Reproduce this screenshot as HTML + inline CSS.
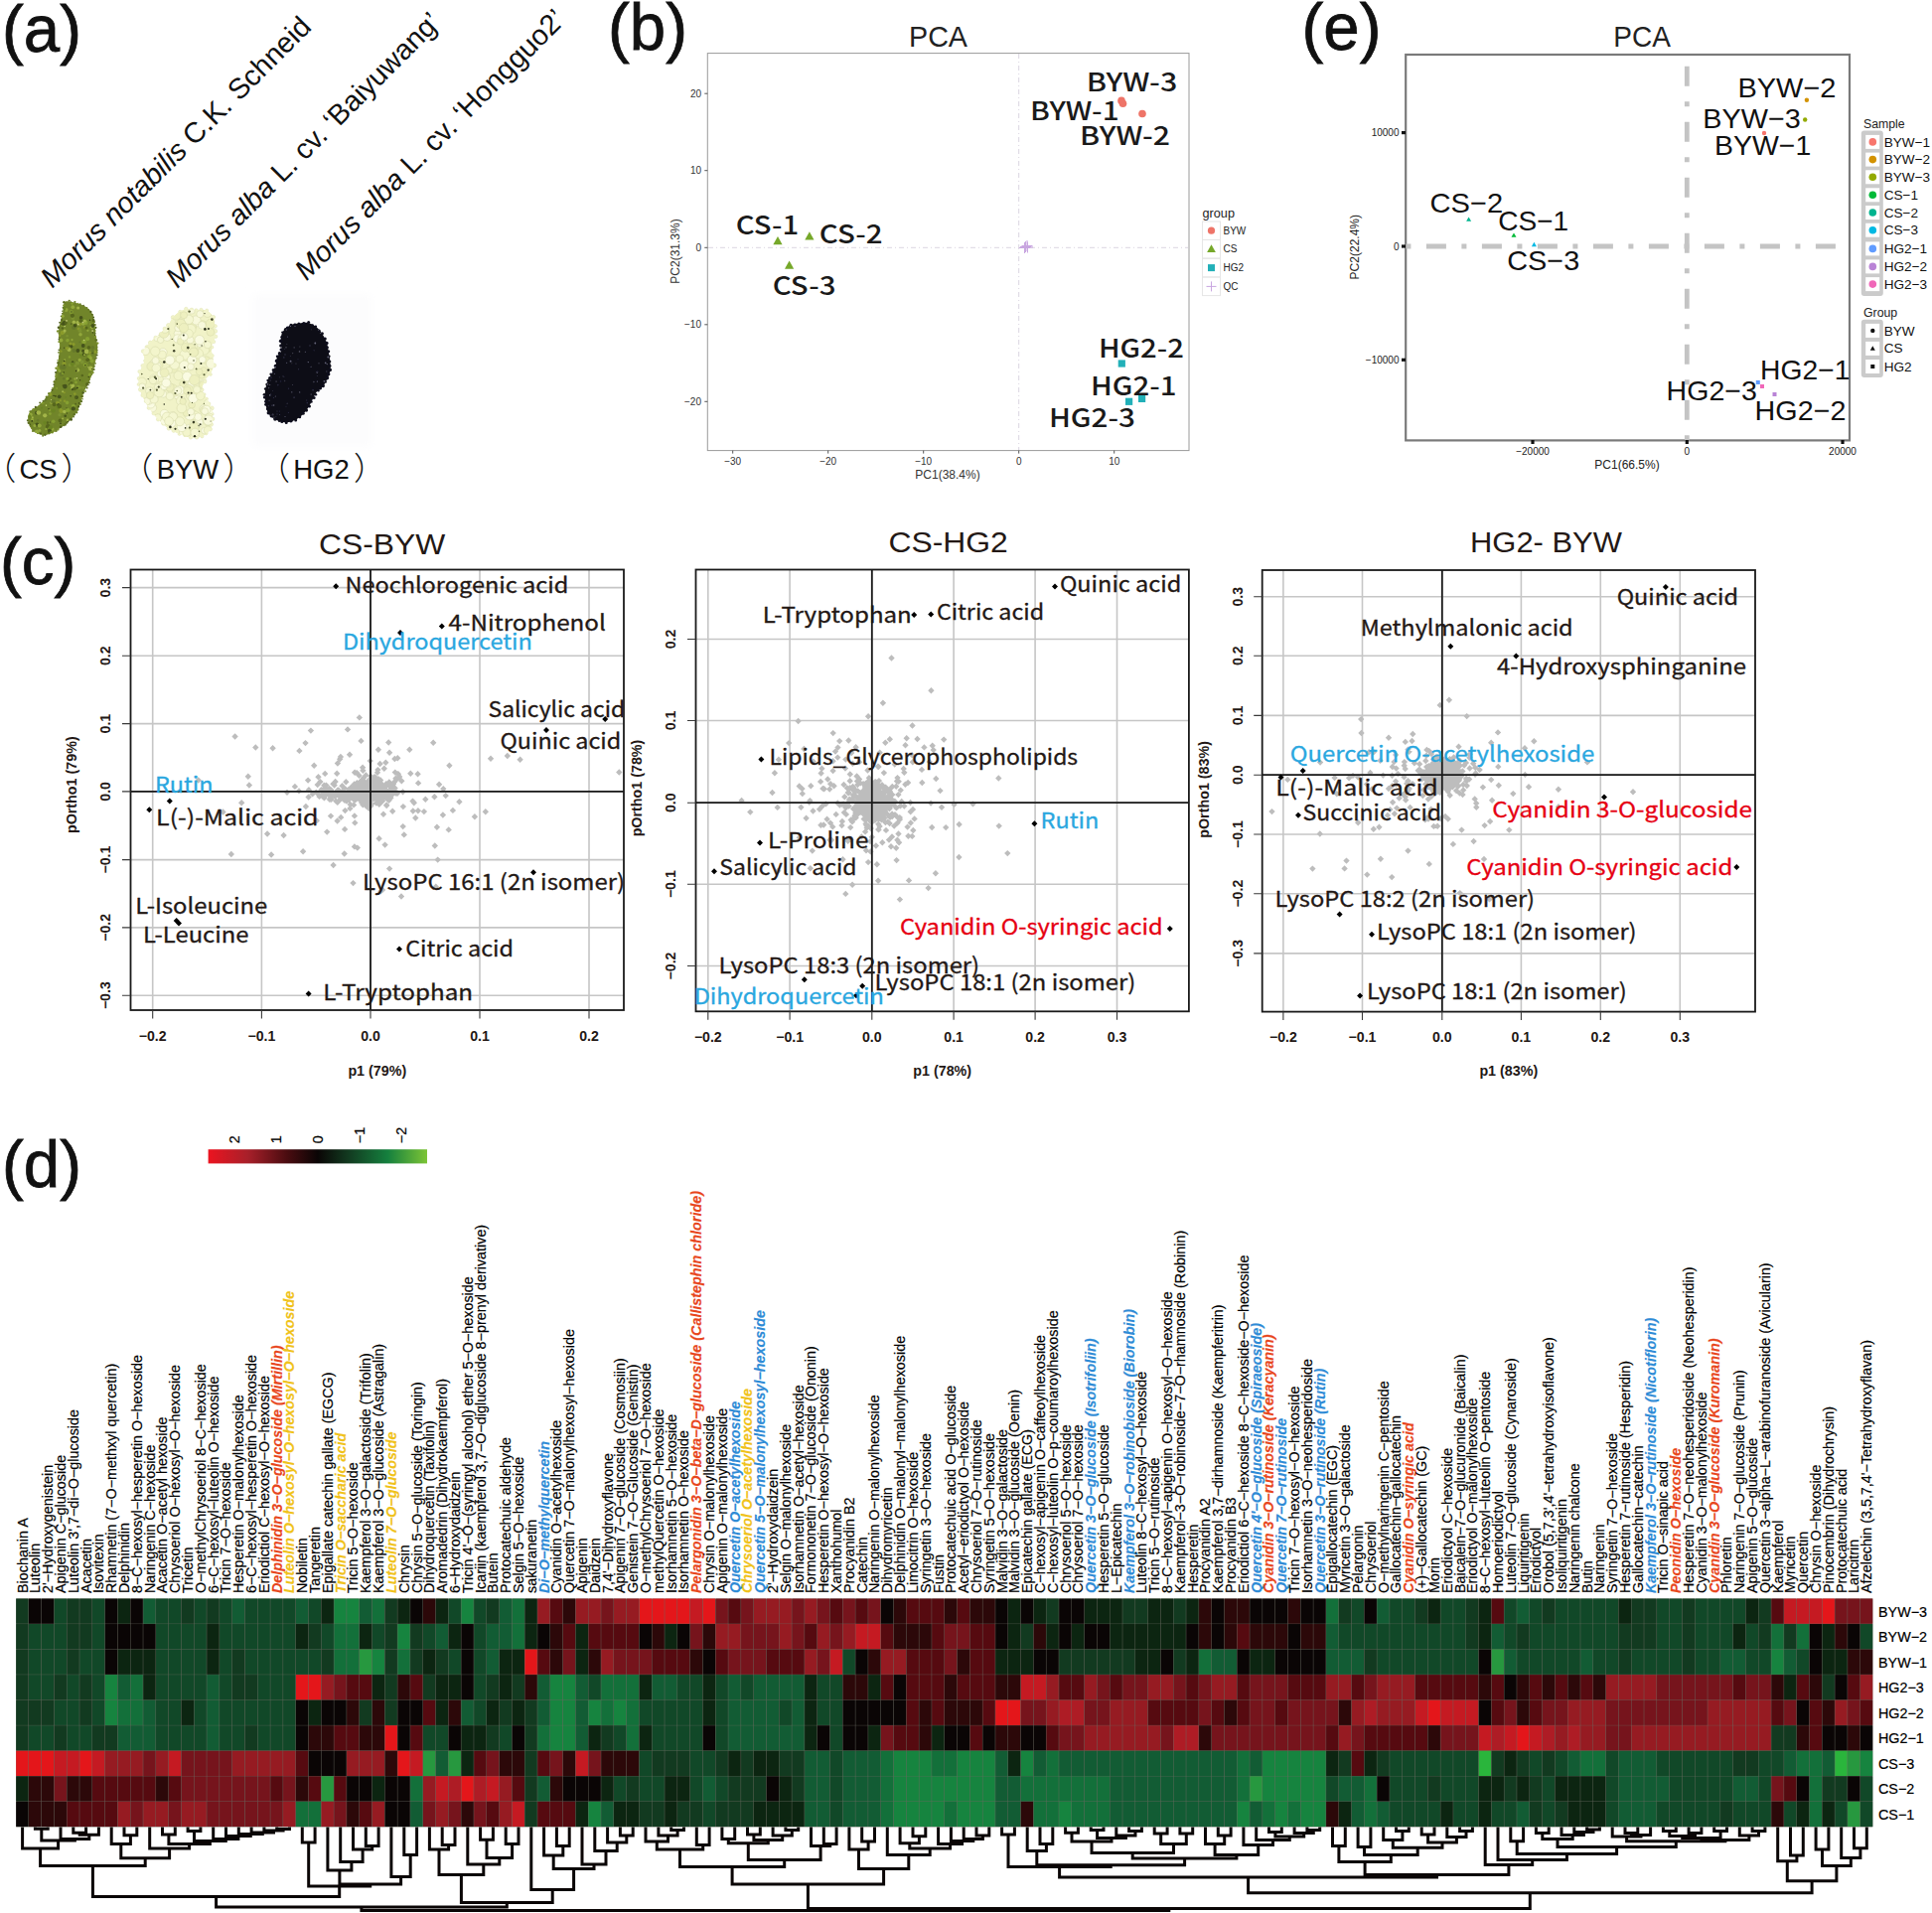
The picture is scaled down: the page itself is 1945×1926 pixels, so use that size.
<!DOCTYPE html><html><head><meta charset="utf-8"><title>Figure</title><style>html,body{margin:0;padding:0;background:#fff}svg{display:block}</style></head><body><svg width="1945" height="1926" viewBox="0 0 1945 1926"><rect width="1945" height="1926" fill="#fff"/><text transform="translate(2,52) scale(1.09,1.12)" font-family="'Liberation Sans', sans-serif" font-size="60" fill="#111" stroke="#111" stroke-width="0.7">(a)</text>
<text transform="translate(612,49.5) scale(1.09,1.12)" font-family="'Liberation Sans', sans-serif" font-size="60" fill="#111" stroke="#111" stroke-width="0.7">(b)</text>
<text transform="translate(1310.5,49.5) scale(1.09,1.12)" font-family="'Liberation Sans', sans-serif" font-size="60" fill="#111" stroke="#111" stroke-width="0.7">(e)</text>
<text transform="translate(0,588) scale(1.09,1.12)" font-family="'Liberation Sans', sans-serif" font-size="60" fill="#111" stroke="#111" stroke-width="0.7">(c)</text>
<text transform="translate(2,1195) scale(1.09,1.12)" font-family="'Liberation Sans', sans-serif" font-size="60" fill="#111" stroke="#111" stroke-width="0.7">(d)</text>
<text transform="translate(52.5,291) rotate(-45)" font-family="'Liberation Sans', sans-serif" font-size="28.9" fill="#111"><tspan font-style="italic">Morus notabilis</tspan><tspan font-style="normal"> C.K. Schneid</tspan></text>
<text transform="translate(178.5,291) rotate(-45)" font-family="'Liberation Sans', sans-serif" font-size="28.7" fill="#111"><tspan font-style="italic">Morus alba</tspan><tspan font-style="normal"> L. cv. ‘Baiyuwang’</tspan></text>
<text transform="translate(308.5,283.5) rotate(-45)" font-family="'Liberation Sans', sans-serif" font-size="28.8" fill="#111"><tspan font-style="italic">Morus alba</tspan><tspan font-style="normal"> L. cv. ‘Hongguo2’</tspan></text>
<defs><clipPath id="cpcs"><path d="M64.7,304.8C65.6,303.2 66.9,303.3 69.2,303.4C71.5,303.5 75.3,304.4 78.3,305.4C81.4,306.4 85.0,307.6 87.4,309.4C89.9,311.2 91.8,313.2 93.1,316.2C94.5,319.2 94.9,323.8 95.4,327.6C96.0,331.4 96.1,335.4 96.6,339.0C97.0,342.6 98.3,345.6 98.3,349.2C98.3,352.8 97.2,356.8 96.6,360.6C95.9,364.4 95.4,368.0 94.3,372.0C93.1,376.0 91.4,380.5 89.7,384.5C88.0,388.5 85.6,392.1 84.0,395.9C82.5,399.7 82.3,403.3 80.6,407.3C78.9,411.3 76.6,416.2 73.8,419.8C70.9,423.4 67.1,426.3 63.5,429.0C59.9,431.6 55.6,434.3 52.1,435.8C48.7,437.3 46.3,438.4 43.0,438.1C39.8,437.7 35.2,436.0 32.8,433.5C30.3,431.0 28.6,426.5 28.2,423.3C27.8,420.0 28.8,416.6 30.5,414.1C32.2,411.7 35.6,410.9 38.5,408.5C41.3,406.0 44.9,402.8 47.6,399.3C50.2,395.9 52.9,392.1 54.4,387.9C55.9,383.8 55.9,378.8 56.7,374.3C57.5,369.7 58.4,365.2 59.0,360.6C59.5,356.1 60.1,351.5 60.1,346.9C60.1,342.4 58.8,337.5 59.0,333.3C59.2,329.1 60.5,325.3 61.3,321.9C62.0,318.5 63.0,315.6 63.5,312.8C64.1,309.9 63.7,306.4 64.7,304.8Z"/></clipPath><clipPath id="cpby"><path d="M187.7,311.6C190.5,311.4 194.5,312.0 197.9,312.2C201.3,312.4 205.3,311.5 208.2,312.8C211.0,314.0 213.7,317.0 215.0,319.6C216.3,322.3 215.9,325.5 216.2,328.7C216.4,332.0 217.3,335.6 216.7,339.0C216.2,342.4 213.2,346.0 212.7,349.2C212.3,352.5 213.5,355.3 213.9,358.3C214.3,361.4 215.4,364.4 215.0,367.4C214.6,370.5 213.1,373.9 211.6,376.6C210.1,379.2 207.2,380.7 205.9,383.4C204.6,386.1 203.2,389.5 203.6,392.5C204.0,395.5 206.7,398.6 208.2,401.6C209.7,404.7 211.8,407.3 212.7,410.7C213.7,414.1 214.1,418.5 213.9,422.1C213.7,425.7 213.3,429.5 211.6,432.4C209.9,435.2 206.8,437.9 203.6,439.2C200.4,440.5 196.0,440.7 192.2,440.3C188.4,440.0 184.6,438.4 180.8,436.9C177.0,435.4 173.1,433.7 169.5,431.2C165.8,428.8 162.4,425.5 159.2,422.1C156.0,418.7 152.7,414.7 150.1,410.7C147.4,406.7 145.0,402.2 143.3,398.2C141.5,394.2 140.2,390.8 139.8,386.8C139.5,382.8 140.0,378.3 141.0,374.3C141.9,370.3 145.0,366.3 145.5,362.9C146.1,359.5 143.4,356.8 144.4,353.8C145.3,350.7 148.4,347.7 151.2,344.7C154.1,341.6 158.4,338.4 161.5,335.6C164.5,332.7 167.4,330.2 169.5,327.6C171.5,324.9 172.1,321.9 174.0,319.6C175.9,317.3 178.6,315.2 180.8,313.9C183.1,312.6 184.8,311.9 187.7,311.6Z"/></clipPath><clipPath id="cphg"><path d="M292.4,327.3C295.3,325.9 298.4,325.9 301.3,325.6C304.3,325.2 307.4,324.5 310.2,325.1C313.0,325.7 315.9,327.3 318.2,329.1C320.6,331.0 322.7,333.6 324.4,336.2C326.2,338.9 327.9,342.1 328.9,345.1C329.9,348.1 330.1,350.9 330.7,354.0C331.3,357.1 332.1,360.7 332.4,363.8C332.7,366.9 332.9,369.9 332.4,372.7C332.0,375.5 331.0,378.0 329.8,380.7C328.6,383.3 327.0,386.6 325.3,388.7C323.7,390.7 321.6,391.2 320.0,393.1C318.4,395.0 317.0,397.6 315.6,400.2C314.1,402.9 312.7,406.4 311.1,409.1C309.5,411.8 308.0,414.0 305.8,416.2C303.6,418.4 300.7,421.0 297.8,422.4C294.8,423.9 291.4,425.1 288.0,425.1C284.6,425.1 280.3,423.9 277.3,422.4C274.4,421.0 271.9,418.7 270.2,416.2C268.6,413.7 268.1,410.6 267.6,407.3C267.0,404.1 266.5,400.1 266.7,396.7C266.8,393.3 267.4,390.1 268.4,386.9C269.5,383.6 271.4,380.2 272.9,377.1C274.4,374.0 276.3,371.2 277.3,368.2C278.4,365.3 278.1,362.0 279.1,359.3C280.1,356.7 283.0,354.9 283.6,352.2C284.1,349.6 282.5,346.3 282.7,343.3C282.8,340.4 282.8,337.1 284.4,334.4C286.1,331.8 289.6,328.8 292.4,327.3Z"/></clipPath><filter id="blur1"><feGaussianBlur stdDeviation="0.7"/></filter><filter id="blur3"><feGaussianBlur stdDeviation="5"/></filter></defs>
<rect x="254" y="296" width="120" height="154" fill="#fcfcfd" filter="url(#blur3)"/>
<g filter="url(#blur1)"><path d="M64.7,304.8C65.6,303.2 66.9,303.3 69.2,303.4C71.5,303.5 75.3,304.4 78.3,305.4C81.4,306.4 85.0,307.6 87.4,309.4C89.9,311.2 91.8,313.2 93.1,316.2C94.5,319.2 94.9,323.8 95.4,327.6C96.0,331.4 96.1,335.4 96.6,339.0C97.0,342.6 98.3,345.6 98.3,349.2C98.3,352.8 97.2,356.8 96.6,360.6C95.9,364.4 95.4,368.0 94.3,372.0C93.1,376.0 91.4,380.5 89.7,384.5C88.0,388.5 85.6,392.1 84.0,395.9C82.5,399.7 82.3,403.3 80.6,407.3C78.9,411.3 76.6,416.2 73.8,419.8C70.9,423.4 67.1,426.3 63.5,429.0C59.9,431.6 55.6,434.3 52.1,435.8C48.7,437.3 46.3,438.4 43.0,438.1C39.8,437.7 35.2,436.0 32.8,433.5C30.3,431.0 28.6,426.5 28.2,423.3C27.8,420.0 28.8,416.6 30.5,414.1C32.2,411.7 35.6,410.9 38.5,408.5C41.3,406.0 44.9,402.8 47.6,399.3C50.2,395.9 52.9,392.1 54.4,387.9C55.9,383.8 55.9,378.8 56.7,374.3C57.5,369.7 58.4,365.2 59.0,360.6C59.5,356.1 60.1,351.5 60.1,346.9C60.1,342.4 58.8,337.5 59.0,333.3C59.2,329.1 60.5,325.3 61.3,321.9C62.0,318.5 63.0,315.6 63.5,312.8C64.1,309.9 63.7,306.4 64.7,304.8Z" fill="#71852a"/>
<circle cx="64.4" cy="304.2" r="1.2" fill="#5d6e22"/>
<circle cx="69.7" cy="302.8" r="1.1" fill="#6b7e28"/>
<circle cx="71.5" cy="304.0" r="0.7" fill="#5d6e22"/>
<circle cx="75.4" cy="304.0" r="1.1" fill="#6b7e28"/>
<circle cx="78.5" cy="305.5" r="0.7" fill="#7d9030"/>
<circle cx="80.7" cy="306.3" r="1.1" fill="#6b7e28"/>
<circle cx="84.1" cy="307.5" r="0.8" fill="#4e5c1e"/>
<circle cx="87.5" cy="309.7" r="0.8" fill="#6b7e28"/>
<circle cx="89.1" cy="311.7" r="0.7" fill="#5d6e22"/>
<circle cx="91.4" cy="313.9" r="1.1" fill="#4e5c1e"/>
<circle cx="93.1" cy="316.9" r="1.0" fill="#6b7e28"/>
<circle cx="94.2" cy="319.4" r="0.9" fill="#4e5c1e"/>
<circle cx="94.3" cy="322.5" r="1.2" fill="#4e5c1e"/>
<circle cx="95.0" cy="324.1" r="1.1" fill="#6b7e28"/>
<circle cx="95.8" cy="327.0" r="1.0" fill="#5d6e22"/>
<circle cx="96.4" cy="329.8" r="1.1" fill="#4e5c1e"/>
<circle cx="95.7" cy="333.0" r="1.0" fill="#7d9030"/>
<circle cx="95.6" cy="335.5" r="0.9" fill="#5d6e22"/>
<circle cx="95.9" cy="339.3" r="1.2" fill="#7d9030"/>
<circle cx="96.8" cy="342.2" r="1.2" fill="#5d6e22"/>
<circle cx="98.4" cy="345.6" r="1.1" fill="#7d9030"/>
<circle cx="97.6" cy="349.7" r="0.8" fill="#6b7e28"/>
<circle cx="97.7" cy="352.7" r="1.0" fill="#6b7e28"/>
<circle cx="97.3" cy="355.0" r="1.3" fill="#7d9030"/>
<circle cx="97.6" cy="357.4" r="1.0" fill="#4e5c1e"/>
<circle cx="96.9" cy="360.4" r="0.9" fill="#5d6e22"/>
<circle cx="95.5" cy="363.0" r="0.9" fill="#7d9030"/>
<circle cx="96.0" cy="365.8" r="0.9" fill="#6b7e28"/>
<circle cx="94.7" cy="368.9" r="1.1" fill="#6b7e28"/>
<circle cx="94.6" cy="372.0" r="1.1" fill="#5d6e22"/>
<circle cx="93.3" cy="375.1" r="1.4" fill="#7d9030"/>
<circle cx="92.3" cy="376.8" r="1.0" fill="#7d9030"/>
<circle cx="90.8" cy="378.8" r="0.8" fill="#6b7e28"/>
<circle cx="90.0" cy="382.2" r="0.8" fill="#6b7e28"/>
<circle cx="89.8" cy="385.3" r="1.1" fill="#5d6e22"/>
<circle cx="88.9" cy="387.6" r="0.8" fill="#4e5c1e"/>
<circle cx="87.6" cy="390.4" r="1.0" fill="#5d6e22"/>
<circle cx="86.0" cy="393.9" r="1.0" fill="#7d9030"/>
<circle cx="83.7" cy="395.4" r="1.2" fill="#4e5c1e"/>
<circle cx="83.1" cy="399.1" r="1.1" fill="#6b7e28"/>
<circle cx="83.0" cy="401.7" r="0.8" fill="#5d6e22"/>
<circle cx="81.9" cy="404.1" r="1.2" fill="#5d6e22"/>
<circle cx="80.9" cy="406.9" r="1.0" fill="#6b7e28"/>
<circle cx="79.0" cy="409.4" r="1.1" fill="#4e5c1e"/>
<circle cx="78.1" cy="412.5" r="1.3" fill="#6b7e28"/>
<circle cx="77.0" cy="415.3" r="1.2" fill="#6b7e28"/>
<circle cx="74.7" cy="417.3" r="1.2" fill="#5d6e22"/>
<circle cx="74.2" cy="419.8" r="0.8" fill="#4e5c1e"/>
<circle cx="71.6" cy="422.4" r="1.4" fill="#4e5c1e"/>
<circle cx="69.0" cy="422.8" r="1.0" fill="#4e5c1e"/>
<circle cx="67.2" cy="425.5" r="1.3" fill="#5d6e22"/>
<circle cx="65.5" cy="427.4" r="1.3" fill="#5d6e22"/>
<circle cx="64.1" cy="428.3" r="1.0" fill="#6b7e28"/>
<circle cx="61.2" cy="429.8" r="1.3" fill="#4e5c1e"/>
<circle cx="58.3" cy="432.4" r="1.2" fill="#7d9030"/>
<circle cx="56.5" cy="433.8" r="1.2" fill="#6b7e28"/>
<circle cx="55.2" cy="433.7" r="1.1" fill="#7d9030"/>
<circle cx="52.6" cy="435.2" r="1.3" fill="#7d9030"/>
<circle cx="49.4" cy="436.3" r="1.1" fill="#6b7e28"/>
<circle cx="45.3" cy="437.8" r="1.2" fill="#5d6e22"/>
<circle cx="43.1" cy="438.8" r="1.0" fill="#6b7e28"/>
<circle cx="41.0" cy="436.5" r="0.9" fill="#4e5c1e"/>
<circle cx="37.9" cy="436.2" r="0.9" fill="#7d9030"/>
<circle cx="35.9" cy="433.9" r="1.2" fill="#7d9030"/>
<circle cx="33.0" cy="434.0" r="1.1" fill="#6b7e28"/>
<circle cx="31.7" cy="431.0" r="0.7" fill="#7d9030"/>
<circle cx="30.9" cy="428.6" r="1.2" fill="#6b7e28"/>
<circle cx="28.8" cy="425.8" r="1.2" fill="#5d6e22"/>
<circle cx="27.9" cy="423.3" r="1.1" fill="#5d6e22"/>
<circle cx="29.6" cy="419.5" r="0.8" fill="#5d6e22"/>
<circle cx="30.2" cy="417.2" r="1.1" fill="#5d6e22"/>
<circle cx="30.4" cy="414.3" r="1.1" fill="#6b7e28"/>
<circle cx="33.5" cy="412.2" r="1.1" fill="#7d9030"/>
<circle cx="35.8" cy="409.9" r="1.1" fill="#4e5c1e"/>
<circle cx="39.2" cy="409.1" r="0.8" fill="#7d9030"/>
<circle cx="40.2" cy="405.6" r="1.0" fill="#5d6e22"/>
<circle cx="43.3" cy="403.8" r="0.8" fill="#4e5c1e"/>
<circle cx="45.8" cy="402.3" r="0.8" fill="#4e5c1e"/>
<circle cx="47.0" cy="400.0" r="1.4" fill="#6b7e28"/>
<circle cx="49.3" cy="396.4" r="1.3" fill="#6b7e28"/>
<circle cx="51.1" cy="395.3" r="0.8" fill="#7d9030"/>
<circle cx="52.5" cy="392.4" r="1.0" fill="#4e5c1e"/>
<circle cx="52.8" cy="390.6" r="0.7" fill="#7d9030"/>
<circle cx="54.3" cy="387.2" r="0.9" fill="#4e5c1e"/>
<circle cx="54.9" cy="384.5" r="1.4" fill="#6b7e28"/>
<circle cx="56.1" cy="381.9" r="0.9" fill="#5d6e22"/>
<circle cx="56.4" cy="379.2" r="1.2" fill="#7d9030"/>
<circle cx="56.8" cy="377.3" r="1.4" fill="#7d9030"/>
<circle cx="56.1" cy="375.0" r="1.1" fill="#4e5c1e"/>
<circle cx="56.5" cy="370.8" r="1.2" fill="#7d9030"/>
<circle cx="58.2" cy="368.4" r="0.7" fill="#5d6e22"/>
<circle cx="58.5" cy="365.4" r="1.3" fill="#5d6e22"/>
<circle cx="58.1" cy="362.7" r="0.7" fill="#7d9030"/>
<circle cx="59.7" cy="360.2" r="0.8" fill="#6b7e28"/>
<circle cx="59.9" cy="358.6" r="0.9" fill="#6b7e28"/>
<circle cx="59.0" cy="354.8" r="0.9" fill="#6b7e28"/>
<circle cx="59.3" cy="352.4" r="0.8" fill="#4e5c1e"/>
<circle cx="60.4" cy="350.5" r="0.7" fill="#5d6e22"/>
<circle cx="60.5" cy="347.0" r="0.8" fill="#7d9030"/>
<circle cx="59.5" cy="344.1" r="1.2" fill="#7d9030"/>
<circle cx="59.9" cy="341.6" r="1.3" fill="#4e5c1e"/>
<circle cx="59.7" cy="339.5" r="0.9" fill="#6b7e28"/>
<circle cx="59.1" cy="335.8" r="0.7" fill="#6b7e28"/>
<circle cx="58.2" cy="333.5" r="1.3" fill="#7d9030"/>
<circle cx="59.0" cy="329.8" r="1.3" fill="#4e5c1e"/>
<circle cx="60.3" cy="327.9" r="0.7" fill="#6b7e28"/>
<circle cx="60.1" cy="324.7" r="0.9" fill="#4e5c1e"/>
<circle cx="62.0" cy="322.0" r="0.9" fill="#4e5c1e"/>
<circle cx="61.6" cy="318.3" r="0.9" fill="#5d6e22"/>
<circle cx="62.7" cy="315.8" r="0.8" fill="#5d6e22"/>
<circle cx="62.9" cy="313.3" r="0.8" fill="#5d6e22"/>
<circle cx="63.7" cy="309.8" r="1.1" fill="#5d6e22"/>
<circle cx="64.4" cy="307.5" r="1.2" fill="#7d9030"/>
<g clip-path="url(#cpcs)">
<circle cx="81.8" cy="400.5" r="1.1" fill="#8a9a2c"/>
<circle cx="78.9" cy="390.0" r="2.1" fill="#86a030"/>
<circle cx="78.3" cy="372.5" r="1.9" fill="#a3b548"/>
<circle cx="85.1" cy="322.2" r="2.0" fill="#6a8424"/>
<circle cx="68.0" cy="412.9" r="2.1" fill="#86a030"/>
<circle cx="69.1" cy="423.6" r="1.0" fill="#56661e"/>
<circle cx="95.4" cy="354.1" r="1.7" fill="#8a9a2c"/>
<circle cx="72.2" cy="387.7" r="1.6" fill="#56661e"/>
<circle cx="80.6" cy="371.2" r="1.0" fill="#6a8424"/>
<circle cx="65.1" cy="403.8" r="1.3" fill="#8a9a2c"/>
<circle cx="79.3" cy="331.1" r="1.6" fill="#8a9a2c"/>
<circle cx="76.1" cy="406.7" r="1.0" fill="#56661e"/>
<circle cx="80.3" cy="344.4" r="0.9" fill="#66792a"/>
<circle cx="75.3" cy="396.6" r="1.3" fill="#8a9a2c"/>
<circle cx="64.4" cy="366.0" r="2.0" fill="#8a9a2c"/>
<circle cx="61.4" cy="342.4" r="2.0" fill="#92a83a"/>
<circle cx="94.5" cy="331.8" r="1.1" fill="#92a83a"/>
<circle cx="37.5" cy="413.9" r="1.3" fill="#6a8424"/>
<circle cx="63.1" cy="421.4" r="0.9" fill="#a3b548"/>
<circle cx="50.4" cy="416.6" r="1.4" fill="#86a030"/>
<circle cx="94.1" cy="329.8" r="2.2" fill="#86a030"/>
<circle cx="69.5" cy="352.0" r="2.0" fill="#a3b548"/>
<circle cx="88.1" cy="341.2" r="2.1" fill="#86a030"/>
<circle cx="48.2" cy="429.4" r="2.3" fill="#56661e"/>
<circle cx="81.6" cy="357.3" r="1.7" fill="#6a8424"/>
<circle cx="78.6" cy="310.1" r="1.5" fill="#a3b548"/>
<circle cx="80.9" cy="390.2" r="1.6" fill="#7c9230"/>
<circle cx="92.1" cy="377.5" r="1.6" fill="#66792a"/>
<circle cx="91.7" cy="370.4" r="1.5" fill="#56661e"/>
<circle cx="51.5" cy="405.7" r="1.1" fill="#a3b548"/>
<circle cx="68.1" cy="422.9" r="1.4" fill="#a3b548"/>
<circle cx="80.5" cy="331.7" r="1.4" fill="#7c9230"/>
<circle cx="63.5" cy="388.2" r="1.0" fill="#56661e"/>
<circle cx="91.0" cy="355.2" r="1.5" fill="#8a9a2c"/>
<circle cx="50.1" cy="413.1" r="1.1" fill="#86a030"/>
<circle cx="58.0" cy="406.3" r="2.3" fill="#8a9a2c"/>
<circle cx="65.2" cy="366.5" r="1.2" fill="#8a9a2c"/>
<circle cx="64.8" cy="395.3" r="1.0" fill="#8a9a2c"/>
<circle cx="65.2" cy="362.3" r="1.0" fill="#92a83a"/>
<circle cx="49.3" cy="430.5" r="1.4" fill="#56661e"/>
<circle cx="61.5" cy="335.0" r="0.9" fill="#56661e"/>
<circle cx="57.1" cy="390.9" r="0.9" fill="#86a030"/>
<circle cx="63.1" cy="394.2" r="1.0" fill="#a3b548"/>
<circle cx="77.0" cy="400.1" r="1.9" fill="#44521a"/>
<circle cx="42.1" cy="410.7" r="1.0" fill="#6a8424"/>
<circle cx="62.9" cy="330.4" r="1.2" fill="#56661e"/>
<circle cx="43.7" cy="405.8" r="1.1" fill="#7c9230"/>
<circle cx="71.9" cy="385.6" r="1.6" fill="#56661e"/>
<circle cx="70.0" cy="359.4" r="1.2" fill="#86a030"/>
<circle cx="59.7" cy="399.3" r="1.9" fill="#44521a"/>
<circle cx="52.8" cy="432.1" r="1.7" fill="#92a83a"/>
<circle cx="81.4" cy="354.6" r="2.1" fill="#7c9230"/>
<circle cx="61.4" cy="353.6" r="1.2" fill="#8a9a2c"/>
<circle cx="53.7" cy="424.2" r="1.8" fill="#86a030"/>
<circle cx="60.7" cy="411.6" r="1.3" fill="#86a030"/>
<circle cx="58.3" cy="369.9" r="1.2" fill="#8a9a2c"/>
<circle cx="70.8" cy="347.6" r="1.5" fill="#44521a"/>
<circle cx="83.1" cy="383.6" r="1.2" fill="#6a8424"/>
<circle cx="81.0" cy="336.7" r="1.8" fill="#92a83a"/>
<circle cx="62.0" cy="376.8" r="2.3" fill="#66792a"/>
<circle cx="77.9" cy="363.6" r="1.1" fill="#56661e"/>
<circle cx="60.5" cy="423.4" r="1.9" fill="#56661e"/>
<circle cx="36.7" cy="416.6" r="1.3" fill="#7c9230"/>
<circle cx="47.9" cy="425.6" r="1.4" fill="#56661e"/>
<circle cx="63.8" cy="334.6" r="1.8" fill="#92a83a"/>
<circle cx="61.5" cy="413.7" r="2.2" fill="#8a9a2c"/>
<circle cx="93.4" cy="353.6" r="1.5" fill="#66792a"/>
<circle cx="46.4" cy="408.1" r="1.0" fill="#86a030"/>
<circle cx="70.0" cy="386.9" r="1.0" fill="#56661e"/>
<circle cx="71.7" cy="313.9" r="2.0" fill="#86a030"/>
<circle cx="66.6" cy="312.0" r="2.0" fill="#92a83a"/>
<circle cx="74.7" cy="324.2" r="1.0" fill="#6a8424"/>
<circle cx="49.8" cy="431.8" r="1.9" fill="#7c9230"/>
<circle cx="90.1" cy="359.2" r="2.1" fill="#86a030"/>
<circle cx="91.4" cy="360.5" r="1.5" fill="#92a83a"/>
<circle cx="90.1" cy="365.5" r="1.1" fill="#66792a"/>
<circle cx="84.7" cy="356.8" r="1.9" fill="#44521a"/>
<circle cx="84.6" cy="344.0" r="2.3" fill="#86a030"/>
<circle cx="93.1" cy="355.7" r="1.8" fill="#66792a"/>
<circle cx="88.2" cy="387.0" r="2.1" fill="#56661e"/>
<circle cx="67.6" cy="405.4" r="1.8" fill="#86a030"/>
<circle cx="60.1" cy="417.7" r="1.8" fill="#7c9230"/>
<circle cx="63.5" cy="327.5" r="1.8" fill="#86a030"/>
<circle cx="62.5" cy="335.1" r="2.1" fill="#8a9a2c"/>
<circle cx="85.0" cy="357.3" r="1.1" fill="#92a83a"/>
<circle cx="59.2" cy="372.1" r="1.0" fill="#86a030"/>
<circle cx="37.3" cy="427.6" r="2.0" fill="#44521a"/>
<circle cx="64.1" cy="310.7" r="2.2" fill="#6a8424"/>
<circle cx="73.9" cy="409.0" r="2.1" fill="#86a030"/>
<circle cx="85.3" cy="329.5" r="1.3" fill="#8a9a2c"/>
<circle cx="76.3" cy="400.5" r="1.0" fill="#56661e"/>
<circle cx="52.8" cy="405.2" r="1.4" fill="#66792a"/>
<circle cx="60.2" cy="337.7" r="1.2" fill="#8a9a2c"/>
<circle cx="90.9" cy="326.2" r="1.1" fill="#7c9230"/>
<circle cx="65.4" cy="389.1" r="2.3" fill="#44521a"/>
<circle cx="60.0" cy="373.6" r="1.3" fill="#92a83a"/>
<circle cx="65.7" cy="418.8" r="1.3" fill="#44521a"/>
<circle cx="53.5" cy="406.4" r="1.2" fill="#8a9a2c"/>
<circle cx="49.9" cy="433.5" r="1.9" fill="#44521a"/>
<circle cx="80.6" cy="333.3" r="1.8" fill="#7c9230"/>
<circle cx="58.5" cy="372.5" r="1.1" fill="#86a030"/>
<circle cx="69.1" cy="382.7" r="1.4" fill="#56661e"/>
<circle cx="86.3" cy="324.8" r="2.2" fill="#86a030"/>
<circle cx="67.6" cy="350.6" r="1.7" fill="#8a9a2c"/>
<circle cx="64.5" cy="369.8" r="2.2" fill="#66792a"/>
<circle cx="94.1" cy="322.6" r="1.6" fill="#56661e"/>
<circle cx="73.2" cy="390.6" r="2.0" fill="#a3b548"/>
<circle cx="60.8" cy="403.3" r="1.1" fill="#8a9a2c"/>
<circle cx="73.3" cy="320.0" r="1.9" fill="#7c9230"/>
<circle cx="58.8" cy="409.6" r="2.3" fill="#6a8424"/>
<circle cx="48.9" cy="428.4" r="1.0" fill="#56661e"/>
<circle cx="63.8" cy="326.3" r="2.1" fill="#56661e"/>
<circle cx="92.3" cy="329.3" r="1.4" fill="#a3b548"/>
<circle cx="45.0" cy="425.6" r="1.6" fill="#6a8424"/>
<circle cx="88.3" cy="362.3" r="1.7" fill="#56661e"/>
<circle cx="71.8" cy="313.9" r="1.1" fill="#66792a"/>
<circle cx="93.3" cy="349.9" r="1.9" fill="#66792a"/>
<circle cx="73.3" cy="309.2" r="1.9" fill="#92a83a"/>
<circle cx="53.7" cy="413.5" r="2.1" fill="#6a8424"/>
<circle cx="32.8" cy="420.3" r="1.0" fill="#a3b548"/>
<circle cx="30.6" cy="417.6" r="2.1" fill="#92a83a"/>
<circle cx="72.5" cy="342.1" r="1.1" fill="#92a83a"/>
<circle cx="83.7" cy="390.4" r="1.3" fill="#7c9230"/>
<circle cx="78.4" cy="353.0" r="2.0" fill="#44521a"/>
<circle cx="70.4" cy="367.5" r="1.8" fill="#7c9230"/>
<circle cx="58.8" cy="407.5" r="1.6" fill="#44521a"/>
<circle cx="68.5" cy="342.1" r="0.9" fill="#a3b548"/>
<circle cx="42.4" cy="406.0" r="0.9" fill="#86a030"/>
<circle cx="62.6" cy="369.6" r="2.3" fill="#66792a"/>
<circle cx="64.3" cy="381.3" r="1.3" fill="#66792a"/>
<circle cx="63.1" cy="318.2" r="1.6" fill="#92a83a"/>
<circle cx="34.9" cy="428.4" r="1.5" fill="#92a83a"/>
<circle cx="73.5" cy="353.5" r="1.3" fill="#7c9230"/>
<circle cx="91.3" cy="370.9" r="2.3" fill="#a3b548"/>
<circle cx="76.5" cy="384.9" r="1.4" fill="#86a030"/>
<circle cx="80.2" cy="326.3" r="1.9" fill="#8a9a2c"/>
<circle cx="77.0" cy="371.8" r="1.3" fill="#7c9230"/>
<circle cx="64.8" cy="325.1" r="2.2" fill="#44521a"/>
<circle cx="46.3" cy="432.0" r="1.1" fill="#92a83a"/>
<circle cx="74.3" cy="329.7" r="2.3" fill="#66792a"/>
<circle cx="72.9" cy="317.8" r="2.1" fill="#56661e"/>
<circle cx="88.1" cy="362.2" r="1.6" fill="#56661e"/>
<circle cx="72.5" cy="365.8" r="1.3" fill="#66792a"/>
<circle cx="45.2" cy="418.3" r="2.1" fill="#a3b548"/>
<circle cx="75.0" cy="391.3" r="1.9" fill="#56661e"/>
<circle cx="73.2" cy="364.5" r="1.3" fill="#44521a"/>
<circle cx="78.1" cy="324.5" r="1.6" fill="#a3b548"/>
<circle cx="29.6" cy="419.0" r="1.8" fill="#6a8424"/>
<circle cx="93.4" cy="328.1" r="2.0" fill="#44521a"/>
<circle cx="66.3" cy="325.1" r="1.6" fill="#56661e"/>
<circle cx="66.1" cy="400.0" r="0.9" fill="#6a8424"/>
<circle cx="83.7" cy="353.2" r="1.5" fill="#44521a"/>
<circle cx="94.6" cy="331.7" r="1.4" fill="#66792a"/>
<circle cx="81.6" cy="319.9" r="1.8" fill="#44521a"/>
<circle cx="75.5" cy="381.5" r="1.2" fill="#92a83a"/>
<circle cx="65.1" cy="332.9" r="1.5" fill="#a3b548"/>
<circle cx="39.7" cy="428.6" r="2.0" fill="#92a83a"/>
<circle cx="72.7" cy="366.6" r="1.9" fill="#6a8424"/>
<circle cx="85.3" cy="323.1" r="1.6" fill="#a3b548"/>
<circle cx="37.0" cy="415.7" r="2.0" fill="#44521a"/>
<circle cx="75.8" cy="368.3" r="1.4" fill="#7c9230"/>
<circle cx="74.1" cy="346.6" r="1.5" fill="#8a9a2c"/>
<circle cx="72.9" cy="392.2" r="1.1" fill="#44521a"/>
<circle cx="51.0" cy="430.3" r="2.1" fill="#6a8424"/>
<circle cx="72.6" cy="305.5" r="1.2" fill="#86a030"/>
<circle cx="70.8" cy="381.3" r="1.2" fill="#56661e"/>
<circle cx="59.9" cy="409.1" r="2.2" fill="#56661e"/>
<circle cx="83.7" cy="326.0" r="1.8" fill="#92a83a"/>
<circle cx="87.0" cy="330.0" r="1.6" fill="#56661e"/>
<circle cx="80.2" cy="362.5" r="1.7" fill="#92a83a"/>
<circle cx="63.1" cy="376.1" r="1.1" fill="#86a030"/>
<circle cx="50.7" cy="397.1" r="1.8" fill="#8a9a2c"/>
<circle cx="87.1" cy="353.9" r="2.3" fill="#a3b548"/>
<circle cx="75.6" cy="327.7" r="1.8" fill="#44521a"/>
<circle cx="51.4" cy="435.6" r="1.6" fill="#6a8424"/>
<circle cx="81.3" cy="322.9" r="1.9" fill="#56661e"/>
<circle cx="72.0" cy="349.0" r="1.4" fill="#44521a"/>
<circle cx="82.8" cy="378.0" r="1.3" fill="#56661e"/>
<circle cx="89.4" cy="349.9" r="1.8" fill="#56661e"/>
<circle cx="83.7" cy="348.0" r="1.9" fill="#44521a"/>
<circle cx="37.2" cy="434.4" r="2.0" fill="#92a83a"/>
<circle cx="90.3" cy="376.9" r="1.5" fill="#86a030"/>
<circle cx="85.8" cy="367.4" r="2.0" fill="#86a030"/>
<circle cx="71.4" cy="387.8" r="1.2" fill="#92a83a"/>
<circle cx="74.9" cy="365.1" r="1.0" fill="#66792a"/>
<circle cx="74.2" cy="353.1" r="2.0" fill="#66792a"/>
<circle cx="67.6" cy="338.2" r="1.2" fill="#7c9230"/>
<circle cx="67.9" cy="381.3" r="1.6" fill="#86a030"/>
<circle cx="64.8" cy="414.5" r="1.7" fill="#a3b548"/>
<circle cx="92.6" cy="363.5" r="1.9" fill="#86a030"/>
<circle cx="74.4" cy="324.3" r="1.7" fill="#a3b548"/>
<circle cx="88.4" cy="332.8" r="1.1" fill="#92a83a"/>
<circle cx="45.2" cy="402.2" r="2.2" fill="#66792a"/>
<circle cx="53.9" cy="404.0" r="1.9" fill="#66792a"/>
<circle cx="77.9" cy="365.4" r="2.2" fill="#7c9230"/>
<circle cx="32.5" cy="422.4" r="1.4" fill="#92a83a"/>
<circle cx="70.9" cy="346.0" r="1.6" fill="#8a9a2c"/>
<circle cx="39.9" cy="433.5" r="1.4" fill="#92a83a"/>
<circle cx="73.4" cy="388.2" r="1.6" fill="#a3b548"/>
<circle cx="82.7" cy="364.4" r="2.0" fill="#7c9230"/>
<circle cx="67.9" cy="342.8" r="1.8" fill="#86a030"/>
<circle cx="73.8" cy="411.4" r="2.1" fill="#44521a"/>
<circle cx="38.8" cy="415.5" r="2.3" fill="#a3b548"/>
<circle cx="54.6" cy="407.3" r="2.0" fill="#56661e"/>
<circle cx="69.3" cy="413.3" r="1.3" fill="#86a030"/>
<circle cx="38.1" cy="423.3" r="1.3" fill="#66792a"/>
<circle cx="67.0" cy="410.8" r="0.6" fill="#3a4416"/>
<circle cx="93.5" cy="334.9" r="0.7" fill="#3a4416"/>
<circle cx="55.9" cy="398.8" r="0.9" fill="#3a4416"/>
<circle cx="64.8" cy="367.6" r="0.7" fill="#2e3612"/>
<circle cx="84.7" cy="342.5" r="0.7" fill="#c8d080"/>
<circle cx="83.4" cy="324.5" r="0.7" fill="#c8d080"/>
<circle cx="89.2" cy="379.6" r="0.7" fill="#2e3612"/>
<circle cx="46.5" cy="408.3" r="0.7" fill="#c8d080"/>
<circle cx="95.7" cy="337.6" r="0.5" fill="#2e3612"/>
<circle cx="54.1" cy="398.4" r="0.7" fill="#2e3612"/>
<circle cx="92.7" cy="371.6" r="0.6" fill="#2e3612"/>
<circle cx="78.7" cy="326.6" r="0.9" fill="#c8d080"/>
<circle cx="30.2" cy="427.2" r="0.6" fill="#3a4416"/>
<circle cx="77.9" cy="390.5" r="0.9" fill="#2e3612"/>
<circle cx="80.6" cy="382.8" r="0.7" fill="#3a4416"/>
<circle cx="61.9" cy="326.1" r="0.6" fill="#2e3612"/>
<circle cx="61.0" cy="426.3" r="0.8" fill="#2e3612"/>
<circle cx="93.2" cy="333.1" r="0.9" fill="#c8d080"/>
<circle cx="90.5" cy="322.3" r="0.7" fill="#2e3612"/>
<circle cx="93.1" cy="355.3" r="0.5" fill="#2e3612"/>
<circle cx="85.9" cy="367.7" r="0.8" fill="#2e3612"/>
<circle cx="51.5" cy="402.5" r="0.6" fill="#c8d080"/>
<circle cx="67.0" cy="322.9" r="0.8" fill="#c8d080"/>
<circle cx="49.0" cy="411.7" r="0.6" fill="#2e3612"/>
<circle cx="50.5" cy="425.0" r="0.5" fill="#3a4416"/>
<circle cx="32.2" cy="423.9" r="0.8" fill="#2e3612"/>
<circle cx="67.4" cy="415.9" r="0.5" fill="#2e3612"/>
<circle cx="96.2" cy="361.6" r="0.6" fill="#2e3612"/>
<circle cx="93.0" cy="316.6" r="0.6" fill="#2e3612"/>
<circle cx="48.8" cy="435.2" r="0.5" fill="#3a4416"/>
<circle cx="65.1" cy="328.5" r="0.7" fill="#c8d080"/>
<circle cx="82.2" cy="399.2" r="0.6" fill="#2e3612"/>
<circle cx="79.4" cy="405.9" r="0.6" fill="#2e3612"/>
<circle cx="71.1" cy="398.7" r="0.8" fill="#3a4416"/>
<circle cx="76.7" cy="373.4" r="0.8" fill="#2e3612"/>
<circle cx="64.5" cy="350.2" r="0.6" fill="#3a4416"/>
<circle cx="88.8" cy="369.8" r="0.5" fill="#c8d080"/>
<circle cx="77.4" cy="380.8" r="0.8" fill="#c8d080"/>
<circle cx="64.6" cy="363.5" r="0.7" fill="#2e3612"/>
<circle cx="68.6" cy="424.3" r="0.6" fill="#2e3612"/>
<circle cx="64.2" cy="374.9" r="0.7" fill="#2e3612"/>
<circle cx="71.6" cy="326.0" r="0.6" fill="#3a4416"/>
</g></g>
<g filter="url(#blur1)"><path d="M187.7,311.6C190.5,311.4 194.5,312.0 197.9,312.2C201.3,312.4 205.3,311.5 208.2,312.8C211.0,314.0 213.7,317.0 215.0,319.6C216.3,322.3 215.9,325.5 216.2,328.7C216.4,332.0 217.3,335.6 216.7,339.0C216.2,342.4 213.2,346.0 212.7,349.2C212.3,352.5 213.5,355.3 213.9,358.3C214.3,361.4 215.4,364.4 215.0,367.4C214.6,370.5 213.1,373.9 211.6,376.6C210.1,379.2 207.2,380.7 205.9,383.4C204.6,386.1 203.2,389.5 203.6,392.5C204.0,395.5 206.7,398.6 208.2,401.6C209.7,404.7 211.8,407.3 212.7,410.7C213.7,414.1 214.1,418.5 213.9,422.1C213.7,425.7 213.3,429.5 211.6,432.4C209.9,435.2 206.8,437.9 203.6,439.2C200.4,440.5 196.0,440.7 192.2,440.3C188.4,440.0 184.6,438.4 180.8,436.9C177.0,435.4 173.1,433.7 169.5,431.2C165.8,428.8 162.4,425.5 159.2,422.1C156.0,418.7 152.7,414.7 150.1,410.7C147.4,406.7 145.0,402.2 143.3,398.2C141.5,394.2 140.2,390.8 139.8,386.8C139.5,382.8 140.0,378.3 141.0,374.3C141.9,370.3 145.0,366.3 145.5,362.9C146.1,359.5 143.4,356.8 144.4,353.8C145.3,350.7 148.4,347.7 151.2,344.7C154.1,341.6 158.4,338.4 161.5,335.6C164.5,332.7 167.4,330.2 169.5,327.6C171.5,324.9 172.1,321.9 174.0,319.6C175.9,317.3 178.6,315.2 180.8,313.9C183.1,312.6 184.8,311.9 187.7,311.6Z" fill="#f1f3c8"/>
<circle cx="187.3" cy="311.1" r="1.8" fill="#f3f5cc" stroke="#dfe2b4" stroke-width="0.5"/>
<circle cx="192.9" cy="312.0" r="1.9" fill="#f3f5cc" stroke="#dfe2b4" stroke-width="0.5"/>
<circle cx="197.5" cy="312.7" r="1.9" fill="#f3f5cc" stroke="#dfe2b4" stroke-width="0.5"/>
<circle cx="202.5" cy="312.0" r="1.7" fill="#f3f5cc" stroke="#dfe2b4" stroke-width="0.5"/>
<circle cx="208.2" cy="312.5" r="1.5" fill="#f3f5cc" stroke="#dfe2b4" stroke-width="0.5"/>
<circle cx="214.9" cy="319.2" r="1.8" fill="#f3f5cc" stroke="#dfe2b4" stroke-width="0.5"/>
<circle cx="216.6" cy="328.3" r="1.8" fill="#f3f5cc" stroke="#dfe2b4" stroke-width="0.5"/>
<circle cx="216.7" cy="333.4" r="2.0" fill="#f3f5cc" stroke="#dfe2b4" stroke-width="0.5"/>
<circle cx="217.2" cy="338.8" r="1.7" fill="#f3f5cc" stroke="#dfe2b4" stroke-width="0.5"/>
<circle cx="215.1" cy="344.1" r="1.7" fill="#f3f5cc" stroke="#dfe2b4" stroke-width="0.5"/>
<circle cx="213.3" cy="349.6" r="1.6" fill="#f3f5cc" stroke="#dfe2b4" stroke-width="0.5"/>
<circle cx="213.6" cy="358.1" r="1.7" fill="#f3f5cc" stroke="#dfe2b4" stroke-width="0.5"/>
<circle cx="215.6" cy="367.8" r="2.0" fill="#f3f5cc" stroke="#dfe2b4" stroke-width="0.5"/>
<circle cx="212.0" cy="377.0" r="1.4" fill="#f3f5cc" stroke="#dfe2b4" stroke-width="0.5"/>
<circle cx="205.9" cy="383.9" r="2.1" fill="#f3f5cc" stroke="#dfe2b4" stroke-width="0.5"/>
<circle cx="203.3" cy="392.4" r="1.8" fill="#f3f5cc" stroke="#dfe2b4" stroke-width="0.5"/>
<circle cx="205.7" cy="397.1" r="1.4" fill="#f3f5cc" stroke="#dfe2b4" stroke-width="0.5"/>
<circle cx="208.1" cy="401.6" r="1.4" fill="#f3f5cc" stroke="#dfe2b4" stroke-width="0.5"/>
<circle cx="210.0" cy="406.7" r="1.9" fill="#f3f5cc" stroke="#dfe2b4" stroke-width="0.5"/>
<circle cx="213.3" cy="410.9" r="2.0" fill="#f3f5cc" stroke="#dfe2b4" stroke-width="0.5"/>
<circle cx="213.8" cy="416.9" r="1.4" fill="#f3f5cc" stroke="#dfe2b4" stroke-width="0.5"/>
<circle cx="214.0" cy="421.8" r="1.9" fill="#f3f5cc" stroke="#dfe2b4" stroke-width="0.5"/>
<circle cx="212.5" cy="427.3" r="2.0" fill="#f3f5cc" stroke="#dfe2b4" stroke-width="0.5"/>
<circle cx="211.7" cy="432.1" r="1.8" fill="#f3f5cc" stroke="#dfe2b4" stroke-width="0.5"/>
<circle cx="207.5" cy="436.3" r="1.6" fill="#f3f5cc" stroke="#dfe2b4" stroke-width="0.5"/>
<circle cx="203.4" cy="439.4" r="1.5" fill="#f3f5cc" stroke="#dfe2b4" stroke-width="0.5"/>
<circle cx="198.0" cy="440.3" r="1.8" fill="#f3f5cc" stroke="#dfe2b4" stroke-width="0.5"/>
<circle cx="192.0" cy="440.3" r="1.8" fill="#f3f5cc" stroke="#dfe2b4" stroke-width="0.5"/>
<circle cx="186.1" cy="438.2" r="1.5" fill="#f3f5cc" stroke="#dfe2b4" stroke-width="0.5"/>
<circle cx="180.6" cy="436.8" r="1.6" fill="#f3f5cc" stroke="#dfe2b4" stroke-width="0.5"/>
<circle cx="174.8" cy="433.6" r="1.8" fill="#f3f5cc" stroke="#dfe2b4" stroke-width="0.5"/>
<circle cx="169.9" cy="431.4" r="1.8" fill="#f3f5cc" stroke="#dfe2b4" stroke-width="0.5"/>
<circle cx="164.5" cy="426.3" r="1.9" fill="#f3f5cc" stroke="#dfe2b4" stroke-width="0.5"/>
<circle cx="159.2" cy="422.2" r="1.8" fill="#f3f5cc" stroke="#dfe2b4" stroke-width="0.5"/>
<circle cx="154.6" cy="416.2" r="1.6" fill="#f3f5cc" stroke="#dfe2b4" stroke-width="0.5"/>
<circle cx="149.8" cy="410.7" r="1.7" fill="#f3f5cc" stroke="#dfe2b4" stroke-width="0.5"/>
<circle cx="146.8" cy="403.9" r="1.6" fill="#f3f5cc" stroke="#dfe2b4" stroke-width="0.5"/>
<circle cx="143.7" cy="397.9" r="1.8" fill="#f3f5cc" stroke="#dfe2b4" stroke-width="0.5"/>
<circle cx="141.5" cy="392.2" r="2.1" fill="#f3f5cc" stroke="#dfe2b4" stroke-width="0.5"/>
<circle cx="139.6" cy="387.1" r="1.5" fill="#f3f5cc" stroke="#dfe2b4" stroke-width="0.5"/>
<circle cx="139.9" cy="381.0" r="1.7" fill="#f3f5cc" stroke="#dfe2b4" stroke-width="0.5"/>
<circle cx="140.5" cy="374.1" r="1.7" fill="#f3f5cc" stroke="#dfe2b4" stroke-width="0.5"/>
<circle cx="143.5" cy="368.1" r="1.6" fill="#f3f5cc" stroke="#dfe2b4" stroke-width="0.5"/>
<circle cx="146.1" cy="363.2" r="1.5" fill="#f3f5cc" stroke="#dfe2b4" stroke-width="0.5"/>
<circle cx="144.2" cy="353.6" r="1.9" fill="#f3f5cc" stroke="#dfe2b4" stroke-width="0.5"/>
<circle cx="148.0" cy="349.6" r="2.0" fill="#f3f5cc" stroke="#dfe2b4" stroke-width="0.5"/>
<circle cx="151.3" cy="345.0" r="1.9" fill="#f3f5cc" stroke="#dfe2b4" stroke-width="0.5"/>
<circle cx="156.7" cy="340.1" r="1.9" fill="#f3f5cc" stroke="#dfe2b4" stroke-width="0.5"/>
<circle cx="161.7" cy="336.1" r="1.5" fill="#f3f5cc" stroke="#dfe2b4" stroke-width="0.5"/>
<circle cx="165.9" cy="331.0" r="1.9" fill="#f3f5cc" stroke="#dfe2b4" stroke-width="0.5"/>
<circle cx="169.6" cy="327.6" r="2.1" fill="#f3f5cc" stroke="#dfe2b4" stroke-width="0.5"/>
<circle cx="174.1" cy="319.5" r="1.9" fill="#f3f5cc" stroke="#dfe2b4" stroke-width="0.5"/>
<circle cx="181.3" cy="314.0" r="1.7" fill="#f3f5cc" stroke="#dfe2b4" stroke-width="0.5"/>
<path d="M187.7,311.6C190.5,311.4 194.5,312.0 197.9,312.2C201.3,312.4 205.3,311.5 208.2,312.8C211.0,314.0 213.7,317.0 215.0,319.6C216.3,322.3 215.9,325.5 216.2,328.7C216.4,332.0 217.3,335.6 216.7,339.0C216.2,342.4 213.2,346.0 212.7,349.2C212.3,352.5 213.5,355.3 213.9,358.3C214.3,361.4 215.4,364.4 215.0,367.4C214.6,370.5 213.1,373.9 211.6,376.6C210.1,379.2 207.2,380.7 205.9,383.4C204.6,386.1 203.2,389.5 203.6,392.5C204.0,395.5 206.7,398.6 208.2,401.6C209.7,404.7 211.8,407.3 212.7,410.7C213.7,414.1 214.1,418.5 213.9,422.1C213.7,425.7 213.3,429.5 211.6,432.4C209.9,435.2 206.8,437.9 203.6,439.2C200.4,440.5 196.0,440.7 192.2,440.3C188.4,440.0 184.6,438.4 180.8,436.9C177.0,435.4 173.1,433.7 169.5,431.2C165.8,428.8 162.4,425.5 159.2,422.1C156.0,418.7 152.7,414.7 150.1,410.7C147.4,406.7 145.0,402.2 143.3,398.2C141.5,394.2 140.2,390.8 139.8,386.8C139.5,382.8 140.0,378.3 141.0,374.3C141.9,370.3 145.0,366.3 145.5,362.9C146.1,359.5 143.4,356.8 144.4,353.8C145.3,350.7 148.4,347.7 151.2,344.7C154.1,341.6 158.4,338.4 161.5,335.6C164.5,332.7 167.4,330.2 169.5,327.6C171.5,324.9 172.1,321.9 174.0,319.6C175.9,317.3 178.6,315.2 180.8,313.9C183.1,312.6 184.8,311.9 187.7,311.6Z" fill="#f1f3c8"/>
<g clip-path="url(#cpby)">
<circle cx="174.6" cy="370.6" r="4.6" fill="#eef0c0" stroke="#dadeae" stroke-width="0.6"/>
<circle cx="167.0" cy="379.4" r="4.4" fill="#eef0c0" stroke="#dadeae" stroke-width="0.6"/>
<circle cx="162.9" cy="380.7" r="4.8" fill="#f3f5cc" stroke="#dadeae" stroke-width="0.6"/>
<circle cx="184.1" cy="386.5" r="3.4" fill="#eef0c0" stroke="#dadeae" stroke-width="0.6"/>
<circle cx="164.7" cy="420.2" r="4.9" fill="#eef0c0" stroke="#dadeae" stroke-width="0.6"/>
<circle cx="155.5" cy="366.5" r="5.0" fill="#f5f7d2" stroke="#dadeae" stroke-width="0.6"/>
<circle cx="208.7" cy="350.2" r="4.3" fill="#eef0c0" stroke="#dadeae" stroke-width="0.6"/>
<circle cx="179.6" cy="378.2" r="4.6" fill="#f3f5cc" stroke="#dadeae" stroke-width="0.6"/>
<circle cx="191.8" cy="370.0" r="3.2" fill="#f5f7d2" stroke="#dadeae" stroke-width="0.6"/>
<circle cx="180.2" cy="324.4" r="3.9" fill="#f3f5cc" stroke="#dadeae" stroke-width="0.6"/>
<circle cx="189.7" cy="431.1" r="3.5" fill="#fafbe2" stroke="#dadeae" stroke-width="0.6"/>
<circle cx="173.7" cy="392.0" r="5.2" fill="#eef0c0" stroke="#dadeae" stroke-width="0.6"/>
<circle cx="193.0" cy="407.7" r="3.4" fill="#eef0c0" stroke="#dadeae" stroke-width="0.6"/>
<circle cx="203.3" cy="377.6" r="3.4" fill="#eef0c0" stroke="#dadeae" stroke-width="0.6"/>
<circle cx="192.9" cy="417.2" r="5.2" fill="#f3f5cc" stroke="#dadeae" stroke-width="0.6"/>
<circle cx="188.4" cy="379.1" r="4.8" fill="#fafbe2" stroke="#dadeae" stroke-width="0.6"/>
<circle cx="178.7" cy="335.8" r="3.6" fill="#f8f9dc" stroke="#dadeae" stroke-width="0.6"/>
<circle cx="186.2" cy="357.1" r="5.2" fill="#f5f7d2" stroke="#dadeae" stroke-width="0.6"/>
<circle cx="193.0" cy="313.0" r="3.2" fill="#f8f9dc" stroke="#dadeae" stroke-width="0.6"/>
<circle cx="204.6" cy="387.1" r="4.5" fill="#fafbe2" stroke="#dadeae" stroke-width="0.6"/>
<circle cx="153.3" cy="410.6" r="4.3" fill="#f8f9dc" stroke="#dadeae" stroke-width="0.6"/>
<circle cx="179.4" cy="330.1" r="3.6" fill="#f8f9dc" stroke="#dadeae" stroke-width="0.6"/>
<circle cx="198.2" cy="325.4" r="3.4" fill="#fafbe2" stroke="#dadeae" stroke-width="0.6"/>
<circle cx="175.8" cy="367.1" r="4.8" fill="#f5f7d2" stroke="#dadeae" stroke-width="0.6"/>
<circle cx="192.5" cy="386.1" r="3.5" fill="#fafbe2" stroke="#dadeae" stroke-width="0.6"/>
<circle cx="167.0" cy="333.4" r="3.7" fill="#f5f7d2" stroke="#dadeae" stroke-width="0.6"/>
<circle cx="205.9" cy="433.6" r="3.3" fill="#fafbe2" stroke="#dadeae" stroke-width="0.6"/>
<circle cx="174.4" cy="361.3" r="3.3" fill="#f3f5cc" stroke="#dadeae" stroke-width="0.6"/>
<circle cx="184.6" cy="435.1" r="4.1" fill="#f8f9dc" stroke="#dadeae" stroke-width="0.6"/>
<circle cx="158.2" cy="340.3" r="3.5" fill="#f8f9dc" stroke="#dadeae" stroke-width="0.6"/>
<circle cx="205.6" cy="352.2" r="5.0" fill="#f3f5cc" stroke="#dadeae" stroke-width="0.6"/>
<circle cx="163.2" cy="389.2" r="5.1" fill="#f3f5cc" stroke="#dadeae" stroke-width="0.6"/>
<circle cx="191.9" cy="398.5" r="4.4" fill="#f3f5cc" stroke="#dadeae" stroke-width="0.6"/>
<circle cx="163.6" cy="424.3" r="4.2" fill="#fafbe2" stroke="#dadeae" stroke-width="0.6"/>
<circle cx="207.7" cy="362.6" r="3.9" fill="#eef0c0" stroke="#dadeae" stroke-width="0.6"/>
<circle cx="180.9" cy="361.3" r="4.0" fill="#f5f7d2" stroke="#dadeae" stroke-width="0.6"/>
<circle cx="213.7" cy="366.0" r="5.0" fill="#f8f9dc" stroke="#dadeae" stroke-width="0.6"/>
<circle cx="161.6" cy="342.2" r="3.3" fill="#f5f7d2" stroke="#dadeae" stroke-width="0.6"/>
<circle cx="166.1" cy="331.7" r="4.6" fill="#f5f7d2" stroke="#dadeae" stroke-width="0.6"/>
<circle cx="154.9" cy="381.8" r="4.8" fill="#f8f9dc" stroke="#dadeae" stroke-width="0.6"/>
<circle cx="173.9" cy="419.3" r="4.8" fill="#fafbe2" stroke="#dadeae" stroke-width="0.6"/>
<circle cx="168.1" cy="339.5" r="4.0" fill="#f8f9dc" stroke="#dadeae" stroke-width="0.6"/>
<circle cx="178.7" cy="340.9" r="4.1" fill="#fafbe2" stroke="#dadeae" stroke-width="0.6"/>
<circle cx="185.7" cy="368.3" r="5.2" fill="#f8f9dc" stroke="#dadeae" stroke-width="0.6"/>
<circle cx="158.8" cy="389.9" r="3.6" fill="#f5f7d2" stroke="#dadeae" stroke-width="0.6"/>
<circle cx="192.0" cy="323.4" r="4.9" fill="#f3f5cc" stroke="#dadeae" stroke-width="0.6"/>
<circle cx="194.5" cy="401.0" r="4.8" fill="#fafbe2" stroke="#dadeae" stroke-width="0.6"/>
<circle cx="164.5" cy="396.9" r="3.4" fill="#f8f9dc" stroke="#dadeae" stroke-width="0.6"/>
<circle cx="210.1" cy="415.3" r="4.7" fill="#fafbe2" stroke="#dadeae" stroke-width="0.6"/>
<circle cx="194.9" cy="348.0" r="4.0" fill="#f3f5cc" stroke="#dadeae" stroke-width="0.6"/>
<circle cx="199.4" cy="425.3" r="4.9" fill="#fafbe2" stroke="#dadeae" stroke-width="0.6"/>
<circle cx="211.9" cy="334.3" r="3.9" fill="#eef0c0" stroke="#dadeae" stroke-width="0.6"/>
<circle cx="208.8" cy="314.9" r="4.6" fill="#f3f5cc" stroke="#dadeae" stroke-width="0.6"/>
<circle cx="158.9" cy="420.6" r="3.9" fill="#f5f7d2" stroke="#dadeae" stroke-width="0.6"/>
<circle cx="210.0" cy="406.1" r="4.6" fill="#f5f7d2" stroke="#dadeae" stroke-width="0.6"/>
<circle cx="171.0" cy="390.0" r="4.1" fill="#eef0c0" stroke="#dadeae" stroke-width="0.6"/>
<circle cx="151.8" cy="406.7" r="4.3" fill="#fafbe2" stroke="#dadeae" stroke-width="0.6"/>
<circle cx="183.2" cy="340.9" r="4.2" fill="#f8f9dc" stroke="#dadeae" stroke-width="0.6"/>
<circle cx="159.4" cy="367.6" r="4.6" fill="#eef0c0" stroke="#dadeae" stroke-width="0.6"/>
<circle cx="211.8" cy="326.0" r="4.7" fill="#eef0c0" stroke="#dadeae" stroke-width="0.6"/>
<circle cx="209.1" cy="424.3" r="4.4" fill="#f5f7d2" stroke="#dadeae" stroke-width="0.6"/>
<circle cx="199.6" cy="356.1" r="5.0" fill="#f3f5cc" stroke="#dadeae" stroke-width="0.6"/>
<circle cx="193.2" cy="362.3" r="4.7" fill="#fafbe2" stroke="#dadeae" stroke-width="0.6"/>
<circle cx="212.6" cy="366.2" r="5.1" fill="#f8f9dc" stroke="#dadeae" stroke-width="0.6"/>
<circle cx="196.6" cy="418.5" r="4.5" fill="#f3f5cc" stroke="#dadeae" stroke-width="0.6"/>
<circle cx="178.9" cy="398.7" r="3.6" fill="#f8f9dc" stroke="#dadeae" stroke-width="0.6"/>
<circle cx="204.9" cy="411.8" r="4.2" fill="#fafbe2" stroke="#dadeae" stroke-width="0.6"/>
<circle cx="201.8" cy="345.3" r="4.3" fill="#fafbe2" stroke="#dadeae" stroke-width="0.6"/>
<circle cx="181.7" cy="343.8" r="3.3" fill="#eef0c0" stroke="#dadeae" stroke-width="0.6"/>
<circle cx="188.8" cy="329.3" r="4.6" fill="#f3f5cc" stroke="#dadeae" stroke-width="0.6"/>
<circle cx="191.4" cy="342.3" r="3.7" fill="#f8f9dc" stroke="#dadeae" stroke-width="0.6"/>
<circle cx="193.0" cy="328.8" r="4.5" fill="#eef0c0" stroke="#dadeae" stroke-width="0.6"/>
<circle cx="150.1" cy="402.7" r="4.4" fill="#fafbe2" stroke="#dadeae" stroke-width="0.6"/>
<circle cx="165.5" cy="416.6" r="4.3" fill="#fafbe2" stroke="#dadeae" stroke-width="0.6"/>
<circle cx="191.9" cy="331.6" r="5.2" fill="#f3f5cc" stroke="#dadeae" stroke-width="0.6"/>
<circle cx="203.7" cy="326.4" r="3.8" fill="#eef0c0" stroke="#dadeae" stroke-width="0.6"/>
<circle cx="177.3" cy="317.2" r="5.0" fill="#eef0c0" stroke="#dadeae" stroke-width="0.6"/>
<circle cx="155.0" cy="401.9" r="4.1" fill="#f5f7d2" stroke="#dadeae" stroke-width="0.6"/>
<circle cx="152.2" cy="368.9" r="4.3" fill="#eef0c0" stroke="#dadeae" stroke-width="0.6"/>
<circle cx="197.5" cy="322.4" r="4.6" fill="#f8f9dc" stroke="#dadeae" stroke-width="0.6"/>
<circle cx="160.2" cy="394.7" r="5.1" fill="#f3f5cc" stroke="#dadeae" stroke-width="0.6"/>
<circle cx="154.4" cy="381.5" r="3.2" fill="#f5f7d2" stroke="#dadeae" stroke-width="0.6"/>
<circle cx="189.4" cy="392.4" r="5.1" fill="#eef0c0" stroke="#dadeae" stroke-width="0.6"/>
<circle cx="190.0" cy="321.7" r="4.7" fill="#f5f7d2" stroke="#dadeae" stroke-width="0.6"/>
<circle cx="199.4" cy="419.7" r="3.8" fill="#fafbe2" stroke="#dadeae" stroke-width="0.6"/>
<circle cx="147.7" cy="404.2" r="3.8" fill="#f8f9dc" stroke="#dadeae" stroke-width="0.6"/>
<circle cx="165.0" cy="335.4" r="4.9" fill="#eef0c0" stroke="#dadeae" stroke-width="0.6"/>
<circle cx="210.5" cy="419.5" r="3.7" fill="#f5f7d2" stroke="#dadeae" stroke-width="0.6"/>
<circle cx="143.0" cy="384.6" r="4.5" fill="#f3f5cc" stroke="#dadeae" stroke-width="0.6"/>
<circle cx="209.4" cy="433.3" r="4.2" fill="#f3f5cc" stroke="#dadeae" stroke-width="0.6"/>
<circle cx="196.0" cy="439.8" r="4.4" fill="#f5f7d2" stroke="#dadeae" stroke-width="0.6"/>
<circle cx="150.5" cy="393.6" r="4.0" fill="#f5f7d2" stroke="#dadeae" stroke-width="0.6"/>
<circle cx="205.2" cy="373.3" r="3.6" fill="#eef0c0" stroke="#dadeae" stroke-width="0.6"/>
<circle cx="205.6" cy="412.9" r="4.1" fill="#eef0c0" stroke="#dadeae" stroke-width="0.6"/>
<circle cx="194.5" cy="426.3" r="3.3" fill="#f5f7d2" stroke="#dadeae" stroke-width="0.6"/>
<circle cx="191.1" cy="418.0" r="5.0" fill="#fafbe2" stroke="#dadeae" stroke-width="0.6"/>
<circle cx="201.7" cy="398.5" r="4.3" fill="#f3f5cc" stroke="#dadeae" stroke-width="0.6"/>
<circle cx="146.4" cy="353.3" r="4.1" fill="#f8f9dc" stroke="#dadeae" stroke-width="0.6"/>
<circle cx="209.7" cy="423.0" r="5.1" fill="#f8f9dc" stroke="#dadeae" stroke-width="0.6"/>
<circle cx="187.5" cy="416.0" r="3.3" fill="#eef0c0" stroke="#dadeae" stroke-width="0.6"/>
<circle cx="186.7" cy="349.9" r="4.3" fill="#eef0c0" stroke="#dadeae" stroke-width="0.6"/>
<circle cx="176.8" cy="395.0" r="3.8" fill="#eef0c0" stroke="#dadeae" stroke-width="0.6"/>
<circle cx="180.6" cy="393.2" r="4.9" fill="#fafbe2" stroke="#dadeae" stroke-width="0.6"/>
<circle cx="192.0" cy="369.2" r="3.4" fill="#f8f9dc" stroke="#dadeae" stroke-width="0.6"/>
<circle cx="168.4" cy="386.4" r="4.0" fill="#f8f9dc" stroke="#dadeae" stroke-width="0.6"/>
<circle cx="158.3" cy="368.4" r="3.7" fill="#fafbe2" stroke="#dadeae" stroke-width="0.6"/>
<circle cx="182.0" cy="326.1" r="4.9" fill="#eef0c0" stroke="#dadeae" stroke-width="0.6"/>
<circle cx="189.8" cy="335.8" r="4.5" fill="#f3f5cc" stroke="#dadeae" stroke-width="0.6"/>
<circle cx="157.3" cy="370.6" r="4.3" fill="#f5f7d2" stroke="#dadeae" stroke-width="0.6"/>
<circle cx="196.4" cy="428.7" r="4.3" fill="#f3f5cc" stroke="#dadeae" stroke-width="0.6"/>
<circle cx="192.1" cy="414.6" r="3.5" fill="#f8f9dc" stroke="#dadeae" stroke-width="0.6"/>
<circle cx="182.2" cy="403.6" r="4.7" fill="#f5f7d2" stroke="#dadeae" stroke-width="0.6"/>
<circle cx="188.0" cy="435.2" r="4.2" fill="#f3f5cc" stroke="#dadeae" stroke-width="0.6"/>
<circle cx="203.7" cy="362.1" r="3.5" fill="#fafbe2" stroke="#dadeae" stroke-width="0.6"/>
<circle cx="183.1" cy="411.4" r="3.5" fill="#f8f9dc" stroke="#dadeae" stroke-width="0.6"/>
<circle cx="185.5" cy="339.1" r="3.8" fill="#fafbe2" stroke="#dadeae" stroke-width="0.6"/>
<circle cx="172.6" cy="426.0" r="4.4" fill="#fafbe2" stroke="#dadeae" stroke-width="0.6"/>
<circle cx="183.1" cy="429.7" r="4.9" fill="#fafbe2" stroke="#dadeae" stroke-width="0.6"/>
<circle cx="168.1" cy="419.9" r="4.8" fill="#f5f7d2" stroke="#dadeae" stroke-width="0.6"/>
<circle cx="203.3" cy="327.4" r="3.9" fill="#f8f9dc" stroke="#dadeae" stroke-width="0.6"/>
<circle cx="143.2" cy="389.3" r="3.4" fill="#f8f9dc" stroke="#dadeae" stroke-width="0.6"/>
<circle cx="165.0" cy="389.3" r="3.3" fill="#fafbe2" stroke="#dadeae" stroke-width="0.6"/>
<circle cx="174.2" cy="419.5" r="4.4" fill="#f5f7d2" stroke="#dadeae" stroke-width="0.6"/>
<circle cx="200.7" cy="374.5" r="3.3" fill="#eef0c0" stroke="#dadeae" stroke-width="0.6"/>
<circle cx="154.1" cy="383.0" r="3.8" fill="#f3f5cc" stroke="#dadeae" stroke-width="0.6"/>
<circle cx="204.1" cy="387.4" r="3.7" fill="#eef0c0" stroke="#dadeae" stroke-width="0.6"/>
<circle cx="166.2" cy="331.1" r="4.2" fill="#f5f7d2" stroke="#dadeae" stroke-width="0.6"/>
<circle cx="201.4" cy="316.2" r="3.6" fill="#f8f9dc" stroke="#dadeae" stroke-width="0.6"/>
<circle cx="170.0" cy="372.9" r="3.5" fill="#f3f5cc" stroke="#dadeae" stroke-width="0.6"/>
<circle cx="170.1" cy="424.0" r="4.4" fill="#f5f7d2" stroke="#dadeae" stroke-width="0.6"/>
<circle cx="167.6" cy="379.6" r="3.8" fill="#fafbe2" stroke="#dadeae" stroke-width="0.6"/>
<circle cx="185.1" cy="317.3" r="3.5" fill="#eef0c0" stroke="#dadeae" stroke-width="0.6"/>
<circle cx="195.8" cy="354.3" r="4.1" fill="#eef0c0" stroke="#dadeae" stroke-width="0.6"/>
<circle cx="164.0" cy="354.8" r="4.2" fill="#fafbe2" stroke="#dadeae" stroke-width="0.6"/>
<circle cx="151.1" cy="398.0" r="3.7" fill="#eef0c0" stroke="#dadeae" stroke-width="0.6"/>
<circle cx="167.3" cy="385.5" r="4.4" fill="#fafbe2" stroke="#dadeae" stroke-width="0.6"/>
<circle cx="182.9" cy="410.9" r="4.9" fill="#f3f5cc" stroke="#dadeae" stroke-width="0.6"/>
<circle cx="188.5" cy="393.3" r="3.9" fill="#eef0c0" stroke="#dadeae" stroke-width="0.6"/>
<circle cx="200.8" cy="342.3" r="4.8" fill="#fafbe2" stroke="#dadeae" stroke-width="0.6"/>
<circle cx="192.2" cy="350.8" r="4.7" fill="#eef0c0" stroke="#dadeae" stroke-width="0.6"/>
<circle cx="179.0" cy="393.4" r="3.9" fill="#f8f9dc" stroke="#dadeae" stroke-width="0.6"/>
<circle cx="194.9" cy="354.7" r="4.6" fill="#eef0c0" stroke="#dadeae" stroke-width="0.6"/>
<circle cx="207.8" cy="412.4" r="4.2" fill="#fafbe2" stroke="#dadeae" stroke-width="0.6"/>
<circle cx="171.0" cy="362.6" r="4.7" fill="#fafbe2" stroke="#dadeae" stroke-width="0.6"/>
<circle cx="185.0" cy="330.1" r="4.6" fill="#eef0c0" stroke="#dadeae" stroke-width="0.6"/>
<circle cx="195.7" cy="382.6" r="5.1" fill="#eef0c0" stroke="#dadeae" stroke-width="0.6"/>
<circle cx="163.2" cy="357.1" r="4.1" fill="#f3f5cc" stroke="#dadeae" stroke-width="0.6"/>
<circle cx="195.3" cy="430.3" r="4.9" fill="#eef0c0" stroke="#dadeae" stroke-width="0.6"/>
<circle cx="209.0" cy="347.1" r="3.7" fill="#f5f7d2" stroke="#dadeae" stroke-width="0.6"/>
<circle cx="198.2" cy="392.3" r="3.7" fill="#f5f7d2" stroke="#dadeae" stroke-width="0.6"/>
<circle cx="156.6" cy="363.1" r="3.6" fill="#f8f9dc" stroke="#dadeae" stroke-width="0.6"/>
<circle cx="161.6" cy="376.2" r="3.4" fill="#fafbe2" stroke="#dadeae" stroke-width="0.6"/>
<circle cx="196.3" cy="435.6" r="4.4" fill="#f5f7d2" stroke="#dadeae" stroke-width="0.6"/>
<circle cx="184.1" cy="404.2" r="3.2" fill="#eef0c0" stroke="#dadeae" stroke-width="0.6"/>
<circle cx="181.1" cy="424.3" r="4.5" fill="#f5f7d2" stroke="#dadeae" stroke-width="0.6"/>
<circle cx="156.2" cy="353.7" r="4.7" fill="#f3f5cc" stroke="#dadeae" stroke-width="0.6"/>
<circle cx="171.0" cy="399.0" r="3.9" fill="#f5f7d2" stroke="#dadeae" stroke-width="0.6"/>
<circle cx="206.2" cy="414.1" r="3.4" fill="#f8f9dc" stroke="#dadeae" stroke-width="0.6"/>
<circle cx="165.6" cy="375.3" r="4.4" fill="#eef0c0" stroke="#dadeae" stroke-width="0.6"/>
<circle cx="212.1" cy="424.0" r="0.6" fill="#5a6038"/>
<circle cx="144.1" cy="390.7" r="1.1" fill="#5a6038"/>
<circle cx="156.0" cy="379.8" r="1.2" fill="#5a6038"/>
<circle cx="202.4" cy="366.1" r="1.0" fill="#2a2e1c"/>
<circle cx="206.4" cy="331.4" r="1.3" fill="#2a2e1c"/>
<circle cx="165.3" cy="407.0" r="0.8" fill="#2a2e1c"/>
<circle cx="189.6" cy="395.5" r="1.0" fill="#2a2e1c"/>
<circle cx="174.7" cy="347.5" r="1.0" fill="#5a6038"/>
<circle cx="176.4" cy="396.0" r="1.1" fill="#5a6038"/>
<circle cx="151.4" cy="392.6" r="0.9" fill="#3c4028"/>
<circle cx="149.2" cy="381.6" r="0.7" fill="#3c4028"/>
<circle cx="159.8" cy="389.6" r="1.1" fill="#3c4028"/>
<circle cx="206.8" cy="421.8" r="1.1" fill="#2a2e1c"/>
<circle cx="178.2" cy="393.5" r="0.8" fill="#5a6038"/>
<circle cx="175.2" cy="353.3" r="1.2" fill="#3c4028"/>
<circle cx="190.6" cy="313.6" r="1.2" fill="#5a6038"/>
<circle cx="191.7" cy="356.8" r="0.8" fill="#5a6038"/>
<circle cx="171.4" cy="429.9" r="1.3" fill="#2a2e1c"/>
<circle cx="206.0" cy="315.6" r="0.6" fill="#2a2e1c"/>
<circle cx="173.2" cy="341.4" r="0.7" fill="#5a6038"/>
<circle cx="189.3" cy="350.1" r="1.3" fill="#3c4028"/>
<circle cx="176.5" cy="431.8" r="1.1" fill="#3c4028"/>
<circle cx="203.1" cy="348.0" r="0.8" fill="#5a6038"/>
<circle cx="206.9" cy="343.8" r="0.8" fill="#2a2e1c"/>
<circle cx="185.8" cy="369.9" r="1.0" fill="#3c4028"/>
<circle cx="205.3" cy="406.3" r="0.6" fill="#5a6038"/>
<circle cx="209.9" cy="331.0" r="1.1" fill="#3c4028"/>
<circle cx="197.6" cy="371.4" r="0.9" fill="#5a6038"/>
<circle cx="194.9" cy="425.1" r="1.3" fill="#3c4028"/>
<circle cx="184.8" cy="337.6" r="1.0" fill="#3c4028"/>
<circle cx="142.8" cy="376.6" r="0.8" fill="#5a6038"/>
<circle cx="193.5" cy="405.4" r="0.6" fill="#5a6038"/>
<circle cx="157.1" cy="381.2" r="1.0" fill="#2a2e1c"/>
<circle cx="178.3" cy="326.1" r="0.8" fill="#5a6038"/>
<circle cx="213.4" cy="321.6" r="1.3" fill="#3c4028"/>
<circle cx="196.1" cy="346.8" r="0.7" fill="#5a6038"/>
<circle cx="200.5" cy="434.2" r="0.8" fill="#5a6038"/>
<circle cx="192.7" cy="395.7" r="1.0" fill="#2a2e1c"/>
<circle cx="165.3" cy="364.5" r="1.3" fill="#2a2e1c"/>
<circle cx="195.0" cy="363.0" r="0.8" fill="#5a6038"/>
<circle cx="169.3" cy="331.1" r="1.1" fill="#5a6038"/>
<circle cx="201.6" cy="427.2" r="1.0" fill="#3c4028"/>
<circle cx="186.6" cy="430.9" r="0.8" fill="#2a2e1c"/>
<circle cx="196.0" cy="439.2" r="1.2" fill="#2a2e1c"/>
<circle cx="200.1" cy="428.6" r="0.6" fill="#2a2e1c"/>
<circle cx="182.8" cy="399.8" r="0.9" fill="#2a2e1c"/>
<circle cx="205.5" cy="377.3" r="1.0" fill="#5a6038"/>
<circle cx="157.9" cy="392.7" r="1.1" fill="#5a6038"/>
<circle cx="190.6" cy="418.0" r="0.7" fill="#2a2e1c"/>
<circle cx="190.9" cy="430.6" r="1.1" fill="#5a6038"/>
<circle cx="209.7" cy="372.6" r="1.1" fill="#2a2e1c"/>
<circle cx="185.2" cy="385.1" r="1.3" fill="#3c4028"/>
</g></g>
<g filter="url(#blur1)"><path d="M292.4,327.3C295.3,325.9 298.4,325.9 301.3,325.6C304.3,325.2 307.4,324.5 310.2,325.1C313.0,325.7 315.9,327.3 318.2,329.1C320.6,331.0 322.7,333.6 324.4,336.2C326.2,338.9 327.9,342.1 328.9,345.1C329.9,348.1 330.1,350.9 330.7,354.0C331.3,357.1 332.1,360.7 332.4,363.8C332.7,366.9 332.9,369.9 332.4,372.7C332.0,375.5 331.0,378.0 329.8,380.7C328.6,383.3 327.0,386.6 325.3,388.7C323.7,390.7 321.6,391.2 320.0,393.1C318.4,395.0 317.0,397.6 315.6,400.2C314.1,402.9 312.7,406.4 311.1,409.1C309.5,411.8 308.0,414.0 305.8,416.2C303.6,418.4 300.7,421.0 297.8,422.4C294.8,423.9 291.4,425.1 288.0,425.1C284.6,425.1 280.3,423.9 277.3,422.4C274.4,421.0 271.9,418.7 270.2,416.2C268.6,413.7 268.1,410.6 267.6,407.3C267.0,404.1 266.5,400.1 266.7,396.7C266.8,393.3 267.4,390.1 268.4,386.9C269.5,383.6 271.4,380.2 272.9,377.1C274.4,374.0 276.3,371.2 277.3,368.2C278.4,365.3 278.1,362.0 279.1,359.3C280.1,356.7 283.0,354.9 283.6,352.2C284.1,349.6 282.5,346.3 282.7,343.3C282.8,340.4 282.8,337.1 284.4,334.4C286.1,331.8 289.6,328.8 292.4,327.3Z" fill="#0e0e19"/>
<circle cx="293.0" cy="327.4" r="1.6" fill="#0f0f1b"/>
<circle cx="296.9" cy="326.8" r="1.4" fill="#0f0f1b"/>
<circle cx="300.9" cy="325.9" r="1.5" fill="#0f0f1b"/>
<circle cx="305.9" cy="325.7" r="1.8" fill="#0f0f1b"/>
<circle cx="310.7" cy="324.6" r="1.5" fill="#0f0f1b"/>
<circle cx="314.6" cy="327.5" r="1.3" fill="#0f0f1b"/>
<circle cx="317.8" cy="328.8" r="1.3" fill="#0f0f1b"/>
<circle cx="321.2" cy="333.0" r="1.6" fill="#0f0f1b"/>
<circle cx="324.4" cy="335.7" r="1.5" fill="#0f0f1b"/>
<circle cx="327.3" cy="340.9" r="1.5" fill="#0f0f1b"/>
<circle cx="328.9" cy="345.5" r="1.7" fill="#0f0f1b"/>
<circle cx="329.4" cy="349.8" r="1.5" fill="#0f0f1b"/>
<circle cx="330.7" cy="353.7" r="1.5" fill="#0f0f1b"/>
<circle cx="331.4" cy="358.7" r="1.2" fill="#0f0f1b"/>
<circle cx="332.1" cy="363.9" r="1.2" fill="#0f0f1b"/>
<circle cx="332.1" cy="368.5" r="1.4" fill="#0f0f1b"/>
<circle cx="332.2" cy="372.4" r="1.8" fill="#0f0f1b"/>
<circle cx="330.6" cy="376.8" r="1.8" fill="#0f0f1b"/>
<circle cx="329.4" cy="380.6" r="1.8" fill="#0f0f1b"/>
<circle cx="327.7" cy="384.5" r="1.2" fill="#0f0f1b"/>
<circle cx="325.3" cy="388.5" r="1.7" fill="#0f0f1b"/>
<circle cx="322.4" cy="390.8" r="1.7" fill="#0f0f1b"/>
<circle cx="320.4" cy="392.9" r="1.5" fill="#0f0f1b"/>
<circle cx="317.9" cy="397.2" r="1.3" fill="#0f0f1b"/>
<circle cx="316.1" cy="400.5" r="1.5" fill="#0f0f1b"/>
<circle cx="313.5" cy="404.5" r="1.2" fill="#0f0f1b"/>
<circle cx="311.4" cy="409.0" r="1.6" fill="#0f0f1b"/>
<circle cx="308.4" cy="413.1" r="1.7" fill="#0f0f1b"/>
<circle cx="305.2" cy="416.3" r="1.5" fill="#0f0f1b"/>
<circle cx="301.7" cy="419.7" r="1.5" fill="#0f0f1b"/>
<circle cx="297.7" cy="422.9" r="1.5" fill="#0f0f1b"/>
<circle cx="292.9" cy="423.8" r="1.8" fill="#0f0f1b"/>
<circle cx="288.2" cy="425.4" r="1.5" fill="#0f0f1b"/>
<circle cx="283.9" cy="424.4" r="1.6" fill="#0f0f1b"/>
<circle cx="281.2" cy="423.7" r="1.3" fill="#0f0f1b"/>
<circle cx="277.0" cy="421.9" r="1.8" fill="#0f0f1b"/>
<circle cx="273.3" cy="418.8" r="1.7" fill="#0f0f1b"/>
<circle cx="270.3" cy="415.7" r="1.7" fill="#0f0f1b"/>
<circle cx="269.1" cy="411.8" r="1.2" fill="#0f0f1b"/>
<circle cx="267.8" cy="407.2" r="1.6" fill="#0f0f1b"/>
<circle cx="267.9" cy="404.2" r="1.8" fill="#0f0f1b"/>
<circle cx="266.5" cy="400.0" r="1.6" fill="#0f0f1b"/>
<circle cx="266.1" cy="397.3" r="1.4" fill="#0f0f1b"/>
<circle cx="267.3" cy="391.6" r="1.4" fill="#0f0f1b"/>
<circle cx="268.9" cy="387.0" r="1.6" fill="#0f0f1b"/>
<circle cx="269.8" cy="383.1" r="1.4" fill="#0f0f1b"/>
<circle cx="271.8" cy="380.7" r="1.8" fill="#0f0f1b"/>
<circle cx="272.6" cy="376.8" r="1.2" fill="#0f0f1b"/>
<circle cx="275.2" cy="372.5" r="1.5" fill="#0f0f1b"/>
<circle cx="277.3" cy="368.3" r="1.5" fill="#0f0f1b"/>
<circle cx="278.6" cy="363.4" r="1.8" fill="#0f0f1b"/>
<circle cx="279.2" cy="358.8" r="1.4" fill="#0f0f1b"/>
<circle cx="281.4" cy="355.7" r="1.6" fill="#0f0f1b"/>
<circle cx="283.3" cy="352.0" r="1.8" fill="#0f0f1b"/>
<circle cx="282.9" cy="348.0" r="1.8" fill="#0f0f1b"/>
<circle cx="282.8" cy="343.3" r="1.9" fill="#0f0f1b"/>
<circle cx="283.5" cy="339.3" r="1.2" fill="#0f0f1b"/>
<circle cx="284.4" cy="334.6" r="1.2" fill="#0f0f1b"/>
<circle cx="287.5" cy="331.6" r="1.6" fill="#0f0f1b"/>
<circle cx="289.4" cy="330.2" r="1.6" fill="#0f0f1b"/>
<g clip-path="url(#cphg)">
<circle cx="319.3" cy="374.9" r="0.8" fill="#66667a"/>
<circle cx="319.4" cy="378.6" r="0.5" fill="#33333f"/>
<circle cx="300.6" cy="371.7" r="0.5" fill="#4a4a58"/>
<circle cx="329.2" cy="366.6" r="0.7" fill="#66667a"/>
<circle cx="313.1" cy="369.4" r="0.6" fill="#4a4a58"/>
<circle cx="277.2" cy="369.7" r="0.8" fill="#66667a"/>
<circle cx="313.2" cy="397.0" r="0.6" fill="#66667a"/>
<circle cx="288.0" cy="409.2" r="0.5" fill="#33333f"/>
<circle cx="292.4" cy="328.4" r="0.6" fill="#66667a"/>
<circle cx="281.4" cy="379.7" r="0.5" fill="#2a2a3c"/>
<circle cx="288.6" cy="365.2" r="0.5" fill="#66667a"/>
<circle cx="274.7" cy="417.4" r="0.9" fill="#4a4a58"/>
<circle cx="285.8" cy="359.9" r="0.8" fill="#2a2a3c"/>
<circle cx="286.6" cy="383.5" r="0.8" fill="#33333f"/>
<circle cx="281.6" cy="417.6" r="0.5" fill="#4a4a58"/>
<circle cx="330.3" cy="359.5" r="0.9" fill="#66667a"/>
<circle cx="296.2" cy="349.9" r="0.8" fill="#33333f"/>
<circle cx="273.9" cy="408.3" r="0.8" fill="#2a2a3c"/>
<circle cx="273.0" cy="380.3" r="0.8" fill="#2a2a3c"/>
<circle cx="297.0" cy="328.5" r="0.7" fill="#4a4a58"/>
<circle cx="293.8" cy="394.8" r="0.6" fill="#66667a"/>
<circle cx="271.7" cy="397.9" r="0.8" fill="#66667a"/>
<circle cx="277.8" cy="419.3" r="0.6" fill="#2a2a3c"/>
<circle cx="286.6" cy="351.2" r="0.5" fill="#33333f"/>
<circle cx="274.4" cy="374.7" r="0.7" fill="#4a4a58"/>
<circle cx="288.0" cy="349.7" r="0.7" fill="#4a4a58"/>
<circle cx="300.0" cy="361.8" r="0.5" fill="#2a2a3c"/>
<circle cx="301.8" cy="349.1" r="0.5" fill="#4a4a58"/>
<circle cx="328.7" cy="374.0" r="0.8" fill="#33333f"/>
<circle cx="312.0" cy="348.0" r="0.8" fill="#33333f"/>
<circle cx="294.6" cy="387.5" r="0.5" fill="#4a4a58"/>
<circle cx="272.2" cy="383.0" r="0.6" fill="#4a4a58"/>
<circle cx="320.7" cy="332.4" r="0.6" fill="#4a4a58"/>
<circle cx="269.4" cy="386.9" r="0.8" fill="#66667a"/>
<circle cx="289.2" cy="406.2" r="0.7" fill="#33333f"/>
<circle cx="293.8" cy="365.8" r="0.5" fill="#33333f"/>
<circle cx="276.4" cy="376.3" r="0.5" fill="#66667a"/>
<circle cx="317.3" cy="345.5" r="0.9" fill="#66667a"/>
<circle cx="313.3" cy="331.8" r="0.5" fill="#2a2a3c"/>
<circle cx="288.4" cy="332.0" r="0.7" fill="#4a4a58"/>
<circle cx="279.8" cy="387.6" r="0.8" fill="#2a2a3c"/>
<circle cx="272.7" cy="396.9" r="0.6" fill="#33333f"/>
<circle cx="319.5" cy="374.4" r="0.8" fill="#2a2a3c"/>
<circle cx="275.5" cy="408.0" r="0.9" fill="#4a4a58"/>
<circle cx="319.4" cy="384.1" r="0.6" fill="#66667a"/>
<circle cx="315.9" cy="384.5" r="0.7" fill="#4a4a58"/>
<circle cx="271.1" cy="403.4" r="0.8" fill="#33333f"/>
<circle cx="282.5" cy="383.9" r="0.7" fill="#2a2a3c"/>
<circle cx="310.3" cy="364.6" r="0.7" fill="#66667a"/>
<circle cx="321.0" cy="365.7" r="0.5" fill="#66667a"/>
<circle cx="294.7" cy="355.6" r="0.6" fill="#4a4a58"/>
<circle cx="297.9" cy="366.2" r="0.6" fill="#33333f"/>
<circle cx="288.7" cy="346.5" r="0.6" fill="#2a2a3c"/>
<circle cx="307.4" cy="354.3" r="0.5" fill="#66667a"/>
<circle cx="279.0" cy="414.1" r="0.6" fill="#33333f"/>
<circle cx="274.6" cy="393.4" r="0.5" fill="#33333f"/>
<circle cx="292.3" cy="358.4" r="0.5" fill="#33333f"/>
<circle cx="281.4" cy="414.1" r="0.7" fill="#2a2a3c"/>
<circle cx="287.0" cy="357.0" r="0.8" fill="#33333f"/>
<circle cx="322.8" cy="335.5" r="0.6" fill="#66667a"/>
<circle cx="315.1" cy="392.7" r="0.9" fill="#2a2a3c"/>
<circle cx="275.5" cy="400.4" r="0.6" fill="#2a2a3c"/>
<circle cx="271.7" cy="387.5" r="0.6" fill="#66667a"/>
<circle cx="290.5" cy="391.2" r="0.7" fill="#2a2a3c"/>
<circle cx="270.6" cy="390.6" r="0.7" fill="#4a4a58"/>
<circle cx="270.4" cy="408.6" r="0.8" fill="#2a2a3c"/>
<circle cx="296.1" cy="400.2" r="0.9" fill="#2a2a3c"/>
<circle cx="275.7" cy="420.4" r="0.9" fill="#33333f"/>
<circle cx="279.0" cy="416.9" r="0.7" fill="#2a2a3c"/>
<circle cx="278.1" cy="384.1" r="0.9" fill="#33333f"/>
<circle cx="285.8" cy="379.5" r="0.6" fill="#2a2a3c"/>
<circle cx="309.3" cy="405.6" r="0.8" fill="#2a2a3c"/>
<circle cx="290.4" cy="415.4" r="0.6" fill="#2a2a3c"/>
<circle cx="289.5" cy="339.1" r="0.7" fill="#4a4a58"/>
<circle cx="277.3" cy="398.9" r="0.5" fill="#66667a"/>
<circle cx="326.4" cy="383.8" r="0.9" fill="#66667a"/>
<circle cx="287.0" cy="419.5" r="0.5" fill="#66667a"/>
<circle cx="327.7" cy="365.4" r="0.8" fill="#66667a"/>
<circle cx="292.6" cy="363.7" r="0.9" fill="#66667a"/>
<circle cx="274.1" cy="417.7" r="0.7" fill="#2a2a3c"/>
<circle cx="308.6" cy="403.0" r="0.6" fill="#33333f"/>
<circle cx="285.0" cy="378.7" r="0.7" fill="#2a2a3c"/>
<circle cx="316.2" cy="352.7" r="0.6" fill="#2a2a3c"/>
<circle cx="301.5" cy="353.9" r="0.7" fill="#66667a"/>
<circle cx="301.7" cy="394.9" r="0.6" fill="#66667a"/>
</g></g>
<text font-family="'Noto Sans CJK SC', 'Liberation Sans', sans-serif" font-size="32" fill="#111" font-weight="300" x="-15.7" y="482.5">（</text>
<text font-family="'Noto Sans CJK SC', 'Liberation Sans', sans-serif" font-size="32" fill="#111" font-weight="300" x="61.5" y="482.5">）</text>
<text font-family="'Liberation Sans', sans-serif" font-size="27.5" fill="#111" text-anchor="middle" x="38.5" y="481.8">CS</text>
<text font-family="'Noto Sans CJK SC', 'Liberation Sans', sans-serif" font-size="32" fill="#111" font-weight="300" x="122.3" y="482.5">（</text>
<text font-family="'Noto Sans CJK SC', 'Liberation Sans', sans-serif" font-size="32" fill="#111" font-weight="300" x="224.5" y="482.5">）</text>
<text font-family="'Liberation Sans', sans-serif" font-size="27.5" fill="#111" text-anchor="middle" x="189.0" y="481.8">BYW</text>
<text font-family="'Noto Sans CJK SC', 'Liberation Sans', sans-serif" font-size="32" fill="#111" font-weight="300" x="259.9" y="482.5">（</text>
<text font-family="'Noto Sans CJK SC', 'Liberation Sans', sans-serif" font-size="32" fill="#111" font-weight="300" x="355.9" y="482.5">）</text>
<text font-family="'Liberation Sans', sans-serif" font-size="27.5" fill="#111" text-anchor="middle" x="323.5" y="481.8">HG2</text>
<text font-family="'Liberation Sans', sans-serif" font-size="30" fill="#222" textLength="59.0" lengthAdjust="spacingAndGlyphs" x="915.0" y="47.0">PCA</text>
<rect x="712.3" y="53.6" width="484.7" height="400" fill="#fff" stroke="#9a9a9a" stroke-width="1"/>
<path d="M1025.7,54V453M713,249.3H1196" stroke="#dbd5e1" stroke-width="1" stroke-dasharray="5,3,1,3" fill="none"/>
<path d="M737.7,453.6v3" stroke="#555" stroke-width="1"/>
<text font-family="'Liberation Sans', sans-serif" font-size="10" fill="#333" text-anchor="middle" x="737.7" y="468.0">−30</text>
<path d="M833.7,453.6v3" stroke="#555" stroke-width="1"/>
<text font-family="'Liberation Sans', sans-serif" font-size="10" fill="#333" text-anchor="middle" x="833.7" y="468.0">−20</text>
<path d="M929.7,453.6v3" stroke="#555" stroke-width="1"/>
<text font-family="'Liberation Sans', sans-serif" font-size="10" fill="#333" text-anchor="middle" x="929.7" y="468.0">−10</text>
<path d="M1025.7,453.6v3" stroke="#555" stroke-width="1"/>
<text font-family="'Liberation Sans', sans-serif" font-size="10" fill="#333" text-anchor="middle" x="1025.7" y="468.0">0</text>
<path d="M1121.7,453.6v3" stroke="#555" stroke-width="1"/>
<text font-family="'Liberation Sans', sans-serif" font-size="10" fill="#333" text-anchor="middle" x="1121.7" y="468.0">10</text>
<path d="M712.3,94.2h-3" stroke="#555" stroke-width="1"/>
<text font-family="'Liberation Sans', sans-serif" font-size="10" fill="#333" text-anchor="end" x="706.0" y="97.7">20</text>
<path d="M712.3,171.7h-3" stroke="#555" stroke-width="1"/>
<text font-family="'Liberation Sans', sans-serif" font-size="10" fill="#333" text-anchor="end" x="706.0" y="175.2">10</text>
<path d="M712.3,249.3h-3" stroke="#555" stroke-width="1"/>
<text font-family="'Liberation Sans', sans-serif" font-size="10" fill="#333" text-anchor="end" x="706.0" y="252.8">0</text>
<path d="M712.3,326.8h-3" stroke="#555" stroke-width="1"/>
<text font-family="'Liberation Sans', sans-serif" font-size="10" fill="#333" text-anchor="end" x="706.0" y="330.3">−10</text>
<path d="M712.3,404.3h-3" stroke="#555" stroke-width="1"/>
<text font-family="'Liberation Sans', sans-serif" font-size="10" fill="#333" text-anchor="end" x="706.0" y="407.8">−20</text>
<text font-family="'Liberation Sans', sans-serif" font-size="12" fill="#333" text-anchor="middle" x="954.0" y="482.0">PC1(38.4%)</text>
<text font-family="'Liberation Sans', sans-serif" font-size="12" fill="#333" text-anchor="middle" transform="translate(684.0,253.0) rotate(-90)">PC2(31.3%)</text>
<circle cx="1129" cy="101.4" r="3.8" fill="#ee7468"/>
<circle cx="1130.5" cy="104.3" r="3.8" fill="#ee7468"/>
<circle cx="1150" cy="114.5" r="3.8" fill="#ee7468"/>
<path d="M783,238.0L787.6,246.2H778.4Z" fill="#76a82a"/>
<path d="M814.9,233.2L819.5,241.4H810.3Z" fill="#76a82a"/>
<path d="M794.6,262.59999999999997L799.2,270.8H790.0Z" fill="#76a82a"/>
<rect x="1125.7" y="362.4" width="7.2" height="7.2" fill="#22b0b8"/>
<rect x="1133.0" y="400.7" width="7.2" height="7.2" fill="#22b0b8"/>
<rect x="1146.0" y="397.79999999999995" width="7.2" height="7.2" fill="#22b0b8"/>
<path d="M1027.0,248.5h11M1032.5,243.0v11" stroke="#c9a6e0" stroke-width="1" fill="none"/>
<path d="M1028.5,247.5h11M1034.0,242.0v11" stroke="#c9a6e0" stroke-width="1" fill="none"/>
<path d="M1026.0,249.5h11M1031.5,244.0v11" stroke="#c9a6e0" stroke-width="1" fill="none"/>
<path d="M1029.0,249.0h11M1034.5,243.5v11" stroke="#c9a6e0" stroke-width="1" fill="none"/>
<text font-family="'Noto Sans CJK SC', 'Liberation Sans', sans-serif" font-size="26" fill="#1a1a1a" font-weight="500" textLength="91.6" lengthAdjust="spacingAndGlyphs" x="1093.7" y="92.4">BYW-3</text>
<text font-family="'Noto Sans CJK SC', 'Liberation Sans', sans-serif" font-size="26" fill="#1a1a1a" font-weight="500" textLength="89.6" lengthAdjust="spacingAndGlyphs" x="1037.1" y="120.7">BYW-1</text>
<text font-family="'Noto Sans CJK SC', 'Liberation Sans', sans-serif" font-size="26" fill="#1a1a1a" font-weight="500" textLength="91.0" lengthAdjust="spacingAndGlyphs" x="1087.1" y="146.0">BYW-2</text>
<text font-family="'Noto Sans CJK SC', 'Liberation Sans', sans-serif" font-size="26" fill="#1a1a1a" font-weight="500" textLength="63.6" lengthAdjust="spacingAndGlyphs" x="740.7" y="236.2">CS-1</text>
<text font-family="'Noto Sans CJK SC', 'Liberation Sans', sans-serif" font-size="26" fill="#1a1a1a" font-weight="500" textLength="63.9" lengthAdjust="spacingAndGlyphs" x="824.7" y="245.3">CS-2</text>
<text font-family="'Noto Sans CJK SC', 'Liberation Sans', sans-serif" font-size="26" fill="#1a1a1a" font-weight="500" textLength="63.8" lengthAdjust="spacingAndGlyphs" x="777.7" y="297.0">CS-3</text>
<text font-family="'Noto Sans CJK SC', 'Liberation Sans', sans-serif" font-size="26" fill="#1a1a1a" font-weight="500" textLength="86.0" lengthAdjust="spacingAndGlyphs" x="1105.9" y="359.8">HG2-2</text>
<text font-family="'Noto Sans CJK SC', 'Liberation Sans', sans-serif" font-size="26" fill="#1a1a1a" font-weight="500" textLength="86.6" lengthAdjust="spacingAndGlyphs" x="1098.0" y="397.8">HG2-1</text>
<text font-family="'Noto Sans CJK SC', 'Liberation Sans', sans-serif" font-size="26" fill="#1a1a1a" font-weight="500" textLength="87.1" lengthAdjust="spacingAndGlyphs" x="1055.9" y="430.4">HG2-3</text>
<text font-family="'Liberation Sans', sans-serif" font-size="12.7" fill="#222" x="1210.5" y="218.5">group</text>
<rect x="1210.5" y="223.0" width="18" height="18.4" fill="#fff" stroke="#e6e6e6" stroke-width="1"/>
<text font-family="'Liberation Sans', sans-serif" font-size="10" fill="#222" x="1231.5" y="235.7">BYW</text>
<rect x="1210.5" y="241.5" width="18" height="18.4" fill="#fff" stroke="#e6e6e6" stroke-width="1"/>
<text font-family="'Liberation Sans', sans-serif" font-size="10" fill="#222" x="1231.5" y="254.2">CS</text>
<rect x="1210.5" y="260.4" width="18" height="18.4" fill="#fff" stroke="#e6e6e6" stroke-width="1"/>
<text font-family="'Liberation Sans', sans-serif" font-size="10" fill="#222" x="1231.5" y="273.1">HG2</text>
<rect x="1210.5" y="279.2" width="18" height="18.4" fill="#fff" stroke="#e6e6e6" stroke-width="1"/>
<text font-family="'Liberation Sans', sans-serif" font-size="10" fill="#222" x="1231.5" y="291.9">QC</text>
<circle cx="1219.5" cy="232.2" r="3.6" fill="#ee7468"/>
<path d="M1219.5,246.3L1223.9,254.1H1215.1Z" fill="#76a82a"/>
<rect x="1216" y="266.1" width="7" height="7" fill="#22b0b8"/>
<path d="M1214.5,288.4h10M1219.5,283.4v10" stroke="#c9a6e0" stroke-width="1"/>
<text font-family="'Liberation Sans', sans-serif" font-size="30" fill="#222" textLength="57.6" lengthAdjust="spacingAndGlyphs" x="1624.3" y="46.7">PCA</text>
<rect x="1415.2" y="55" width="446.8" height="388.4" fill="#fff" stroke="#7a7a7a" stroke-width="2.2"/>
<path d="M1698.3,66.8V443.4" stroke="#c4c4c4" stroke-width="4.8" stroke-dasharray="20,15.5,5,15.5" fill="none"/>
<path d="M1415.4,248H1848.4" stroke="#c4c4c4" stroke-width="4.8" stroke-dasharray="5,15.5,20,15.5" fill="none"/>
<path d="M1543,443v4" stroke="#111" stroke-width="3.2"/>
<text font-family="'Liberation Sans', sans-serif" font-size="10" fill="#222" text-anchor="middle" x="1543.0" y="458.0">−20000</text>
<path d="M1698.3,443v4" stroke="#111" stroke-width="3.2"/>
<text font-family="'Liberation Sans', sans-serif" font-size="10" fill="#222" text-anchor="middle" x="1698.3" y="458.0">0</text>
<path d="M1855,443v4" stroke="#111" stroke-width="3.2"/>
<text font-family="'Liberation Sans', sans-serif" font-size="10" fill="#222" text-anchor="middle" x="1855.0" y="458.0">20000</text>
<path d="M1415,133.6h-4" stroke="#111" stroke-width="3.2"/>
<text font-family="'Liberation Sans', sans-serif" font-size="10" fill="#222" text-anchor="end" x="1408.5" y="137.2">10000</text>
<path d="M1415,248h-4" stroke="#111" stroke-width="3.2"/>
<text font-family="'Liberation Sans', sans-serif" font-size="10" fill="#222" text-anchor="end" x="1408.5" y="251.6">0</text>
<path d="M1415,362.3h-4" stroke="#111" stroke-width="3.2"/>
<text font-family="'Liberation Sans', sans-serif" font-size="10" fill="#222" text-anchor="end" x="1408.5" y="365.9">−10000</text>
<text font-family="'Liberation Sans', sans-serif" font-size="12" fill="#222" text-anchor="middle" x="1638.0" y="471.5">PC1(66.5%)</text>
<text font-family="'Liberation Sans', sans-serif" font-size="12" fill="#222" text-anchor="middle" transform="translate(1368.0,248.7) rotate(-90)">PC2(22.4%)</text>
<circle cx="1776" cy="134" r="2.2" fill="#f8766d"/>
<circle cx="1818.9" cy="100.8" r="2.2" fill="#d39200"/>
<circle cx="1817.2" cy="120.5" r="2.2" fill="#93aa00"/>
<path d="M1524,234.4L1526.5,238.8H1521.5Z" fill="#00ba38"/>
<path d="M1478.6,218.4L1481.1,222.8H1476.1Z" fill="#00b48f"/>
<path d="M1544.4,243.8L1546.9,248.2H1541.9Z" fill="#00b9e3"/>
<rect x="1767.8" y="383" width="4" height="4" fill="#619cff"/>
<rect x="1784.5" y="395" width="4" height="4" fill="#b983d6"/>
<rect x="1772" y="387" width="4" height="4" fill="#f067b8"/>
<text font-family="'Liberation Sans', sans-serif" font-size="28.5" fill="#111" textLength="99.1" lengthAdjust="spacingAndGlyphs" x="1749.4" y="97.5">BYW−2</text>
<text font-family="'Liberation Sans', sans-serif" font-size="28.5" fill="#111" textLength="98.6" lengthAdjust="spacingAndGlyphs" x="1714.3" y="128.5">BYW−3</text>
<text font-family="'Liberation Sans', sans-serif" font-size="28.5" fill="#111" textLength="97.3" lengthAdjust="spacingAndGlyphs" x="1726.0" y="156.3">BYW−1</text>
<text font-family="'Liberation Sans', sans-serif" font-size="28.5" fill="#111" textLength="73.6" lengthAdjust="spacingAndGlyphs" x="1439.5" y="213.7">CS−2</text>
<text font-family="'Liberation Sans', sans-serif" font-size="28.5" fill="#111" textLength="70.9" lengthAdjust="spacingAndGlyphs" x="1508.3" y="232.0">CS−1</text>
<text font-family="'Liberation Sans', sans-serif" font-size="28.5" fill="#111" textLength="72.9" lengthAdjust="spacingAndGlyphs" x="1517.3" y="272.0">CS−3</text>
<text font-family="'Liberation Sans', sans-serif" font-size="28.5" fill="#111" textLength="90.3" lengthAdjust="spacingAndGlyphs" x="1772.1" y="382.3">HG2−1</text>
<text font-family="'Liberation Sans', sans-serif" font-size="28.5" fill="#111" textLength="91.3" lengthAdjust="spacingAndGlyphs" x="1677.6" y="403.3">HG2−3</text>
<text font-family="'Liberation Sans', sans-serif" font-size="28.5" fill="#111" textLength="91.8" lengthAdjust="spacingAndGlyphs" x="1766.6" y="423.4">HG2−2</text>
<text font-family="'Liberation Sans', sans-serif" font-size="12.3" fill="#222" x="1876.0" y="129.2">Sample</text>
<rect x="1873.8" y="131.6" width="22" height="166.4" rx="3" fill="#cbcbcb"/>
<rect x="1878.2" y="135.9" width="14" height="14" fill="#fff"/>
<rect x="1878.2" y="153.6" width="14" height="14" fill="#fff"/>
<rect x="1878.2" y="171.3" width="14" height="14" fill="#fff"/>
<rect x="1878.2" y="189.3" width="14" height="14" fill="#fff"/>
<rect x="1878.2" y="207.0" width="14" height="14" fill="#fff"/>
<rect x="1878.2" y="224.7" width="14" height="14" fill="#fff"/>
<rect x="1878.2" y="243.4" width="14" height="14" fill="#fff"/>
<rect x="1878.2" y="261.4" width="14" height="14" fill="#fff"/>
<rect x="1878.2" y="279.1" width="14" height="14" fill="#fff"/>
<circle cx="1885.3" cy="142.9" r="3.8" fill="#f8766d"/>
<text font-family="'Liberation Sans', sans-serif" font-size="13.6" fill="#111" x="1896.7" y="147.6">BYW−1</text>
<circle cx="1885.3" cy="160.6" r="3.8" fill="#d39200"/>
<text font-family="'Liberation Sans', sans-serif" font-size="13.6" fill="#111" x="1896.7" y="165.3">BYW−2</text>
<circle cx="1885.3" cy="178.3" r="3.8" fill="#93aa00"/>
<text font-family="'Liberation Sans', sans-serif" font-size="13.6" fill="#111" x="1896.7" y="183.0">BYW−3</text>
<circle cx="1885.3" cy="196.3" r="3.8" fill="#00ba38"/>
<text font-family="'Liberation Sans', sans-serif" font-size="13.6" fill="#111" x="1896.7" y="201.0">CS−1</text>
<circle cx="1885.3" cy="214" r="3.8" fill="#00b48f"/>
<text font-family="'Liberation Sans', sans-serif" font-size="13.6" fill="#111" x="1896.7" y="218.7">CS−2</text>
<circle cx="1885.3" cy="231.7" r="3.8" fill="#00b9e3"/>
<text font-family="'Liberation Sans', sans-serif" font-size="13.6" fill="#111" x="1896.7" y="236.4">CS−3</text>
<circle cx="1885.3" cy="250.4" r="3.8" fill="#619cff"/>
<text font-family="'Liberation Sans', sans-serif" font-size="13.6" fill="#111" x="1896.7" y="255.1">HG2−1</text>
<circle cx="1885.3" cy="268.4" r="3.8" fill="#b983d6"/>
<text font-family="'Liberation Sans', sans-serif" font-size="13.6" fill="#111" x="1896.7" y="273.1">HG2−2</text>
<circle cx="1885.3" cy="286.1" r="3.8" fill="#f067b8"/>
<text font-family="'Liberation Sans', sans-serif" font-size="13.6" fill="#111" x="1896.7" y="290.8">HG2−3</text>
<text font-family="'Liberation Sans', sans-serif" font-size="12.3" fill="#222" x="1876.0" y="318.9">Group</text>
<rect x="1873.8" y="321.8" width="22" height="58.2" rx="3" fill="#cbcbcb"/>
<rect x="1878.2" y="325.9" width="14" height="14" fill="#fff"/>
<rect x="1878.2" y="343.9" width="14" height="14" fill="#fff"/>
<rect x="1878.2" y="362.0" width="14" height="14" fill="#fff"/>
<circle cx="1885.3" cy="332.9" r="2.2" fill="#111"/>
<text font-family="'Liberation Sans', sans-serif" font-size="13.6" fill="#111" x="1896.7" y="337.7">BYW</text>
<path d="M1885.3,348.29999999999995L1887.8,352.7H1882.8Z" fill="#111"/>
<text font-family="'Liberation Sans', sans-serif" font-size="13.6" fill="#111" x="1896.7" y="355.4">CS</text>
<rect x="1883.3" y="367" width="4" height="4" fill="#111"/>
<text font-family="'Liberation Sans', sans-serif" font-size="13.6" fill="#111" x="1896.7" y="373.8">HG2</text>
<text font-family="'Liberation Sans', sans-serif" font-size="30" fill="#231815" textLength="127.2" lengthAdjust="spacingAndGlyphs" x="321.0" y="558.0">CS-BYW</text>
<rect x="131.5" y="573.5" width="496.5" height="443.5" fill="#fff"/>
<path d="M153.7,573.5V1017M263.4,573.5V1017M373,573.5V1017M483,573.5V1017M593,573.5V1017M131.5,591.6H628M131.5,660.2H628M131.5,728.6H628M131.5,796.9H628M131.5,865.6H628M131.5,933.9H628M131.5,1002.2H628" stroke="#c6c6c6" stroke-width="1.6" fill="none"/>
<path d="M357.7,794.8l3.2,-3.2l3.2,3.2l-3.2,3.2zM379.6,799.7l3.2,-3.2l3.2,3.2l-3.2,3.2zM356.7,797.3l3.2,-3.2l3.2,3.2l-3.2,3.2zM374.5,790.9l3.2,-3.2l3.2,3.2l-3.2,3.2zM357.8,804.0l3.2,-3.2l3.2,3.2l-3.2,3.2zM376.8,794.3l3.2,-3.2l3.2,3.2l-3.2,3.2zM385.0,791.5l3.2,-3.2l3.2,3.2l-3.2,3.2zM368.8,798.4l3.2,-3.2l3.2,3.2l-3.2,3.2zM395.2,798.5l3.2,-3.2l3.2,3.2l-3.2,3.2zM362.0,803.1l3.2,-3.2l3.2,3.2l-3.2,3.2zM370.7,796.1l3.2,-3.2l3.2,3.2l-3.2,3.2zM366.4,797.2l3.2,-3.2l3.2,3.2l-3.2,3.2zM372.5,793.1l3.2,-3.2l3.2,3.2l-3.2,3.2zM380.6,795.8l3.2,-3.2l3.2,3.2l-3.2,3.2zM352.1,793.1l3.2,-3.2l3.2,3.2l-3.2,3.2zM355.8,797.8l3.2,-3.2l3.2,3.2l-3.2,3.2zM355.2,796.9l3.2,-3.2l3.2,3.2l-3.2,3.2zM362.1,795.7l3.2,-3.2l3.2,3.2l-3.2,3.2zM402.4,797.2l3.2,-3.2l3.2,3.2l-3.2,3.2zM378.1,804.1l3.2,-3.2l3.2,3.2l-3.2,3.2zM367.0,793.3l3.2,-3.2l3.2,3.2l-3.2,3.2zM368.9,794.9l3.2,-3.2l3.2,3.2l-3.2,3.2zM370.8,802.4l3.2,-3.2l3.2,3.2l-3.2,3.2zM375.4,801.3l3.2,-3.2l3.2,3.2l-3.2,3.2zM388.3,799.7l3.2,-3.2l3.2,3.2l-3.2,3.2zM376.6,796.9l3.2,-3.2l3.2,3.2l-3.2,3.2zM379.2,800.2l3.2,-3.2l3.2,3.2l-3.2,3.2zM379.7,797.6l3.2,-3.2l3.2,3.2l-3.2,3.2zM382.3,793.5l3.2,-3.2l3.2,3.2l-3.2,3.2zM371.2,801.2l3.2,-3.2l3.2,3.2l-3.2,3.2zM377.4,794.3l3.2,-3.2l3.2,3.2l-3.2,3.2zM386.0,799.0l3.2,-3.2l3.2,3.2l-3.2,3.2zM375.3,794.1l3.2,-3.2l3.2,3.2l-3.2,3.2zM372.6,795.8l3.2,-3.2l3.2,3.2l-3.2,3.2zM371.6,800.2l3.2,-3.2l3.2,3.2l-3.2,3.2zM359.8,799.1l3.2,-3.2l3.2,3.2l-3.2,3.2zM375.6,788.6l3.2,-3.2l3.2,3.2l-3.2,3.2zM379.5,791.1l3.2,-3.2l3.2,3.2l-3.2,3.2zM377.5,793.1l3.2,-3.2l3.2,3.2l-3.2,3.2zM371.6,792.7l3.2,-3.2l3.2,3.2l-3.2,3.2zM387.3,798.7l3.2,-3.2l3.2,3.2l-3.2,3.2zM362.9,786.2l3.2,-3.2l3.2,3.2l-3.2,3.2zM372.2,791.6l3.2,-3.2l3.2,3.2l-3.2,3.2zM378.4,803.1l3.2,-3.2l3.2,3.2l-3.2,3.2zM393.9,787.2l3.2,-3.2l3.2,3.2l-3.2,3.2zM371.5,792.8l3.2,-3.2l3.2,3.2l-3.2,3.2zM371.1,801.7l3.2,-3.2l3.2,3.2l-3.2,3.2zM368.7,794.9l3.2,-3.2l3.2,3.2l-3.2,3.2zM380.8,793.0l3.2,-3.2l3.2,3.2l-3.2,3.2zM370.4,789.5l3.2,-3.2l3.2,3.2l-3.2,3.2zM362.3,792.6l3.2,-3.2l3.2,3.2l-3.2,3.2zM380.8,798.5l3.2,-3.2l3.2,3.2l-3.2,3.2zM352.1,801.9l3.2,-3.2l3.2,3.2l-3.2,3.2zM372.1,794.0l3.2,-3.2l3.2,3.2l-3.2,3.2zM385.1,802.4l3.2,-3.2l3.2,3.2l-3.2,3.2zM369.8,793.3l3.2,-3.2l3.2,3.2l-3.2,3.2zM368.2,809.9l3.2,-3.2l3.2,3.2l-3.2,3.2zM377.8,784.2l3.2,-3.2l3.2,3.2l-3.2,3.2zM379.7,801.9l3.2,-3.2l3.2,3.2l-3.2,3.2zM365.7,795.7l3.2,-3.2l3.2,3.2l-3.2,3.2zM394.4,793.5l3.2,-3.2l3.2,3.2l-3.2,3.2zM370.9,788.4l3.2,-3.2l3.2,3.2l-3.2,3.2zM369.0,786.7l3.2,-3.2l3.2,3.2l-3.2,3.2zM363.0,799.5l3.2,-3.2l3.2,3.2l-3.2,3.2zM376.9,789.1l3.2,-3.2l3.2,3.2l-3.2,3.2zM376.3,795.2l3.2,-3.2l3.2,3.2l-3.2,3.2zM351.8,800.8l3.2,-3.2l3.2,3.2l-3.2,3.2zM363.8,799.8l3.2,-3.2l3.2,3.2l-3.2,3.2zM375.6,798.7l3.2,-3.2l3.2,3.2l-3.2,3.2zM377.6,796.4l3.2,-3.2l3.2,3.2l-3.2,3.2zM366.5,796.3l3.2,-3.2l3.2,3.2l-3.2,3.2zM374.0,792.2l3.2,-3.2l3.2,3.2l-3.2,3.2zM365.1,798.2l3.2,-3.2l3.2,3.2l-3.2,3.2zM356.3,788.1l3.2,-3.2l3.2,3.2l-3.2,3.2zM384.1,797.9l3.2,-3.2l3.2,3.2l-3.2,3.2zM365.1,803.7l3.2,-3.2l3.2,3.2l-3.2,3.2zM371.5,795.8l3.2,-3.2l3.2,3.2l-3.2,3.2zM391.4,795.6l3.2,-3.2l3.2,3.2l-3.2,3.2zM362.1,810.3l3.2,-3.2l3.2,3.2l-3.2,3.2zM383.7,795.9l3.2,-3.2l3.2,3.2l-3.2,3.2zM353.9,795.9l3.2,-3.2l3.2,3.2l-3.2,3.2zM353.9,777.8l3.2,-3.2l3.2,3.2l-3.2,3.2zM380.9,793.8l3.2,-3.2l3.2,3.2l-3.2,3.2zM368.1,808.6l3.2,-3.2l3.2,3.2l-3.2,3.2zM368.6,805.4l3.2,-3.2l3.2,3.2l-3.2,3.2zM375.7,808.6l3.2,-3.2l3.2,3.2l-3.2,3.2zM360.8,790.2l3.2,-3.2l3.2,3.2l-3.2,3.2zM386.0,803.4l3.2,-3.2l3.2,3.2l-3.2,3.2zM354.6,792.1l3.2,-3.2l3.2,3.2l-3.2,3.2zM378.2,802.3l3.2,-3.2l3.2,3.2l-3.2,3.2zM362.9,800.7l3.2,-3.2l3.2,3.2l-3.2,3.2zM358.0,800.6l3.2,-3.2l3.2,3.2l-3.2,3.2zM382.2,793.1l3.2,-3.2l3.2,3.2l-3.2,3.2zM390.1,797.4l3.2,-3.2l3.2,3.2l-3.2,3.2zM368.5,802.3l3.2,-3.2l3.2,3.2l-3.2,3.2zM368.6,804.1l3.2,-3.2l3.2,3.2l-3.2,3.2zM352.2,793.1l3.2,-3.2l3.2,3.2l-3.2,3.2zM384.0,792.3l3.2,-3.2l3.2,3.2l-3.2,3.2zM383.0,795.5l3.2,-3.2l3.2,3.2l-3.2,3.2zM362.7,796.4l3.2,-3.2l3.2,3.2l-3.2,3.2zM366.1,803.0l3.2,-3.2l3.2,3.2l-3.2,3.2zM353.1,805.0l3.2,-3.2l3.2,3.2l-3.2,3.2zM369.7,796.1l3.2,-3.2l3.2,3.2l-3.2,3.2zM365.1,789.1l3.2,-3.2l3.2,3.2l-3.2,3.2zM371.6,793.7l3.2,-3.2l3.2,3.2l-3.2,3.2zM381.8,801.4l3.2,-3.2l3.2,3.2l-3.2,3.2zM350.3,792.8l3.2,-3.2l3.2,3.2l-3.2,3.2zM363.0,789.7l3.2,-3.2l3.2,3.2l-3.2,3.2zM373.1,791.4l3.2,-3.2l3.2,3.2l-3.2,3.2zM377.3,808.3l3.2,-3.2l3.2,3.2l-3.2,3.2zM376.9,800.6l3.2,-3.2l3.2,3.2l-3.2,3.2zM362.3,799.3l3.2,-3.2l3.2,3.2l-3.2,3.2zM377.4,792.1l3.2,-3.2l3.2,3.2l-3.2,3.2zM379.8,806.0l3.2,-3.2l3.2,3.2l-3.2,3.2zM364.0,809.9l3.2,-3.2l3.2,3.2l-3.2,3.2zM368.8,793.6l3.2,-3.2l3.2,3.2l-3.2,3.2zM362.2,795.6l3.2,-3.2l3.2,3.2l-3.2,3.2zM372.1,791.4l3.2,-3.2l3.2,3.2l-3.2,3.2zM361.7,801.4l3.2,-3.2l3.2,3.2l-3.2,3.2zM362.3,787.3l3.2,-3.2l3.2,3.2l-3.2,3.2zM380.6,797.6l3.2,-3.2l3.2,3.2l-3.2,3.2zM372.0,796.3l3.2,-3.2l3.2,3.2l-3.2,3.2zM371.8,798.0l3.2,-3.2l3.2,3.2l-3.2,3.2zM366.5,803.8l3.2,-3.2l3.2,3.2l-3.2,3.2zM363.5,787.9l3.2,-3.2l3.2,3.2l-3.2,3.2zM375.1,796.5l3.2,-3.2l3.2,3.2l-3.2,3.2zM367.7,796.6l3.2,-3.2l3.2,3.2l-3.2,3.2zM373.3,800.4l3.2,-3.2l3.2,3.2l-3.2,3.2zM371.7,795.6l3.2,-3.2l3.2,3.2l-3.2,3.2zM362.4,801.2l3.2,-3.2l3.2,3.2l-3.2,3.2zM359.9,802.7l3.2,-3.2l3.2,3.2l-3.2,3.2zM378.6,809.8l3.2,-3.2l3.2,3.2l-3.2,3.2zM367.2,800.2l3.2,-3.2l3.2,3.2l-3.2,3.2zM363.7,796.4l3.2,-3.2l3.2,3.2l-3.2,3.2zM380.9,796.5l3.2,-3.2l3.2,3.2l-3.2,3.2zM368.4,800.3l3.2,-3.2l3.2,3.2l-3.2,3.2zM368.5,791.9l3.2,-3.2l3.2,3.2l-3.2,3.2zM365.9,803.2l3.2,-3.2l3.2,3.2l-3.2,3.2zM357.3,803.0l3.2,-3.2l3.2,3.2l-3.2,3.2zM356.1,790.9l3.2,-3.2l3.2,3.2l-3.2,3.2zM373.3,798.2l3.2,-3.2l3.2,3.2l-3.2,3.2zM384.2,800.5l3.2,-3.2l3.2,3.2l-3.2,3.2zM377.2,792.5l3.2,-3.2l3.2,3.2l-3.2,3.2zM354.5,805.4l3.2,-3.2l3.2,3.2l-3.2,3.2zM360.6,791.9l3.2,-3.2l3.2,3.2l-3.2,3.2zM382.6,803.6l3.2,-3.2l3.2,3.2l-3.2,3.2zM380.2,799.0l3.2,-3.2l3.2,3.2l-3.2,3.2zM365.9,799.9l3.2,-3.2l3.2,3.2l-3.2,3.2zM366.6,806.9l3.2,-3.2l3.2,3.2l-3.2,3.2zM359.9,803.7l3.2,-3.2l3.2,3.2l-3.2,3.2zM374.6,785.5l3.2,-3.2l3.2,3.2l-3.2,3.2zM396.8,798.7l3.2,-3.2l3.2,3.2l-3.2,3.2zM352.8,799.1l3.2,-3.2l3.2,3.2l-3.2,3.2zM360.5,786.0l3.2,-3.2l3.2,3.2l-3.2,3.2zM375.4,800.9l3.2,-3.2l3.2,3.2l-3.2,3.2zM379.0,794.0l3.2,-3.2l3.2,3.2l-3.2,3.2zM353.7,799.8l3.2,-3.2l3.2,3.2l-3.2,3.2zM367.4,796.8l3.2,-3.2l3.2,3.2l-3.2,3.2zM371.1,798.8l3.2,-3.2l3.2,3.2l-3.2,3.2zM371.7,800.1l3.2,-3.2l3.2,3.2l-3.2,3.2zM360.9,788.6l3.2,-3.2l3.2,3.2l-3.2,3.2zM373.4,794.5l3.2,-3.2l3.2,3.2l-3.2,3.2zM354.0,797.8l3.2,-3.2l3.2,3.2l-3.2,3.2zM377.9,804.0l3.2,-3.2l3.2,3.2l-3.2,3.2zM380.7,799.0l3.2,-3.2l3.2,3.2l-3.2,3.2zM373.8,797.6l3.2,-3.2l3.2,3.2l-3.2,3.2zM372.0,790.3l3.2,-3.2l3.2,3.2l-3.2,3.2zM365.8,788.3l3.2,-3.2l3.2,3.2l-3.2,3.2zM362.1,802.0l3.2,-3.2l3.2,3.2l-3.2,3.2zM376.8,802.7l3.2,-3.2l3.2,3.2l-3.2,3.2zM366.1,791.9l3.2,-3.2l3.2,3.2l-3.2,3.2zM381.8,806.6l3.2,-3.2l3.2,3.2l-3.2,3.2zM374.8,786.6l3.2,-3.2l3.2,3.2l-3.2,3.2zM381.6,798.2l3.2,-3.2l3.2,3.2l-3.2,3.2zM363.9,798.5l3.2,-3.2l3.2,3.2l-3.2,3.2zM358.4,798.3l3.2,-3.2l3.2,3.2l-3.2,3.2zM367.9,797.7l3.2,-3.2l3.2,3.2l-3.2,3.2zM381.5,798.2l3.2,-3.2l3.2,3.2l-3.2,3.2zM355.4,791.1l3.2,-3.2l3.2,3.2l-3.2,3.2zM359.2,799.3l3.2,-3.2l3.2,3.2l-3.2,3.2zM368.5,798.8l3.2,-3.2l3.2,3.2l-3.2,3.2zM359.9,798.3l3.2,-3.2l3.2,3.2l-3.2,3.2zM391.4,800.2l3.2,-3.2l3.2,3.2l-3.2,3.2zM368.5,790.7l3.2,-3.2l3.2,3.2l-3.2,3.2zM377.2,792.7l3.2,-3.2l3.2,3.2l-3.2,3.2zM378.3,807.7l3.2,-3.2l3.2,3.2l-3.2,3.2zM361.3,796.2l3.2,-3.2l3.2,3.2l-3.2,3.2zM374.7,789.8l3.2,-3.2l3.2,3.2l-3.2,3.2zM374.4,798.2l3.2,-3.2l3.2,3.2l-3.2,3.2zM370.2,798.1l3.2,-3.2l3.2,3.2l-3.2,3.2zM372.2,793.2l3.2,-3.2l3.2,3.2l-3.2,3.2zM366.4,801.4l3.2,-3.2l3.2,3.2l-3.2,3.2zM361.4,790.9l3.2,-3.2l3.2,3.2l-3.2,3.2zM382.5,791.5l3.2,-3.2l3.2,3.2l-3.2,3.2zM378.3,792.3l3.2,-3.2l3.2,3.2l-3.2,3.2zM369.8,793.3l3.2,-3.2l3.2,3.2l-3.2,3.2zM359.4,798.0l3.2,-3.2l3.2,3.2l-3.2,3.2zM362.5,792.9l3.2,-3.2l3.2,3.2l-3.2,3.2zM364.1,797.5l3.2,-3.2l3.2,3.2l-3.2,3.2zM373.8,789.5l3.2,-3.2l3.2,3.2l-3.2,3.2zM362.0,802.0l3.2,-3.2l3.2,3.2l-3.2,3.2zM377.9,803.0l3.2,-3.2l3.2,3.2l-3.2,3.2zM374.3,800.0l3.2,-3.2l3.2,3.2l-3.2,3.2zM368.8,806.9l3.2,-3.2l3.2,3.2l-3.2,3.2zM376.9,799.6l3.2,-3.2l3.2,3.2l-3.2,3.2zM360.9,785.5l3.2,-3.2l3.2,3.2l-3.2,3.2zM376.8,777.7l3.2,-3.2l3.2,3.2l-3.2,3.2zM373.8,798.8l3.2,-3.2l3.2,3.2l-3.2,3.2zM370.9,788.1l3.2,-3.2l3.2,3.2l-3.2,3.2zM369.5,794.4l3.2,-3.2l3.2,3.2l-3.2,3.2zM374.9,801.9l3.2,-3.2l3.2,3.2l-3.2,3.2zM371.1,799.7l3.2,-3.2l3.2,3.2l-3.2,3.2zM357.5,792.1l3.2,-3.2l3.2,3.2l-3.2,3.2zM376.4,796.5l3.2,-3.2l3.2,3.2l-3.2,3.2zM360.8,807.9l3.2,-3.2l3.2,3.2l-3.2,3.2zM374.6,797.4l3.2,-3.2l3.2,3.2l-3.2,3.2zM353.2,797.2l3.2,-3.2l3.2,3.2l-3.2,3.2zM354.8,797.0l3.2,-3.2l3.2,3.2l-3.2,3.2zM371.2,795.0l3.2,-3.2l3.2,3.2l-3.2,3.2zM371.9,796.0l3.2,-3.2l3.2,3.2l-3.2,3.2zM358.5,799.0l3.2,-3.2l3.2,3.2l-3.2,3.2zM364.7,798.2l3.2,-3.2l3.2,3.2l-3.2,3.2zM372.5,793.5l3.2,-3.2l3.2,3.2l-3.2,3.2zM386.0,811.0l3.2,-3.2l3.2,3.2l-3.2,3.2zM373.8,798.0l3.2,-3.2l3.2,3.2l-3.2,3.2zM392.3,791.8l3.2,-3.2l3.2,3.2l-3.2,3.2zM353.5,794.7l3.2,-3.2l3.2,3.2l-3.2,3.2zM364.7,791.5l3.2,-3.2l3.2,3.2l-3.2,3.2zM359.4,797.5l3.2,-3.2l3.2,3.2l-3.2,3.2zM368.5,797.4l3.2,-3.2l3.2,3.2l-3.2,3.2zM364.0,807.0l3.2,-3.2l3.2,3.2l-3.2,3.2zM374.4,791.4l3.2,-3.2l3.2,3.2l-3.2,3.2zM369.1,802.5l3.2,-3.2l3.2,3.2l-3.2,3.2zM371.8,793.8l3.2,-3.2l3.2,3.2l-3.2,3.2zM368.1,797.0l3.2,-3.2l3.2,3.2l-3.2,3.2zM383.7,803.0l3.2,-3.2l3.2,3.2l-3.2,3.2zM364.3,807.3l3.2,-3.2l3.2,3.2l-3.2,3.2zM362.9,800.9l3.2,-3.2l3.2,3.2l-3.2,3.2zM360.3,800.7l3.2,-3.2l3.2,3.2l-3.2,3.2zM387.6,798.0l3.2,-3.2l3.2,3.2l-3.2,3.2zM368.7,784.9l3.2,-3.2l3.2,3.2l-3.2,3.2zM369.2,806.4l3.2,-3.2l3.2,3.2l-3.2,3.2zM373.8,802.0l3.2,-3.2l3.2,3.2l-3.2,3.2zM386.0,803.7l3.2,-3.2l3.2,3.2l-3.2,3.2zM364.1,805.7l3.2,-3.2l3.2,3.2l-3.2,3.2zM370.8,802.5l3.2,-3.2l3.2,3.2l-3.2,3.2zM369.2,799.0l3.2,-3.2l3.2,3.2l-3.2,3.2zM363.7,791.7l3.2,-3.2l3.2,3.2l-3.2,3.2zM379.0,796.6l3.2,-3.2l3.2,3.2l-3.2,3.2zM360.9,802.8l3.2,-3.2l3.2,3.2l-3.2,3.2zM372.5,783.8l3.2,-3.2l3.2,3.2l-3.2,3.2zM365.3,801.2l3.2,-3.2l3.2,3.2l-3.2,3.2zM362.9,802.9l3.2,-3.2l3.2,3.2l-3.2,3.2zM360.2,798.0l3.2,-3.2l3.2,3.2l-3.2,3.2zM384.0,796.9l3.2,-3.2l3.2,3.2l-3.2,3.2zM364.8,805.7l3.2,-3.2l3.2,3.2l-3.2,3.2zM371.9,797.0l3.2,-3.2l3.2,3.2l-3.2,3.2zM357.7,802.8l3.2,-3.2l3.2,3.2l-3.2,3.2zM369.4,791.4l3.2,-3.2l3.2,3.2l-3.2,3.2zM376.0,795.8l3.2,-3.2l3.2,3.2l-3.2,3.2zM366.6,795.1l3.2,-3.2l3.2,3.2l-3.2,3.2zM369.7,785.0l3.2,-3.2l3.2,3.2l-3.2,3.2zM358.6,798.9l3.2,-3.2l3.2,3.2l-3.2,3.2zM382.3,798.4l3.2,-3.2l3.2,3.2l-3.2,3.2zM383.9,797.1l3.2,-3.2l3.2,3.2l-3.2,3.2zM371.2,798.9l3.2,-3.2l3.2,3.2l-3.2,3.2zM356.2,802.2l3.2,-3.2l3.2,3.2l-3.2,3.2zM391.7,793.4l3.2,-3.2l3.2,3.2l-3.2,3.2zM375.8,791.7l3.2,-3.2l3.2,3.2l-3.2,3.2zM375.4,791.3l3.2,-3.2l3.2,3.2l-3.2,3.2zM367.2,798.1l3.2,-3.2l3.2,3.2l-3.2,3.2zM379.5,798.8l3.2,-3.2l3.2,3.2l-3.2,3.2zM356.6,798.1l3.2,-3.2l3.2,3.2l-3.2,3.2zM364.4,793.5l3.2,-3.2l3.2,3.2l-3.2,3.2zM362.7,802.7l3.2,-3.2l3.2,3.2l-3.2,3.2zM366.5,788.4l3.2,-3.2l3.2,3.2l-3.2,3.2zM369.3,796.0l3.2,-3.2l3.2,3.2l-3.2,3.2zM369.9,795.3l3.2,-3.2l3.2,3.2l-3.2,3.2zM379.0,789.3l3.2,-3.2l3.2,3.2l-3.2,3.2zM353.5,789.4l3.2,-3.2l3.2,3.2l-3.2,3.2zM369.8,798.7l3.2,-3.2l3.2,3.2l-3.2,3.2zM393.5,797.8l3.2,-3.2l3.2,3.2l-3.2,3.2zM389.0,791.6l3.2,-3.2l3.2,3.2l-3.2,3.2zM359.6,794.2l3.2,-3.2l3.2,3.2l-3.2,3.2zM377.1,797.6l3.2,-3.2l3.2,3.2l-3.2,3.2zM346.8,798.8l3.2,-3.2l3.2,3.2l-3.2,3.2zM367.9,803.0l3.2,-3.2l3.2,3.2l-3.2,3.2zM387.8,798.2l3.2,-3.2l3.2,3.2l-3.2,3.2zM365.9,798.5l3.2,-3.2l3.2,3.2l-3.2,3.2zM362.1,801.1l3.2,-3.2l3.2,3.2l-3.2,3.2zM370.7,795.2l3.2,-3.2l3.2,3.2l-3.2,3.2zM364.8,797.4l3.2,-3.2l3.2,3.2l-3.2,3.2zM356.1,794.0l3.2,-3.2l3.2,3.2l-3.2,3.2zM362.4,795.7l3.2,-3.2l3.2,3.2l-3.2,3.2zM360.8,799.7l3.2,-3.2l3.2,3.2l-3.2,3.2zM371.9,803.5l3.2,-3.2l3.2,3.2l-3.2,3.2zM394.2,797.1l3.2,-3.2l3.2,3.2l-3.2,3.2zM369.1,800.9l3.2,-3.2l3.2,3.2l-3.2,3.2zM385.6,789.3l3.2,-3.2l3.2,3.2l-3.2,3.2zM372.8,804.4l3.2,-3.2l3.2,3.2l-3.2,3.2zM364.8,793.5l3.2,-3.2l3.2,3.2l-3.2,3.2zM364.7,803.4l3.2,-3.2l3.2,3.2l-3.2,3.2zM358.1,801.1l3.2,-3.2l3.2,3.2l-3.2,3.2zM369.9,800.5l3.2,-3.2l3.2,3.2l-3.2,3.2zM370.0,781.6l3.2,-3.2l3.2,3.2l-3.2,3.2zM387.3,802.6l3.2,-3.2l3.2,3.2l-3.2,3.2zM373.2,796.4l3.2,-3.2l3.2,3.2l-3.2,3.2zM368.4,791.2l3.2,-3.2l3.2,3.2l-3.2,3.2zM366.5,798.7l3.2,-3.2l3.2,3.2l-3.2,3.2zM366.1,797.4l3.2,-3.2l3.2,3.2l-3.2,3.2zM382.5,792.7l3.2,-3.2l3.2,3.2l-3.2,3.2zM356.5,799.3l3.2,-3.2l3.2,3.2l-3.2,3.2zM361.9,792.4l3.2,-3.2l3.2,3.2l-3.2,3.2zM372.0,792.0l3.2,-3.2l3.2,3.2l-3.2,3.2zM369.2,807.3l3.2,-3.2l3.2,3.2l-3.2,3.2zM374.3,795.7l3.2,-3.2l3.2,3.2l-3.2,3.2zM374.8,804.0l3.2,-3.2l3.2,3.2l-3.2,3.2zM370.6,800.7l3.2,-3.2l3.2,3.2l-3.2,3.2zM363.0,795.0l3.2,-3.2l3.2,3.2l-3.2,3.2zM373.3,801.8l3.2,-3.2l3.2,3.2l-3.2,3.2zM352.9,810.4l3.2,-3.2l3.2,3.2l-3.2,3.2zM364.1,790.8l3.2,-3.2l3.2,3.2l-3.2,3.2zM369.3,809.2l3.2,-3.2l3.2,3.2l-3.2,3.2zM361.3,794.6l3.2,-3.2l3.2,3.2l-3.2,3.2zM386.3,790.5l3.2,-3.2l3.2,3.2l-3.2,3.2zM373.4,795.8l3.2,-3.2l3.2,3.2l-3.2,3.2zM359.3,799.4l3.2,-3.2l3.2,3.2l-3.2,3.2zM366.5,801.1l3.2,-3.2l3.2,3.2l-3.2,3.2zM370.4,799.1l3.2,-3.2l3.2,3.2l-3.2,3.2zM373.1,789.0l3.2,-3.2l3.2,3.2l-3.2,3.2zM377.1,794.6l3.2,-3.2l3.2,3.2l-3.2,3.2zM367.4,805.2l3.2,-3.2l3.2,3.2l-3.2,3.2zM368.7,793.9l3.2,-3.2l3.2,3.2l-3.2,3.2zM359.8,790.0l3.2,-3.2l3.2,3.2l-3.2,3.2zM366.5,794.9l3.2,-3.2l3.2,3.2l-3.2,3.2zM366.6,803.8l3.2,-3.2l3.2,3.2l-3.2,3.2zM390.2,803.3l3.2,-3.2l3.2,3.2l-3.2,3.2zM378.9,799.9l3.2,-3.2l3.2,3.2l-3.2,3.2zM372.6,801.3l3.2,-3.2l3.2,3.2l-3.2,3.2zM365.7,791.9l3.2,-3.2l3.2,3.2l-3.2,3.2zM389.0,801.5l3.2,-3.2l3.2,3.2l-3.2,3.2zM369.9,791.7l3.2,-3.2l3.2,3.2l-3.2,3.2zM363.6,793.0l3.2,-3.2l3.2,3.2l-3.2,3.2zM362.0,793.6l3.2,-3.2l3.2,3.2l-3.2,3.2zM374.1,790.3l3.2,-3.2l3.2,3.2l-3.2,3.2zM373.4,803.4l3.2,-3.2l3.2,3.2l-3.2,3.2zM376.4,802.9l3.2,-3.2l3.2,3.2l-3.2,3.2zM377.2,788.6l3.2,-3.2l3.2,3.2l-3.2,3.2zM375.7,799.9l3.2,-3.2l3.2,3.2l-3.2,3.2zM381.6,796.0l3.2,-3.2l3.2,3.2l-3.2,3.2zM357.5,798.8l3.2,-3.2l3.2,3.2l-3.2,3.2zM383.8,798.6l3.2,-3.2l3.2,3.2l-3.2,3.2zM371.0,798.8l3.2,-3.2l3.2,3.2l-3.2,3.2zM353.1,799.7l3.2,-3.2l3.2,3.2l-3.2,3.2zM373.3,795.8l3.2,-3.2l3.2,3.2l-3.2,3.2zM368.1,808.6l3.2,-3.2l3.2,3.2l-3.2,3.2zM381.9,793.0l3.2,-3.2l3.2,3.2l-3.2,3.2zM379.9,789.8l3.2,-3.2l3.2,3.2l-3.2,3.2zM365.4,800.2l3.2,-3.2l3.2,3.2l-3.2,3.2zM372.9,787.7l3.2,-3.2l3.2,3.2l-3.2,3.2zM353.1,798.2l3.2,-3.2l3.2,3.2l-3.2,3.2zM362.7,793.8l3.2,-3.2l3.2,3.2l-3.2,3.2zM384.3,798.5l3.2,-3.2l3.2,3.2l-3.2,3.2zM357.5,796.6l3.2,-3.2l3.2,3.2l-3.2,3.2zM367.0,805.3l3.2,-3.2l3.2,3.2l-3.2,3.2zM378.5,799.8l3.2,-3.2l3.2,3.2l-3.2,3.2zM376.6,804.1l3.2,-3.2l3.2,3.2l-3.2,3.2zM380.6,804.8l3.2,-3.2l3.2,3.2l-3.2,3.2zM380.2,806.8l3.2,-3.2l3.2,3.2l-3.2,3.2zM383.4,799.0l3.2,-3.2l3.2,3.2l-3.2,3.2zM354.4,798.2l3.2,-3.2l3.2,3.2l-3.2,3.2zM373.1,802.3l3.2,-3.2l3.2,3.2l-3.2,3.2zM364.9,795.4l3.2,-3.2l3.2,3.2l-3.2,3.2zM368.1,813.7l3.2,-3.2l3.2,3.2l-3.2,3.2zM365.6,794.6l3.2,-3.2l3.2,3.2l-3.2,3.2zM372.7,791.4l3.2,-3.2l3.2,3.2l-3.2,3.2zM363.0,782.9l3.2,-3.2l3.2,3.2l-3.2,3.2zM377.7,795.2l3.2,-3.2l3.2,3.2l-3.2,3.2zM380.5,791.7l3.2,-3.2l3.2,3.2l-3.2,3.2zM370.8,800.3l3.2,-3.2l3.2,3.2l-3.2,3.2zM379.9,794.6l3.2,-3.2l3.2,3.2l-3.2,3.2zM351.1,802.9l3.2,-3.2l3.2,3.2l-3.2,3.2zM374.4,796.3l3.2,-3.2l3.2,3.2l-3.2,3.2zM372.6,793.4l3.2,-3.2l3.2,3.2l-3.2,3.2zM371.2,788.2l3.2,-3.2l3.2,3.2l-3.2,3.2zM364.0,799.1l3.2,-3.2l3.2,3.2l-3.2,3.2zM373.0,792.8l3.2,-3.2l3.2,3.2l-3.2,3.2zM377.6,788.8l3.2,-3.2l3.2,3.2l-3.2,3.2zM365.1,790.5l3.2,-3.2l3.2,3.2l-3.2,3.2zM374.4,802.6l3.2,-3.2l3.2,3.2l-3.2,3.2zM368.4,785.5l3.2,-3.2l3.2,3.2l-3.2,3.2zM377.6,799.5l3.2,-3.2l3.2,3.2l-3.2,3.2zM346.1,800.9l3.2,-3.2l3.2,3.2l-3.2,3.2zM362.9,796.5l3.2,-3.2l3.2,3.2l-3.2,3.2zM392.6,792.8l3.2,-3.2l3.2,3.2l-3.2,3.2zM372.9,802.0l3.2,-3.2l3.2,3.2l-3.2,3.2zM358.1,798.0l3.2,-3.2l3.2,3.2l-3.2,3.2zM365.2,780.4l3.2,-3.2l3.2,3.2l-3.2,3.2zM365.8,800.3l3.2,-3.2l3.2,3.2l-3.2,3.2zM381.0,796.5l3.2,-3.2l3.2,3.2l-3.2,3.2zM357.6,789.8l3.2,-3.2l3.2,3.2l-3.2,3.2zM366.7,804.2l3.2,-3.2l3.2,3.2l-3.2,3.2zM373.0,794.2l3.2,-3.2l3.2,3.2l-3.2,3.2zM366.5,793.1l3.2,-3.2l3.2,3.2l-3.2,3.2zM377.9,801.7l3.2,-3.2l3.2,3.2l-3.2,3.2zM349.5,810.0l3.2,-3.2l3.2,3.2l-3.2,3.2zM368.5,790.2l3.2,-3.2l3.2,3.2l-3.2,3.2zM379.7,789.3l3.2,-3.2l3.2,3.2l-3.2,3.2zM388.1,796.8l3.2,-3.2l3.2,3.2l-3.2,3.2zM380.2,805.3l3.2,-3.2l3.2,3.2l-3.2,3.2zM376.6,794.8l3.2,-3.2l3.2,3.2l-3.2,3.2zM368.9,799.3l3.2,-3.2l3.2,3.2l-3.2,3.2zM358.8,796.1l3.2,-3.2l3.2,3.2l-3.2,3.2zM382.4,798.9l3.2,-3.2l3.2,3.2l-3.2,3.2zM375.1,800.5l3.2,-3.2l3.2,3.2l-3.2,3.2zM372.3,802.4l3.2,-3.2l3.2,3.2l-3.2,3.2zM373.5,798.1l3.2,-3.2l3.2,3.2l-3.2,3.2zM372.9,800.2l3.2,-3.2l3.2,3.2l-3.2,3.2zM358.2,798.7l3.2,-3.2l3.2,3.2l-3.2,3.2zM380.0,788.3l3.2,-3.2l3.2,3.2l-3.2,3.2zM336.6,795.7l3.2,-3.2l3.2,3.2l-3.2,3.2zM355.7,797.3l3.2,-3.2l3.2,3.2l-3.2,3.2zM315.1,797.6l3.2,-3.2l3.2,3.2l-3.2,3.2zM325.3,794.1l3.2,-3.2l3.2,3.2l-3.2,3.2zM356.2,796.4l3.2,-3.2l3.2,3.2l-3.2,3.2zM297.8,796.4l3.2,-3.2l3.2,3.2l-3.2,3.2zM354.6,804.2l3.2,-3.2l3.2,3.2l-3.2,3.2zM359.4,798.6l3.2,-3.2l3.2,3.2l-3.2,3.2zM339.1,801.9l3.2,-3.2l3.2,3.2l-3.2,3.2zM324.4,800.7l3.2,-3.2l3.2,3.2l-3.2,3.2zM396.6,798.1l3.2,-3.2l3.2,3.2l-3.2,3.2zM346.0,801.6l3.2,-3.2l3.2,3.2l-3.2,3.2zM331.5,801.2l3.2,-3.2l3.2,3.2l-3.2,3.2zM326.8,795.4l3.2,-3.2l3.2,3.2l-3.2,3.2zM337.6,795.4l3.2,-3.2l3.2,3.2l-3.2,3.2zM322.0,795.1l3.2,-3.2l3.2,3.2l-3.2,3.2zM341.9,796.2l3.2,-3.2l3.2,3.2l-3.2,3.2zM340.5,802.6l3.2,-3.2l3.2,3.2l-3.2,3.2zM363.6,800.7l3.2,-3.2l3.2,3.2l-3.2,3.2zM339.8,802.6l3.2,-3.2l3.2,3.2l-3.2,3.2zM345.9,800.6l3.2,-3.2l3.2,3.2l-3.2,3.2zM347.3,797.5l3.2,-3.2l3.2,3.2l-3.2,3.2zM330.2,804.7l3.2,-3.2l3.2,3.2l-3.2,3.2zM349.9,795.2l3.2,-3.2l3.2,3.2l-3.2,3.2zM354.6,803.7l3.2,-3.2l3.2,3.2l-3.2,3.2zM353.0,797.4l3.2,-3.2l3.2,3.2l-3.2,3.2zM347.3,797.2l3.2,-3.2l3.2,3.2l-3.2,3.2zM336.7,798.1l3.2,-3.2l3.2,3.2l-3.2,3.2zM358.6,801.0l3.2,-3.2l3.2,3.2l-3.2,3.2zM317.0,799.4l3.2,-3.2l3.2,3.2l-3.2,3.2zM345.8,806.5l3.2,-3.2l3.2,3.2l-3.2,3.2zM330.5,796.5l3.2,-3.2l3.2,3.2l-3.2,3.2zM339.7,798.6l3.2,-3.2l3.2,3.2l-3.2,3.2zM320.2,795.2l3.2,-3.2l3.2,3.2l-3.2,3.2zM373.2,799.8l3.2,-3.2l3.2,3.2l-3.2,3.2zM329.5,803.7l3.2,-3.2l3.2,3.2l-3.2,3.2zM358.0,798.5l3.2,-3.2l3.2,3.2l-3.2,3.2zM328.4,794.0l3.2,-3.2l3.2,3.2l-3.2,3.2zM355.8,796.5l3.2,-3.2l3.2,3.2l-3.2,3.2zM311.4,799.4l3.2,-3.2l3.2,3.2l-3.2,3.2zM353.3,804.0l3.2,-3.2l3.2,3.2l-3.2,3.2zM358.7,793.1l3.2,-3.2l3.2,3.2l-3.2,3.2zM360.5,801.9l3.2,-3.2l3.2,3.2l-3.2,3.2zM329.9,795.1l3.2,-3.2l3.2,3.2l-3.2,3.2zM359.8,793.9l3.2,-3.2l3.2,3.2l-3.2,3.2zM363.4,799.4l3.2,-3.2l3.2,3.2l-3.2,3.2zM335.1,806.6l3.2,-3.2l3.2,3.2l-3.2,3.2zM356.1,789.6l3.2,-3.2l3.2,3.2l-3.2,3.2zM334.2,800.9l3.2,-3.2l3.2,3.2l-3.2,3.2zM353.7,797.4l3.2,-3.2l3.2,3.2l-3.2,3.2zM318.3,801.9l3.2,-3.2l3.2,3.2l-3.2,3.2zM323.1,790.7l3.2,-3.2l3.2,3.2l-3.2,3.2zM329.7,795.4l3.2,-3.2l3.2,3.2l-3.2,3.2zM376.0,791.2l3.2,-3.2l3.2,3.2l-3.2,3.2zM367.4,792.3l3.2,-3.2l3.2,3.2l-3.2,3.2zM320.6,800.4l3.2,-3.2l3.2,3.2l-3.2,3.2zM329.6,800.1l3.2,-3.2l3.2,3.2l-3.2,3.2zM388.4,805.8l3.2,-3.2l3.2,3.2l-3.2,3.2zM352.2,804.0l3.2,-3.2l3.2,3.2l-3.2,3.2zM365.9,793.6l3.2,-3.2l3.2,3.2l-3.2,3.2zM333.4,790.5l3.2,-3.2l3.2,3.2l-3.2,3.2zM343.7,793.6l3.2,-3.2l3.2,3.2l-3.2,3.2zM347.8,801.3l3.2,-3.2l3.2,3.2l-3.2,3.2zM335.7,799.4l3.2,-3.2l3.2,3.2l-3.2,3.2zM353.2,798.4l3.2,-3.2l3.2,3.2l-3.2,3.2zM383.8,799.7l3.2,-3.2l3.2,3.2l-3.2,3.2zM334.1,801.9l3.2,-3.2l3.2,3.2l-3.2,3.2zM328.7,804.9l3.2,-3.2l3.2,3.2l-3.2,3.2zM325.0,795.2l3.2,-3.2l3.2,3.2l-3.2,3.2zM343.4,799.7l3.2,-3.2l3.2,3.2l-3.2,3.2zM348.5,794.6l3.2,-3.2l3.2,3.2l-3.2,3.2zM353.2,795.8l3.2,-3.2l3.2,3.2l-3.2,3.2zM332.5,800.0l3.2,-3.2l3.2,3.2l-3.2,3.2zM328.7,799.4l3.2,-3.2l3.2,3.2l-3.2,3.2zM328.0,800.5l3.2,-3.2l3.2,3.2l-3.2,3.2zM339.3,799.8l3.2,-3.2l3.2,3.2l-3.2,3.2zM337.7,801.0l3.2,-3.2l3.2,3.2l-3.2,3.2zM365.4,800.4l3.2,-3.2l3.2,3.2l-3.2,3.2zM324.6,798.2l3.2,-3.2l3.2,3.2l-3.2,3.2zM323.2,803.4l3.2,-3.2l3.2,3.2l-3.2,3.2zM343.8,805.8l3.2,-3.2l3.2,3.2l-3.2,3.2zM285.8,797.8l3.2,-3.2l3.2,3.2l-3.2,3.2zM360.5,805.8l3.2,-3.2l3.2,3.2l-3.2,3.2zM326.6,796.6l3.2,-3.2l3.2,3.2l-3.2,3.2zM307.4,802.5l3.2,-3.2l3.2,3.2l-3.2,3.2zM321.2,799.8l3.2,-3.2l3.2,3.2l-3.2,3.2zM307.7,795.3l3.2,-3.2l3.2,3.2l-3.2,3.2zM339.8,797.7l3.2,-3.2l3.2,3.2l-3.2,3.2zM336.6,807.7l3.2,-3.2l3.2,3.2l-3.2,3.2zM339.7,804.5l3.2,-3.2l3.2,3.2l-3.2,3.2zM370.1,811.5l3.2,-3.2l3.2,3.2l-3.2,3.2zM359.4,800.5l3.2,-3.2l3.2,3.2l-3.2,3.2zM395.2,783.8l3.2,-3.2l3.2,3.2l-3.2,3.2zM336.7,797.2l3.2,-3.2l3.2,3.2l-3.2,3.2zM417.9,788.4l3.2,-3.2l3.2,3.2l-3.2,3.2zM345.8,799.0l3.2,-3.2l3.2,3.2l-3.2,3.2zM358.3,780.8l3.2,-3.2l3.2,3.2l-3.2,3.2zM370.9,790.5l3.2,-3.2l3.2,3.2l-3.2,3.2zM442.7,820.5l3.2,-3.2l3.2,3.2l-3.2,3.2zM336.4,826.5l3.2,-3.2l3.2,3.2l-3.2,3.2zM317.3,782.2l3.2,-3.2l3.2,3.2l-3.2,3.2zM379.4,769.0l3.2,-3.2l3.2,3.2l-3.2,3.2zM304.7,812.0l3.2,-3.2l3.2,3.2l-3.2,3.2zM417.4,779.3l3.2,-3.2l3.2,3.2l-3.2,3.2zM399.0,782.0l3.2,-3.2l3.2,3.2l-3.2,3.2zM370.9,797.1l3.2,-3.2l3.2,3.2l-3.2,3.2zM370.9,782.5l3.2,-3.2l3.2,3.2l-3.2,3.2zM364.4,791.4l3.2,-3.2l3.2,3.2l-3.2,3.2zM417.7,816.2l3.2,-3.2l3.2,3.2l-3.2,3.2zM345.1,787.2l3.2,-3.2l3.2,3.2l-3.2,3.2zM361.1,799.6l3.2,-3.2l3.2,3.2l-3.2,3.2zM438.9,789.8l3.2,-3.2l3.2,3.2l-3.2,3.2zM356.0,778.1l3.2,-3.2l3.2,3.2l-3.2,3.2zM452.7,815.9l3.2,-3.2l3.2,3.2l-3.2,3.2zM347.7,794.9l3.2,-3.2l3.2,3.2l-3.2,3.2zM348.8,759.8l3.2,-3.2l3.2,3.2l-3.2,3.2zM387.1,803.7l3.2,-3.2l3.2,3.2l-3.2,3.2zM386.0,810.5l3.2,-3.2l3.2,3.2l-3.2,3.2zM349.9,795.1l3.2,-3.2l3.2,3.2l-3.2,3.2zM448.5,835.4l3.2,-3.2l3.2,3.2l-3.2,3.2zM383.6,773.8l3.2,-3.2l3.2,3.2l-3.2,3.2zM394.2,764.0l3.2,-3.2l3.2,3.2l-3.2,3.2zM384.6,794.4l3.2,-3.2l3.2,3.2l-3.2,3.2zM365.5,811.6l3.2,-3.2l3.2,3.2l-3.2,3.2zM423.7,817.1l3.2,-3.2l3.2,3.2l-3.2,3.2zM365.7,805.9l3.2,-3.2l3.2,3.2l-3.2,3.2zM343.9,834.9l3.2,-3.2l3.2,3.2l-3.2,3.2zM357.2,794.6l3.2,-3.2l3.2,3.2l-3.2,3.2zM374.5,782.5l3.2,-3.2l3.2,3.2l-3.2,3.2zM364.5,807.9l3.2,-3.2l3.2,3.2l-3.2,3.2zM379.9,785.5l3.2,-3.2l3.2,3.2l-3.2,3.2zM340.0,822.9l3.2,-3.2l3.2,3.2l-3.2,3.2zM336.0,778.8l3.2,-3.2l3.2,3.2l-3.2,3.2zM402.7,812.1l3.2,-3.2l3.2,3.2l-3.2,3.2zM373.5,782.5l3.2,-3.2l3.2,3.2l-3.2,3.2zM413.6,808.2l3.2,-3.2l3.2,3.2l-3.2,3.2zM361.9,772.8l3.2,-3.2l3.2,3.2l-3.2,3.2zM449.2,770.7l3.2,-3.2l3.2,3.2l-3.2,3.2zM332.2,789.2l3.2,-3.2l3.2,3.2l-3.2,3.2zM360.0,797.9l3.2,-3.2l3.2,3.2l-3.2,3.2zM348.0,805.1l3.2,-3.2l3.2,3.2l-3.2,3.2zM369.5,766.1l3.2,-3.2l3.2,3.2l-3.2,3.2zM392.8,789.6l3.2,-3.2l3.2,3.2l-3.2,3.2zM370.7,809.7l3.2,-3.2l3.2,3.2l-3.2,3.2zM362.2,775.7l3.2,-3.2l3.2,3.2l-3.2,3.2zM397.1,763.3l3.2,-3.2l3.2,3.2l-3.2,3.2zM378.4,797.2l3.2,-3.2l3.2,3.2l-3.2,3.2zM316.5,790.1l3.2,-3.2l3.2,3.2l-3.2,3.2zM313.0,770.8l3.2,-3.2l3.2,3.2l-3.2,3.2zM349.0,796.9l3.2,-3.2l3.2,3.2l-3.2,3.2zM265.9,839.5l3.2,-3.2l3.2,3.2l-3.2,3.2zM298.2,755.9l3.2,-3.2l3.2,3.2l-3.2,3.2zM388.9,874.6l3.2,-3.2l3.2,3.2l-3.2,3.2zM221.3,817.5l3.2,-3.2l3.2,3.2l-3.2,3.2zM332.4,871.0l3.2,-3.2l3.2,3.2l-3.2,3.2zM415.1,823.5l3.2,-3.2l3.2,3.2l-3.2,3.2zM378.4,844.3l3.2,-3.2l3.2,3.2l-3.2,3.2zM326.0,837.6l3.2,-3.2l3.2,3.2l-3.2,3.2zM246.6,781.7l3.2,-3.2l3.2,3.2l-3.2,3.2zM400.8,902.5l3.2,-3.2l3.2,3.2l-3.2,3.2zM377.7,754.8l3.2,-3.2l3.2,3.2l-3.2,3.2zM388.0,747.5l3.2,-3.2l3.2,3.2l-3.2,3.2zM349.2,813.9l3.2,-3.2l3.2,3.2l-3.2,3.2zM269.9,860.5l3.2,-3.2l3.2,3.2l-3.2,3.2zM229.6,860.0l3.2,-3.2l3.2,3.2l-3.2,3.2zM388.6,787.4l3.2,-3.2l3.2,3.2l-3.2,3.2zM459.2,807.3l3.2,-3.2l3.2,3.2l-3.2,3.2zM293.7,791.9l3.2,-3.2l3.2,3.2l-3.2,3.2zM358.6,722.4l3.2,-3.2l3.2,3.2l-3.2,3.2zM520.4,764.7l3.2,-3.2l3.2,3.2l-3.2,3.2zM282.4,841.0l3.2,-3.2l3.2,3.2l-3.2,3.2zM384.4,850.6l3.2,-3.2l3.2,3.2l-3.2,3.2zM410.1,778.8l3.2,-3.2l3.2,3.2l-3.2,3.2zM434.2,802.3l3.2,-3.2l3.2,3.2l-3.2,3.2zM301.9,857.2l3.2,-3.2l3.2,3.2l-3.2,3.2zM360.3,745.9l3.2,-3.2l3.2,3.2l-3.2,3.2zM490.8,763.8l3.2,-3.2l3.2,3.2l-3.2,3.2zM397.7,779.3l3.2,-3.2l3.2,3.2l-3.2,3.2zM433.0,747.7l3.2,-3.2l3.2,3.2l-3.2,3.2zM435.6,892.8l3.2,-3.2l3.2,3.2l-3.2,3.2zM443.1,794.2l3.2,-3.2l3.2,3.2l-3.2,3.2zM334.4,787.0l3.2,-3.2l3.2,3.2l-3.2,3.2zM392.0,816.8l3.2,-3.2l3.2,3.2l-3.2,3.2zM240.0,808.3l3.2,-3.2l3.2,3.2l-3.2,3.2zM412.6,816.5l3.2,-3.2l3.2,3.2l-3.2,3.2zM247.7,790.5l3.2,-3.2l3.2,3.2l-3.2,3.2zM425.1,804.7l3.2,-3.2l3.2,3.2l-3.2,3.2zM402.5,832.1l3.2,-3.2l3.2,3.2l-3.2,3.2zM319.2,787.1l3.2,-3.2l3.2,3.2l-3.2,3.2zM342.5,804.6l3.2,-3.2l3.2,3.2l-3.2,3.2zM620.1,777.5l3.2,-3.2l3.2,3.2l-3.2,3.2zM380.2,897.3l3.2,-3.2l3.2,3.2l-3.2,3.2zM377.2,775.1l3.2,-3.2l3.2,3.2l-3.2,3.2zM315.6,826.2l3.2,-3.2l3.2,3.2l-3.2,3.2zM196.5,785.5l3.2,-3.2l3.2,3.2l-3.2,3.2zM324.0,778.9l3.2,-3.2l3.2,3.2l-3.2,3.2zM474.7,822.3l3.2,-3.2l3.2,3.2l-3.2,3.2zM445.5,801.1l3.2,-3.2l3.2,3.2l-3.2,3.2zM354.1,828.4l3.2,-3.2l3.2,3.2l-3.2,3.2zM304.3,748.1l3.2,-3.2l3.2,3.2l-3.2,3.2zM437.5,865.6l3.2,-3.2l3.2,3.2l-3.2,3.2zM434.6,851.5l3.2,-3.2l3.2,3.2l-3.2,3.2zM254.1,752.5l3.2,-3.2l3.2,3.2l-3.2,3.2zM271.4,753.2l3.2,-3.2l3.2,3.2l-3.2,3.2zM385.1,767.7l3.2,-3.2l3.2,3.2l-3.2,3.2zM409.1,754.7l3.2,-3.2l3.2,3.2l-3.2,3.2zM396.5,784.3l3.2,-3.2l3.2,3.2l-3.2,3.2zM388.9,757.8l3.2,-3.2l3.2,3.2l-3.2,3.2zM339.7,761.9l3.2,-3.2l3.2,3.2l-3.2,3.2zM485.6,817.3l3.2,-3.2l3.2,3.2l-3.2,3.2zM403.6,840.4l3.2,-3.2l3.2,3.2l-3.2,3.2zM347.6,800.6l3.2,-3.2l3.2,3.2l-3.2,3.2zM343.5,859.5l3.2,-3.2l3.2,3.2l-3.2,3.2zM367.5,804.2l3.2,-3.2l3.2,3.2l-3.2,3.2zM394.6,777.6l3.2,-3.2l3.2,3.2l-3.2,3.2zM233.4,741.5l3.2,-3.2l3.2,3.2l-3.2,3.2zM356.6,853.6l3.2,-3.2l3.2,3.2l-3.2,3.2zM341.3,791.3l3.2,-3.2l3.2,3.2l-3.2,3.2zM436.7,832.8l3.2,-3.2l3.2,3.2l-3.2,3.2zM381.9,895.9l3.2,-3.2l3.2,3.2l-3.2,3.2zM382.8,819.8l3.2,-3.2l3.2,3.2l-3.2,3.2zM336.7,768.5l3.2,-3.2l3.2,3.2l-3.2,3.2zM507.6,761.0l3.2,-3.2l3.2,3.2l-3.2,3.2zM309.7,735.6l3.2,-3.2l3.2,3.2l-3.2,3.2zM344.2,816.1l3.2,-3.2l3.2,3.2l-3.2,3.2zM325.2,790.6l3.2,-3.2l3.2,3.2l-3.2,3.2zM412.3,806.6l3.2,-3.2l3.2,3.2l-3.2,3.2zM353.7,821.4l3.2,-3.2l3.2,3.2l-3.2,3.2zM339.0,764.2l3.2,-3.2l3.2,3.2l-3.2,3.2zM329.8,821.6l3.2,-3.2l3.2,3.2l-3.2,3.2zM353.7,852.4l3.2,-3.2l3.2,3.2l-3.2,3.2zM352.3,889.1l3.2,-3.2l3.2,3.2l-3.2,3.2zM401.1,786.3l3.2,-3.2l3.2,3.2l-3.2,3.2zM346.8,734.4l3.2,-3.2l3.2,3.2l-3.2,3.2zM306.9,785.6l3.2,-3.2l3.2,3.2l-3.2,3.2z" fill="#bdbdbd"/>
<path d="M373,573.5V1017M131.5,796.9H628" stroke="#1a1a1a" stroke-width="1.8" fill="none"/>
<rect x="131.5" y="573.5" width="496.5" height="443.5" fill="none" stroke="#1a1a1a" stroke-width="1.8"/>
<text font-family="'Liberation Sans', sans-serif" font-size="14.1" fill="#231815" text-anchor="middle" font-weight="bold" x="153.7" y="1047.8">−0.2</text>
<text font-family="'Liberation Sans', sans-serif" font-size="14.1" fill="#231815" text-anchor="middle" font-weight="bold" x="263.4" y="1047.8">−0.1</text>
<text font-family="'Liberation Sans', sans-serif" font-size="14.1" fill="#231815" text-anchor="middle" font-weight="bold" x="373.0" y="1047.8">0.0</text>
<text font-family="'Liberation Sans', sans-serif" font-size="14.1" fill="#231815" text-anchor="middle" font-weight="bold" x="483.0" y="1047.8">0.1</text>
<text font-family="'Liberation Sans', sans-serif" font-size="14.1" fill="#231815" text-anchor="middle" font-weight="bold" x="593.0" y="1047.8">0.2</text>
<text font-family="'Liberation Sans', sans-serif" font-size="14.1" fill="#231815" text-anchor="middle" font-weight="bold" transform="translate(111.2,591.6) rotate(-90)">0.3</text>
<text font-family="'Liberation Sans', sans-serif" font-size="14.1" fill="#231815" text-anchor="middle" font-weight="bold" transform="translate(111.2,660.2) rotate(-90)">0.2</text>
<text font-family="'Liberation Sans', sans-serif" font-size="14.1" fill="#231815" text-anchor="middle" font-weight="bold" transform="translate(111.2,728.6) rotate(-90)">0.1</text>
<text font-family="'Liberation Sans', sans-serif" font-size="14.1" fill="#231815" text-anchor="middle" font-weight="bold" transform="translate(111.2,796.9) rotate(-90)">0.0</text>
<text font-family="'Liberation Sans', sans-serif" font-size="14.1" fill="#231815" text-anchor="middle" font-weight="bold" transform="translate(111.2,865.6) rotate(-90)">−0.1</text>
<text font-family="'Liberation Sans', sans-serif" font-size="14.1" fill="#231815" text-anchor="middle" font-weight="bold" transform="translate(111.2,933.9) rotate(-90)">−0.2</text>
<text font-family="'Liberation Sans', sans-serif" font-size="14.1" fill="#231815" text-anchor="middle" font-weight="bold" transform="translate(111.2,1002.2) rotate(-90)">−0.3</text>
<path d="M153.7,1017v8.5M263.4,1017v8.5M373,1017v8.5M483,1017v8.5M593,1017v8.5M131.5,591.6h-8.5M131.5,660.2h-8.5M131.5,728.6h-8.5M131.5,796.9h-8.5M131.5,865.6h-8.5M131.5,933.9h-8.5M131.5,1002.2h-8.5" stroke="#3a3a3a" stroke-width="1.1" fill="none"/>
<text font-family="'Liberation Sans', sans-serif" font-size="14.3" fill="#231815" text-anchor="middle" font-weight="bold" x="379.8" y="1083.0">p1 (79%)</text>
<text font-family="'Liberation Sans', sans-serif" font-size="14.3" fill="#231815" text-anchor="middle" font-weight="bold" transform="translate(76.7,790.2) rotate(-90)">pOrtho1 (79%)</text>
<path d="M335.2,590.2l3,-3l3,3l-3,3zM441.8,630.5l3,-3l3,3l-3,3zM400.0,637.0l3,-3l3,3l-3,3zM606.2,724.0l3,-3l3,3l-3,3zM547.0,735.0l3,-3l3,3l-3,3zM167.8,806.5l3,-3l3,3l-3,3zM147.3,815.3l3,-3l3,3l-3,3zM534.0,878.2l3,-3l3,3l-3,3zM174.7,927.0l3,-3l3,3l-3,3zM177.0,929.4l3,-3l3,3l-3,3zM399.0,955.4l3,-3l3,3l-3,3zM307.6,1000.5l3,-3l3,3l-3,3z" fill="#000"/>
<text font-family="'Noto Sans CJK SC', 'Liberation Sans', sans-serif" font-size="22" fill="#231815" textLength="224.9" lengthAdjust="spacingAndGlyphs" x="347.4" y="596.7" stroke="#231815" stroke-width="0.3">Neochlorogenic acid</text>
<text font-family="'Noto Sans CJK SC', 'Liberation Sans', sans-serif" font-size="22" fill="#231815" textLength="158.3" lengthAdjust="spacingAndGlyphs" x="451.6" y="635.0" stroke="#231815" stroke-width="0.3">4-Nitrophenol</text>
<text font-family="'Noto Sans CJK SC', 'Liberation Sans', sans-serif" font-size="22" fill="#2aa7df" textLength="190.9" lengthAdjust="spacingAndGlyphs" x="344.9" y="653.7" stroke="#2aa7df" stroke-width="0.3">Dihydroquercetin</text>
<text font-family="'Noto Sans CJK SC', 'Liberation Sans', sans-serif" font-size="22" fill="#231815" textLength="137.5" lengthAdjust="spacingAndGlyphs" x="491.6" y="722.0" stroke="#231815" stroke-width="0.3">Salicylic acid</text>
<text font-family="'Noto Sans CJK SC', 'Liberation Sans', sans-serif" font-size="22" fill="#231815" textLength="121.8" lengthAdjust="spacingAndGlyphs" x="503.5" y="753.5" stroke="#231815" stroke-width="0.3">Quinic acid</text>
<text font-family="'Noto Sans CJK SC', 'Liberation Sans', sans-serif" font-size="22" fill="#2aa7df" textLength="58.7" lengthAdjust="spacingAndGlyphs" x="155.9" y="798.0" stroke="#2aa7df" stroke-width="0.3">Rutin</text>
<text font-family="'Noto Sans CJK SC', 'Liberation Sans', sans-serif" font-size="22" fill="#231815" textLength="163.4" lengthAdjust="spacingAndGlyphs" x="157.1" y="830.7" stroke="#231815" stroke-width="0.3">L(-)-Malic acid</text>
<text font-family="'Noto Sans CJK SC', 'Liberation Sans', sans-serif" font-size="22" fill="#231815" textLength="264.0" lengthAdjust="spacingAndGlyphs" x="365.1" y="895.6" stroke="#231815" stroke-width="0.3">LysoPC 16:1 (2n isomer)</text>
<text font-family="'Noto Sans CJK SC', 'Liberation Sans', sans-serif" font-size="22" fill="#231815" textLength="133.1" lengthAdjust="spacingAndGlyphs" x="136.2" y="919.5" stroke="#231815" stroke-width="0.3">L-Isoleucine</text>
<text font-family="'Noto Sans CJK SC', 'Liberation Sans', sans-serif" font-size="22" fill="#231815" textLength="106.4" lengthAdjust="spacingAndGlyphs" x="144.1" y="949.3" stroke="#231815" stroke-width="0.3">L-Leucine</text>
<text font-family="'Noto Sans CJK SC', 'Liberation Sans', sans-serif" font-size="22" fill="#231815" textLength="108.8" lengthAdjust="spacingAndGlyphs" x="408.2" y="963.0" stroke="#231815" stroke-width="0.3">Citric acid</text>
<text font-family="'Noto Sans CJK SC', 'Liberation Sans', sans-serif" font-size="22" fill="#231815" textLength="150.9" lengthAdjust="spacingAndGlyphs" x="325.2" y="1006.7" stroke="#231815" stroke-width="0.3">L-Tryptophan</text>
<text font-family="'Liberation Sans', sans-serif" font-size="30" fill="#231815" textLength="120.3" lengthAdjust="spacingAndGlyphs" x="894.5" y="556.4">CS-HG2</text>
<rect x="700.5" y="573.5" width="496.4" height="444.8" fill="#fff"/>
<path d="M712.8,573.5V1018.3M795.1,573.5V1018.3M877.8,573.5V1018.3M960.1,573.5V1018.3M1042.1,573.5V1018.3M1124.5,573.5V1018.3M700.5,643.5H1196.9M700.5,725.5H1196.9M700.5,808.2H1196.9M700.5,890.2H1196.9M700.5,972.5H1196.9" stroke="#c6c6c6" stroke-width="1.6" fill="none"/>
<path d="M861.5,806.1l3.2,-3.2l3.2,3.2l-3.2,3.2zM872.1,812.5l3.2,-3.2l3.2,3.2l-3.2,3.2zM883.4,807.6l3.2,-3.2l3.2,3.2l-3.2,3.2zM872.1,791.9l3.2,-3.2l3.2,3.2l-3.2,3.2zM870.1,819.6l3.2,-3.2l3.2,3.2l-3.2,3.2zM862.2,813.0l3.2,-3.2l3.2,3.2l-3.2,3.2zM880.6,800.5l3.2,-3.2l3.2,3.2l-3.2,3.2zM884.9,791.4l3.2,-3.2l3.2,3.2l-3.2,3.2zM890.2,802.2l3.2,-3.2l3.2,3.2l-3.2,3.2zM886.9,802.0l3.2,-3.2l3.2,3.2l-3.2,3.2zM869.8,800.3l3.2,-3.2l3.2,3.2l-3.2,3.2zM875.6,809.7l3.2,-3.2l3.2,3.2l-3.2,3.2zM893.3,800.7l3.2,-3.2l3.2,3.2l-3.2,3.2zM870.7,808.4l3.2,-3.2l3.2,3.2l-3.2,3.2zM896.5,810.0l3.2,-3.2l3.2,3.2l-3.2,3.2zM881.8,802.0l3.2,-3.2l3.2,3.2l-3.2,3.2zM879.8,802.3l3.2,-3.2l3.2,3.2l-3.2,3.2zM870.7,811.9l3.2,-3.2l3.2,3.2l-3.2,3.2zM873.6,811.0l3.2,-3.2l3.2,3.2l-3.2,3.2zM882.5,793.6l3.2,-3.2l3.2,3.2l-3.2,3.2zM866.9,802.7l3.2,-3.2l3.2,3.2l-3.2,3.2zM866.1,814.0l3.2,-3.2l3.2,3.2l-3.2,3.2zM872.9,806.7l3.2,-3.2l3.2,3.2l-3.2,3.2zM871.1,831.6l3.2,-3.2l3.2,3.2l-3.2,3.2zM887.8,810.2l3.2,-3.2l3.2,3.2l-3.2,3.2zM869.3,801.5l3.2,-3.2l3.2,3.2l-3.2,3.2zM869.6,820.8l3.2,-3.2l3.2,3.2l-3.2,3.2zM879.6,803.9l3.2,-3.2l3.2,3.2l-3.2,3.2zM867.5,800.0l3.2,-3.2l3.2,3.2l-3.2,3.2zM878.5,818.1l3.2,-3.2l3.2,3.2l-3.2,3.2zM891.2,805.2l3.2,-3.2l3.2,3.2l-3.2,3.2zM864.7,803.5l3.2,-3.2l3.2,3.2l-3.2,3.2zM876.3,798.8l3.2,-3.2l3.2,3.2l-3.2,3.2zM862.7,798.2l3.2,-3.2l3.2,3.2l-3.2,3.2zM883.7,801.3l3.2,-3.2l3.2,3.2l-3.2,3.2zM880.7,795.6l3.2,-3.2l3.2,3.2l-3.2,3.2zM881.7,806.5l3.2,-3.2l3.2,3.2l-3.2,3.2zM867.4,797.5l3.2,-3.2l3.2,3.2l-3.2,3.2zM884.1,805.0l3.2,-3.2l3.2,3.2l-3.2,3.2zM876.5,801.1l3.2,-3.2l3.2,3.2l-3.2,3.2zM852.0,804.8l3.2,-3.2l3.2,3.2l-3.2,3.2zM852.1,805.5l3.2,-3.2l3.2,3.2l-3.2,3.2zM884.8,790.3l3.2,-3.2l3.2,3.2l-3.2,3.2zM870.7,803.8l3.2,-3.2l3.2,3.2l-3.2,3.2zM874.4,828.1l3.2,-3.2l3.2,3.2l-3.2,3.2zM881.8,807.9l3.2,-3.2l3.2,3.2l-3.2,3.2zM875.7,816.4l3.2,-3.2l3.2,3.2l-3.2,3.2zM874.7,807.0l3.2,-3.2l3.2,3.2l-3.2,3.2zM886.8,805.1l3.2,-3.2l3.2,3.2l-3.2,3.2zM907.1,811.5l3.2,-3.2l3.2,3.2l-3.2,3.2zM872.6,808.2l3.2,-3.2l3.2,3.2l-3.2,3.2zM867.6,793.9l3.2,-3.2l3.2,3.2l-3.2,3.2zM881.0,819.4l3.2,-3.2l3.2,3.2l-3.2,3.2zM876.0,797.2l3.2,-3.2l3.2,3.2l-3.2,3.2zM862.0,806.4l3.2,-3.2l3.2,3.2l-3.2,3.2zM872.9,786.4l3.2,-3.2l3.2,3.2l-3.2,3.2zM878.8,811.5l3.2,-3.2l3.2,3.2l-3.2,3.2zM869.9,790.4l3.2,-3.2l3.2,3.2l-3.2,3.2zM870.8,786.8l3.2,-3.2l3.2,3.2l-3.2,3.2zM860.7,809.5l3.2,-3.2l3.2,3.2l-3.2,3.2zM872.8,814.2l3.2,-3.2l3.2,3.2l-3.2,3.2zM873.1,801.4l3.2,-3.2l3.2,3.2l-3.2,3.2zM868.9,820.9l3.2,-3.2l3.2,3.2l-3.2,3.2zM887.4,794.3l3.2,-3.2l3.2,3.2l-3.2,3.2zM868.7,805.0l3.2,-3.2l3.2,3.2l-3.2,3.2zM851.4,798.2l3.2,-3.2l3.2,3.2l-3.2,3.2zM862.8,812.9l3.2,-3.2l3.2,3.2l-3.2,3.2zM894.9,819.4l3.2,-3.2l3.2,3.2l-3.2,3.2zM875.2,817.6l3.2,-3.2l3.2,3.2l-3.2,3.2zM858.1,818.5l3.2,-3.2l3.2,3.2l-3.2,3.2zM877.5,819.8l3.2,-3.2l3.2,3.2l-3.2,3.2zM869.6,801.1l3.2,-3.2l3.2,3.2l-3.2,3.2zM873.6,819.8l3.2,-3.2l3.2,3.2l-3.2,3.2zM888.8,806.7l3.2,-3.2l3.2,3.2l-3.2,3.2zM887.9,817.4l3.2,-3.2l3.2,3.2l-3.2,3.2zM890.5,820.1l3.2,-3.2l3.2,3.2l-3.2,3.2zM859.0,811.7l3.2,-3.2l3.2,3.2l-3.2,3.2zM871.6,805.4l3.2,-3.2l3.2,3.2l-3.2,3.2zM869.9,802.0l3.2,-3.2l3.2,3.2l-3.2,3.2zM887.3,813.8l3.2,-3.2l3.2,3.2l-3.2,3.2zM862.4,811.5l3.2,-3.2l3.2,3.2l-3.2,3.2zM882.5,800.3l3.2,-3.2l3.2,3.2l-3.2,3.2zM871.8,816.8l3.2,-3.2l3.2,3.2l-3.2,3.2zM874.8,799.0l3.2,-3.2l3.2,3.2l-3.2,3.2zM868.5,795.9l3.2,-3.2l3.2,3.2l-3.2,3.2zM877.1,805.1l3.2,-3.2l3.2,3.2l-3.2,3.2zM869.3,795.3l3.2,-3.2l3.2,3.2l-3.2,3.2zM875.4,821.5l3.2,-3.2l3.2,3.2l-3.2,3.2zM882.5,811.6l3.2,-3.2l3.2,3.2l-3.2,3.2zM884.9,806.3l3.2,-3.2l3.2,3.2l-3.2,3.2zM869.3,806.2l3.2,-3.2l3.2,3.2l-3.2,3.2zM870.5,815.4l3.2,-3.2l3.2,3.2l-3.2,3.2zM875.2,800.2l3.2,-3.2l3.2,3.2l-3.2,3.2zM875.7,808.6l3.2,-3.2l3.2,3.2l-3.2,3.2zM869.9,802.6l3.2,-3.2l3.2,3.2l-3.2,3.2zM877.5,799.0l3.2,-3.2l3.2,3.2l-3.2,3.2zM878.4,788.3l3.2,-3.2l3.2,3.2l-3.2,3.2zM860.6,808.3l3.2,-3.2l3.2,3.2l-3.2,3.2zM879.9,799.6l3.2,-3.2l3.2,3.2l-3.2,3.2zM860.9,819.0l3.2,-3.2l3.2,3.2l-3.2,3.2zM874.6,798.2l3.2,-3.2l3.2,3.2l-3.2,3.2zM885.1,821.7l3.2,-3.2l3.2,3.2l-3.2,3.2zM876.2,797.1l3.2,-3.2l3.2,3.2l-3.2,3.2zM875.2,817.3l3.2,-3.2l3.2,3.2l-3.2,3.2zM868.4,820.0l3.2,-3.2l3.2,3.2l-3.2,3.2zM885.9,810.2l3.2,-3.2l3.2,3.2l-3.2,3.2zM871.1,815.8l3.2,-3.2l3.2,3.2l-3.2,3.2zM873.7,816.1l3.2,-3.2l3.2,3.2l-3.2,3.2zM866.0,808.2l3.2,-3.2l3.2,3.2l-3.2,3.2zM872.9,803.6l3.2,-3.2l3.2,3.2l-3.2,3.2zM876.3,797.0l3.2,-3.2l3.2,3.2l-3.2,3.2zM874.6,805.4l3.2,-3.2l3.2,3.2l-3.2,3.2zM877.1,815.2l3.2,-3.2l3.2,3.2l-3.2,3.2zM885.9,813.0l3.2,-3.2l3.2,3.2l-3.2,3.2zM860.5,796.4l3.2,-3.2l3.2,3.2l-3.2,3.2zM881.0,813.0l3.2,-3.2l3.2,3.2l-3.2,3.2zM883.7,799.0l3.2,-3.2l3.2,3.2l-3.2,3.2zM881.4,818.5l3.2,-3.2l3.2,3.2l-3.2,3.2zM876.6,817.3l3.2,-3.2l3.2,3.2l-3.2,3.2zM869.4,813.0l3.2,-3.2l3.2,3.2l-3.2,3.2zM867.2,803.3l3.2,-3.2l3.2,3.2l-3.2,3.2zM867.8,802.1l3.2,-3.2l3.2,3.2l-3.2,3.2zM876.5,813.4l3.2,-3.2l3.2,3.2l-3.2,3.2zM876.5,801.5l3.2,-3.2l3.2,3.2l-3.2,3.2zM885.4,810.2l3.2,-3.2l3.2,3.2l-3.2,3.2zM890.9,802.6l3.2,-3.2l3.2,3.2l-3.2,3.2zM886.4,820.2l3.2,-3.2l3.2,3.2l-3.2,3.2zM865.3,796.8l3.2,-3.2l3.2,3.2l-3.2,3.2zM872.9,803.6l3.2,-3.2l3.2,3.2l-3.2,3.2zM886.0,821.0l3.2,-3.2l3.2,3.2l-3.2,3.2zM879.1,790.1l3.2,-3.2l3.2,3.2l-3.2,3.2zM882.3,807.0l3.2,-3.2l3.2,3.2l-3.2,3.2zM880.1,807.7l3.2,-3.2l3.2,3.2l-3.2,3.2zM882.0,795.9l3.2,-3.2l3.2,3.2l-3.2,3.2zM872.9,802.6l3.2,-3.2l3.2,3.2l-3.2,3.2zM877.8,801.0l3.2,-3.2l3.2,3.2l-3.2,3.2zM882.6,817.6l3.2,-3.2l3.2,3.2l-3.2,3.2zM885.6,800.0l3.2,-3.2l3.2,3.2l-3.2,3.2zM865.0,810.4l3.2,-3.2l3.2,3.2l-3.2,3.2zM861.6,810.5l3.2,-3.2l3.2,3.2l-3.2,3.2zM878.0,818.4l3.2,-3.2l3.2,3.2l-3.2,3.2zM867.9,815.8l3.2,-3.2l3.2,3.2l-3.2,3.2zM868.6,814.9l3.2,-3.2l3.2,3.2l-3.2,3.2zM865.2,802.6l3.2,-3.2l3.2,3.2l-3.2,3.2zM873.0,815.3l3.2,-3.2l3.2,3.2l-3.2,3.2zM884.0,813.0l3.2,-3.2l3.2,3.2l-3.2,3.2zM883.1,819.1l3.2,-3.2l3.2,3.2l-3.2,3.2zM887.8,811.9l3.2,-3.2l3.2,3.2l-3.2,3.2zM866.3,804.1l3.2,-3.2l3.2,3.2l-3.2,3.2zM862.8,817.7l3.2,-3.2l3.2,3.2l-3.2,3.2zM877.1,812.2l3.2,-3.2l3.2,3.2l-3.2,3.2zM878.6,806.5l3.2,-3.2l3.2,3.2l-3.2,3.2zM877.3,806.6l3.2,-3.2l3.2,3.2l-3.2,3.2zM881.5,807.8l3.2,-3.2l3.2,3.2l-3.2,3.2zM885.0,799.2l3.2,-3.2l3.2,3.2l-3.2,3.2zM857.0,823.8l3.2,-3.2l3.2,3.2l-3.2,3.2zM889.2,811.9l3.2,-3.2l3.2,3.2l-3.2,3.2zM876.7,808.9l3.2,-3.2l3.2,3.2l-3.2,3.2zM877.5,787.7l3.2,-3.2l3.2,3.2l-3.2,3.2zM868.5,807.3l3.2,-3.2l3.2,3.2l-3.2,3.2zM875.0,817.7l3.2,-3.2l3.2,3.2l-3.2,3.2zM867.0,810.3l3.2,-3.2l3.2,3.2l-3.2,3.2zM874.8,804.3l3.2,-3.2l3.2,3.2l-3.2,3.2zM857.1,822.1l3.2,-3.2l3.2,3.2l-3.2,3.2zM890.0,809.5l3.2,-3.2l3.2,3.2l-3.2,3.2zM882.4,811.7l3.2,-3.2l3.2,3.2l-3.2,3.2zM868.5,788.6l3.2,-3.2l3.2,3.2l-3.2,3.2zM863.7,816.1l3.2,-3.2l3.2,3.2l-3.2,3.2zM881.1,807.7l3.2,-3.2l3.2,3.2l-3.2,3.2zM860.0,806.6l3.2,-3.2l3.2,3.2l-3.2,3.2zM881.6,821.7l3.2,-3.2l3.2,3.2l-3.2,3.2zM869.9,800.7l3.2,-3.2l3.2,3.2l-3.2,3.2zM892.4,829.0l3.2,-3.2l3.2,3.2l-3.2,3.2zM868.7,807.6l3.2,-3.2l3.2,3.2l-3.2,3.2zM866.6,816.1l3.2,-3.2l3.2,3.2l-3.2,3.2zM870.4,803.2l3.2,-3.2l3.2,3.2l-3.2,3.2zM865.2,800.0l3.2,-3.2l3.2,3.2l-3.2,3.2zM882.5,800.1l3.2,-3.2l3.2,3.2l-3.2,3.2zM888.9,812.6l3.2,-3.2l3.2,3.2l-3.2,3.2zM874.5,798.8l3.2,-3.2l3.2,3.2l-3.2,3.2zM886.4,799.3l3.2,-3.2l3.2,3.2l-3.2,3.2zM870.8,812.3l3.2,-3.2l3.2,3.2l-3.2,3.2zM863.0,811.8l3.2,-3.2l3.2,3.2l-3.2,3.2zM866.8,812.3l3.2,-3.2l3.2,3.2l-3.2,3.2zM871.5,800.3l3.2,-3.2l3.2,3.2l-3.2,3.2zM882.7,808.3l3.2,-3.2l3.2,3.2l-3.2,3.2zM864.5,808.4l3.2,-3.2l3.2,3.2l-3.2,3.2zM878.9,800.1l3.2,-3.2l3.2,3.2l-3.2,3.2zM876.8,800.5l3.2,-3.2l3.2,3.2l-3.2,3.2zM869.0,802.0l3.2,-3.2l3.2,3.2l-3.2,3.2zM881.6,811.1l3.2,-3.2l3.2,3.2l-3.2,3.2zM868.0,796.7l3.2,-3.2l3.2,3.2l-3.2,3.2zM865.9,801.6l3.2,-3.2l3.2,3.2l-3.2,3.2zM872.5,811.0l3.2,-3.2l3.2,3.2l-3.2,3.2zM872.6,811.9l3.2,-3.2l3.2,3.2l-3.2,3.2zM874.6,791.7l3.2,-3.2l3.2,3.2l-3.2,3.2zM888.1,809.1l3.2,-3.2l3.2,3.2l-3.2,3.2zM879.2,799.6l3.2,-3.2l3.2,3.2l-3.2,3.2zM871.1,791.2l3.2,-3.2l3.2,3.2l-3.2,3.2zM875.2,802.3l3.2,-3.2l3.2,3.2l-3.2,3.2zM866.3,818.0l3.2,-3.2l3.2,3.2l-3.2,3.2zM865.9,813.7l3.2,-3.2l3.2,3.2l-3.2,3.2zM884.3,810.7l3.2,-3.2l3.2,3.2l-3.2,3.2zM882.9,811.7l3.2,-3.2l3.2,3.2l-3.2,3.2zM866.3,806.4l3.2,-3.2l3.2,3.2l-3.2,3.2zM871.3,822.9l3.2,-3.2l3.2,3.2l-3.2,3.2zM875.4,797.2l3.2,-3.2l3.2,3.2l-3.2,3.2zM873.0,818.8l3.2,-3.2l3.2,3.2l-3.2,3.2zM868.0,818.9l3.2,-3.2l3.2,3.2l-3.2,3.2zM872.7,816.5l3.2,-3.2l3.2,3.2l-3.2,3.2zM873.9,806.3l3.2,-3.2l3.2,3.2l-3.2,3.2zM886.9,818.4l3.2,-3.2l3.2,3.2l-3.2,3.2zM856.3,793.2l3.2,-3.2l3.2,3.2l-3.2,3.2zM878.8,811.2l3.2,-3.2l3.2,3.2l-3.2,3.2zM879.5,816.3l3.2,-3.2l3.2,3.2l-3.2,3.2zM871.8,801.8l3.2,-3.2l3.2,3.2l-3.2,3.2zM872.1,806.7l3.2,-3.2l3.2,3.2l-3.2,3.2zM878.9,806.8l3.2,-3.2l3.2,3.2l-3.2,3.2zM872.7,803.2l3.2,-3.2l3.2,3.2l-3.2,3.2zM886.9,796.4l3.2,-3.2l3.2,3.2l-3.2,3.2zM867.0,801.0l3.2,-3.2l3.2,3.2l-3.2,3.2zM857.7,820.7l3.2,-3.2l3.2,3.2l-3.2,3.2zM878.6,803.0l3.2,-3.2l3.2,3.2l-3.2,3.2zM887.3,823.5l3.2,-3.2l3.2,3.2l-3.2,3.2zM884.7,812.8l3.2,-3.2l3.2,3.2l-3.2,3.2zM870.7,803.9l3.2,-3.2l3.2,3.2l-3.2,3.2zM887.7,816.4l3.2,-3.2l3.2,3.2l-3.2,3.2zM859.4,813.3l3.2,-3.2l3.2,3.2l-3.2,3.2zM873.8,797.0l3.2,-3.2l3.2,3.2l-3.2,3.2zM878.2,810.6l3.2,-3.2l3.2,3.2l-3.2,3.2zM870.3,812.1l3.2,-3.2l3.2,3.2l-3.2,3.2zM883.7,822.9l3.2,-3.2l3.2,3.2l-3.2,3.2zM868.6,815.8l3.2,-3.2l3.2,3.2l-3.2,3.2zM885.1,806.8l3.2,-3.2l3.2,3.2l-3.2,3.2zM868.8,801.1l3.2,-3.2l3.2,3.2l-3.2,3.2zM892.6,798.7l3.2,-3.2l3.2,3.2l-3.2,3.2zM863.1,809.8l3.2,-3.2l3.2,3.2l-3.2,3.2zM885.2,824.3l3.2,-3.2l3.2,3.2l-3.2,3.2zM863.8,811.7l3.2,-3.2l3.2,3.2l-3.2,3.2zM879.6,815.4l3.2,-3.2l3.2,3.2l-3.2,3.2zM876.2,809.4l3.2,-3.2l3.2,3.2l-3.2,3.2zM877.8,818.8l3.2,-3.2l3.2,3.2l-3.2,3.2zM854.8,827.4l3.2,-3.2l3.2,3.2l-3.2,3.2zM876.3,799.1l3.2,-3.2l3.2,3.2l-3.2,3.2zM879.2,822.5l3.2,-3.2l3.2,3.2l-3.2,3.2zM859.1,810.6l3.2,-3.2l3.2,3.2l-3.2,3.2zM866.5,824.6l3.2,-3.2l3.2,3.2l-3.2,3.2zM869.5,815.2l3.2,-3.2l3.2,3.2l-3.2,3.2zM873.7,804.6l3.2,-3.2l3.2,3.2l-3.2,3.2zM876.5,806.3l3.2,-3.2l3.2,3.2l-3.2,3.2zM879.5,809.0l3.2,-3.2l3.2,3.2l-3.2,3.2zM870.7,811.1l3.2,-3.2l3.2,3.2l-3.2,3.2zM885.5,810.6l3.2,-3.2l3.2,3.2l-3.2,3.2zM882.1,793.0l3.2,-3.2l3.2,3.2l-3.2,3.2zM890.6,827.4l3.2,-3.2l3.2,3.2l-3.2,3.2zM876.1,799.1l3.2,-3.2l3.2,3.2l-3.2,3.2zM870.7,814.4l3.2,-3.2l3.2,3.2l-3.2,3.2zM861.8,814.1l3.2,-3.2l3.2,3.2l-3.2,3.2zM874.8,825.1l3.2,-3.2l3.2,3.2l-3.2,3.2zM874.6,815.6l3.2,-3.2l3.2,3.2l-3.2,3.2zM874.9,817.8l3.2,-3.2l3.2,3.2l-3.2,3.2zM875.5,806.6l3.2,-3.2l3.2,3.2l-3.2,3.2zM868.5,814.1l3.2,-3.2l3.2,3.2l-3.2,3.2zM883.3,802.4l3.2,-3.2l3.2,3.2l-3.2,3.2zM867.7,804.1l3.2,-3.2l3.2,3.2l-3.2,3.2zM864.3,812.8l3.2,-3.2l3.2,3.2l-3.2,3.2zM848.3,813.2l3.2,-3.2l3.2,3.2l-3.2,3.2zM880.9,812.5l3.2,-3.2l3.2,3.2l-3.2,3.2zM880.1,813.9l3.2,-3.2l3.2,3.2l-3.2,3.2zM877.5,809.4l3.2,-3.2l3.2,3.2l-3.2,3.2zM865.9,789.1l3.2,-3.2l3.2,3.2l-3.2,3.2zM867.1,820.2l3.2,-3.2l3.2,3.2l-3.2,3.2zM875.9,803.8l3.2,-3.2l3.2,3.2l-3.2,3.2zM877.8,809.0l3.2,-3.2l3.2,3.2l-3.2,3.2zM878.9,799.6l3.2,-3.2l3.2,3.2l-3.2,3.2zM880.4,820.6l3.2,-3.2l3.2,3.2l-3.2,3.2zM890.3,808.4l3.2,-3.2l3.2,3.2l-3.2,3.2zM856.2,800.5l3.2,-3.2l3.2,3.2l-3.2,3.2zM873.4,805.5l3.2,-3.2l3.2,3.2l-3.2,3.2zM892.7,812.9l3.2,-3.2l3.2,3.2l-3.2,3.2zM869.1,816.9l3.2,-3.2l3.2,3.2l-3.2,3.2zM876.4,802.1l3.2,-3.2l3.2,3.2l-3.2,3.2zM878.3,806.5l3.2,-3.2l3.2,3.2l-3.2,3.2zM855.5,805.7l3.2,-3.2l3.2,3.2l-3.2,3.2zM884.5,812.7l3.2,-3.2l3.2,3.2l-3.2,3.2zM869.9,817.2l3.2,-3.2l3.2,3.2l-3.2,3.2zM876.9,822.2l3.2,-3.2l3.2,3.2l-3.2,3.2zM892.0,809.9l3.2,-3.2l3.2,3.2l-3.2,3.2zM869.3,819.1l3.2,-3.2l3.2,3.2l-3.2,3.2zM879.6,799.3l3.2,-3.2l3.2,3.2l-3.2,3.2zM869.6,806.5l3.2,-3.2l3.2,3.2l-3.2,3.2zM877.4,799.3l3.2,-3.2l3.2,3.2l-3.2,3.2zM880.3,796.9l3.2,-3.2l3.2,3.2l-3.2,3.2zM861.9,784.5l3.2,-3.2l3.2,3.2l-3.2,3.2zM870.2,818.2l3.2,-3.2l3.2,3.2l-3.2,3.2zM866.3,804.6l3.2,-3.2l3.2,3.2l-3.2,3.2zM881.7,786.1l3.2,-3.2l3.2,3.2l-3.2,3.2zM885.8,815.0l3.2,-3.2l3.2,3.2l-3.2,3.2zM871.6,812.3l3.2,-3.2l3.2,3.2l-3.2,3.2zM869.3,809.6l3.2,-3.2l3.2,3.2l-3.2,3.2zM869.2,797.5l3.2,-3.2l3.2,3.2l-3.2,3.2zM877.8,802.4l3.2,-3.2l3.2,3.2l-3.2,3.2zM873.3,818.5l3.2,-3.2l3.2,3.2l-3.2,3.2zM878.7,811.6l3.2,-3.2l3.2,3.2l-3.2,3.2zM892.8,796.9l3.2,-3.2l3.2,3.2l-3.2,3.2zM863.8,817.0l3.2,-3.2l3.2,3.2l-3.2,3.2zM869.8,810.0l3.2,-3.2l3.2,3.2l-3.2,3.2zM885.1,809.7l3.2,-3.2l3.2,3.2l-3.2,3.2zM878.9,810.9l3.2,-3.2l3.2,3.2l-3.2,3.2zM872.8,796.9l3.2,-3.2l3.2,3.2l-3.2,3.2zM874.9,790.3l3.2,-3.2l3.2,3.2l-3.2,3.2zM874.4,804.5l3.2,-3.2l3.2,3.2l-3.2,3.2zM878.4,802.0l3.2,-3.2l3.2,3.2l-3.2,3.2zM892.2,814.2l3.2,-3.2l3.2,3.2l-3.2,3.2zM870.0,816.6l3.2,-3.2l3.2,3.2l-3.2,3.2zM891.1,803.8l3.2,-3.2l3.2,3.2l-3.2,3.2zM878.9,803.9l3.2,-3.2l3.2,3.2l-3.2,3.2zM858.0,801.1l3.2,-3.2l3.2,3.2l-3.2,3.2zM875.9,805.2l3.2,-3.2l3.2,3.2l-3.2,3.2zM875.6,808.8l3.2,-3.2l3.2,3.2l-3.2,3.2zM874.1,813.2l3.2,-3.2l3.2,3.2l-3.2,3.2zM872.7,802.3l3.2,-3.2l3.2,3.2l-3.2,3.2zM855.7,800.6l3.2,-3.2l3.2,3.2l-3.2,3.2zM880.6,817.7l3.2,-3.2l3.2,3.2l-3.2,3.2zM879.4,805.3l3.2,-3.2l3.2,3.2l-3.2,3.2zM870.1,792.8l3.2,-3.2l3.2,3.2l-3.2,3.2zM876.4,809.2l3.2,-3.2l3.2,3.2l-3.2,3.2zM863.0,788.4l3.2,-3.2l3.2,3.2l-3.2,3.2zM876.8,805.2l3.2,-3.2l3.2,3.2l-3.2,3.2zM872.7,789.3l3.2,-3.2l3.2,3.2l-3.2,3.2zM873.4,793.8l3.2,-3.2l3.2,3.2l-3.2,3.2zM884.3,799.2l3.2,-3.2l3.2,3.2l-3.2,3.2zM880.5,797.6l3.2,-3.2l3.2,3.2l-3.2,3.2zM873.7,826.8l3.2,-3.2l3.2,3.2l-3.2,3.2zM850.5,798.0l3.2,-3.2l3.2,3.2l-3.2,3.2zM856.2,795.9l3.2,-3.2l3.2,3.2l-3.2,3.2zM902.7,825.1l3.2,-3.2l3.2,3.2l-3.2,3.2zM880.3,803.7l3.2,-3.2l3.2,3.2l-3.2,3.2zM868.3,826.0l3.2,-3.2l3.2,3.2l-3.2,3.2zM873.9,792.7l3.2,-3.2l3.2,3.2l-3.2,3.2zM873.8,808.1l3.2,-3.2l3.2,3.2l-3.2,3.2zM875.5,807.6l3.2,-3.2l3.2,3.2l-3.2,3.2zM877.4,787.4l3.2,-3.2l3.2,3.2l-3.2,3.2zM866.8,824.5l3.2,-3.2l3.2,3.2l-3.2,3.2zM882.4,812.7l3.2,-3.2l3.2,3.2l-3.2,3.2zM870.2,820.6l3.2,-3.2l3.2,3.2l-3.2,3.2zM873.2,811.9l3.2,-3.2l3.2,3.2l-3.2,3.2zM878.6,811.6l3.2,-3.2l3.2,3.2l-3.2,3.2zM861.6,803.6l3.2,-3.2l3.2,3.2l-3.2,3.2zM874.0,825.1l3.2,-3.2l3.2,3.2l-3.2,3.2zM871.7,801.2l3.2,-3.2l3.2,3.2l-3.2,3.2zM874.2,811.0l3.2,-3.2l3.2,3.2l-3.2,3.2zM880.1,813.8l3.2,-3.2l3.2,3.2l-3.2,3.2zM868.5,803.3l3.2,-3.2l3.2,3.2l-3.2,3.2zM873.3,813.6l3.2,-3.2l3.2,3.2l-3.2,3.2zM876.8,805.7l3.2,-3.2l3.2,3.2l-3.2,3.2zM883.2,798.9l3.2,-3.2l3.2,3.2l-3.2,3.2zM875.6,808.3l3.2,-3.2l3.2,3.2l-3.2,3.2zM866.3,806.2l3.2,-3.2l3.2,3.2l-3.2,3.2zM871.5,800.5l3.2,-3.2l3.2,3.2l-3.2,3.2zM882.0,802.2l3.2,-3.2l3.2,3.2l-3.2,3.2zM874.3,805.0l3.2,-3.2l3.2,3.2l-3.2,3.2zM888.4,792.6l3.2,-3.2l3.2,3.2l-3.2,3.2zM869.5,833.5l3.2,-3.2l3.2,3.2l-3.2,3.2zM880.4,821.8l3.2,-3.2l3.2,3.2l-3.2,3.2zM875.2,803.9l3.2,-3.2l3.2,3.2l-3.2,3.2zM888.3,809.6l3.2,-3.2l3.2,3.2l-3.2,3.2zM873.7,813.2l3.2,-3.2l3.2,3.2l-3.2,3.2zM877.5,819.0l3.2,-3.2l3.2,3.2l-3.2,3.2zM879.9,804.9l3.2,-3.2l3.2,3.2l-3.2,3.2zM887.0,810.8l3.2,-3.2l3.2,3.2l-3.2,3.2zM877.7,806.2l3.2,-3.2l3.2,3.2l-3.2,3.2zM874.6,816.6l3.2,-3.2l3.2,3.2l-3.2,3.2zM869.7,807.5l3.2,-3.2l3.2,3.2l-3.2,3.2zM879.2,798.7l3.2,-3.2l3.2,3.2l-3.2,3.2zM869.4,805.6l3.2,-3.2l3.2,3.2l-3.2,3.2zM880.3,800.2l3.2,-3.2l3.2,3.2l-3.2,3.2zM877.1,806.1l3.2,-3.2l3.2,3.2l-3.2,3.2zM871.7,807.7l3.2,-3.2l3.2,3.2l-3.2,3.2zM873.1,823.6l3.2,-3.2l3.2,3.2l-3.2,3.2zM868.4,829.6l3.2,-3.2l3.2,3.2l-3.2,3.2zM879.4,800.0l3.2,-3.2l3.2,3.2l-3.2,3.2zM871.6,806.4l3.2,-3.2l3.2,3.2l-3.2,3.2zM876.3,810.2l3.2,-3.2l3.2,3.2l-3.2,3.2zM888.1,809.6l3.2,-3.2l3.2,3.2l-3.2,3.2zM877.8,808.5l3.2,-3.2l3.2,3.2l-3.2,3.2zM892.9,822.7l3.2,-3.2l3.2,3.2l-3.2,3.2zM876.7,819.9l3.2,-3.2l3.2,3.2l-3.2,3.2zM868.4,816.5l3.2,-3.2l3.2,3.2l-3.2,3.2zM881.8,817.7l3.2,-3.2l3.2,3.2l-3.2,3.2zM865.8,810.9l3.2,-3.2l3.2,3.2l-3.2,3.2zM866.3,816.9l3.2,-3.2l3.2,3.2l-3.2,3.2zM889.1,813.9l3.2,-3.2l3.2,3.2l-3.2,3.2zM867.6,795.5l3.2,-3.2l3.2,3.2l-3.2,3.2zM875.7,797.9l3.2,-3.2l3.2,3.2l-3.2,3.2zM860.2,810.6l3.2,-3.2l3.2,3.2l-3.2,3.2zM879.2,806.0l3.2,-3.2l3.2,3.2l-3.2,3.2zM879.8,796.7l3.2,-3.2l3.2,3.2l-3.2,3.2zM880.2,798.0l3.2,-3.2l3.2,3.2l-3.2,3.2zM881.6,814.7l3.2,-3.2l3.2,3.2l-3.2,3.2zM876.6,796.2l3.2,-3.2l3.2,3.2l-3.2,3.2zM866.4,803.1l3.2,-3.2l3.2,3.2l-3.2,3.2zM880.6,795.9l3.2,-3.2l3.2,3.2l-3.2,3.2zM859.8,786.5l3.2,-3.2l3.2,3.2l-3.2,3.2zM860.9,807.9l3.2,-3.2l3.2,3.2l-3.2,3.2zM897.8,820.1l3.2,-3.2l3.2,3.2l-3.2,3.2zM895.2,805.4l3.2,-3.2l3.2,3.2l-3.2,3.2zM892.2,794.9l3.2,-3.2l3.2,3.2l-3.2,3.2zM876.3,815.0l3.2,-3.2l3.2,3.2l-3.2,3.2zM872.1,819.6l3.2,-3.2l3.2,3.2l-3.2,3.2zM862.4,804.4l3.2,-3.2l3.2,3.2l-3.2,3.2zM861.8,804.6l3.2,-3.2l3.2,3.2l-3.2,3.2zM874.3,809.1l3.2,-3.2l3.2,3.2l-3.2,3.2zM865.5,819.0l3.2,-3.2l3.2,3.2l-3.2,3.2zM882.1,816.5l3.2,-3.2l3.2,3.2l-3.2,3.2zM869.7,809.5l3.2,-3.2l3.2,3.2l-3.2,3.2zM881.0,790.1l3.2,-3.2l3.2,3.2l-3.2,3.2zM892.6,800.8l3.2,-3.2l3.2,3.2l-3.2,3.2zM881.0,802.0l3.2,-3.2l3.2,3.2l-3.2,3.2zM873.0,809.7l3.2,-3.2l3.2,3.2l-3.2,3.2zM859.3,802.9l3.2,-3.2l3.2,3.2l-3.2,3.2zM870.4,804.5l3.2,-3.2l3.2,3.2l-3.2,3.2zM895.1,800.1l3.2,-3.2l3.2,3.2l-3.2,3.2zM885.3,800.0l3.2,-3.2l3.2,3.2l-3.2,3.2zM869.8,813.8l3.2,-3.2l3.2,3.2l-3.2,3.2zM861.7,813.1l3.2,-3.2l3.2,3.2l-3.2,3.2zM876.4,801.7l3.2,-3.2l3.2,3.2l-3.2,3.2zM880.1,811.0l3.2,-3.2l3.2,3.2l-3.2,3.2zM864.6,807.5l3.2,-3.2l3.2,3.2l-3.2,3.2zM877.7,825.8l3.2,-3.2l3.2,3.2l-3.2,3.2zM875.7,820.8l3.2,-3.2l3.2,3.2l-3.2,3.2zM870.8,809.2l3.2,-3.2l3.2,3.2l-3.2,3.2zM866.0,812.5l3.2,-3.2l3.2,3.2l-3.2,3.2zM874.9,817.0l3.2,-3.2l3.2,3.2l-3.2,3.2zM881.0,802.0l3.2,-3.2l3.2,3.2l-3.2,3.2zM879.8,817.4l3.2,-3.2l3.2,3.2l-3.2,3.2zM873.1,810.9l3.2,-3.2l3.2,3.2l-3.2,3.2zM875.9,801.2l3.2,-3.2l3.2,3.2l-3.2,3.2zM870.1,807.8l3.2,-3.2l3.2,3.2l-3.2,3.2zM882.3,810.9l3.2,-3.2l3.2,3.2l-3.2,3.2zM881.3,808.2l3.2,-3.2l3.2,3.2l-3.2,3.2zM862.1,808.3l3.2,-3.2l3.2,3.2l-3.2,3.2zM876.1,811.7l3.2,-3.2l3.2,3.2l-3.2,3.2zM892.1,811.5l3.2,-3.2l3.2,3.2l-3.2,3.2zM861.6,809.4l3.2,-3.2l3.2,3.2l-3.2,3.2zM872.8,803.4l3.2,-3.2l3.2,3.2l-3.2,3.2zM897.6,806.7l3.2,-3.2l3.2,3.2l-3.2,3.2zM882.2,814.5l3.2,-3.2l3.2,3.2l-3.2,3.2zM866.3,814.3l3.2,-3.2l3.2,3.2l-3.2,3.2zM873.0,812.0l3.2,-3.2l3.2,3.2l-3.2,3.2zM874.7,813.8l3.2,-3.2l3.2,3.2l-3.2,3.2zM864.0,815.0l3.2,-3.2l3.2,3.2l-3.2,3.2zM881.8,818.4l3.2,-3.2l3.2,3.2l-3.2,3.2zM881.9,793.2l3.2,-3.2l3.2,3.2l-3.2,3.2zM866.4,799.9l3.2,-3.2l3.2,3.2l-3.2,3.2zM882.4,831.9l3.2,-3.2l3.2,3.2l-3.2,3.2zM882.5,802.1l3.2,-3.2l3.2,3.2l-3.2,3.2zM867.7,792.1l3.2,-3.2l3.2,3.2l-3.2,3.2zM858.7,796.3l3.2,-3.2l3.2,3.2l-3.2,3.2zM877.2,817.3l3.2,-3.2l3.2,3.2l-3.2,3.2zM878.7,851.5l3.2,-3.2l3.2,3.2l-3.2,3.2zM895.1,792.0l3.2,-3.2l3.2,3.2l-3.2,3.2zM915.6,767.2l3.2,-3.2l3.2,3.2l-3.2,3.2zM852.5,793.3l3.2,-3.2l3.2,3.2l-3.2,3.2zM854.9,890.8l3.2,-3.2l3.2,3.2l-3.2,3.2zM906.5,774.0l3.2,-3.2l3.2,3.2l-3.2,3.2zM882.5,757.7l3.2,-3.2l3.2,3.2l-3.2,3.2zM873.2,857.4l3.2,-3.2l3.2,3.2l-3.2,3.2zM860.0,815.5l3.2,-3.2l3.2,3.2l-3.2,3.2zM884.1,819.4l3.2,-3.2l3.2,3.2l-3.2,3.2zM801.6,843.3l3.2,-3.2l3.2,3.2l-3.2,3.2zM870.3,775.5l3.2,-3.2l3.2,3.2l-3.2,3.2zM853.3,845.3l3.2,-3.2l3.2,3.2l-3.2,3.2zM859.4,781.5l3.2,-3.2l3.2,3.2l-3.2,3.2zM916.1,836.0l3.2,-3.2l3.2,3.2l-3.2,3.2zM897.5,769.6l3.2,-3.2l3.2,3.2l-3.2,3.2zM901.3,839.5l3.2,-3.2l3.2,3.2l-3.2,3.2zM895.0,822.1l3.2,-3.2l3.2,3.2l-3.2,3.2zM858.4,752.3l3.2,-3.2l3.2,3.2l-3.2,3.2zM873.9,793.2l3.2,-3.2l3.2,3.2l-3.2,3.2zM915.2,760.4l3.2,-3.2l3.2,3.2l-3.2,3.2zM884.3,825.4l3.2,-3.2l3.2,3.2l-3.2,3.2zM873.5,827.3l3.2,-3.2l3.2,3.2l-3.2,3.2zM871.1,811.1l3.2,-3.2l3.2,3.2l-3.2,3.2zM826.0,830.5l3.2,-3.2l3.2,3.2l-3.2,3.2zM828.3,809.4l3.2,-3.2l3.2,3.2l-3.2,3.2zM901.5,786.7l3.2,-3.2l3.2,3.2l-3.2,3.2zM881.3,835.4l3.2,-3.2l3.2,3.2l-3.2,3.2zM872.9,847.1l3.2,-3.2l3.2,3.2l-3.2,3.2zM893.8,852.3l3.2,-3.2l3.2,3.2l-3.2,3.2zM854.0,758.1l3.2,-3.2l3.2,3.2l-3.2,3.2zM888.8,835.9l3.2,-3.2l3.2,3.2l-3.2,3.2zM867.9,837.4l3.2,-3.2l3.2,3.2l-3.2,3.2zM848.7,819.9l3.2,-3.2l3.2,3.2l-3.2,3.2zM847.1,802.3l3.2,-3.2l3.2,3.2l-3.2,3.2zM910.4,832.6l3.2,-3.2l3.2,3.2l-3.2,3.2zM844.3,831.1l3.2,-3.2l3.2,3.2l-3.2,3.2zM854.7,804.2l3.2,-3.2l3.2,3.2l-3.2,3.2zM853.0,833.1l3.2,-3.2l3.2,3.2l-3.2,3.2zM852.6,779.5l3.2,-3.2l3.2,3.2l-3.2,3.2zM907.1,777.8l3.2,-3.2l3.2,3.2l-3.2,3.2zM881.1,835.1l3.2,-3.2l3.2,3.2l-3.2,3.2zM920.3,744.0l3.2,-3.2l3.2,3.2l-3.2,3.2zM853.5,825.4l3.2,-3.2l3.2,3.2l-3.2,3.2zM910.9,788.0l3.2,-3.2l3.2,3.2l-3.2,3.2zM888.1,747.8l3.2,-3.2l3.2,3.2l-3.2,3.2zM869.1,830.9l3.2,-3.2l3.2,3.2l-3.2,3.2zM862.9,801.4l3.2,-3.2l3.2,3.2l-3.2,3.2zM881.3,771.9l3.2,-3.2l3.2,3.2l-3.2,3.2zM900.3,828.6l3.2,-3.2l3.2,3.2l-3.2,3.2zM899.2,813.4l3.2,-3.2l3.2,3.2l-3.2,3.2zM924.8,774.9l3.2,-3.2l3.2,3.2l-3.2,3.2zM855.4,792.0l3.2,-3.2l3.2,3.2l-3.2,3.2zM832.0,794.6l3.2,-3.2l3.2,3.2l-3.2,3.2zM877.5,794.8l3.2,-3.2l3.2,3.2l-3.2,3.2zM835.1,832.4l3.2,-3.2l3.2,3.2l-3.2,3.2zM856.5,814.5l3.2,-3.2l3.2,3.2l-3.2,3.2zM897.0,831.6l3.2,-3.2l3.2,3.2l-3.2,3.2zM808.4,823.8l3.2,-3.2l3.2,3.2l-3.2,3.2zM900.3,783.1l3.2,-3.2l3.2,3.2l-3.2,3.2zM832.9,789.3l3.2,-3.2l3.2,3.2l-3.2,3.2zM878.4,787.1l3.2,-3.2l3.2,3.2l-3.2,3.2zM880.7,771.8l3.2,-3.2l3.2,3.2l-3.2,3.2zM851.1,745.5l3.2,-3.2l3.2,3.2l-3.2,3.2zM911.2,841.8l3.2,-3.2l3.2,3.2l-3.2,3.2zM823.4,778.5l3.2,-3.2l3.2,3.2l-3.2,3.2zM823.2,830.8l3.2,-3.2l3.2,3.2l-3.2,3.2zM890.7,812.3l3.2,-3.2l3.2,3.2l-3.2,3.2zM879.7,870.3l3.2,-3.2l3.2,3.2l-3.2,3.2zM849.7,793.4l3.2,-3.2l3.2,3.2l-3.2,3.2zM943.3,796.1l3.2,-3.2l3.2,3.2l-3.2,3.2zM875.8,804.6l3.2,-3.2l3.2,3.2l-3.2,3.2zM908.2,789.8l3.2,-3.2l3.2,3.2l-3.2,3.2zM845.3,865.3l3.2,-3.2l3.2,3.2l-3.2,3.2zM866.8,819.6l3.2,-3.2l3.2,3.2l-3.2,3.2zM935.0,833.0l3.2,-3.2l3.2,3.2l-3.2,3.2zM899.4,866.1l3.2,-3.2l3.2,3.2l-3.2,3.2zM900.2,845.7l3.2,-3.2l3.2,3.2l-3.2,3.2zM875.4,814.3l3.2,-3.2l3.2,3.2l-3.2,3.2zM877.7,808.4l3.2,-3.2l3.2,3.2l-3.2,3.2zM836.4,791.3l3.2,-3.2l3.2,3.2l-3.2,3.2zM844.7,809.9l3.2,-3.2l3.2,3.2l-3.2,3.2zM845.9,809.5l3.2,-3.2l3.2,3.2l-3.2,3.2zM870.3,814.2l3.2,-3.2l3.2,3.2l-3.2,3.2zM847.8,773.6l3.2,-3.2l3.2,3.2l-3.2,3.2zM868.3,806.7l3.2,-3.2l3.2,3.2l-3.2,3.2zM801.5,791.5l3.2,-3.2l3.2,3.2l-3.2,3.2zM821.8,814.7l3.2,-3.2l3.2,3.2l-3.2,3.2zM806.2,754.0l3.2,-3.2l3.2,3.2l-3.2,3.2zM815.3,816.5l3.2,-3.2l3.2,3.2l-3.2,3.2zM832.2,845.7l3.2,-3.2l3.2,3.2l-3.2,3.2zM815.6,766.8l3.2,-3.2l3.2,3.2l-3.2,3.2zM944.8,812.8l3.2,-3.2l3.2,3.2l-3.2,3.2zM900.8,823.2l3.2,-3.2l3.2,3.2l-3.2,3.2zM837.8,756.6l3.2,-3.2l3.2,3.2l-3.2,3.2zM894.8,842.4l3.2,-3.2l3.2,3.2l-3.2,3.2zM869.9,809.8l3.2,-3.2l3.2,3.2l-3.2,3.2zM864.0,811.8l3.2,-3.2l3.2,3.2l-3.2,3.2zM851.5,811.6l3.2,-3.2l3.2,3.2l-3.2,3.2zM859.5,818.8l3.2,-3.2l3.2,3.2l-3.2,3.2zM848.2,764.6l3.2,-3.2l3.2,3.2l-3.2,3.2zM859.1,815.6l3.2,-3.2l3.2,3.2l-3.2,3.2zM881.5,808.8l3.2,-3.2l3.2,3.2l-3.2,3.2zM830.1,784.5l3.2,-3.2l3.2,3.2l-3.2,3.2zM832.8,828.6l3.2,-3.2l3.2,3.2l-3.2,3.2zM886.7,815.6l3.2,-3.2l3.2,3.2l-3.2,3.2zM849.6,809.3l3.2,-3.2l3.2,3.2l-3.2,3.2zM844.7,827.0l3.2,-3.2l3.2,3.2l-3.2,3.2zM833.9,845.7l3.2,-3.2l3.2,3.2l-3.2,3.2zM840.1,808.5l3.2,-3.2l3.2,3.2l-3.2,3.2zM855.9,814.3l3.2,-3.2l3.2,3.2l-3.2,3.2zM902.6,823.1l3.2,-3.2l3.2,3.2l-3.2,3.2zM811.5,807.8l3.2,-3.2l3.2,3.2l-3.2,3.2zM931.4,894.1l3.2,-3.2l3.2,3.2l-3.2,3.2zM864.1,842.4l3.2,-3.2l3.2,3.2l-3.2,3.2zM822.9,786.9l3.2,-3.2l3.2,3.2l-3.2,3.2zM871.1,811.1l3.2,-3.2l3.2,3.2l-3.2,3.2zM829.4,824.7l3.2,-3.2l3.2,3.2l-3.2,3.2zM835.4,766.2l3.2,-3.2l3.2,3.2l-3.2,3.2zM870.9,868.1l3.2,-3.2l3.2,3.2l-3.2,3.2zM861.9,767.3l3.2,-3.2l3.2,3.2l-3.2,3.2zM846.7,818.1l3.2,-3.2l3.2,3.2l-3.2,3.2zM870.4,796.4l3.2,-3.2l3.2,3.2l-3.2,3.2zM888.2,828.0l3.2,-3.2l3.2,3.2l-3.2,3.2zM860.2,790.1l3.2,-3.2l3.2,3.2l-3.2,3.2zM838.5,819.9l3.2,-3.2l3.2,3.2l-3.2,3.2zM883.6,816.9l3.2,-3.2l3.2,3.2l-3.2,3.2zM840.1,762.6l3.2,-3.2l3.2,3.2l-3.2,3.2zM877.9,818.3l3.2,-3.2l3.2,3.2l-3.2,3.2zM776.7,778.2l3.2,-3.2l3.2,3.2l-3.2,3.2zM903.2,811.4l3.2,-3.2l3.2,3.2l-3.2,3.2zM873.5,834.0l3.2,-3.2l3.2,3.2l-3.2,3.2zM939.1,784.0l3.2,-3.2l3.2,3.2l-3.2,3.2zM947.0,744.6l3.2,-3.2l3.2,3.2l-3.2,3.2zM813.1,791.3l3.2,-3.2l3.2,3.2l-3.2,3.2zM804.6,799.1l3.2,-3.2l3.2,3.2l-3.2,3.2zM874.1,825.9l3.2,-3.2l3.2,3.2l-3.2,3.2zM894.5,805.5l3.2,-3.2l3.2,3.2l-3.2,3.2zM862.1,816.8l3.2,-3.2l3.2,3.2l-3.2,3.2zM903.5,795.6l3.2,-3.2l3.2,3.2l-3.2,3.2zM901.2,800.1l3.2,-3.2l3.2,3.2l-3.2,3.2zM858.5,823.3l3.2,-3.2l3.2,3.2l-3.2,3.2zM881.1,829.8l3.2,-3.2l3.2,3.2l-3.2,3.2zM852.5,786.2l3.2,-3.2l3.2,3.2l-3.2,3.2zM880.6,815.5l3.2,-3.2l3.2,3.2l-3.2,3.2zM880.1,820.1l3.2,-3.2l3.2,3.2l-3.2,3.2zM915.8,814.9l3.2,-3.2l3.2,3.2l-3.2,3.2zM874.6,842.8l3.2,-3.2l3.2,3.2l-3.2,3.2zM850.5,846.7l3.2,-3.2l3.2,3.2l-3.2,3.2zM887.7,793.2l3.2,-3.2l3.2,3.2l-3.2,3.2zM913.6,828.5l3.2,-3.2l3.2,3.2l-3.2,3.2zM875.5,790.8l3.2,-3.2l3.2,3.2l-3.2,3.2zM848.1,899.9l3.2,-3.2l3.2,3.2l-3.2,3.2zM1002.1,783.5l3.2,-3.2l3.2,3.2l-3.2,3.2zM932.5,766.9l3.2,-3.2l3.2,3.2l-3.2,3.2zM824.5,811.8l3.2,-3.2l3.2,3.2l-3.2,3.2zM840.3,752.6l3.2,-3.2l3.2,3.2l-3.2,3.2zM885.1,848.3l3.2,-3.2l3.2,3.2l-3.2,3.2zM894.3,662.5l3.2,-3.2l3.2,3.2l-3.2,3.2zM871.7,783.3l3.2,-3.2l3.2,3.2l-3.2,3.2zM1011.1,859.1l3.2,-3.2l3.2,3.2l-3.2,3.2zM892.6,744.2l3.2,-3.2l3.2,3.2l-3.2,3.2zM915.1,841.9l3.2,-3.2l3.2,3.2l-3.2,3.2zM871.3,804.0l3.2,-3.2l3.2,3.2l-3.2,3.2zM936.5,755.1l3.2,-3.2l3.2,3.2l-3.2,3.2zM743.4,805.9l3.2,-3.2l3.2,3.2l-3.2,3.2zM825.2,793.9l3.2,-3.2l3.2,3.2l-3.2,3.2zM846.3,790.0l3.2,-3.2l3.2,3.2l-3.2,3.2zM774.3,798.0l3.2,-3.2l3.2,3.2l-3.2,3.2zM909.5,743.3l3.2,-3.2l3.2,3.2l-3.2,3.2zM976.3,809.4l3.2,-3.2l3.2,3.2l-3.2,3.2zM835.5,738.1l3.2,-3.2l3.2,3.2l-3.2,3.2zM899.0,791.8l3.2,-3.2l3.2,3.2l-3.2,3.2zM911.8,886.4l3.2,-3.2l3.2,3.2l-3.2,3.2zM814.6,856.6l3.2,-3.2l3.2,3.2l-3.2,3.2zM800.4,726.0l3.2,-3.2l3.2,3.2l-3.2,3.2zM752.1,817.6l3.2,-3.2l3.2,3.2l-3.2,3.2zM868.8,856.2l3.2,-3.2l3.2,3.2l-3.2,3.2zM899.0,853.7l3.2,-3.2l3.2,3.2l-3.2,3.2zM780.1,876.7l3.2,-3.2l3.2,3.2l-3.2,3.2zM962.4,830.0l3.2,-3.2l3.2,3.2l-3.2,3.2zM886.7,778.1l3.2,-3.2l3.2,3.2l-3.2,3.2zM901.9,848.3l3.2,-3.2l3.2,3.2l-3.2,3.2zM927.2,752.4l3.2,-3.2l3.2,3.2l-3.2,3.2zM780.7,764.8l3.2,-3.2l3.2,3.2l-3.2,3.2zM908.3,750.3l3.2,-3.2l3.2,3.2l-3.2,3.2zM913.5,817.2l3.2,-3.2l3.2,3.2l-3.2,3.2zM824.2,773.8l3.2,-3.2l3.2,3.2l-3.2,3.2zM899.8,786.5l3.2,-3.2l3.2,3.2l-3.2,3.2zM842.0,746.1l3.2,-3.2l3.2,3.2l-3.2,3.2zM935.5,750.7l3.2,-3.2l3.2,3.2l-3.2,3.2zM835.4,776.1l3.2,-3.2l3.2,3.2l-3.2,3.2zM938.7,879.2l3.2,-3.2l3.2,3.2l-3.2,3.2zM826.5,794.2l3.2,-3.2l3.2,3.2l-3.2,3.2zM779.5,812.9l3.2,-3.2l3.2,3.2l-3.2,3.2zM880.9,886.8l3.2,-3.2l3.2,3.2l-3.2,3.2zM913.3,808.0l3.2,-3.2l3.2,3.2l-3.2,3.2zM957.4,809.9l3.2,-3.2l3.2,3.2l-3.2,3.2zM842.2,810.5l3.2,-3.2l3.2,3.2l-3.2,3.2zM902.7,905.6l3.2,-3.2l3.2,3.2l-3.2,3.2zM855.2,768.7l3.2,-3.2l3.2,3.2l-3.2,3.2zM925.1,788.0l3.2,-3.2l3.2,3.2l-3.2,3.2zM803.2,812.8l3.2,-3.2l3.2,3.2l-3.2,3.2zM904.5,806.9l3.2,-3.2l3.2,3.2l-3.2,3.2zM885.7,707.8l3.2,-3.2l3.2,3.2l-3.2,3.2zM1002.5,831.6l3.2,-3.2l3.2,3.2l-3.2,3.2zM812.2,806.1l3.2,-3.2l3.2,3.2l-3.2,3.2zM962.2,863.0l3.2,-3.2l3.2,3.2l-3.2,3.2zM812.6,874.2l3.2,-3.2l3.2,3.2l-3.2,3.2zM949.0,833.1l3.2,-3.2l3.2,3.2l-3.2,3.2zM870.9,721.3l3.2,-3.2l3.2,3.2l-3.2,3.2zM917.4,824.4l3.2,-3.2l3.2,3.2l-3.2,3.2zM791.0,748.1l3.2,-3.2l3.2,3.2l-3.2,3.2zM881.3,824.8l3.2,-3.2l3.2,3.2l-3.2,3.2zM891.8,845.6l3.2,-3.2l3.2,3.2l-3.2,3.2zM889.1,796.1l3.2,-3.2l3.2,3.2l-3.2,3.2zM804.3,794.1l3.2,-3.2l3.2,3.2l-3.2,3.2zM915.3,730.5l3.2,-3.2l3.2,3.2l-3.2,3.2zM934.2,695.3l3.2,-3.2l3.2,3.2l-3.2,3.2zM933.9,808.6l3.2,-3.2l3.2,3.2l-3.2,3.2z" fill="#bdbdbd"/>
<path d="M877.8,573.5V1018.3M700.5,808.2H1196.9" stroke="#1a1a1a" stroke-width="1.8" fill="none"/>
<rect x="700.5" y="573.5" width="496.4" height="444.8" fill="none" stroke="#1a1a1a" stroke-width="1.8"/>
<text font-family="'Liberation Sans', sans-serif" font-size="14.1" fill="#231815" text-anchor="middle" font-weight="bold" x="712.8" y="1049.1">−0.2</text>
<text font-family="'Liberation Sans', sans-serif" font-size="14.1" fill="#231815" text-anchor="middle" font-weight="bold" x="795.1" y="1049.1">−0.1</text>
<text font-family="'Liberation Sans', sans-serif" font-size="14.1" fill="#231815" text-anchor="middle" font-weight="bold" x="877.8" y="1049.1">0.0</text>
<text font-family="'Liberation Sans', sans-serif" font-size="14.1" fill="#231815" text-anchor="middle" font-weight="bold" x="960.1" y="1049.1">0.1</text>
<text font-family="'Liberation Sans', sans-serif" font-size="14.1" fill="#231815" text-anchor="middle" font-weight="bold" x="1042.1" y="1049.1">0.2</text>
<text font-family="'Liberation Sans', sans-serif" font-size="14.1" fill="#231815" text-anchor="middle" font-weight="bold" x="1124.5" y="1049.1">0.3</text>
<text font-family="'Liberation Sans', sans-serif" font-size="14.1" fill="#231815" text-anchor="middle" font-weight="bold" transform="translate(680.3,643.5) rotate(-90)">0.2</text>
<text font-family="'Liberation Sans', sans-serif" font-size="14.1" fill="#231815" text-anchor="middle" font-weight="bold" transform="translate(680.3,725.5) rotate(-90)">0.1</text>
<text font-family="'Liberation Sans', sans-serif" font-size="14.1" fill="#231815" text-anchor="middle" font-weight="bold" transform="translate(680.3,808.2) rotate(-90)">0.0</text>
<text font-family="'Liberation Sans', sans-serif" font-size="14.1" fill="#231815" text-anchor="middle" font-weight="bold" transform="translate(680.3,890.2) rotate(-90)">−0.1</text>
<text font-family="'Liberation Sans', sans-serif" font-size="14.1" fill="#231815" text-anchor="middle" font-weight="bold" transform="translate(680.3,972.5) rotate(-90)">−0.2</text>
<path d="M712.8,1018.3v8.5M795.1,1018.3v8.5M877.8,1018.3v8.5M960.1,1018.3v8.5M1042.1,1018.3v8.5M1124.5,1018.3v8.5M700.5,643.5h-8.5M700.5,725.5h-8.5M700.5,808.2h-8.5M700.5,890.2h-8.5M700.5,972.5h-8.5" stroke="#3a3a3a" stroke-width="1.1" fill="none"/>
<text font-family="'Liberation Sans', sans-serif" font-size="14.3" fill="#231815" text-anchor="middle" font-weight="bold" x="948.7" y="1083.0">p1 (78%)</text>
<text font-family="'Liberation Sans', sans-serif" font-size="14.3" fill="#231815" text-anchor="middle" font-weight="bold" transform="translate(646.2,793.5) rotate(-90)">pOrtho1 (78%)</text>
<path d="M1059.0,590.5l3,-3l3,3l-3,3zM917.2,619.0l3,-3l3,3l-3,3zM934.2,618.6l3,-3l3,3l-3,3zM763.4,764.4l3,-3l3,3l-3,3zM1038.4,829.3l3,-3l3,3l-3,3zM762.0,848.5l3,-3l3,3l-3,3zM716.0,877.2l3,-3l3,3l-3,3zM1174.8,935.0l3,-3l3,3l-3,3zM806.8,986.2l3,-3l3,3l-3,3zM865.2,992.7l3,-3l3,3l-3,3zM859.0,1002.2l3,-3l3,3l-3,3z" fill="#000"/>
<text font-family="'Noto Sans CJK SC', 'Liberation Sans', sans-serif" font-size="22" fill="#231815" textLength="122.5" lengthAdjust="spacingAndGlyphs" x="1066.9" y="595.7" stroke="#231815" stroke-width="0.3">Quinic acid</text>
<text font-family="'Noto Sans CJK SC', 'Liberation Sans', sans-serif" font-size="22" fill="#231815" textLength="150.1" lengthAdjust="spacingAndGlyphs" x="767.7" y="627.0" stroke="#231815" stroke-width="0.3">L-Tryptophan</text>
<text font-family="'Noto Sans CJK SC', 'Liberation Sans', sans-serif" font-size="22" fill="#231815" textLength="108.2" lengthAdjust="spacingAndGlyphs" x="942.9" y="624.0" stroke="#231815" stroke-width="0.3">Citric acid</text>
<text font-family="'Noto Sans CJK SC', 'Liberation Sans', sans-serif" font-size="22" fill="#231815" textLength="310.6" lengthAdjust="spacingAndGlyphs" x="774.5" y="770.0" stroke="#231815" stroke-width="0.3">Lipids_Glycerophospholipids</text>
<text font-family="'Noto Sans CJK SC', 'Liberation Sans', sans-serif" font-size="22" fill="#2aa7df" textLength="58.9" lengthAdjust="spacingAndGlyphs" x="1047.5" y="833.8" stroke="#2aa7df" stroke-width="0.3">Rutin</text>
<text font-family="'Noto Sans CJK SC', 'Liberation Sans', sans-serif" font-size="22" fill="#231815" textLength="101.5" lengthAdjust="spacingAndGlyphs" x="772.9" y="853.6" stroke="#231815" stroke-width="0.3">L-Proline</text>
<text font-family="'Noto Sans CJK SC', 'Liberation Sans', sans-serif" font-size="22" fill="#231815" textLength="138.2" lengthAdjust="spacingAndGlyphs" x="724.3" y="881.0" stroke="#231815" stroke-width="0.3">Salicylic acid</text>
<text font-family="'Noto Sans CJK SC', 'Liberation Sans', sans-serif" font-size="22" fill="#e60012" textLength="264.6" lengthAdjust="spacingAndGlyphs" x="906.1" y="940.7" stroke="#e60012" stroke-width="0.3">Cyanidin O-syringic acid</text>
<text font-family="'Noto Sans CJK SC', 'Liberation Sans', sans-serif" font-size="22" fill="#231815" textLength="262.5" lengthAdjust="spacingAndGlyphs" x="723.6" y="980.0" stroke="#231815" stroke-width="0.3">LysoPC 18:3 (2n isomer)</text>
<text font-family="'Noto Sans CJK SC', 'Liberation Sans', sans-serif" font-size="22" fill="#231815" textLength="262.9" lengthAdjust="spacingAndGlyphs" x="880.4" y="997.0" stroke="#231815" stroke-width="0.3">LysoPC 18:1 (2n isomer)</text>
<text font-family="'Noto Sans CJK SC', 'Liberation Sans', sans-serif" font-size="22" fill="#2aa7df" textLength="191.1" lengthAdjust="spacingAndGlyphs" x="698.7" y="1011.4" stroke="#2aa7df" stroke-width="0.3">Dihydroquercetin</text>
<text font-family="'Liberation Sans', sans-serif" font-size="30" fill="#231815" textLength="152.9" lengthAdjust="spacingAndGlyphs" x="1480.0" y="556.4">HG2- BYW</text>
<rect x="1270.7" y="574" width="496.3" height="444.6" fill="#fff"/>
<path d="M1291.9,574V1018.6M1371.5,574V1018.6M1451.8,574V1018.6M1531.4,574V1018.6M1611.3,574V1018.6M1691.3,574V1018.6M1270.7,600.8H1767M1270.7,660.2H1767M1270.7,720.4H1767M1270.7,780.2H1767M1270.7,840H1767M1270.7,899.7H1767M1270.7,959.9H1767" stroke="#c6c6c6" stroke-width="1.6" fill="none"/>
<path d="M1450.2,769.3l3.2,-3.2l3.2,3.2l-3.2,3.2zM1444.1,793.0l3.2,-3.2l3.2,3.2l-3.2,3.2zM1453.5,775.4l3.2,-3.2l3.2,3.2l-3.2,3.2zM1454.8,776.1l3.2,-3.2l3.2,3.2l-3.2,3.2zM1450.5,784.0l3.2,-3.2l3.2,3.2l-3.2,3.2zM1445.0,781.2l3.2,-3.2l3.2,3.2l-3.2,3.2zM1448.4,772.9l3.2,-3.2l3.2,3.2l-3.2,3.2zM1457.3,788.6l3.2,-3.2l3.2,3.2l-3.2,3.2zM1458.0,779.7l3.2,-3.2l3.2,3.2l-3.2,3.2zM1461.7,768.6l3.2,-3.2l3.2,3.2l-3.2,3.2zM1456.8,792.3l3.2,-3.2l3.2,3.2l-3.2,3.2zM1457.7,790.7l3.2,-3.2l3.2,3.2l-3.2,3.2zM1465.8,784.2l3.2,-3.2l3.2,3.2l-3.2,3.2zM1450.3,766.2l3.2,-3.2l3.2,3.2l-3.2,3.2zM1436.3,779.2l3.2,-3.2l3.2,3.2l-3.2,3.2zM1442.4,783.2l3.2,-3.2l3.2,3.2l-3.2,3.2zM1444.9,774.5l3.2,-3.2l3.2,3.2l-3.2,3.2zM1449.3,776.9l3.2,-3.2l3.2,3.2l-3.2,3.2zM1457.7,791.8l3.2,-3.2l3.2,3.2l-3.2,3.2zM1464.4,781.2l3.2,-3.2l3.2,3.2l-3.2,3.2zM1437.2,784.2l3.2,-3.2l3.2,3.2l-3.2,3.2zM1459.7,772.1l3.2,-3.2l3.2,3.2l-3.2,3.2zM1445.9,778.6l3.2,-3.2l3.2,3.2l-3.2,3.2zM1454.1,771.8l3.2,-3.2l3.2,3.2l-3.2,3.2zM1450.8,772.2l3.2,-3.2l3.2,3.2l-3.2,3.2zM1444.0,784.6l3.2,-3.2l3.2,3.2l-3.2,3.2zM1457.9,774.1l3.2,-3.2l3.2,3.2l-3.2,3.2zM1451.6,775.0l3.2,-3.2l3.2,3.2l-3.2,3.2zM1453.9,773.8l3.2,-3.2l3.2,3.2l-3.2,3.2zM1462.4,775.6l3.2,-3.2l3.2,3.2l-3.2,3.2zM1459.4,782.2l3.2,-3.2l3.2,3.2l-3.2,3.2zM1447.0,796.6l3.2,-3.2l3.2,3.2l-3.2,3.2zM1455.7,779.1l3.2,-3.2l3.2,3.2l-3.2,3.2zM1456.8,793.1l3.2,-3.2l3.2,3.2l-3.2,3.2zM1447.7,783.4l3.2,-3.2l3.2,3.2l-3.2,3.2zM1435.9,772.7l3.2,-3.2l3.2,3.2l-3.2,3.2zM1463.0,788.7l3.2,-3.2l3.2,3.2l-3.2,3.2zM1456.0,766.7l3.2,-3.2l3.2,3.2l-3.2,3.2zM1441.1,772.1l3.2,-3.2l3.2,3.2l-3.2,3.2zM1466.3,765.7l3.2,-3.2l3.2,3.2l-3.2,3.2zM1439.8,787.2l3.2,-3.2l3.2,3.2l-3.2,3.2zM1453.9,770.5l3.2,-3.2l3.2,3.2l-3.2,3.2zM1440.7,784.9l3.2,-3.2l3.2,3.2l-3.2,3.2zM1442.0,771.2l3.2,-3.2l3.2,3.2l-3.2,3.2zM1447.0,775.2l3.2,-3.2l3.2,3.2l-3.2,3.2zM1457.8,770.8l3.2,-3.2l3.2,3.2l-3.2,3.2zM1455.8,776.9l3.2,-3.2l3.2,3.2l-3.2,3.2zM1462.4,775.9l3.2,-3.2l3.2,3.2l-3.2,3.2zM1440.7,783.3l3.2,-3.2l3.2,3.2l-3.2,3.2zM1460.2,778.3l3.2,-3.2l3.2,3.2l-3.2,3.2zM1448.9,777.6l3.2,-3.2l3.2,3.2l-3.2,3.2zM1481.9,779.7l3.2,-3.2l3.2,3.2l-3.2,3.2zM1456.4,776.0l3.2,-3.2l3.2,3.2l-3.2,3.2zM1449.6,770.6l3.2,-3.2l3.2,3.2l-3.2,3.2zM1459.7,776.4l3.2,-3.2l3.2,3.2l-3.2,3.2zM1439.8,770.1l3.2,-3.2l3.2,3.2l-3.2,3.2zM1458.9,780.0l3.2,-3.2l3.2,3.2l-3.2,3.2zM1427.8,779.8l3.2,-3.2l3.2,3.2l-3.2,3.2zM1441.1,781.1l3.2,-3.2l3.2,3.2l-3.2,3.2zM1447.4,785.5l3.2,-3.2l3.2,3.2l-3.2,3.2zM1461.2,778.5l3.2,-3.2l3.2,3.2l-3.2,3.2zM1463.2,786.5l3.2,-3.2l3.2,3.2l-3.2,3.2zM1450.3,769.3l3.2,-3.2l3.2,3.2l-3.2,3.2zM1455.0,784.7l3.2,-3.2l3.2,3.2l-3.2,3.2zM1444.0,783.7l3.2,-3.2l3.2,3.2l-3.2,3.2zM1451.3,774.3l3.2,-3.2l3.2,3.2l-3.2,3.2zM1453.3,773.8l3.2,-3.2l3.2,3.2l-3.2,3.2zM1459.6,778.5l3.2,-3.2l3.2,3.2l-3.2,3.2zM1463.7,773.9l3.2,-3.2l3.2,3.2l-3.2,3.2zM1450.4,780.6l3.2,-3.2l3.2,3.2l-3.2,3.2zM1451.8,784.8l3.2,-3.2l3.2,3.2l-3.2,3.2zM1439.9,779.1l3.2,-3.2l3.2,3.2l-3.2,3.2zM1447.4,775.0l3.2,-3.2l3.2,3.2l-3.2,3.2zM1446.6,778.7l3.2,-3.2l3.2,3.2l-3.2,3.2zM1453.8,782.8l3.2,-3.2l3.2,3.2l-3.2,3.2zM1453.7,784.7l3.2,-3.2l3.2,3.2l-3.2,3.2zM1448.1,773.5l3.2,-3.2l3.2,3.2l-3.2,3.2zM1455.5,779.4l3.2,-3.2l3.2,3.2l-3.2,3.2zM1444.9,774.3l3.2,-3.2l3.2,3.2l-3.2,3.2zM1470.0,795.4l3.2,-3.2l3.2,3.2l-3.2,3.2zM1461.5,777.8l3.2,-3.2l3.2,3.2l-3.2,3.2zM1461.9,770.8l3.2,-3.2l3.2,3.2l-3.2,3.2zM1442.8,766.6l3.2,-3.2l3.2,3.2l-3.2,3.2zM1446.6,781.2l3.2,-3.2l3.2,3.2l-3.2,3.2zM1457.6,780.0l3.2,-3.2l3.2,3.2l-3.2,3.2zM1454.4,783.2l3.2,-3.2l3.2,3.2l-3.2,3.2zM1442.6,779.3l3.2,-3.2l3.2,3.2l-3.2,3.2zM1442.1,769.5l3.2,-3.2l3.2,3.2l-3.2,3.2zM1454.2,769.1l3.2,-3.2l3.2,3.2l-3.2,3.2zM1440.7,794.8l3.2,-3.2l3.2,3.2l-3.2,3.2zM1431.4,782.2l3.2,-3.2l3.2,3.2l-3.2,3.2zM1440.3,776.8l3.2,-3.2l3.2,3.2l-3.2,3.2zM1438.8,789.6l3.2,-3.2l3.2,3.2l-3.2,3.2zM1454.5,782.3l3.2,-3.2l3.2,3.2l-3.2,3.2zM1458.1,773.5l3.2,-3.2l3.2,3.2l-3.2,3.2zM1455.1,788.4l3.2,-3.2l3.2,3.2l-3.2,3.2zM1444.1,762.7l3.2,-3.2l3.2,3.2l-3.2,3.2zM1449.9,777.3l3.2,-3.2l3.2,3.2l-3.2,3.2zM1453.1,779.6l3.2,-3.2l3.2,3.2l-3.2,3.2zM1450.4,783.6l3.2,-3.2l3.2,3.2l-3.2,3.2zM1447.3,794.3l3.2,-3.2l3.2,3.2l-3.2,3.2zM1467.0,780.2l3.2,-3.2l3.2,3.2l-3.2,3.2zM1440.1,775.6l3.2,-3.2l3.2,3.2l-3.2,3.2zM1458.0,790.1l3.2,-3.2l3.2,3.2l-3.2,3.2zM1447.3,768.4l3.2,-3.2l3.2,3.2l-3.2,3.2zM1456.8,776.3l3.2,-3.2l3.2,3.2l-3.2,3.2zM1460.9,780.4l3.2,-3.2l3.2,3.2l-3.2,3.2zM1449.3,767.7l3.2,-3.2l3.2,3.2l-3.2,3.2zM1450.3,780.0l3.2,-3.2l3.2,3.2l-3.2,3.2zM1457.7,779.2l3.2,-3.2l3.2,3.2l-3.2,3.2zM1440.8,765.5l3.2,-3.2l3.2,3.2l-3.2,3.2zM1451.3,766.2l3.2,-3.2l3.2,3.2l-3.2,3.2zM1456.5,786.1l3.2,-3.2l3.2,3.2l-3.2,3.2zM1465.9,780.7l3.2,-3.2l3.2,3.2l-3.2,3.2zM1444.2,779.6l3.2,-3.2l3.2,3.2l-3.2,3.2zM1432.6,776.5l3.2,-3.2l3.2,3.2l-3.2,3.2zM1445.4,781.3l3.2,-3.2l3.2,3.2l-3.2,3.2zM1443.9,774.4l3.2,-3.2l3.2,3.2l-3.2,3.2zM1455.2,771.5l3.2,-3.2l3.2,3.2l-3.2,3.2zM1466.9,777.4l3.2,-3.2l3.2,3.2l-3.2,3.2zM1452.8,777.2l3.2,-3.2l3.2,3.2l-3.2,3.2zM1444.6,783.5l3.2,-3.2l3.2,3.2l-3.2,3.2zM1458.7,785.8l3.2,-3.2l3.2,3.2l-3.2,3.2zM1434.5,782.0l3.2,-3.2l3.2,3.2l-3.2,3.2zM1454.2,768.6l3.2,-3.2l3.2,3.2l-3.2,3.2zM1445.5,786.3l3.2,-3.2l3.2,3.2l-3.2,3.2zM1452.8,780.6l3.2,-3.2l3.2,3.2l-3.2,3.2zM1454.2,783.2l3.2,-3.2l3.2,3.2l-3.2,3.2zM1453.7,783.7l3.2,-3.2l3.2,3.2l-3.2,3.2zM1460.8,777.4l3.2,-3.2l3.2,3.2l-3.2,3.2zM1457.1,782.7l3.2,-3.2l3.2,3.2l-3.2,3.2zM1439.0,779.4l3.2,-3.2l3.2,3.2l-3.2,3.2zM1451.4,771.4l3.2,-3.2l3.2,3.2l-3.2,3.2zM1460.6,779.7l3.2,-3.2l3.2,3.2l-3.2,3.2zM1451.5,786.7l3.2,-3.2l3.2,3.2l-3.2,3.2zM1451.5,777.9l3.2,-3.2l3.2,3.2l-3.2,3.2zM1448.2,787.4l3.2,-3.2l3.2,3.2l-3.2,3.2zM1463.4,786.3l3.2,-3.2l3.2,3.2l-3.2,3.2zM1466.7,770.8l3.2,-3.2l3.2,3.2l-3.2,3.2zM1465.7,785.7l3.2,-3.2l3.2,3.2l-3.2,3.2zM1457.5,789.7l3.2,-3.2l3.2,3.2l-3.2,3.2zM1448.6,790.7l3.2,-3.2l3.2,3.2l-3.2,3.2zM1445.3,783.2l3.2,-3.2l3.2,3.2l-3.2,3.2zM1460.4,771.6l3.2,-3.2l3.2,3.2l-3.2,3.2zM1448.5,781.6l3.2,-3.2l3.2,3.2l-3.2,3.2zM1443.4,787.9l3.2,-3.2l3.2,3.2l-3.2,3.2zM1435.9,781.1l3.2,-3.2l3.2,3.2l-3.2,3.2zM1457.1,785.1l3.2,-3.2l3.2,3.2l-3.2,3.2zM1455.1,788.0l3.2,-3.2l3.2,3.2l-3.2,3.2zM1442.8,783.4l3.2,-3.2l3.2,3.2l-3.2,3.2zM1459.7,783.4l3.2,-3.2l3.2,3.2l-3.2,3.2zM1458.6,782.1l3.2,-3.2l3.2,3.2l-3.2,3.2zM1441.9,794.2l3.2,-3.2l3.2,3.2l-3.2,3.2zM1447.5,786.6l3.2,-3.2l3.2,3.2l-3.2,3.2zM1459.8,776.4l3.2,-3.2l3.2,3.2l-3.2,3.2zM1437.2,773.4l3.2,-3.2l3.2,3.2l-3.2,3.2zM1456.5,800.7l3.2,-3.2l3.2,3.2l-3.2,3.2zM1442.4,777.8l3.2,-3.2l3.2,3.2l-3.2,3.2zM1437.5,784.9l3.2,-3.2l3.2,3.2l-3.2,3.2zM1456.4,777.8l3.2,-3.2l3.2,3.2l-3.2,3.2zM1455.7,775.2l3.2,-3.2l3.2,3.2l-3.2,3.2zM1443.9,762.3l3.2,-3.2l3.2,3.2l-3.2,3.2zM1456.4,764.1l3.2,-3.2l3.2,3.2l-3.2,3.2zM1449.4,775.5l3.2,-3.2l3.2,3.2l-3.2,3.2zM1454.7,780.7l3.2,-3.2l3.2,3.2l-3.2,3.2zM1454.5,777.7l3.2,-3.2l3.2,3.2l-3.2,3.2zM1458.9,777.3l3.2,-3.2l3.2,3.2l-3.2,3.2zM1452.2,776.1l3.2,-3.2l3.2,3.2l-3.2,3.2zM1464.5,779.1l3.2,-3.2l3.2,3.2l-3.2,3.2zM1457.1,778.6l3.2,-3.2l3.2,3.2l-3.2,3.2zM1434.3,786.2l3.2,-3.2l3.2,3.2l-3.2,3.2zM1443.6,789.7l3.2,-3.2l3.2,3.2l-3.2,3.2zM1446.2,792.4l3.2,-3.2l3.2,3.2l-3.2,3.2zM1454.1,783.5l3.2,-3.2l3.2,3.2l-3.2,3.2zM1462.5,776.9l3.2,-3.2l3.2,3.2l-3.2,3.2zM1440.4,781.2l3.2,-3.2l3.2,3.2l-3.2,3.2zM1452.1,784.6l3.2,-3.2l3.2,3.2l-3.2,3.2zM1448.5,787.5l3.2,-3.2l3.2,3.2l-3.2,3.2zM1445.2,777.7l3.2,-3.2l3.2,3.2l-3.2,3.2zM1448.7,770.9l3.2,-3.2l3.2,3.2l-3.2,3.2zM1432.9,785.4l3.2,-3.2l3.2,3.2l-3.2,3.2zM1448.4,769.0l3.2,-3.2l3.2,3.2l-3.2,3.2zM1461.5,774.2l3.2,-3.2l3.2,3.2l-3.2,3.2zM1460.2,768.2l3.2,-3.2l3.2,3.2l-3.2,3.2zM1457.6,781.4l3.2,-3.2l3.2,3.2l-3.2,3.2zM1453.2,784.9l3.2,-3.2l3.2,3.2l-3.2,3.2zM1449.6,777.0l3.2,-3.2l3.2,3.2l-3.2,3.2zM1447.1,779.0l3.2,-3.2l3.2,3.2l-3.2,3.2zM1447.7,789.2l3.2,-3.2l3.2,3.2l-3.2,3.2zM1438.9,774.8l3.2,-3.2l3.2,3.2l-3.2,3.2zM1451.8,773.8l3.2,-3.2l3.2,3.2l-3.2,3.2zM1450.6,779.9l3.2,-3.2l3.2,3.2l-3.2,3.2zM1453.9,782.2l3.2,-3.2l3.2,3.2l-3.2,3.2zM1463.6,772.6l3.2,-3.2l3.2,3.2l-3.2,3.2zM1455.0,787.3l3.2,-3.2l3.2,3.2l-3.2,3.2zM1446.8,778.3l3.2,-3.2l3.2,3.2l-3.2,3.2zM1461.6,780.1l3.2,-3.2l3.2,3.2l-3.2,3.2zM1451.2,776.1l3.2,-3.2l3.2,3.2l-3.2,3.2zM1452.4,781.0l3.2,-3.2l3.2,3.2l-3.2,3.2zM1441.5,771.1l3.2,-3.2l3.2,3.2l-3.2,3.2zM1450.9,783.6l3.2,-3.2l3.2,3.2l-3.2,3.2zM1450.4,789.4l3.2,-3.2l3.2,3.2l-3.2,3.2zM1436.6,792.7l3.2,-3.2l3.2,3.2l-3.2,3.2zM1454.6,789.5l3.2,-3.2l3.2,3.2l-3.2,3.2zM1452.3,788.5l3.2,-3.2l3.2,3.2l-3.2,3.2zM1435.6,784.4l3.2,-3.2l3.2,3.2l-3.2,3.2zM1444.8,785.0l3.2,-3.2l3.2,3.2l-3.2,3.2zM1466.4,778.6l3.2,-3.2l3.2,3.2l-3.2,3.2zM1446.0,773.8l3.2,-3.2l3.2,3.2l-3.2,3.2zM1448.4,771.3l3.2,-3.2l3.2,3.2l-3.2,3.2zM1437.5,772.3l3.2,-3.2l3.2,3.2l-3.2,3.2zM1441.7,785.3l3.2,-3.2l3.2,3.2l-3.2,3.2zM1452.9,787.8l3.2,-3.2l3.2,3.2l-3.2,3.2zM1436.7,782.9l3.2,-3.2l3.2,3.2l-3.2,3.2zM1448.5,791.9l3.2,-3.2l3.2,3.2l-3.2,3.2zM1459.7,786.0l3.2,-3.2l3.2,3.2l-3.2,3.2zM1445.7,781.8l3.2,-3.2l3.2,3.2l-3.2,3.2zM1451.5,772.5l3.2,-3.2l3.2,3.2l-3.2,3.2zM1432.2,780.1l3.2,-3.2l3.2,3.2l-3.2,3.2zM1458.9,778.4l3.2,-3.2l3.2,3.2l-3.2,3.2zM1450.4,788.1l3.2,-3.2l3.2,3.2l-3.2,3.2zM1454.0,783.7l3.2,-3.2l3.2,3.2l-3.2,3.2zM1452.2,787.8l3.2,-3.2l3.2,3.2l-3.2,3.2zM1448.3,781.2l3.2,-3.2l3.2,3.2l-3.2,3.2zM1438.0,772.8l3.2,-3.2l3.2,3.2l-3.2,3.2zM1449.9,789.4l3.2,-3.2l3.2,3.2l-3.2,3.2zM1448.8,779.3l3.2,-3.2l3.2,3.2l-3.2,3.2zM1448.0,787.6l3.2,-3.2l3.2,3.2l-3.2,3.2zM1449.0,790.0l3.2,-3.2l3.2,3.2l-3.2,3.2zM1436.4,771.8l3.2,-3.2l3.2,3.2l-3.2,3.2zM1466.0,766.8l3.2,-3.2l3.2,3.2l-3.2,3.2zM1470.9,770.5l3.2,-3.2l3.2,3.2l-3.2,3.2zM1442.8,784.3l3.2,-3.2l3.2,3.2l-3.2,3.2zM1460.7,783.6l3.2,-3.2l3.2,3.2l-3.2,3.2zM1447.9,780.3l3.2,-3.2l3.2,3.2l-3.2,3.2zM1454.7,790.0l3.2,-3.2l3.2,3.2l-3.2,3.2zM1451.3,776.7l3.2,-3.2l3.2,3.2l-3.2,3.2zM1433.0,772.1l3.2,-3.2l3.2,3.2l-3.2,3.2zM1457.8,786.0l3.2,-3.2l3.2,3.2l-3.2,3.2zM1467.1,777.2l3.2,-3.2l3.2,3.2l-3.2,3.2zM1455.2,769.1l3.2,-3.2l3.2,3.2l-3.2,3.2zM1428.4,780.1l3.2,-3.2l3.2,3.2l-3.2,3.2zM1460.4,770.0l3.2,-3.2l3.2,3.2l-3.2,3.2zM1450.7,781.5l3.2,-3.2l3.2,3.2l-3.2,3.2zM1444.3,782.6l3.2,-3.2l3.2,3.2l-3.2,3.2zM1443.4,797.4l3.2,-3.2l3.2,3.2l-3.2,3.2zM1445.8,787.4l3.2,-3.2l3.2,3.2l-3.2,3.2zM1445.7,783.5l3.2,-3.2l3.2,3.2l-3.2,3.2zM1446.7,779.5l3.2,-3.2l3.2,3.2l-3.2,3.2zM1450.4,782.8l3.2,-3.2l3.2,3.2l-3.2,3.2zM1445.5,781.0l3.2,-3.2l3.2,3.2l-3.2,3.2zM1448.2,781.1l3.2,-3.2l3.2,3.2l-3.2,3.2zM1463.1,778.5l3.2,-3.2l3.2,3.2l-3.2,3.2zM1447.5,795.0l3.2,-3.2l3.2,3.2l-3.2,3.2zM1438.2,801.5l3.2,-3.2l3.2,3.2l-3.2,3.2zM1458.7,772.3l3.2,-3.2l3.2,3.2l-3.2,3.2zM1447.4,783.6l3.2,-3.2l3.2,3.2l-3.2,3.2zM1455.2,776.1l3.2,-3.2l3.2,3.2l-3.2,3.2zM1435.7,782.0l3.2,-3.2l3.2,3.2l-3.2,3.2zM1448.2,789.3l3.2,-3.2l3.2,3.2l-3.2,3.2zM1463.4,774.8l3.2,-3.2l3.2,3.2l-3.2,3.2zM1445.7,780.5l3.2,-3.2l3.2,3.2l-3.2,3.2zM1446.1,783.8l3.2,-3.2l3.2,3.2l-3.2,3.2zM1447.5,772.9l3.2,-3.2l3.2,3.2l-3.2,3.2zM1451.0,783.6l3.2,-3.2l3.2,3.2l-3.2,3.2zM1445.0,778.3l3.2,-3.2l3.2,3.2l-3.2,3.2zM1443.3,791.8l3.2,-3.2l3.2,3.2l-3.2,3.2zM1449.8,768.8l3.2,-3.2l3.2,3.2l-3.2,3.2zM1445.0,779.1l3.2,-3.2l3.2,3.2l-3.2,3.2zM1449.2,771.4l3.2,-3.2l3.2,3.2l-3.2,3.2zM1455.2,789.3l3.2,-3.2l3.2,3.2l-3.2,3.2zM1466.3,780.2l3.2,-3.2l3.2,3.2l-3.2,3.2zM1442.9,783.8l3.2,-3.2l3.2,3.2l-3.2,3.2zM1451.5,772.5l3.2,-3.2l3.2,3.2l-3.2,3.2zM1448.5,785.5l3.2,-3.2l3.2,3.2l-3.2,3.2zM1462.6,768.9l3.2,-3.2l3.2,3.2l-3.2,3.2zM1447.9,779.2l3.2,-3.2l3.2,3.2l-3.2,3.2zM1454.3,782.4l3.2,-3.2l3.2,3.2l-3.2,3.2zM1442.9,772.7l3.2,-3.2l3.2,3.2l-3.2,3.2zM1441.3,793.4l3.2,-3.2l3.2,3.2l-3.2,3.2zM1456.1,771.9l3.2,-3.2l3.2,3.2l-3.2,3.2zM1458.2,785.7l3.2,-3.2l3.2,3.2l-3.2,3.2zM1448.8,788.1l3.2,-3.2l3.2,3.2l-3.2,3.2zM1446.4,797.9l3.2,-3.2l3.2,3.2l-3.2,3.2zM1443.3,770.3l3.2,-3.2l3.2,3.2l-3.2,3.2zM1440.7,767.8l3.2,-3.2l3.2,3.2l-3.2,3.2zM1452.5,794.3l3.2,-3.2l3.2,3.2l-3.2,3.2zM1459.3,787.1l3.2,-3.2l3.2,3.2l-3.2,3.2zM1455.9,781.5l3.2,-3.2l3.2,3.2l-3.2,3.2zM1447.9,781.5l3.2,-3.2l3.2,3.2l-3.2,3.2zM1439.4,785.7l3.2,-3.2l3.2,3.2l-3.2,3.2zM1447.5,767.4l3.2,-3.2l3.2,3.2l-3.2,3.2zM1445.9,777.8l3.2,-3.2l3.2,3.2l-3.2,3.2zM1455.0,771.4l3.2,-3.2l3.2,3.2l-3.2,3.2zM1449.0,778.7l3.2,-3.2l3.2,3.2l-3.2,3.2zM1442.8,761.9l3.2,-3.2l3.2,3.2l-3.2,3.2zM1437.9,778.3l3.2,-3.2l3.2,3.2l-3.2,3.2zM1448.0,779.0l3.2,-3.2l3.2,3.2l-3.2,3.2zM1446.4,783.4l3.2,-3.2l3.2,3.2l-3.2,3.2zM1459.8,773.3l3.2,-3.2l3.2,3.2l-3.2,3.2zM1450.4,781.1l3.2,-3.2l3.2,3.2l-3.2,3.2zM1452.7,780.7l3.2,-3.2l3.2,3.2l-3.2,3.2zM1454.9,774.7l3.2,-3.2l3.2,3.2l-3.2,3.2zM1455.2,791.5l3.2,-3.2l3.2,3.2l-3.2,3.2zM1450.6,787.8l3.2,-3.2l3.2,3.2l-3.2,3.2zM1455.0,782.2l3.2,-3.2l3.2,3.2l-3.2,3.2zM1453.7,780.8l3.2,-3.2l3.2,3.2l-3.2,3.2zM1459.3,770.4l3.2,-3.2l3.2,3.2l-3.2,3.2zM1452.6,790.9l3.2,-3.2l3.2,3.2l-3.2,3.2zM1451.2,765.8l3.2,-3.2l3.2,3.2l-3.2,3.2zM1445.1,780.7l3.2,-3.2l3.2,3.2l-3.2,3.2zM1472.7,767.9l3.2,-3.2l3.2,3.2l-3.2,3.2zM1456.8,778.5l3.2,-3.2l3.2,3.2l-3.2,3.2zM1439.5,768.3l3.2,-3.2l3.2,3.2l-3.2,3.2zM1459.2,792.3l3.2,-3.2l3.2,3.2l-3.2,3.2zM1450.1,781.0l3.2,-3.2l3.2,3.2l-3.2,3.2zM1450.6,784.9l3.2,-3.2l3.2,3.2l-3.2,3.2zM1473.0,786.4l3.2,-3.2l3.2,3.2l-3.2,3.2zM1464.0,775.5l3.2,-3.2l3.2,3.2l-3.2,3.2zM1451.2,776.8l3.2,-3.2l3.2,3.2l-3.2,3.2zM1457.7,785.7l3.2,-3.2l3.2,3.2l-3.2,3.2zM1447.9,771.4l3.2,-3.2l3.2,3.2l-3.2,3.2zM1459.5,777.2l3.2,-3.2l3.2,3.2l-3.2,3.2zM1440.6,791.8l3.2,-3.2l3.2,3.2l-3.2,3.2zM1464.4,769.6l3.2,-3.2l3.2,3.2l-3.2,3.2zM1455.7,777.2l3.2,-3.2l3.2,3.2l-3.2,3.2zM1448.3,776.4l3.2,-3.2l3.2,3.2l-3.2,3.2zM1461.8,774.5l3.2,-3.2l3.2,3.2l-3.2,3.2zM1446.4,777.4l3.2,-3.2l3.2,3.2l-3.2,3.2zM1446.5,780.5l3.2,-3.2l3.2,3.2l-3.2,3.2zM1441.5,797.0l3.2,-3.2l3.2,3.2l-3.2,3.2zM1442.0,778.7l3.2,-3.2l3.2,3.2l-3.2,3.2zM1444.2,776.1l3.2,-3.2l3.2,3.2l-3.2,3.2zM1446.3,777.9l3.2,-3.2l3.2,3.2l-3.2,3.2zM1447.1,769.7l3.2,-3.2l3.2,3.2l-3.2,3.2zM1447.7,779.9l3.2,-3.2l3.2,3.2l-3.2,3.2zM1461.3,769.3l3.2,-3.2l3.2,3.2l-3.2,3.2zM1441.0,769.4l3.2,-3.2l3.2,3.2l-3.2,3.2zM1441.9,787.0l3.2,-3.2l3.2,3.2l-3.2,3.2zM1443.9,772.8l3.2,-3.2l3.2,3.2l-3.2,3.2zM1441.9,775.8l3.2,-3.2l3.2,3.2l-3.2,3.2zM1454.9,781.4l3.2,-3.2l3.2,3.2l-3.2,3.2zM1455.3,765.1l3.2,-3.2l3.2,3.2l-3.2,3.2zM1465.4,786.0l3.2,-3.2l3.2,3.2l-3.2,3.2zM1453.6,782.8l3.2,-3.2l3.2,3.2l-3.2,3.2zM1450.1,783.8l3.2,-3.2l3.2,3.2l-3.2,3.2zM1456.1,786.1l3.2,-3.2l3.2,3.2l-3.2,3.2zM1440.4,779.6l3.2,-3.2l3.2,3.2l-3.2,3.2zM1454.1,771.3l3.2,-3.2l3.2,3.2l-3.2,3.2zM1457.2,786.2l3.2,-3.2l3.2,3.2l-3.2,3.2zM1443.2,777.6l3.2,-3.2l3.2,3.2l-3.2,3.2zM1453.6,774.7l3.2,-3.2l3.2,3.2l-3.2,3.2zM1462.9,796.0l3.2,-3.2l3.2,3.2l-3.2,3.2zM1445.9,776.0l3.2,-3.2l3.2,3.2l-3.2,3.2zM1441.9,768.0l3.2,-3.2l3.2,3.2l-3.2,3.2zM1450.6,775.7l3.2,-3.2l3.2,3.2l-3.2,3.2zM1449.5,777.4l3.2,-3.2l3.2,3.2l-3.2,3.2zM1454.8,776.0l3.2,-3.2l3.2,3.2l-3.2,3.2zM1439.3,793.6l3.2,-3.2l3.2,3.2l-3.2,3.2zM1450.6,774.2l3.2,-3.2l3.2,3.2l-3.2,3.2zM1449.2,781.1l3.2,-3.2l3.2,3.2l-3.2,3.2zM1460.7,775.2l3.2,-3.2l3.2,3.2l-3.2,3.2zM1443.0,778.7l3.2,-3.2l3.2,3.2l-3.2,3.2zM1449.5,779.5l3.2,-3.2l3.2,3.2l-3.2,3.2zM1450.7,775.7l3.2,-3.2l3.2,3.2l-3.2,3.2zM1451.2,777.5l3.2,-3.2l3.2,3.2l-3.2,3.2zM1451.6,781.4l3.2,-3.2l3.2,3.2l-3.2,3.2zM1446.4,777.9l3.2,-3.2l3.2,3.2l-3.2,3.2zM1455.3,768.6l3.2,-3.2l3.2,3.2l-3.2,3.2zM1473.1,784.7l3.2,-3.2l3.2,3.2l-3.2,3.2zM1445.6,772.4l3.2,-3.2l3.2,3.2l-3.2,3.2zM1447.7,779.0l3.2,-3.2l3.2,3.2l-3.2,3.2zM1440.3,775.6l3.2,-3.2l3.2,3.2l-3.2,3.2zM1438.6,772.7l3.2,-3.2l3.2,3.2l-3.2,3.2zM1444.1,778.2l3.2,-3.2l3.2,3.2l-3.2,3.2zM1460.0,785.9l3.2,-3.2l3.2,3.2l-3.2,3.2zM1450.4,764.6l3.2,-3.2l3.2,3.2l-3.2,3.2zM1439.1,779.0l3.2,-3.2l3.2,3.2l-3.2,3.2zM1434.0,777.4l3.2,-3.2l3.2,3.2l-3.2,3.2zM1449.9,787.9l3.2,-3.2l3.2,3.2l-3.2,3.2zM1441.0,770.9l3.2,-3.2l3.2,3.2l-3.2,3.2zM1457.2,788.5l3.2,-3.2l3.2,3.2l-3.2,3.2zM1458.5,786.5l3.2,-3.2l3.2,3.2l-3.2,3.2zM1444.4,777.0l3.2,-3.2l3.2,3.2l-3.2,3.2zM1450.4,776.1l3.2,-3.2l3.2,3.2l-3.2,3.2zM1460.9,784.4l3.2,-3.2l3.2,3.2l-3.2,3.2zM1456.2,777.7l3.2,-3.2l3.2,3.2l-3.2,3.2zM1436.9,774.2l3.2,-3.2l3.2,3.2l-3.2,3.2zM1460.2,789.7l3.2,-3.2l3.2,3.2l-3.2,3.2zM1448.5,772.9l3.2,-3.2l3.2,3.2l-3.2,3.2zM1459.2,782.5l3.2,-3.2l3.2,3.2l-3.2,3.2zM1449.3,782.1l3.2,-3.2l3.2,3.2l-3.2,3.2zM1440.6,779.1l3.2,-3.2l3.2,3.2l-3.2,3.2zM1469.8,790.0l3.2,-3.2l3.2,3.2l-3.2,3.2zM1451.1,786.7l3.2,-3.2l3.2,3.2l-3.2,3.2zM1464.6,791.7l3.2,-3.2l3.2,3.2l-3.2,3.2zM1459.2,776.7l3.2,-3.2l3.2,3.2l-3.2,3.2zM1443.9,782.1l3.2,-3.2l3.2,3.2l-3.2,3.2zM1451.9,767.6l3.2,-3.2l3.2,3.2l-3.2,3.2zM1453.8,771.4l3.2,-3.2l3.2,3.2l-3.2,3.2zM1460.7,779.2l3.2,-3.2l3.2,3.2l-3.2,3.2zM1451.7,780.3l3.2,-3.2l3.2,3.2l-3.2,3.2zM1465.7,770.5l3.2,-3.2l3.2,3.2l-3.2,3.2zM1460.0,784.6l3.2,-3.2l3.2,3.2l-3.2,3.2zM1448.9,774.4l3.2,-3.2l3.2,3.2l-3.2,3.2zM1449.8,789.6l3.2,-3.2l3.2,3.2l-3.2,3.2zM1438.3,776.6l3.2,-3.2l3.2,3.2l-3.2,3.2zM1458.1,776.0l3.2,-3.2l3.2,3.2l-3.2,3.2zM1465.0,791.2l3.2,-3.2l3.2,3.2l-3.2,3.2zM1435.7,779.1l3.2,-3.2l3.2,3.2l-3.2,3.2zM1459.0,786.0l3.2,-3.2l3.2,3.2l-3.2,3.2zM1453.6,777.6l3.2,-3.2l3.2,3.2l-3.2,3.2zM1447.2,786.0l3.2,-3.2l3.2,3.2l-3.2,3.2zM1448.5,780.5l3.2,-3.2l3.2,3.2l-3.2,3.2zM1457.7,782.1l3.2,-3.2l3.2,3.2l-3.2,3.2zM1442.8,787.7l3.2,-3.2l3.2,3.2l-3.2,3.2zM1447.3,776.3l3.2,-3.2l3.2,3.2l-3.2,3.2zM1443.8,782.6l3.2,-3.2l3.2,3.2l-3.2,3.2zM1455.8,778.1l3.2,-3.2l3.2,3.2l-3.2,3.2zM1469.2,776.5l3.2,-3.2l3.2,3.2l-3.2,3.2zM1456.8,764.8l3.2,-3.2l3.2,3.2l-3.2,3.2zM1434.8,792.4l3.2,-3.2l3.2,3.2l-3.2,3.2zM1444.4,779.2l3.2,-3.2l3.2,3.2l-3.2,3.2zM1461.6,775.1l3.2,-3.2l3.2,3.2l-3.2,3.2zM1446.5,790.4l3.2,-3.2l3.2,3.2l-3.2,3.2zM1454.4,782.0l3.2,-3.2l3.2,3.2l-3.2,3.2zM1442.6,789.1l3.2,-3.2l3.2,3.2l-3.2,3.2zM1457.2,782.2l3.2,-3.2l3.2,3.2l-3.2,3.2zM1452.8,780.9l3.2,-3.2l3.2,3.2l-3.2,3.2zM1444.4,783.6l3.2,-3.2l3.2,3.2l-3.2,3.2zM1445.6,780.7l3.2,-3.2l3.2,3.2l-3.2,3.2zM1444.9,775.8l3.2,-3.2l3.2,3.2l-3.2,3.2zM1442.3,778.5l3.2,-3.2l3.2,3.2l-3.2,3.2zM1452.1,775.9l3.2,-3.2l3.2,3.2l-3.2,3.2zM1424.5,775.7l3.2,-3.2l3.2,3.2l-3.2,3.2zM1453.9,783.5l3.2,-3.2l3.2,3.2l-3.2,3.2zM1447.7,783.2l3.2,-3.2l3.2,3.2l-3.2,3.2zM1437.8,759.1l3.2,-3.2l3.2,3.2l-3.2,3.2zM1448.8,777.4l3.2,-3.2l3.2,3.2l-3.2,3.2zM1440.2,783.8l3.2,-3.2l3.2,3.2l-3.2,3.2zM1429.7,781.4l3.2,-3.2l3.2,3.2l-3.2,3.2zM1442.7,780.7l3.2,-3.2l3.2,3.2l-3.2,3.2zM1454.0,771.0l3.2,-3.2l3.2,3.2l-3.2,3.2zM1450.6,788.7l3.2,-3.2l3.2,3.2l-3.2,3.2zM1445.8,776.7l3.2,-3.2l3.2,3.2l-3.2,3.2zM1466.3,798.6l3.2,-3.2l3.2,3.2l-3.2,3.2zM1439.1,786.0l3.2,-3.2l3.2,3.2l-3.2,3.2zM1448.7,776.4l3.2,-3.2l3.2,3.2l-3.2,3.2zM1462.4,776.7l3.2,-3.2l3.2,3.2l-3.2,3.2zM1462.7,785.7l3.2,-3.2l3.2,3.2l-3.2,3.2zM1442.9,792.8l3.2,-3.2l3.2,3.2l-3.2,3.2zM1443.1,776.2l3.2,-3.2l3.2,3.2l-3.2,3.2zM1449.9,766.7l3.2,-3.2l3.2,3.2l-3.2,3.2zM1447.1,788.3l3.2,-3.2l3.2,3.2l-3.2,3.2zM1454.5,795.8l3.2,-3.2l3.2,3.2l-3.2,3.2zM1456.9,778.8l3.2,-3.2l3.2,3.2l-3.2,3.2zM1437.4,777.9l3.2,-3.2l3.2,3.2l-3.2,3.2zM1451.5,772.4l3.2,-3.2l3.2,3.2l-3.2,3.2zM1447.2,785.3l3.2,-3.2l3.2,3.2l-3.2,3.2zM1449.5,782.4l3.2,-3.2l3.2,3.2l-3.2,3.2zM1398.6,772.0l3.2,-3.2l3.2,3.2l-3.2,3.2zM1454.5,796.7l3.2,-3.2l3.2,3.2l-3.2,3.2zM1411.6,802.2l3.2,-3.2l3.2,3.2l-3.2,3.2zM1414.3,796.3l3.2,-3.2l3.2,3.2l-3.2,3.2zM1426.7,776.1l3.2,-3.2l3.2,3.2l-3.2,3.2zM1469.3,800.0l3.2,-3.2l3.2,3.2l-3.2,3.2zM1405.4,803.6l3.2,-3.2l3.2,3.2l-3.2,3.2zM1425.8,774.6l3.2,-3.2l3.2,3.2l-3.2,3.2zM1401.9,786.6l3.2,-3.2l3.2,3.2l-3.2,3.2zM1398.9,807.7l3.2,-3.2l3.2,3.2l-3.2,3.2zM1411.5,774.1l3.2,-3.2l3.2,3.2l-3.2,3.2zM1416.4,812.9l3.2,-3.2l3.2,3.2l-3.2,3.2zM1398.3,791.3l3.2,-3.2l3.2,3.2l-3.2,3.2zM1481.5,804.4l3.2,-3.2l3.2,3.2l-3.2,3.2zM1505.1,771.9l3.2,-3.2l3.2,3.2l-3.2,3.2zM1461.9,772.5l3.2,-3.2l3.2,3.2l-3.2,3.2zM1354.9,783.2l3.2,-3.2l3.2,3.2l-3.2,3.2zM1433.5,778.7l3.2,-3.2l3.2,3.2l-3.2,3.2zM1462.5,787.4l3.2,-3.2l3.2,3.2l-3.2,3.2zM1404.1,779.1l3.2,-3.2l3.2,3.2l-3.2,3.2zM1431.5,779.6l3.2,-3.2l3.2,3.2l-3.2,3.2zM1414.3,786.8l3.2,-3.2l3.2,3.2l-3.2,3.2zM1340.4,783.0l3.2,-3.2l3.2,3.2l-3.2,3.2zM1456.5,784.5l3.2,-3.2l3.2,3.2l-3.2,3.2zM1425.4,776.6l3.2,-3.2l3.2,3.2l-3.2,3.2zM1418.9,789.1l3.2,-3.2l3.2,3.2l-3.2,3.2zM1476.2,759.5l3.2,-3.2l3.2,3.2l-3.2,3.2zM1377.9,794.5l3.2,-3.2l3.2,3.2l-3.2,3.2zM1436.5,774.1l3.2,-3.2l3.2,3.2l-3.2,3.2zM1394.8,794.0l3.2,-3.2l3.2,3.2l-3.2,3.2zM1447.0,767.3l3.2,-3.2l3.2,3.2l-3.2,3.2zM1402.2,789.9l3.2,-3.2l3.2,3.2l-3.2,3.2zM1420.7,768.2l3.2,-3.2l3.2,3.2l-3.2,3.2zM1442.4,778.8l3.2,-3.2l3.2,3.2l-3.2,3.2zM1482.0,772.9l3.2,-3.2l3.2,3.2l-3.2,3.2zM1432.8,760.8l3.2,-3.2l3.2,3.2l-3.2,3.2zM1476.2,762.7l3.2,-3.2l3.2,3.2l-3.2,3.2zM1482.4,778.4l3.2,-3.2l3.2,3.2l-3.2,3.2zM1372.8,789.6l3.2,-3.2l3.2,3.2l-3.2,3.2zM1436.0,784.7l3.2,-3.2l3.2,3.2l-3.2,3.2zM1452.7,779.6l3.2,-3.2l3.2,3.2l-3.2,3.2zM1486.4,775.0l3.2,-3.2l3.2,3.2l-3.2,3.2zM1458.5,765.5l3.2,-3.2l3.2,3.2l-3.2,3.2zM1473.6,791.0l3.2,-3.2l3.2,3.2l-3.2,3.2zM1473.0,783.8l3.2,-3.2l3.2,3.2l-3.2,3.2zM1375.0,757.2l3.2,-3.2l3.2,3.2l-3.2,3.2zM1440.0,764.6l3.2,-3.2l3.2,3.2l-3.2,3.2zM1402.4,773.6l3.2,-3.2l3.2,3.2l-3.2,3.2zM1411.6,746.9l3.2,-3.2l3.2,3.2l-3.2,3.2zM1475.9,784.5l3.2,-3.2l3.2,3.2l-3.2,3.2zM1364.0,782.5l3.2,-3.2l3.2,3.2l-3.2,3.2zM1441.0,784.7l3.2,-3.2l3.2,3.2l-3.2,3.2zM1442.7,787.9l3.2,-3.2l3.2,3.2l-3.2,3.2zM1450.4,776.9l3.2,-3.2l3.2,3.2l-3.2,3.2zM1410.5,770.7l3.2,-3.2l3.2,3.2l-3.2,3.2zM1447.9,785.6l3.2,-3.2l3.2,3.2l-3.2,3.2zM1412.6,797.3l3.2,-3.2l3.2,3.2l-3.2,3.2zM1498.0,747.7l3.2,-3.2l3.2,3.2l-3.2,3.2zM1454.8,790.2l3.2,-3.2l3.2,3.2l-3.2,3.2zM1453.6,795.1l3.2,-3.2l3.2,3.2l-3.2,3.2zM1403.0,813.6l3.2,-3.2l3.2,3.2l-3.2,3.2zM1415.6,794.1l3.2,-3.2l3.2,3.2l-3.2,3.2zM1462.3,777.8l3.2,-3.2l3.2,3.2l-3.2,3.2zM1413.0,788.9l3.2,-3.2l3.2,3.2l-3.2,3.2zM1428.2,784.4l3.2,-3.2l3.2,3.2l-3.2,3.2zM1432.1,766.0l3.2,-3.2l3.2,3.2l-3.2,3.2zM1389.2,780.6l3.2,-3.2l3.2,3.2l-3.2,3.2zM1435.2,771.1l3.2,-3.2l3.2,3.2l-3.2,3.2zM1430.1,795.3l3.2,-3.2l3.2,3.2l-3.2,3.2zM1455.5,766.3l3.2,-3.2l3.2,3.2l-3.2,3.2zM1410.7,767.1l3.2,-3.2l3.2,3.2l-3.2,3.2zM1505.6,790.8l3.2,-3.2l3.2,3.2l-3.2,3.2zM1451.8,822.0l3.2,-3.2l3.2,3.2l-3.2,3.2zM1439.7,796.8l3.2,-3.2l3.2,3.2l-3.2,3.2zM1445.9,786.4l3.2,-3.2l3.2,3.2l-3.2,3.2zM1441.1,766.0l3.2,-3.2l3.2,3.2l-3.2,3.2zM1459.8,769.0l3.2,-3.2l3.2,3.2l-3.2,3.2zM1414.3,786.1l3.2,-3.2l3.2,3.2l-3.2,3.2zM1432.1,789.4l3.2,-3.2l3.2,3.2l-3.2,3.2zM1410.3,782.3l3.2,-3.2l3.2,3.2l-3.2,3.2zM1447.1,786.4l3.2,-3.2l3.2,3.2l-3.2,3.2zM1400.3,767.1l3.2,-3.2l3.2,3.2l-3.2,3.2zM1415.4,756.7l3.2,-3.2l3.2,3.2l-3.2,3.2zM1441.0,779.3l3.2,-3.2l3.2,3.2l-3.2,3.2zM1468.1,781.6l3.2,-3.2l3.2,3.2l-3.2,3.2zM1398.3,780.8l3.2,-3.2l3.2,3.2l-3.2,3.2zM1376.2,777.9l3.2,-3.2l3.2,3.2l-3.2,3.2zM1435.9,775.0l3.2,-3.2l3.2,3.2l-3.2,3.2zM1433.2,754.9l3.2,-3.2l3.2,3.2l-3.2,3.2zM1437.8,790.0l3.2,-3.2l3.2,3.2l-3.2,3.2zM1640.8,797.3l3.2,-3.2l3.2,3.2l-3.2,3.2zM1498.9,805.7l3.2,-3.2l3.2,3.2l-3.2,3.2zM1429.2,801.1l3.2,-3.2l3.2,3.2l-3.2,3.2zM1409.4,799.9l3.2,-3.2l3.2,3.2l-3.2,3.2zM1433.3,823.5l3.2,-3.2l3.2,3.2l-3.2,3.2zM1396.2,815.1l3.2,-3.2l3.2,3.2l-3.2,3.2zM1293.1,784.9l3.2,-3.2l3.2,3.2l-3.2,3.2zM1277.3,817.1l3.2,-3.2l3.2,3.2l-3.2,3.2zM1440.2,831.9l3.2,-3.2l3.2,3.2l-3.2,3.2zM1446.5,709.9l3.2,-3.2l3.2,3.2l-3.2,3.2zM1454.6,824.5l3.2,-3.2l3.2,3.2l-3.2,3.2zM1468.3,835.6l3.2,-3.2l3.2,3.2l-3.2,3.2zM1325.6,839.5l3.2,-3.2l3.2,3.2l-3.2,3.2zM1483.1,812.7l3.2,-3.2l3.2,3.2l-3.2,3.2zM1480.0,768.7l3.2,-3.2l3.2,3.2l-3.2,3.2zM1318.2,874.6l3.2,-3.2l3.2,3.2l-3.2,3.2zM1386.7,864.8l3.2,-3.2l3.2,3.2l-3.2,3.2zM1480.4,847.0l3.2,-3.2l3.2,3.2l-3.2,3.2zM1367.3,738.0l3.2,-3.2l3.2,3.2l-3.2,3.2zM1352.3,866.6l3.2,-3.2l3.2,3.2l-3.2,3.2zM1520.1,799.1l3.2,-3.2l3.2,3.2l-3.2,3.2zM1429.8,777.3l3.2,-3.2l3.2,3.2l-3.2,3.2zM1400.7,819.3l3.2,-3.2l3.2,3.2l-3.2,3.2zM1418.3,746.0l3.2,-3.2l3.2,3.2l-3.2,3.2zM1435.6,869.9l3.2,-3.2l3.2,3.2l-3.2,3.2zM1358.8,780.9l3.2,-3.2l3.2,3.2l-3.2,3.2zM1350.4,874.4l3.2,-3.2l3.2,3.2l-3.2,3.2zM1398.0,883.1l3.2,-3.2l3.2,3.2l-3.2,3.2zM1455.7,704.8l3.2,-3.2l3.2,3.2l-3.2,3.2zM1565.7,794.8l3.2,-3.2l3.2,3.2l-3.2,3.2zM1535.8,792.2l3.2,-3.2l3.2,3.2l-3.2,3.2zM1442.8,770.0l3.2,-3.2l3.2,3.2l-3.2,3.2zM1447.0,824.1l3.2,-3.2l3.2,3.2l-3.2,3.2zM1437.4,816.1l3.2,-3.2l3.2,3.2l-3.2,3.2zM1465.3,751.7l3.2,-3.2l3.2,3.2l-3.2,3.2zM1364.0,828.3l3.2,-3.2l3.2,3.2l-3.2,3.2zM1367.0,724.1l3.2,-3.2l3.2,3.2l-3.2,3.2zM1489.7,792.6l3.2,-3.2l3.2,3.2l-3.2,3.2zM1379.7,757.2l3.2,-3.2l3.2,3.2l-3.2,3.2zM1373.1,880.6l3.2,-3.2l3.2,3.2l-3.2,3.2zM1394.8,742.7l3.2,-3.2l3.2,3.2l-3.2,3.2zM1434.8,824.5l3.2,-3.2l3.2,3.2l-3.2,3.2zM1402.0,759.9l3.2,-3.2l3.2,3.2l-3.2,3.2zM1385.2,832.7l3.2,-3.2l3.2,3.2l-3.2,3.2zM1476.4,773.5l3.2,-3.2l3.2,3.2l-3.2,3.2zM1435.7,780.1l3.2,-3.2l3.2,3.2l-3.2,3.2zM1466.6,899.1l3.2,-3.2l3.2,3.2l-3.2,3.2zM1444.0,831.7l3.2,-3.2l3.2,3.2l-3.2,3.2zM1434.7,804.6l3.2,-3.2l3.2,3.2l-3.2,3.2zM1460.4,762.5l3.2,-3.2l3.2,3.2l-3.2,3.2zM1379.6,834.7l3.2,-3.2l3.2,3.2l-3.2,3.2zM1412.0,805.5l3.2,-3.2l3.2,3.2l-3.2,3.2zM1342.6,799.3l3.2,-3.2l3.2,3.2l-3.2,3.2zM1491.4,831.1l3.2,-3.2l3.2,3.2l-3.2,3.2zM1325.9,767.6l3.2,-3.2l3.2,3.2l-3.2,3.2zM1532.1,779.9l3.2,-3.2l3.2,3.2l-3.2,3.2zM1541.1,746.3l3.2,-3.2l3.2,3.2l-3.2,3.2zM1437.5,814.6l3.2,-3.2l3.2,3.2l-3.2,3.2zM1594.8,767.4l3.2,-3.2l3.2,3.2l-3.2,3.2zM1419.1,739.0l3.2,-3.2l3.2,3.2l-3.2,3.2zM1393.7,820.9l3.2,-3.2l3.2,3.2l-3.2,3.2zM1531.8,753.2l3.2,-3.2l3.2,3.2l-3.2,3.2zM1414.3,754.6l3.2,-3.2l3.2,3.2l-3.2,3.2zM1496.3,905.4l3.2,-3.2l3.2,3.2l-3.2,3.2zM1435.6,756.1l3.2,-3.2l3.2,3.2l-3.2,3.2zM1459.7,849.9l3.2,-3.2l3.2,3.2l-3.2,3.2zM1496.9,827.0l3.2,-3.2l3.2,3.2l-3.2,3.2zM1498.0,785.1l3.2,-3.2l3.2,3.2l-3.2,3.2zM1516.1,835.6l3.2,-3.2l3.2,3.2l-3.2,3.2zM1565.8,812.3l3.2,-3.2l3.2,3.2l-3.2,3.2zM1431.6,825.4l3.2,-3.2l3.2,3.2l-3.2,3.2zM1437.4,793.2l3.2,-3.2l3.2,3.2l-3.2,3.2zM1425.9,769.2l3.2,-3.2l3.2,3.2l-3.2,3.2zM1483.0,808.8l3.2,-3.2l3.2,3.2l-3.2,3.2zM1440.8,789.6l3.2,-3.2l3.2,3.2l-3.2,3.2zM1504.8,737.4l3.2,-3.2l3.2,3.2l-3.2,3.2zM1386.3,765.8l3.2,-3.2l3.2,3.2l-3.2,3.2zM1490.8,864.9l3.2,-3.2l3.2,3.2l-3.2,3.2zM1473.5,721.1l3.2,-3.2l3.2,3.2l-3.2,3.2zM1414.3,856.6l3.2,-3.2l3.2,3.2l-3.2,3.2z" fill="#bdbdbd"/>
<path d="M1451.8,574V1018.6M1270.7,780.2H1767" stroke="#1a1a1a" stroke-width="1.8" fill="none"/>
<rect x="1270.7" y="574" width="496.3" height="444.6" fill="none" stroke="#1a1a1a" stroke-width="1.8"/>
<text font-family="'Liberation Sans', sans-serif" font-size="14.1" fill="#231815" text-anchor="middle" font-weight="bold" x="1291.9" y="1049.4">−0.2</text>
<text font-family="'Liberation Sans', sans-serif" font-size="14.1" fill="#231815" text-anchor="middle" font-weight="bold" x="1371.5" y="1049.4">−0.1</text>
<text font-family="'Liberation Sans', sans-serif" font-size="14.1" fill="#231815" text-anchor="middle" font-weight="bold" x="1451.8" y="1049.4">0.0</text>
<text font-family="'Liberation Sans', sans-serif" font-size="14.1" fill="#231815" text-anchor="middle" font-weight="bold" x="1531.4" y="1049.4">0.1</text>
<text font-family="'Liberation Sans', sans-serif" font-size="14.1" fill="#231815" text-anchor="middle" font-weight="bold" x="1611.3" y="1049.4">0.2</text>
<text font-family="'Liberation Sans', sans-serif" font-size="14.1" fill="#231815" text-anchor="middle" font-weight="bold" x="1691.3" y="1049.4">0.3</text>
<text font-family="'Liberation Sans', sans-serif" font-size="14.1" fill="#231815" text-anchor="middle" font-weight="bold" transform="translate(1250.5,600.8) rotate(-90)">0.3</text>
<text font-family="'Liberation Sans', sans-serif" font-size="14.1" fill="#231815" text-anchor="middle" font-weight="bold" transform="translate(1250.5,660.2) rotate(-90)">0.2</text>
<text font-family="'Liberation Sans', sans-serif" font-size="14.1" fill="#231815" text-anchor="middle" font-weight="bold" transform="translate(1250.5,720.4) rotate(-90)">0.1</text>
<text font-family="'Liberation Sans', sans-serif" font-size="14.1" fill="#231815" text-anchor="middle" font-weight="bold" transform="translate(1250.5,780.2) rotate(-90)">0.0</text>
<text font-family="'Liberation Sans', sans-serif" font-size="14.1" fill="#231815" text-anchor="middle" font-weight="bold" transform="translate(1250.5,840.0) rotate(-90)">−0.1</text>
<text font-family="'Liberation Sans', sans-serif" font-size="14.1" fill="#231815" text-anchor="middle" font-weight="bold" transform="translate(1250.5,899.7) rotate(-90)">−0.2</text>
<text font-family="'Liberation Sans', sans-serif" font-size="14.1" fill="#231815" text-anchor="middle" font-weight="bold" transform="translate(1250.5,959.9) rotate(-90)">−0.3</text>
<path d="M1291.9,1018.6v8.5M1371.5,1018.6v8.5M1451.8,1018.6v8.5M1531.4,1018.6v8.5M1611.3,1018.6v8.5M1691.3,1018.6v8.5M1270.7,600.8h-8.5M1270.7,660.2h-8.5M1270.7,720.4h-8.5M1270.7,780.2h-8.5M1270.7,840h-8.5M1270.7,899.7h-8.5M1270.7,959.9h-8.5" stroke="#3a3a3a" stroke-width="1.1" fill="none"/>
<text font-family="'Liberation Sans', sans-serif" font-size="14.3" fill="#231815" text-anchor="middle" font-weight="bold" x="1518.8" y="1083.0">p1 (83%)</text>
<text font-family="'Liberation Sans', sans-serif" font-size="14.3" fill="#231815" text-anchor="middle" font-weight="bold" transform="translate(1216.5,794.9) rotate(-90)">pOrtho1 (83%)</text>
<path d="M1673.9,591.1l3,-3l3,3l-3,3zM1457.3,650.7l3,-3l3,3l-3,3zM1523.3,660.6l3,-3l3,3l-3,3zM1308.7,776.0l3,-3l3,3l-3,3zM1286.5,782.5l3,-3l3,3l-3,3zM1304.0,820.8l3,-3l3,3l-3,3zM1612.0,802.4l3,-3l3,3l-3,3zM1745.3,873.0l3,-3l3,3l-3,3zM1345.6,920.6l3,-3l3,3l-3,3zM1378.0,940.7l3,-3l3,3l-3,3zM1366.1,1002.6l3,-3l3,3l-3,3z" fill="#000"/>
<text font-family="'Noto Sans CJK SC', 'Liberation Sans', sans-serif" font-size="22" fill="#231815" textLength="122.4" lengthAdjust="spacingAndGlyphs" x="1627.7" y="608.6" stroke="#231815" stroke-width="0.3">Quinic acid</text>
<text font-family="'Noto Sans CJK SC', 'Liberation Sans', sans-serif" font-size="22" fill="#231815" textLength="214.0" lengthAdjust="spacingAndGlyphs" x="1369.7" y="640.0" stroke="#231815" stroke-width="0.3">Methylmalonic acid</text>
<text font-family="'Noto Sans CJK SC', 'Liberation Sans', sans-serif" font-size="22" fill="#231815" textLength="250.9" lengthAdjust="spacingAndGlyphs" x="1507.1" y="679.4" stroke="#231815" stroke-width="0.3">4-Hydroxysphinganine</text>
<text font-family="'Noto Sans CJK SC', 'Liberation Sans', sans-serif" font-size="22" fill="#2aa7df" textLength="306.6" lengthAdjust="spacingAndGlyphs" x="1298.7" y="767.2" stroke="#2aa7df" stroke-width="0.3">Quercetin O-acetylhexoside</text>
<text font-family="'Noto Sans CJK SC', 'Liberation Sans', sans-serif" font-size="22" fill="#231815" textLength="163.5" lengthAdjust="spacingAndGlyphs" x="1284.3" y="800.6" stroke="#231815" stroke-width="0.3">L(-)-Malic acid</text>
<text font-family="'Noto Sans CJK SC', 'Liberation Sans', sans-serif" font-size="22" fill="#231815" textLength="139.5" lengthAdjust="spacingAndGlyphs" x="1311.6" y="826.3" stroke="#231815" stroke-width="0.3">Succinic acid</text>
<text font-family="'Noto Sans CJK SC', 'Liberation Sans', sans-serif" font-size="22" fill="#e60012" textLength="261.8" lengthAdjust="spacingAndGlyphs" x="1502.3" y="822.9" stroke="#e60012" stroke-width="0.3">Cyanidin 3-O-glucoside</text>
<text font-family="'Noto Sans CJK SC', 'Liberation Sans', sans-serif" font-size="22" fill="#e60012" textLength="268.0" lengthAdjust="spacingAndGlyphs" x="1476.3" y="881.0" stroke="#e60012" stroke-width="0.3">Cyanidin O-syringic acid</text>
<text font-family="'Noto Sans CJK SC', 'Liberation Sans', sans-serif" font-size="22" fill="#231815" textLength="261.5" lengthAdjust="spacingAndGlyphs" x="1283.6" y="913.4" stroke="#231815" stroke-width="0.3">LysoPC 18:2 (2n isomer)</text>
<text font-family="'Noto Sans CJK SC', 'Liberation Sans', sans-serif" font-size="22" fill="#231815" textLength="261.5" lengthAdjust="spacingAndGlyphs" x="1386.1" y="945.8" stroke="#231815" stroke-width="0.3">LysoPC 18:1 (2n isomer)</text>
<text font-family="'Noto Sans CJK SC', 'Liberation Sans', sans-serif" font-size="22" fill="#231815" textLength="261.8" lengthAdjust="spacingAndGlyphs" x="1375.9" y="1005.6" stroke="#231815" stroke-width="0.3">LysoPC 18:1 (2n isomer)</text>
<defs><linearGradient id="cb" x1="0" x2="1" y1="0" y2="0"><stop offset="0" stop-color="#ec1420"/><stop offset="0.18" stop-color="#a8202a"/><stop offset="0.36" stop-color="#4a0c10"/><stop offset="0.5" stop-color="#0a0505"/><stop offset="0.64" stop-color="#123a20"/><stop offset="0.82" stop-color="#15803e"/><stop offset="1" stop-color="#7cc436"/></linearGradient></defs>
<rect x="209.6" y="1157.2" width="220.4" height="14.2" fill="url(#cb)"/>
<text font-family="'Liberation Sans', sans-serif" font-size="14.35" fill="#000" transform="translate(240.8,1151.2) rotate(-90)" stroke="#000" stroke-width="0.2">2</text>
<text font-family="'Liberation Sans', sans-serif" font-size="14.35" fill="#000" transform="translate(282.8,1151.2) rotate(-90)" stroke="#000" stroke-width="0.2">1</text>
<text font-family="'Liberation Sans', sans-serif" font-size="14.35" fill="#000" transform="translate(324.8,1151.2) rotate(-90)" stroke="#000" stroke-width="0.2">0</text>
<text font-family="'Liberation Sans', sans-serif" font-size="14.35" fill="#000" transform="translate(366.6,1151.2) rotate(-90)" stroke="#000" stroke-width="0.2">−1</text>
<text font-family="'Liberation Sans', sans-serif" font-size="14.35" fill="#000" transform="translate(408.5,1151.2) rotate(-90)" stroke="#000" stroke-width="0.2">−2</text>
<rect x="16.2" y="1609.5" width="1869.1" height="229.9" fill="#6a6a60"/>
<rect x="16.20" y="1609.50" width="12.36" height="25.24" fill="#123a20"/><rect x="16.20" y="1635.04" width="12.36" height="25.24" fill="#123a20"/><rect x="16.20" y="1660.58" width="12.36" height="25.24" fill="#123a20"/><rect x="16.20" y="1686.12" width="12.36" height="25.24" fill="#123a20"/><rect x="16.20" y="1711.66" width="12.36" height="25.24" fill="#123a20"/><rect x="16.20" y="1737.20" width="12.36" height="25.24" fill="#123a20"/><rect x="16.20" y="1762.74" width="12.36" height="25.24" fill="#e4161a"/><rect x="16.20" y="1788.28" width="12.36" height="25.24" fill="#0c2511"/><rect x="16.20" y="1813.82" width="12.36" height="25.24" fill="#0a0505"/><rect x="29.00" y="1609.50" width="12.36" height="25.24" fill="#0a0505"/><rect x="29.00" y="1635.04" width="12.36" height="25.24" fill="#114828"/><rect x="29.00" y="1660.58" width="12.36" height="25.24" fill="#114828"/><rect x="29.00" y="1686.12" width="12.36" height="25.24" fill="#114828"/><rect x="29.00" y="1711.66" width="12.36" height="25.24" fill="#123a20"/><rect x="29.00" y="1737.20" width="12.36" height="25.24" fill="#114828"/><rect x="29.00" y="1762.74" width="12.36" height="25.24" fill="#e4161a"/><rect x="29.00" y="1788.28" width="12.36" height="25.24" fill="#2c0809"/><rect x="29.00" y="1813.82" width="12.36" height="25.24" fill="#2c0809"/><rect x="41.81" y="1609.50" width="12.36" height="25.24" fill="#0a0505"/><rect x="41.81" y="1635.04" width="12.36" height="25.24" fill="#114828"/><rect x="41.81" y="1660.58" width="12.36" height="25.24" fill="#114828"/><rect x="41.81" y="1686.12" width="12.36" height="25.24" fill="#114828"/><rect x="41.81" y="1711.66" width="12.36" height="25.24" fill="#123a20"/><rect x="41.81" y="1737.20" width="12.36" height="25.24" fill="#114828"/><rect x="41.81" y="1762.74" width="12.36" height="25.24" fill="#e4161a"/><rect x="41.81" y="1788.28" width="12.36" height="25.24" fill="#2c0809"/><rect x="41.81" y="1813.82" width="12.36" height="25.24" fill="#2c0809"/><rect x="54.61" y="1609.50" width="12.36" height="25.24" fill="#114828"/><rect x="54.61" y="1635.04" width="12.36" height="25.24" fill="#114828"/><rect x="54.61" y="1660.58" width="12.36" height="25.24" fill="#114828"/><rect x="54.61" y="1686.12" width="12.36" height="25.24" fill="#123a20"/><rect x="54.61" y="1711.66" width="12.36" height="25.24" fill="#114828"/><rect x="54.61" y="1737.20" width="12.36" height="25.24" fill="#123a20"/><rect x="54.61" y="1762.74" width="12.36" height="25.24" fill="#c51a22"/><rect x="54.61" y="1788.28" width="12.36" height="25.24" fill="#76141c"/><rect x="54.61" y="1813.82" width="12.36" height="25.24" fill="#2c0809"/><rect x="67.42" y="1609.50" width="12.36" height="25.24" fill="#123a20"/><rect x="67.42" y="1635.04" width="12.36" height="25.24" fill="#123a20"/><rect x="67.42" y="1660.58" width="12.36" height="25.24" fill="#123a20"/><rect x="67.42" y="1686.12" width="12.36" height="25.24" fill="#114828"/><rect x="67.42" y="1711.66" width="12.36" height="25.24" fill="#114828"/><rect x="67.42" y="1737.20" width="12.36" height="25.24" fill="#114828"/><rect x="67.42" y="1762.74" width="12.36" height="25.24" fill="#c51a22"/><rect x="67.42" y="1788.28" width="12.36" height="25.24" fill="#2c0809"/><rect x="67.42" y="1813.82" width="12.36" height="25.24" fill="#560a10"/><rect x="80.23" y="1609.50" width="12.36" height="25.24" fill="#123a20"/><rect x="80.23" y="1635.04" width="12.36" height="25.24" fill="#123a20"/><rect x="80.23" y="1660.58" width="12.36" height="25.24" fill="#114828"/><rect x="80.23" y="1686.12" width="12.36" height="25.24" fill="#123a20"/><rect x="80.23" y="1711.66" width="12.36" height="25.24" fill="#123a20"/><rect x="80.23" y="1737.20" width="12.36" height="25.24" fill="#114828"/><rect x="80.23" y="1762.74" width="12.36" height="25.24" fill="#e4161a"/><rect x="80.23" y="1788.28" width="12.36" height="25.24" fill="#2c0809"/><rect x="80.23" y="1813.82" width="12.36" height="25.24" fill="#560a10"/><rect x="93.03" y="1609.50" width="12.36" height="25.24" fill="#114828"/><rect x="93.03" y="1635.04" width="12.36" height="25.24" fill="#114828"/><rect x="93.03" y="1660.58" width="12.36" height="25.24" fill="#114828"/><rect x="93.03" y="1686.12" width="12.36" height="25.24" fill="#114828"/><rect x="93.03" y="1711.66" width="12.36" height="25.24" fill="#114828"/><rect x="93.03" y="1737.20" width="12.36" height="25.24" fill="#123a20"/><rect x="93.03" y="1762.74" width="12.36" height="25.24" fill="#c51a22"/><rect x="93.03" y="1788.28" width="12.36" height="25.24" fill="#560a10"/><rect x="93.03" y="1813.82" width="12.36" height="25.24" fill="#560a10"/><rect x="105.83" y="1609.50" width="12.36" height="25.24" fill="#0a0505"/><rect x="105.83" y="1635.04" width="12.36" height="25.24" fill="#0a0505"/><rect x="105.83" y="1660.58" width="12.36" height="25.24" fill="#0a0505"/><rect x="105.83" y="1686.12" width="12.36" height="25.24" fill="#16843f"/><rect x="105.83" y="1711.66" width="12.36" height="25.24" fill="#16843f"/><rect x="105.83" y="1737.20" width="12.36" height="25.24" fill="#123a20"/><rect x="105.83" y="1762.74" width="12.36" height="25.24" fill="#961b22"/><rect x="105.83" y="1788.28" width="12.36" height="25.24" fill="#560a10"/><rect x="105.83" y="1813.82" width="12.36" height="25.24" fill="#560a10"/><rect x="118.64" y="1609.50" width="12.36" height="25.24" fill="#0c2511"/><rect x="118.64" y="1635.04" width="12.36" height="25.24" fill="#0a0505"/><rect x="118.64" y="1660.58" width="12.36" height="25.24" fill="#0c2511"/><rect x="118.64" y="1686.12" width="12.36" height="25.24" fill="#125c34"/><rect x="118.64" y="1711.66" width="12.36" height="25.24" fill="#13703a"/><rect x="118.64" y="1737.20" width="12.36" height="25.24" fill="#125c34"/><rect x="118.64" y="1762.74" width="12.36" height="25.24" fill="#961b22"/><rect x="118.64" y="1788.28" width="12.36" height="25.24" fill="#560a10"/><rect x="118.64" y="1813.82" width="12.36" height="25.24" fill="#961b22"/><rect x="131.44" y="1609.50" width="12.36" height="25.24" fill="#0a0505"/><rect x="131.44" y="1635.04" width="12.36" height="25.24" fill="#0a0505"/><rect x="131.44" y="1660.58" width="12.36" height="25.24" fill="#0c2511"/><rect x="131.44" y="1686.12" width="12.36" height="25.24" fill="#13703a"/><rect x="131.44" y="1711.66" width="12.36" height="25.24" fill="#13703a"/><rect x="131.44" y="1737.20" width="12.36" height="25.24" fill="#125c34"/><rect x="131.44" y="1762.74" width="12.36" height="25.24" fill="#961b22"/><rect x="131.44" y="1788.28" width="12.36" height="25.24" fill="#560a10"/><rect x="131.44" y="1813.82" width="12.36" height="25.24" fill="#76141c"/><rect x="144.25" y="1609.50" width="12.36" height="25.24" fill="#125c34"/><rect x="144.25" y="1635.04" width="12.36" height="25.24" fill="#0a0505"/><rect x="144.25" y="1660.58" width="12.36" height="25.24" fill="#0c2511"/><rect x="144.25" y="1686.12" width="12.36" height="25.24" fill="#0c2511"/><rect x="144.25" y="1711.66" width="12.36" height="25.24" fill="#125c34"/><rect x="144.25" y="1737.20" width="12.36" height="25.24" fill="#125c34"/><rect x="144.25" y="1762.74" width="12.36" height="25.24" fill="#76141c"/><rect x="144.25" y="1788.28" width="12.36" height="25.24" fill="#560a10"/><rect x="144.25" y="1813.82" width="12.36" height="25.24" fill="#961b22"/><rect x="157.05" y="1609.50" width="12.36" height="25.24" fill="#114828"/><rect x="157.05" y="1635.04" width="12.36" height="25.24" fill="#114828"/><rect x="157.05" y="1660.58" width="12.36" height="25.24" fill="#114828"/><rect x="157.05" y="1686.12" width="12.36" height="25.24" fill="#114828"/><rect x="157.05" y="1711.66" width="12.36" height="25.24" fill="#114828"/><rect x="157.05" y="1737.20" width="12.36" height="25.24" fill="#114828"/><rect x="157.05" y="1762.74" width="12.36" height="25.24" fill="#961b22"/><rect x="157.05" y="1788.28" width="12.36" height="25.24" fill="#2c0809"/><rect x="157.05" y="1813.82" width="12.36" height="25.24" fill="#961b22"/><rect x="169.86" y="1609.50" width="12.36" height="25.24" fill="#114828"/><rect x="169.86" y="1635.04" width="12.36" height="25.24" fill="#114828"/><rect x="169.86" y="1660.58" width="12.36" height="25.24" fill="#114828"/><rect x="169.86" y="1686.12" width="12.36" height="25.24" fill="#114828"/><rect x="169.86" y="1711.66" width="12.36" height="25.24" fill="#114828"/><rect x="169.86" y="1737.20" width="12.36" height="25.24" fill="#114828"/><rect x="169.86" y="1762.74" width="12.36" height="25.24" fill="#c51a22"/><rect x="169.86" y="1788.28" width="12.36" height="25.24" fill="#560a10"/><rect x="169.86" y="1813.82" width="12.36" height="25.24" fill="#76141c"/><rect x="182.66" y="1609.50" width="12.36" height="25.24" fill="#123a20"/><rect x="182.66" y="1635.04" width="12.36" height="25.24" fill="#114828"/><rect x="182.66" y="1660.58" width="12.36" height="25.24" fill="#114828"/><rect x="182.66" y="1686.12" width="12.36" height="25.24" fill="#114828"/><rect x="182.66" y="1711.66" width="12.36" height="25.24" fill="#0c2511"/><rect x="182.66" y="1737.20" width="12.36" height="25.24" fill="#114828"/><rect x="182.66" y="1762.74" width="12.36" height="25.24" fill="#76141c"/><rect x="182.66" y="1788.28" width="12.36" height="25.24" fill="#76141c"/><rect x="182.66" y="1813.82" width="12.36" height="25.24" fill="#961b22"/><rect x="195.47" y="1609.50" width="12.36" height="25.24" fill="#114828"/><rect x="195.47" y="1635.04" width="12.36" height="25.24" fill="#114828"/><rect x="195.47" y="1660.58" width="12.36" height="25.24" fill="#114828"/><rect x="195.47" y="1686.12" width="12.36" height="25.24" fill="#114828"/><rect x="195.47" y="1711.66" width="12.36" height="25.24" fill="#114828"/><rect x="195.47" y="1737.20" width="12.36" height="25.24" fill="#114828"/><rect x="195.47" y="1762.74" width="12.36" height="25.24" fill="#76141c"/><rect x="195.47" y="1788.28" width="12.36" height="25.24" fill="#76141c"/><rect x="195.47" y="1813.82" width="12.36" height="25.24" fill="#961b22"/><rect x="208.27" y="1609.50" width="12.36" height="25.24" fill="#123a20"/><rect x="208.27" y="1635.04" width="12.36" height="25.24" fill="#0c2511"/><rect x="208.27" y="1660.58" width="12.36" height="25.24" fill="#0c2511"/><rect x="208.27" y="1686.12" width="12.36" height="25.24" fill="#125c34"/><rect x="208.27" y="1711.66" width="12.36" height="25.24" fill="#125c34"/><rect x="208.27" y="1737.20" width="12.36" height="25.24" fill="#125c34"/><rect x="208.27" y="1762.74" width="12.36" height="25.24" fill="#76141c"/><rect x="208.27" y="1788.28" width="12.36" height="25.24" fill="#76141c"/><rect x="208.27" y="1813.82" width="12.36" height="25.24" fill="#76141c"/><rect x="221.08" y="1609.50" width="12.36" height="25.24" fill="#114828"/><rect x="221.08" y="1635.04" width="12.36" height="25.24" fill="#114828"/><rect x="221.08" y="1660.58" width="12.36" height="25.24" fill="#114828"/><rect x="221.08" y="1686.12" width="12.36" height="25.24" fill="#114828"/><rect x="221.08" y="1711.66" width="12.36" height="25.24" fill="#114828"/><rect x="221.08" y="1737.20" width="12.36" height="25.24" fill="#114828"/><rect x="221.08" y="1762.74" width="12.36" height="25.24" fill="#76141c"/><rect x="221.08" y="1788.28" width="12.36" height="25.24" fill="#76141c"/><rect x="221.08" y="1813.82" width="12.36" height="25.24" fill="#76141c"/><rect x="233.88" y="1609.50" width="12.36" height="25.24" fill="#125c34"/><rect x="233.88" y="1635.04" width="12.36" height="25.24" fill="#114828"/><rect x="233.88" y="1660.58" width="12.36" height="25.24" fill="#123a20"/><rect x="233.88" y="1686.12" width="12.36" height="25.24" fill="#123a20"/><rect x="233.88" y="1711.66" width="12.36" height="25.24" fill="#114828"/><rect x="233.88" y="1737.20" width="12.36" height="25.24" fill="#114828"/><rect x="233.88" y="1762.74" width="12.36" height="25.24" fill="#961b22"/><rect x="233.88" y="1788.28" width="12.36" height="25.24" fill="#76141c"/><rect x="233.88" y="1813.82" width="12.36" height="25.24" fill="#76141c"/><rect x="246.69" y="1609.50" width="12.36" height="25.24" fill="#114828"/><rect x="246.69" y="1635.04" width="12.36" height="25.24" fill="#114828"/><rect x="246.69" y="1660.58" width="12.36" height="25.24" fill="#114828"/><rect x="246.69" y="1686.12" width="12.36" height="25.24" fill="#123a20"/><rect x="246.69" y="1711.66" width="12.36" height="25.24" fill="#114828"/><rect x="246.69" y="1737.20" width="12.36" height="25.24" fill="#123a20"/><rect x="246.69" y="1762.74" width="12.36" height="25.24" fill="#961b22"/><rect x="246.69" y="1788.28" width="12.36" height="25.24" fill="#76141c"/><rect x="246.69" y="1813.82" width="12.36" height="25.24" fill="#76141c"/><rect x="259.50" y="1609.50" width="12.36" height="25.24" fill="#114828"/><rect x="259.50" y="1635.04" width="12.36" height="25.24" fill="#114828"/><rect x="259.50" y="1660.58" width="12.36" height="25.24" fill="#114828"/><rect x="259.50" y="1686.12" width="12.36" height="25.24" fill="#114828"/><rect x="259.50" y="1711.66" width="12.36" height="25.24" fill="#114828"/><rect x="259.50" y="1737.20" width="12.36" height="25.24" fill="#114828"/><rect x="259.50" y="1762.74" width="12.36" height="25.24" fill="#961b22"/><rect x="259.50" y="1788.28" width="12.36" height="25.24" fill="#76141c"/><rect x="259.50" y="1813.82" width="12.36" height="25.24" fill="#76141c"/><rect x="272.30" y="1609.50" width="12.36" height="25.24" fill="#114828"/><rect x="272.30" y="1635.04" width="12.36" height="25.24" fill="#114828"/><rect x="272.30" y="1660.58" width="12.36" height="25.24" fill="#114828"/><rect x="272.30" y="1686.12" width="12.36" height="25.24" fill="#114828"/><rect x="272.30" y="1711.66" width="12.36" height="25.24" fill="#114828"/><rect x="272.30" y="1737.20" width="12.36" height="25.24" fill="#114828"/><rect x="272.30" y="1762.74" width="12.36" height="25.24" fill="#961b22"/><rect x="272.30" y="1788.28" width="12.36" height="25.24" fill="#560a10"/><rect x="272.30" y="1813.82" width="12.36" height="25.24" fill="#76141c"/><rect x="285.10" y="1609.50" width="12.36" height="25.24" fill="#114828"/><rect x="285.10" y="1635.04" width="12.36" height="25.24" fill="#114828"/><rect x="285.10" y="1660.58" width="12.36" height="25.24" fill="#114828"/><rect x="285.10" y="1686.12" width="12.36" height="25.24" fill="#114828"/><rect x="285.10" y="1711.66" width="12.36" height="25.24" fill="#114828"/><rect x="285.10" y="1737.20" width="12.36" height="25.24" fill="#114828"/><rect x="285.10" y="1762.74" width="12.36" height="25.24" fill="#961b22"/><rect x="285.10" y="1788.28" width="12.36" height="25.24" fill="#76141c"/><rect x="285.10" y="1813.82" width="12.36" height="25.24" fill="#961b22"/><rect x="297.91" y="1609.50" width="12.36" height="25.24" fill="#125c34"/><rect x="297.91" y="1635.04" width="12.36" height="25.24" fill="#0c2511"/><rect x="297.91" y="1660.58" width="12.36" height="25.24" fill="#114828"/><rect x="297.91" y="1686.12" width="12.36" height="25.24" fill="#e4161a"/><rect x="297.91" y="1711.66" width="12.36" height="25.24" fill="#0a0505"/><rect x="297.91" y="1737.20" width="12.36" height="25.24" fill="#0a0505"/><rect x="297.91" y="1762.74" width="12.36" height="25.24" fill="#560a10"/><rect x="297.91" y="1788.28" width="12.36" height="25.24" fill="#2c0809"/><rect x="297.91" y="1813.82" width="12.36" height="25.24" fill="#13703a"/><rect x="310.71" y="1609.50" width="12.36" height="25.24" fill="#114828"/><rect x="310.71" y="1635.04" width="12.36" height="25.24" fill="#123a20"/><rect x="310.71" y="1660.58" width="12.36" height="25.24" fill="#114828"/><rect x="310.71" y="1686.12" width="12.36" height="25.24" fill="#e4161a"/><rect x="310.71" y="1711.66" width="12.36" height="25.24" fill="#0c2511"/><rect x="310.71" y="1737.20" width="12.36" height="25.24" fill="#2c0809"/><rect x="310.71" y="1762.74" width="12.36" height="25.24" fill="#0a0505"/><rect x="310.71" y="1788.28" width="12.36" height="25.24" fill="#560a10"/><rect x="310.71" y="1813.82" width="12.36" height="25.24" fill="#13703a"/><rect x="323.52" y="1609.50" width="12.36" height="25.24" fill="#0c2511"/><rect x="323.52" y="1635.04" width="12.36" height="25.24" fill="#114828"/><rect x="323.52" y="1660.58" width="12.36" height="25.24" fill="#123a20"/><rect x="323.52" y="1686.12" width="12.36" height="25.24" fill="#961b22"/><rect x="323.52" y="1711.66" width="12.36" height="25.24" fill="#0a0505"/><rect x="323.52" y="1737.20" width="12.36" height="25.24" fill="#2c0809"/><rect x="323.52" y="1762.74" width="12.36" height="25.24" fill="#0a0505"/><rect x="323.52" y="1788.28" width="12.36" height="25.24" fill="#27983f"/><rect x="323.52" y="1813.82" width="12.36" height="25.24" fill="#961b22"/><rect x="336.32" y="1609.50" width="12.36" height="25.24" fill="#16843f"/><rect x="336.32" y="1635.04" width="12.36" height="25.24" fill="#13703a"/><rect x="336.32" y="1660.58" width="12.36" height="25.24" fill="#13703a"/><rect x="336.32" y="1686.12" width="12.36" height="25.24" fill="#76141c"/><rect x="336.32" y="1711.66" width="12.36" height="25.24" fill="#0a0505"/><rect x="336.32" y="1737.20" width="12.36" height="25.24" fill="#560a10"/><rect x="336.32" y="1762.74" width="12.36" height="25.24" fill="#0a0505"/><rect x="336.32" y="1788.28" width="12.36" height="25.24" fill="#560a10"/><rect x="336.32" y="1813.82" width="12.36" height="25.24" fill="#76141c"/><rect x="349.13" y="1609.50" width="12.36" height="25.24" fill="#16843f"/><rect x="349.13" y="1635.04" width="12.36" height="25.24" fill="#13703a"/><rect x="349.13" y="1660.58" width="12.36" height="25.24" fill="#13703a"/><rect x="349.13" y="1686.12" width="12.36" height="25.24" fill="#560a10"/><rect x="349.13" y="1711.66" width="12.36" height="25.24" fill="#2c0809"/><rect x="349.13" y="1737.20" width="12.36" height="25.24" fill="#560a10"/><rect x="349.13" y="1762.74" width="12.36" height="25.24" fill="#961b22"/><rect x="349.13" y="1788.28" width="12.36" height="25.24" fill="#0a0505"/><rect x="349.13" y="1813.82" width="12.36" height="25.24" fill="#2c0809"/><rect x="361.94" y="1609.50" width="12.36" height="25.24" fill="#125c34"/><rect x="361.94" y="1635.04" width="12.36" height="25.24" fill="#0c2511"/><rect x="361.94" y="1660.58" width="12.36" height="25.24" fill="#27983f"/><rect x="361.94" y="1686.12" width="12.36" height="25.24" fill="#560a10"/><rect x="361.94" y="1711.66" width="12.36" height="25.24" fill="#123a20"/><rect x="361.94" y="1737.20" width="12.36" height="25.24" fill="#2c0809"/><rect x="361.94" y="1762.74" width="12.36" height="25.24" fill="#961b22"/><rect x="361.94" y="1788.28" width="12.36" height="25.24" fill="#0a0505"/><rect x="361.94" y="1813.82" width="12.36" height="25.24" fill="#560a10"/><rect x="374.74" y="1609.50" width="12.36" height="25.24" fill="#13703a"/><rect x="374.74" y="1635.04" width="12.36" height="25.24" fill="#114828"/><rect x="374.74" y="1660.58" width="12.36" height="25.24" fill="#16843f"/><rect x="374.74" y="1686.12" width="12.36" height="25.24" fill="#0c2511"/><rect x="374.74" y="1711.66" width="12.36" height="25.24" fill="#2c0809"/><rect x="374.74" y="1737.20" width="12.36" height="25.24" fill="#2c0809"/><rect x="374.74" y="1762.74" width="12.36" height="25.24" fill="#961b22"/><rect x="374.74" y="1788.28" width="12.36" height="25.24" fill="#0c2511"/><rect x="374.74" y="1813.82" width="12.36" height="25.24" fill="#961b22"/><rect x="387.54" y="1609.50" width="12.36" height="25.24" fill="#123a20"/><rect x="387.54" y="1635.04" width="12.36" height="25.24" fill="#123a20"/><rect x="387.54" y="1660.58" width="12.36" height="25.24" fill="#123a20"/><rect x="387.54" y="1686.12" width="12.36" height="25.24" fill="#123a20"/><rect x="387.54" y="1711.66" width="12.36" height="25.24" fill="#123a20"/><rect x="387.54" y="1737.20" width="12.36" height="25.24" fill="#e4161a"/><rect x="387.54" y="1762.74" width="12.36" height="25.24" fill="#2c0809"/><rect x="387.54" y="1788.28" width="12.36" height="25.24" fill="#0a0505"/><rect x="387.54" y="1813.82" width="12.36" height="25.24" fill="#0a0505"/><rect x="400.35" y="1609.50" width="12.36" height="25.24" fill="#0c2511"/><rect x="400.35" y="1635.04" width="12.36" height="25.24" fill="#16843f"/><rect x="400.35" y="1660.58" width="12.36" height="25.24" fill="#13703a"/><rect x="400.35" y="1686.12" width="12.36" height="25.24" fill="#2c0809"/><rect x="400.35" y="1711.66" width="12.36" height="25.24" fill="#0a0505"/><rect x="400.35" y="1737.20" width="12.36" height="25.24" fill="#0a0505"/><rect x="400.35" y="1762.74" width="12.36" height="25.24" fill="#e4161a"/><rect x="400.35" y="1788.28" width="12.36" height="25.24" fill="#0a0505"/><rect x="400.35" y="1813.82" width="12.36" height="25.24" fill="#0a0505"/><rect x="413.15" y="1609.50" width="12.36" height="25.24" fill="#0a0505"/><rect x="413.15" y="1635.04" width="12.36" height="25.24" fill="#123a20"/><rect x="413.15" y="1660.58" width="12.36" height="25.24" fill="#123a20"/><rect x="413.15" y="1686.12" width="12.36" height="25.24" fill="#560a10"/><rect x="413.15" y="1711.66" width="12.36" height="25.24" fill="#0a0505"/><rect x="413.15" y="1737.20" width="12.36" height="25.24" fill="#560a10"/><rect x="413.15" y="1762.74" width="12.36" height="25.24" fill="#c51a22"/><rect x="413.15" y="1788.28" width="12.36" height="25.24" fill="#13703a"/><rect x="413.15" y="1813.82" width="12.36" height="25.24" fill="#125c34"/><rect x="425.96" y="1609.50" width="12.36" height="25.24" fill="#2c0809"/><rect x="425.96" y="1635.04" width="12.36" height="25.24" fill="#114828"/><rect x="425.96" y="1660.58" width="12.36" height="25.24" fill="#0c2511"/><rect x="425.96" y="1686.12" width="12.36" height="25.24" fill="#123a20"/><rect x="425.96" y="1711.66" width="12.36" height="25.24" fill="#560a10"/><rect x="425.96" y="1737.20" width="12.36" height="25.24" fill="#114828"/><rect x="425.96" y="1762.74" width="12.36" height="25.24" fill="#27983f"/><rect x="425.96" y="1788.28" width="12.36" height="25.24" fill="#961b22"/><rect x="425.96" y="1813.82" width="12.36" height="25.24" fill="#76141c"/><rect x="438.76" y="1609.50" width="12.36" height="25.24" fill="#0c2511"/><rect x="438.76" y="1635.04" width="12.36" height="25.24" fill="#125c34"/><rect x="438.76" y="1660.58" width="12.36" height="25.24" fill="#123a20"/><rect x="438.76" y="1686.12" width="12.36" height="25.24" fill="#0c2511"/><rect x="438.76" y="1711.66" width="12.36" height="25.24" fill="#0c2511"/><rect x="438.76" y="1737.20" width="12.36" height="25.24" fill="#114828"/><rect x="438.76" y="1762.74" width="12.36" height="25.24" fill="#125c34"/><rect x="438.76" y="1788.28" width="12.36" height="25.24" fill="#c51a22"/><rect x="438.76" y="1813.82" width="12.36" height="25.24" fill="#961b22"/><rect x="451.57" y="1609.50" width="12.36" height="25.24" fill="#114828"/><rect x="451.57" y="1635.04" width="12.36" height="25.24" fill="#0c2511"/><rect x="451.57" y="1660.58" width="12.36" height="25.24" fill="#114828"/><rect x="451.57" y="1686.12" width="12.36" height="25.24" fill="#0c2511"/><rect x="451.57" y="1711.66" width="12.36" height="25.24" fill="#2c0809"/><rect x="451.57" y="1737.20" width="12.36" height="25.24" fill="#0a0505"/><rect x="451.57" y="1762.74" width="12.36" height="25.24" fill="#27983f"/><rect x="451.57" y="1788.28" width="12.36" height="25.24" fill="#ae1c25"/><rect x="451.57" y="1813.82" width="12.36" height="25.24" fill="#76141c"/><rect x="464.38" y="1609.50" width="12.36" height="25.24" fill="#16843f"/><rect x="464.38" y="1635.04" width="12.36" height="25.24" fill="#0a0505"/><rect x="464.38" y="1660.58" width="12.36" height="25.24" fill="#0a0505"/><rect x="464.38" y="1686.12" width="12.36" height="25.24" fill="#0a0505"/><rect x="464.38" y="1711.66" width="12.36" height="25.24" fill="#125c34"/><rect x="464.38" y="1737.20" width="12.36" height="25.24" fill="#0c2511"/><rect x="464.38" y="1762.74" width="12.36" height="25.24" fill="#0c2511"/><rect x="464.38" y="1788.28" width="12.36" height="25.24" fill="#e4161a"/><rect x="464.38" y="1813.82" width="12.36" height="25.24" fill="#2c0809"/><rect x="477.18" y="1609.50" width="12.36" height="25.24" fill="#114828"/><rect x="477.18" y="1635.04" width="12.36" height="25.24" fill="#114828"/><rect x="477.18" y="1660.58" width="12.36" height="25.24" fill="#114828"/><rect x="477.18" y="1686.12" width="12.36" height="25.24" fill="#114828"/><rect x="477.18" y="1711.66" width="12.36" height="25.24" fill="#114828"/><rect x="477.18" y="1737.20" width="12.36" height="25.24" fill="#0c2511"/><rect x="477.18" y="1762.74" width="12.36" height="25.24" fill="#560a10"/><rect x="477.18" y="1788.28" width="12.36" height="25.24" fill="#ae1c25"/><rect x="477.18" y="1813.82" width="12.36" height="25.24" fill="#76141c"/><rect x="489.98" y="1609.50" width="12.36" height="25.24" fill="#123a20"/><rect x="489.98" y="1635.04" width="12.36" height="25.24" fill="#125c34"/><rect x="489.98" y="1660.58" width="12.36" height="25.24" fill="#125c34"/><rect x="489.98" y="1686.12" width="12.36" height="25.24" fill="#123a20"/><rect x="489.98" y="1711.66" width="12.36" height="25.24" fill="#0c2511"/><rect x="489.98" y="1737.20" width="12.36" height="25.24" fill="#123a20"/><rect x="489.98" y="1762.74" width="12.36" height="25.24" fill="#76141c"/><rect x="489.98" y="1788.28" width="12.36" height="25.24" fill="#c51a22"/><rect x="489.98" y="1813.82" width="12.36" height="25.24" fill="#560a10"/><rect x="502.79" y="1609.50" width="12.36" height="25.24" fill="#125c34"/><rect x="502.79" y="1635.04" width="12.36" height="25.24" fill="#125c34"/><rect x="502.79" y="1660.58" width="12.36" height="25.24" fill="#0c2511"/><rect x="502.79" y="1686.12" width="12.36" height="25.24" fill="#0c2511"/><rect x="502.79" y="1711.66" width="12.36" height="25.24" fill="#123a20"/><rect x="502.79" y="1737.20" width="12.36" height="25.24" fill="#114828"/><rect x="502.79" y="1762.74" width="12.36" height="25.24" fill="#2c0809"/><rect x="502.79" y="1788.28" width="12.36" height="25.24" fill="#961b22"/><rect x="502.79" y="1813.82" width="12.36" height="25.24" fill="#961b22"/><rect x="515.60" y="1609.50" width="12.36" height="25.24" fill="#13703a"/><rect x="515.60" y="1635.04" width="12.36" height="25.24" fill="#13703a"/><rect x="515.60" y="1660.58" width="12.36" height="25.24" fill="#0c2511"/><rect x="515.60" y="1686.12" width="12.36" height="25.24" fill="#123a20"/><rect x="515.60" y="1711.66" width="12.36" height="25.24" fill="#0c2511"/><rect x="515.60" y="1737.20" width="12.36" height="25.24" fill="#0a0505"/><rect x="515.60" y="1762.74" width="12.36" height="25.24" fill="#2c0809"/><rect x="515.60" y="1788.28" width="12.36" height="25.24" fill="#560a10"/><rect x="515.60" y="1813.82" width="12.36" height="25.24" fill="#c51a22"/><rect x="528.40" y="1609.50" width="12.36" height="25.24" fill="#0c2511"/><rect x="528.40" y="1635.04" width="12.36" height="25.24" fill="#0c2511"/><rect x="528.40" y="1660.58" width="12.36" height="25.24" fill="#e4161a"/><rect x="528.40" y="1686.12" width="12.36" height="25.24" fill="#2c0809"/><rect x="528.40" y="1711.66" width="12.36" height="25.24" fill="#123a20"/><rect x="528.40" y="1737.20" width="12.36" height="25.24" fill="#123a20"/><rect x="528.40" y="1762.74" width="12.36" height="25.24" fill="#123a20"/><rect x="528.40" y="1788.28" width="12.36" height="25.24" fill="#123a20"/><rect x="528.40" y="1813.82" width="12.36" height="25.24" fill="#123a20"/><rect x="541.21" y="1609.50" width="12.36" height="25.24" fill="#961b22"/><rect x="541.21" y="1635.04" width="12.36" height="25.24" fill="#0a0505"/><rect x="541.21" y="1660.58" width="12.36" height="25.24" fill="#560a10"/><rect x="541.21" y="1686.12" width="12.36" height="25.24" fill="#125c34"/><rect x="541.21" y="1711.66" width="12.36" height="25.24" fill="#125c34"/><rect x="541.21" y="1737.20" width="12.36" height="25.24" fill="#13703a"/><rect x="541.21" y="1762.74" width="12.36" height="25.24" fill="#560a10"/><rect x="541.21" y="1788.28" width="12.36" height="25.24" fill="#125c34"/><rect x="541.21" y="1813.82" width="12.36" height="25.24" fill="#560a10"/><rect x="554.01" y="1609.50" width="12.36" height="25.24" fill="#560a10"/><rect x="554.01" y="1635.04" width="12.36" height="25.24" fill="#2c0809"/><rect x="554.01" y="1660.58" width="12.36" height="25.24" fill="#2c0809"/><rect x="554.01" y="1686.12" width="12.36" height="25.24" fill="#16843f"/><rect x="554.01" y="1711.66" width="12.36" height="25.24" fill="#16843f"/><rect x="554.01" y="1737.20" width="12.36" height="25.24" fill="#16843f"/><rect x="554.01" y="1762.74" width="12.36" height="25.24" fill="#76141c"/><rect x="554.01" y="1788.28" width="12.36" height="25.24" fill="#2c0809"/><rect x="554.01" y="1813.82" width="12.36" height="25.24" fill="#560a10"/><rect x="566.82" y="1609.50" width="12.36" height="25.24" fill="#2c0809"/><rect x="566.82" y="1635.04" width="12.36" height="25.24" fill="#560a10"/><rect x="566.82" y="1660.58" width="12.36" height="25.24" fill="#76141c"/><rect x="566.82" y="1686.12" width="12.36" height="25.24" fill="#16843f"/><rect x="566.82" y="1711.66" width="12.36" height="25.24" fill="#16843f"/><rect x="566.82" y="1737.20" width="12.36" height="25.24" fill="#16843f"/><rect x="566.82" y="1762.74" width="12.36" height="25.24" fill="#2c0809"/><rect x="566.82" y="1788.28" width="12.36" height="25.24" fill="#0a0505"/><rect x="566.82" y="1813.82" width="12.36" height="25.24" fill="#560a10"/><rect x="579.62" y="1609.50" width="12.36" height="25.24" fill="#961b22"/><rect x="579.62" y="1635.04" width="12.36" height="25.24" fill="#0c2511"/><rect x="579.62" y="1660.58" width="12.36" height="25.24" fill="#0c2511"/><rect x="579.62" y="1686.12" width="12.36" height="25.24" fill="#125c34"/><rect x="579.62" y="1711.66" width="12.36" height="25.24" fill="#125c34"/><rect x="579.62" y="1737.20" width="12.36" height="25.24" fill="#125c34"/><rect x="579.62" y="1762.74" width="12.36" height="25.24" fill="#c51a22"/><rect x="579.62" y="1788.28" width="12.36" height="25.24" fill="#0a0505"/><rect x="579.62" y="1813.82" width="12.36" height="25.24" fill="#0c2511"/><rect x="592.43" y="1609.50" width="12.36" height="25.24" fill="#961b22"/><rect x="592.43" y="1635.04" width="12.36" height="25.24" fill="#560a10"/><rect x="592.43" y="1660.58" width="12.36" height="25.24" fill="#2c0809"/><rect x="592.43" y="1686.12" width="12.36" height="25.24" fill="#114828"/><rect x="592.43" y="1711.66" width="12.36" height="25.24" fill="#16843f"/><rect x="592.43" y="1737.20" width="12.36" height="25.24" fill="#0c2511"/><rect x="592.43" y="1762.74" width="12.36" height="25.24" fill="#76141c"/><rect x="592.43" y="1788.28" width="12.36" height="25.24" fill="#0a0505"/><rect x="592.43" y="1813.82" width="12.36" height="25.24" fill="#16843f"/><rect x="605.23" y="1609.50" width="12.36" height="25.24" fill="#76141c"/><rect x="605.23" y="1635.04" width="12.36" height="25.24" fill="#560a10"/><rect x="605.23" y="1660.58" width="12.36" height="25.24" fill="#961b22"/><rect x="605.23" y="1686.12" width="12.36" height="25.24" fill="#13703a"/><rect x="605.23" y="1711.66" width="12.36" height="25.24" fill="#13703a"/><rect x="605.23" y="1737.20" width="12.36" height="25.24" fill="#123a20"/><rect x="605.23" y="1762.74" width="12.36" height="25.24" fill="#2c0809"/><rect x="605.23" y="1788.28" width="12.36" height="25.24" fill="#0c2511"/><rect x="605.23" y="1813.82" width="12.36" height="25.24" fill="#125c34"/><rect x="618.04" y="1609.50" width="12.36" height="25.24" fill="#961b22"/><rect x="618.04" y="1635.04" width="12.36" height="25.24" fill="#560a10"/><rect x="618.04" y="1660.58" width="12.36" height="25.24" fill="#76141c"/><rect x="618.04" y="1686.12" width="12.36" height="25.24" fill="#13703a"/><rect x="618.04" y="1711.66" width="12.36" height="25.24" fill="#16843f"/><rect x="618.04" y="1737.20" width="12.36" height="25.24" fill="#114828"/><rect x="618.04" y="1762.74" width="12.36" height="25.24" fill="#2c0809"/><rect x="618.04" y="1788.28" width="12.36" height="25.24" fill="#114828"/><rect x="618.04" y="1813.82" width="12.36" height="25.24" fill="#0c2511"/><rect x="630.84" y="1609.50" width="12.36" height="25.24" fill="#961b22"/><rect x="630.84" y="1635.04" width="12.36" height="25.24" fill="#560a10"/><rect x="630.84" y="1660.58" width="12.36" height="25.24" fill="#76141c"/><rect x="630.84" y="1686.12" width="12.36" height="25.24" fill="#13703a"/><rect x="630.84" y="1711.66" width="12.36" height="25.24" fill="#13703a"/><rect x="630.84" y="1737.20" width="12.36" height="25.24" fill="#13703a"/><rect x="630.84" y="1762.74" width="12.36" height="25.24" fill="#2c0809"/><rect x="630.84" y="1788.28" width="12.36" height="25.24" fill="#123a20"/><rect x="630.84" y="1813.82" width="12.36" height="25.24" fill="#0c2511"/><rect x="643.64" y="1609.50" width="12.36" height="25.24" fill="#e4161a"/><rect x="643.64" y="1635.04" width="12.36" height="25.24" fill="#0a0505"/><rect x="643.64" y="1660.58" width="12.36" height="25.24" fill="#76141c"/><rect x="643.64" y="1686.12" width="12.36" height="25.24" fill="#0c2511"/><rect x="643.64" y="1711.66" width="12.36" height="25.24" fill="#114828"/><rect x="643.64" y="1737.20" width="12.36" height="25.24" fill="#0c2511"/><rect x="643.64" y="1762.74" width="12.36" height="25.24" fill="#114828"/><rect x="643.64" y="1788.28" width="12.36" height="25.24" fill="#114828"/><rect x="643.64" y="1813.82" width="12.36" height="25.24" fill="#123a20"/><rect x="656.45" y="1609.50" width="12.36" height="25.24" fill="#e4161a"/><rect x="656.45" y="1635.04" width="12.36" height="25.24" fill="#2c0809"/><rect x="656.45" y="1660.58" width="12.36" height="25.24" fill="#560a10"/><rect x="656.45" y="1686.12" width="12.36" height="25.24" fill="#125c34"/><rect x="656.45" y="1711.66" width="12.36" height="25.24" fill="#114828"/><rect x="656.45" y="1737.20" width="12.36" height="25.24" fill="#114828"/><rect x="656.45" y="1762.74" width="12.36" height="25.24" fill="#123a20"/><rect x="656.45" y="1788.28" width="12.36" height="25.24" fill="#114828"/><rect x="656.45" y="1813.82" width="12.36" height="25.24" fill="#123a20"/><rect x="669.25" y="1609.50" width="12.36" height="25.24" fill="#e4161a"/><rect x="669.25" y="1635.04" width="12.36" height="25.24" fill="#0c2511"/><rect x="669.25" y="1660.58" width="12.36" height="25.24" fill="#560a10"/><rect x="669.25" y="1686.12" width="12.36" height="25.24" fill="#125c34"/><rect x="669.25" y="1711.66" width="12.36" height="25.24" fill="#114828"/><rect x="669.25" y="1737.20" width="12.36" height="25.24" fill="#114828"/><rect x="669.25" y="1762.74" width="12.36" height="25.24" fill="#123a20"/><rect x="669.25" y="1788.28" width="12.36" height="25.24" fill="#0c2511"/><rect x="669.25" y="1813.82" width="12.36" height="25.24" fill="#0c2511"/><rect x="682.06" y="1609.50" width="12.36" height="25.24" fill="#e4161a"/><rect x="682.06" y="1635.04" width="12.36" height="25.24" fill="#0a0505"/><rect x="682.06" y="1660.58" width="12.36" height="25.24" fill="#560a10"/><rect x="682.06" y="1686.12" width="12.36" height="25.24" fill="#114828"/><rect x="682.06" y="1711.66" width="12.36" height="25.24" fill="#114828"/><rect x="682.06" y="1737.20" width="12.36" height="25.24" fill="#114828"/><rect x="682.06" y="1762.74" width="12.36" height="25.24" fill="#123a20"/><rect x="682.06" y="1788.28" width="12.36" height="25.24" fill="#0c2511"/><rect x="682.06" y="1813.82" width="12.36" height="25.24" fill="#123a20"/><rect x="694.87" y="1609.50" width="12.36" height="25.24" fill="#c51a22"/><rect x="694.87" y="1635.04" width="12.36" height="25.24" fill="#76141c"/><rect x="694.87" y="1660.58" width="12.36" height="25.24" fill="#2c0809"/><rect x="694.87" y="1686.12" width="12.36" height="25.24" fill="#114828"/><rect x="694.87" y="1711.66" width="12.36" height="25.24" fill="#114828"/><rect x="694.87" y="1737.20" width="12.36" height="25.24" fill="#114828"/><rect x="694.87" y="1762.74" width="12.36" height="25.24" fill="#114828"/><rect x="694.87" y="1788.28" width="12.36" height="25.24" fill="#114828"/><rect x="694.87" y="1813.82" width="12.36" height="25.24" fill="#123a20"/><rect x="707.67" y="1609.50" width="12.36" height="25.24" fill="#e4161a"/><rect x="707.67" y="1635.04" width="12.36" height="25.24" fill="#2c0809"/><rect x="707.67" y="1660.58" width="12.36" height="25.24" fill="#0a0505"/><rect x="707.67" y="1686.12" width="12.36" height="25.24" fill="#0c2511"/><rect x="707.67" y="1711.66" width="12.36" height="25.24" fill="#0c2511"/><rect x="707.67" y="1737.20" width="12.36" height="25.24" fill="#0a0505"/><rect x="707.67" y="1762.74" width="12.36" height="25.24" fill="#114828"/><rect x="707.67" y="1788.28" width="12.36" height="25.24" fill="#125c34"/><rect x="707.67" y="1813.82" width="12.36" height="25.24" fill="#114828"/><rect x="720.48" y="1609.50" width="12.36" height="25.24" fill="#76141c"/><rect x="720.48" y="1635.04" width="12.36" height="25.24" fill="#961b22"/><rect x="720.48" y="1660.58" width="12.36" height="25.24" fill="#560a10"/><rect x="720.48" y="1686.12" width="12.36" height="25.24" fill="#114828"/><rect x="720.48" y="1711.66" width="12.36" height="25.24" fill="#114828"/><rect x="720.48" y="1737.20" width="12.36" height="25.24" fill="#114828"/><rect x="720.48" y="1762.74" width="12.36" height="25.24" fill="#123a20"/><rect x="720.48" y="1788.28" width="12.36" height="25.24" fill="#114828"/><rect x="720.48" y="1813.82" width="12.36" height="25.24" fill="#123a20"/><rect x="733.28" y="1609.50" width="12.36" height="25.24" fill="#560a10"/><rect x="733.28" y="1635.04" width="12.36" height="25.24" fill="#961b22"/><rect x="733.28" y="1660.58" width="12.36" height="25.24" fill="#76141c"/><rect x="733.28" y="1686.12" width="12.36" height="25.24" fill="#125c34"/><rect x="733.28" y="1711.66" width="12.36" height="25.24" fill="#125c34"/><rect x="733.28" y="1737.20" width="12.36" height="25.24" fill="#125c34"/><rect x="733.28" y="1762.74" width="12.36" height="25.24" fill="#0c2511"/><rect x="733.28" y="1788.28" width="12.36" height="25.24" fill="#123a20"/><rect x="733.28" y="1813.82" width="12.36" height="25.24" fill="#123a20"/><rect x="746.09" y="1609.50" width="12.36" height="25.24" fill="#76141c"/><rect x="746.09" y="1635.04" width="12.36" height="25.24" fill="#76141c"/><rect x="746.09" y="1660.58" width="12.36" height="25.24" fill="#76141c"/><rect x="746.09" y="1686.12" width="12.36" height="25.24" fill="#114828"/><rect x="746.09" y="1711.66" width="12.36" height="25.24" fill="#125c34"/><rect x="746.09" y="1737.20" width="12.36" height="25.24" fill="#125c34"/><rect x="746.09" y="1762.74" width="12.36" height="25.24" fill="#123a20"/><rect x="746.09" y="1788.28" width="12.36" height="25.24" fill="#123a20"/><rect x="746.09" y="1813.82" width="12.36" height="25.24" fill="#123a20"/><rect x="758.89" y="1609.50" width="12.36" height="25.24" fill="#961b22"/><rect x="758.89" y="1635.04" width="12.36" height="25.24" fill="#76141c"/><rect x="758.89" y="1660.58" width="12.36" height="25.24" fill="#76141c"/><rect x="758.89" y="1686.12" width="12.36" height="25.24" fill="#125c34"/><rect x="758.89" y="1711.66" width="12.36" height="25.24" fill="#125c34"/><rect x="758.89" y="1737.20" width="12.36" height="25.24" fill="#125c34"/><rect x="758.89" y="1762.74" width="12.36" height="25.24" fill="#0c2511"/><rect x="758.89" y="1788.28" width="12.36" height="25.24" fill="#123a20"/><rect x="758.89" y="1813.82" width="12.36" height="25.24" fill="#0c2511"/><rect x="771.70" y="1609.50" width="12.36" height="25.24" fill="#961b22"/><rect x="771.70" y="1635.04" width="12.36" height="25.24" fill="#76141c"/><rect x="771.70" y="1660.58" width="12.36" height="25.24" fill="#560a10"/><rect x="771.70" y="1686.12" width="12.36" height="25.24" fill="#125c34"/><rect x="771.70" y="1711.66" width="12.36" height="25.24" fill="#125c34"/><rect x="771.70" y="1737.20" width="12.36" height="25.24" fill="#125c34"/><rect x="771.70" y="1762.74" width="12.36" height="25.24" fill="#0c2511"/><rect x="771.70" y="1788.28" width="12.36" height="25.24" fill="#0a0505"/><rect x="771.70" y="1813.82" width="12.36" height="25.24" fill="#0c2511"/><rect x="784.50" y="1609.50" width="12.36" height="25.24" fill="#961b22"/><rect x="784.50" y="1635.04" width="12.36" height="25.24" fill="#961b22"/><rect x="784.50" y="1660.58" width="12.36" height="25.24" fill="#560a10"/><rect x="784.50" y="1686.12" width="12.36" height="25.24" fill="#125c34"/><rect x="784.50" y="1711.66" width="12.36" height="25.24" fill="#114828"/><rect x="784.50" y="1737.20" width="12.36" height="25.24" fill="#125c34"/><rect x="784.50" y="1762.74" width="12.36" height="25.24" fill="#123a20"/><rect x="784.50" y="1788.28" width="12.36" height="25.24" fill="#0c2511"/><rect x="784.50" y="1813.82" width="12.36" height="25.24" fill="#0c2511"/><rect x="797.31" y="1609.50" width="12.36" height="25.24" fill="#76141c"/><rect x="797.31" y="1635.04" width="12.36" height="25.24" fill="#76141c"/><rect x="797.31" y="1660.58" width="12.36" height="25.24" fill="#560a10"/><rect x="797.31" y="1686.12" width="12.36" height="25.24" fill="#125c34"/><rect x="797.31" y="1711.66" width="12.36" height="25.24" fill="#125c34"/><rect x="797.31" y="1737.20" width="12.36" height="25.24" fill="#125c34"/><rect x="797.31" y="1762.74" width="12.36" height="25.24" fill="#123a20"/><rect x="797.31" y="1788.28" width="12.36" height="25.24" fill="#123a20"/><rect x="797.31" y="1813.82" width="12.36" height="25.24" fill="#0c2511"/><rect x="810.11" y="1609.50" width="12.36" height="25.24" fill="#961b22"/><rect x="810.11" y="1635.04" width="12.36" height="25.24" fill="#560a10"/><rect x="810.11" y="1660.58" width="12.36" height="25.24" fill="#961b22"/><rect x="810.11" y="1686.12" width="12.36" height="25.24" fill="#0c2511"/><rect x="810.11" y="1711.66" width="12.36" height="25.24" fill="#0c2511"/><rect x="810.11" y="1737.20" width="12.36" height="25.24" fill="#0c2511"/><rect x="810.11" y="1762.74" width="12.36" height="25.24" fill="#125c34"/><rect x="810.11" y="1788.28" width="12.36" height="25.24" fill="#125c34"/><rect x="810.11" y="1813.82" width="12.36" height="25.24" fill="#125c34"/><rect x="822.92" y="1609.50" width="12.36" height="25.24" fill="#76141c"/><rect x="822.92" y="1635.04" width="12.36" height="25.24" fill="#961b22"/><rect x="822.92" y="1660.58" width="12.36" height="25.24" fill="#76141c"/><rect x="822.92" y="1686.12" width="12.36" height="25.24" fill="#114828"/><rect x="822.92" y="1711.66" width="12.36" height="25.24" fill="#114828"/><rect x="822.92" y="1737.20" width="12.36" height="25.24" fill="#0a0505"/><rect x="822.92" y="1762.74" width="12.36" height="25.24" fill="#125c34"/><rect x="822.92" y="1788.28" width="12.36" height="25.24" fill="#125c34"/><rect x="822.92" y="1813.82" width="12.36" height="25.24" fill="#125c34"/><rect x="835.72" y="1609.50" width="12.36" height="25.24" fill="#560a10"/><rect x="835.72" y="1635.04" width="12.36" height="25.24" fill="#76141c"/><rect x="835.72" y="1660.58" width="12.36" height="25.24" fill="#c51a22"/><rect x="835.72" y="1686.12" width="12.36" height="25.24" fill="#114828"/><rect x="835.72" y="1711.66" width="12.36" height="25.24" fill="#114828"/><rect x="835.72" y="1737.20" width="12.36" height="25.24" fill="#114828"/><rect x="835.72" y="1762.74" width="12.36" height="25.24" fill="#114828"/><rect x="835.72" y="1788.28" width="12.36" height="25.24" fill="#114828"/><rect x="835.72" y="1813.82" width="12.36" height="25.24" fill="#114828"/><rect x="848.52" y="1609.50" width="12.36" height="25.24" fill="#76141c"/><rect x="848.52" y="1635.04" width="12.36" height="25.24" fill="#961b22"/><rect x="848.52" y="1660.58" width="12.36" height="25.24" fill="#114828"/><rect x="848.52" y="1686.12" width="12.36" height="25.24" fill="#2c0809"/><rect x="848.52" y="1711.66" width="12.36" height="25.24" fill="#0a0505"/><rect x="848.52" y="1737.20" width="12.36" height="25.24" fill="#0a0505"/><rect x="848.52" y="1762.74" width="12.36" height="25.24" fill="#125c34"/><rect x="848.52" y="1788.28" width="12.36" height="25.24" fill="#125c34"/><rect x="848.52" y="1813.82" width="12.36" height="25.24" fill="#125c34"/><rect x="861.33" y="1609.50" width="12.36" height="25.24" fill="#560a10"/><rect x="861.33" y="1635.04" width="12.36" height="25.24" fill="#c51a22"/><rect x="861.33" y="1660.58" width="12.36" height="25.24" fill="#0a0505"/><rect x="861.33" y="1686.12" width="12.36" height="25.24" fill="#2c0809"/><rect x="861.33" y="1711.66" width="12.36" height="25.24" fill="#0a0505"/><rect x="861.33" y="1737.20" width="12.36" height="25.24" fill="#0a0505"/><rect x="861.33" y="1762.74" width="12.36" height="25.24" fill="#125c34"/><rect x="861.33" y="1788.28" width="12.36" height="25.24" fill="#125c34"/><rect x="861.33" y="1813.82" width="12.36" height="25.24" fill="#125c34"/><rect x="874.13" y="1609.50" width="12.36" height="25.24" fill="#76141c"/><rect x="874.13" y="1635.04" width="12.36" height="25.24" fill="#c51a22"/><rect x="874.13" y="1660.58" width="12.36" height="25.24" fill="#2c0809"/><rect x="874.13" y="1686.12" width="12.36" height="25.24" fill="#0c2511"/><rect x="874.13" y="1711.66" width="12.36" height="25.24" fill="#0a0505"/><rect x="874.13" y="1737.20" width="12.36" height="25.24" fill="#0c2511"/><rect x="874.13" y="1762.74" width="12.36" height="25.24" fill="#125c34"/><rect x="874.13" y="1788.28" width="12.36" height="25.24" fill="#125c34"/><rect x="874.13" y="1813.82" width="12.36" height="25.24" fill="#125c34"/><rect x="886.94" y="1609.50" width="12.36" height="25.24" fill="#0a0505"/><rect x="886.94" y="1635.04" width="12.36" height="25.24" fill="#560a10"/><rect x="886.94" y="1660.58" width="12.36" height="25.24" fill="#961b22"/><rect x="886.94" y="1686.12" width="12.36" height="25.24" fill="#560a10"/><rect x="886.94" y="1711.66" width="12.36" height="25.24" fill="#0a0505"/><rect x="886.94" y="1737.20" width="12.36" height="25.24" fill="#76141c"/><rect x="886.94" y="1762.74" width="12.36" height="25.24" fill="#13703a"/><rect x="886.94" y="1788.28" width="12.36" height="25.24" fill="#13703a"/><rect x="886.94" y="1813.82" width="12.36" height="25.24" fill="#13703a"/><rect x="899.75" y="1609.50" width="12.36" height="25.24" fill="#2c0809"/><rect x="899.75" y="1635.04" width="12.36" height="25.24" fill="#2c0809"/><rect x="899.75" y="1660.58" width="12.36" height="25.24" fill="#961b22"/><rect x="899.75" y="1686.12" width="12.36" height="25.24" fill="#0a0505"/><rect x="899.75" y="1711.66" width="12.36" height="25.24" fill="#0a0505"/><rect x="899.75" y="1737.20" width="12.36" height="25.24" fill="#560a10"/><rect x="899.75" y="1762.74" width="12.36" height="25.24" fill="#16843f"/><rect x="899.75" y="1788.28" width="12.36" height="25.24" fill="#16843f"/><rect x="899.75" y="1813.82" width="12.36" height="25.24" fill="#16843f"/><rect x="912.55" y="1609.50" width="12.36" height="25.24" fill="#560a10"/><rect x="912.55" y="1635.04" width="12.36" height="25.24" fill="#2c0809"/><rect x="912.55" y="1660.58" width="12.36" height="25.24" fill="#560a10"/><rect x="912.55" y="1686.12" width="12.36" height="25.24" fill="#560a10"/><rect x="912.55" y="1711.66" width="12.36" height="25.24" fill="#560a10"/><rect x="912.55" y="1737.20" width="12.36" height="25.24" fill="#560a10"/><rect x="912.55" y="1762.74" width="12.36" height="25.24" fill="#16843f"/><rect x="912.55" y="1788.28" width="12.36" height="25.24" fill="#16843f"/><rect x="912.55" y="1813.82" width="12.36" height="25.24" fill="#16843f"/><rect x="925.36" y="1609.50" width="12.36" height="25.24" fill="#560a10"/><rect x="925.36" y="1635.04" width="12.36" height="25.24" fill="#2c0809"/><rect x="925.36" y="1660.58" width="12.36" height="25.24" fill="#560a10"/><rect x="925.36" y="1686.12" width="12.36" height="25.24" fill="#560a10"/><rect x="925.36" y="1711.66" width="12.36" height="25.24" fill="#2c0809"/><rect x="925.36" y="1737.20" width="12.36" height="25.24" fill="#2c0809"/><rect x="925.36" y="1762.74" width="12.36" height="25.24" fill="#16843f"/><rect x="925.36" y="1788.28" width="12.36" height="25.24" fill="#16843f"/><rect x="925.36" y="1813.82" width="12.36" height="25.24" fill="#16843f"/><rect x="938.16" y="1609.50" width="12.36" height="25.24" fill="#560a10"/><rect x="938.16" y="1635.04" width="12.36" height="25.24" fill="#560a10"/><rect x="938.16" y="1660.58" width="12.36" height="25.24" fill="#560a10"/><rect x="938.16" y="1686.12" width="12.36" height="25.24" fill="#560a10"/><rect x="938.16" y="1711.66" width="12.36" height="25.24" fill="#560a10"/><rect x="938.16" y="1737.20" width="12.36" height="25.24" fill="#0c2511"/><rect x="938.16" y="1762.74" width="12.36" height="25.24" fill="#13703a"/><rect x="938.16" y="1788.28" width="12.36" height="25.24" fill="#16843f"/><rect x="938.16" y="1813.82" width="12.36" height="25.24" fill="#16843f"/><rect x="950.97" y="1609.50" width="12.36" height="25.24" fill="#2c0809"/><rect x="950.97" y="1635.04" width="12.36" height="25.24" fill="#76141c"/><rect x="950.97" y="1660.58" width="12.36" height="25.24" fill="#76141c"/><rect x="950.97" y="1686.12" width="12.36" height="25.24" fill="#2c0809"/><rect x="950.97" y="1711.66" width="12.36" height="25.24" fill="#2c0809"/><rect x="950.97" y="1737.20" width="12.36" height="25.24" fill="#0a0505"/><rect x="950.97" y="1762.74" width="12.36" height="25.24" fill="#13703a"/><rect x="950.97" y="1788.28" width="12.36" height="25.24" fill="#16843f"/><rect x="950.97" y="1813.82" width="12.36" height="25.24" fill="#13703a"/><rect x="963.77" y="1609.50" width="12.36" height="25.24" fill="#560a10"/><rect x="963.77" y="1635.04" width="12.36" height="25.24" fill="#76141c"/><rect x="963.77" y="1660.58" width="12.36" height="25.24" fill="#2c0809"/><rect x="963.77" y="1686.12" width="12.36" height="25.24" fill="#560a10"/><rect x="963.77" y="1711.66" width="12.36" height="25.24" fill="#2c0809"/><rect x="963.77" y="1737.20" width="12.36" height="25.24" fill="#0a0505"/><rect x="963.77" y="1762.74" width="12.36" height="25.24" fill="#16843f"/><rect x="963.77" y="1788.28" width="12.36" height="25.24" fill="#16843f"/><rect x="963.77" y="1813.82" width="12.36" height="25.24" fill="#16843f"/><rect x="976.58" y="1609.50" width="12.36" height="25.24" fill="#2c0809"/><rect x="976.58" y="1635.04" width="12.36" height="25.24" fill="#560a10"/><rect x="976.58" y="1660.58" width="12.36" height="25.24" fill="#560a10"/><rect x="976.58" y="1686.12" width="12.36" height="25.24" fill="#560a10"/><rect x="976.58" y="1711.66" width="12.36" height="25.24" fill="#2c0809"/><rect x="976.58" y="1737.20" width="12.36" height="25.24" fill="#560a10"/><rect x="976.58" y="1762.74" width="12.36" height="25.24" fill="#16843f"/><rect x="976.58" y="1788.28" width="12.36" height="25.24" fill="#16843f"/><rect x="976.58" y="1813.82" width="12.36" height="25.24" fill="#16843f"/><rect x="989.38" y="1609.50" width="12.36" height="25.24" fill="#2c0809"/><rect x="989.38" y="1635.04" width="12.36" height="25.24" fill="#560a10"/><rect x="989.38" y="1660.58" width="12.36" height="25.24" fill="#560a10"/><rect x="989.38" y="1686.12" width="12.36" height="25.24" fill="#560a10"/><rect x="989.38" y="1711.66" width="12.36" height="25.24" fill="#560a10"/><rect x="989.38" y="1737.20" width="12.36" height="25.24" fill="#0a0505"/><rect x="989.38" y="1762.74" width="12.36" height="25.24" fill="#16843f"/><rect x="989.38" y="1788.28" width="12.36" height="25.24" fill="#16843f"/><rect x="989.38" y="1813.82" width="12.36" height="25.24" fill="#16843f"/><rect x="1002.19" y="1609.50" width="12.36" height="25.24" fill="#0a0505"/><rect x="1002.19" y="1635.04" width="12.36" height="25.24" fill="#0a0505"/><rect x="1002.19" y="1660.58" width="12.36" height="25.24" fill="#0c2511"/><rect x="1002.19" y="1686.12" width="12.36" height="25.24" fill="#2c0809"/><rect x="1002.19" y="1711.66" width="12.36" height="25.24" fill="#e4161a"/><rect x="1002.19" y="1737.20" width="12.36" height="25.24" fill="#2c0809"/><rect x="1002.19" y="1762.74" width="12.36" height="25.24" fill="#125c34"/><rect x="1002.19" y="1788.28" width="12.36" height="25.24" fill="#125c34"/><rect x="1002.19" y="1813.82" width="12.36" height="25.24" fill="#125c34"/><rect x="1014.99" y="1609.50" width="12.36" height="25.24" fill="#0c2511"/><rect x="1014.99" y="1635.04" width="12.36" height="25.24" fill="#0c2511"/><rect x="1014.99" y="1660.58" width="12.36" height="25.24" fill="#0c2511"/><rect x="1014.99" y="1686.12" width="12.36" height="25.24" fill="#2c0809"/><rect x="1014.99" y="1711.66" width="12.36" height="25.24" fill="#e4161a"/><rect x="1014.99" y="1737.20" width="12.36" height="25.24" fill="#2c0809"/><rect x="1014.99" y="1762.74" width="12.36" height="25.24" fill="#0c2511"/><rect x="1014.99" y="1788.28" width="12.36" height="25.24" fill="#125c34"/><rect x="1014.99" y="1813.82" width="12.36" height="25.24" fill="#125c34"/><rect x="1027.80" y="1609.50" width="12.36" height="25.24" fill="#0a0505"/><rect x="1027.80" y="1635.04" width="12.36" height="25.24" fill="#123a20"/><rect x="1027.80" y="1660.58" width="12.36" height="25.24" fill="#0c2511"/><rect x="1027.80" y="1686.12" width="12.36" height="25.24" fill="#c51a22"/><rect x="1027.80" y="1711.66" width="12.36" height="25.24" fill="#76141c"/><rect x="1027.80" y="1737.20" width="12.36" height="25.24" fill="#0a0505"/><rect x="1027.80" y="1762.74" width="12.36" height="25.24" fill="#16843f"/><rect x="1027.80" y="1788.28" width="12.36" height="25.24" fill="#13703a"/><rect x="1027.80" y="1813.82" width="12.36" height="25.24" fill="#2c0809"/><rect x="1040.60" y="1609.50" width="12.36" height="25.24" fill="#0c2511"/><rect x="1040.60" y="1635.04" width="12.36" height="25.24" fill="#2c0809"/><rect x="1040.60" y="1660.58" width="12.36" height="25.24" fill="#0a0505"/><rect x="1040.60" y="1686.12" width="12.36" height="25.24" fill="#c51a22"/><rect x="1040.60" y="1711.66" width="12.36" height="25.24" fill="#76141c"/><rect x="1040.60" y="1737.20" width="12.36" height="25.24" fill="#0a0505"/><rect x="1040.60" y="1762.74" width="12.36" height="25.24" fill="#125c34"/><rect x="1040.60" y="1788.28" width="12.36" height="25.24" fill="#13703a"/><rect x="1040.60" y="1813.82" width="12.36" height="25.24" fill="#13703a"/><rect x="1053.40" y="1609.50" width="12.36" height="25.24" fill="#123a20"/><rect x="1053.40" y="1635.04" width="12.36" height="25.24" fill="#0c2511"/><rect x="1053.40" y="1660.58" width="12.36" height="25.24" fill="#0a0505"/><rect x="1053.40" y="1686.12" width="12.36" height="25.24" fill="#961b22"/><rect x="1053.40" y="1711.66" width="12.36" height="25.24" fill="#961b22"/><rect x="1053.40" y="1737.20" width="12.36" height="25.24" fill="#560a10"/><rect x="1053.40" y="1762.74" width="12.36" height="25.24" fill="#13703a"/><rect x="1053.40" y="1788.28" width="12.36" height="25.24" fill="#13703a"/><rect x="1053.40" y="1813.82" width="12.36" height="25.24" fill="#13703a"/><rect x="1066.21" y="1609.50" width="12.36" height="25.24" fill="#0a0505"/><rect x="1066.21" y="1635.04" width="12.36" height="25.24" fill="#0a0505"/><rect x="1066.21" y="1660.58" width="12.36" height="25.24" fill="#123a20"/><rect x="1066.21" y="1686.12" width="12.36" height="25.24" fill="#560a10"/><rect x="1066.21" y="1711.66" width="12.36" height="25.24" fill="#ae1c25"/><rect x="1066.21" y="1737.20" width="12.36" height="25.24" fill="#76141c"/><rect x="1066.21" y="1762.74" width="12.36" height="25.24" fill="#125c34"/><rect x="1066.21" y="1788.28" width="12.36" height="25.24" fill="#13703a"/><rect x="1066.21" y="1813.82" width="12.36" height="25.24" fill="#16843f"/><rect x="1079.02" y="1609.50" width="12.36" height="25.24" fill="#0a0505"/><rect x="1079.02" y="1635.04" width="12.36" height="25.24" fill="#0c2511"/><rect x="1079.02" y="1660.58" width="12.36" height="25.24" fill="#123a20"/><rect x="1079.02" y="1686.12" width="12.36" height="25.24" fill="#560a10"/><rect x="1079.02" y="1711.66" width="12.36" height="25.24" fill="#ae1c25"/><rect x="1079.02" y="1737.20" width="12.36" height="25.24" fill="#76141c"/><rect x="1079.02" y="1762.74" width="12.36" height="25.24" fill="#125c34"/><rect x="1079.02" y="1788.28" width="12.36" height="25.24" fill="#13703a"/><rect x="1079.02" y="1813.82" width="12.36" height="25.24" fill="#13703a"/><rect x="1091.82" y="1609.50" width="12.36" height="25.24" fill="#0c2511"/><rect x="1091.82" y="1635.04" width="12.36" height="25.24" fill="#0a0505"/><rect x="1091.82" y="1660.58" width="12.36" height="25.24" fill="#123a20"/><rect x="1091.82" y="1686.12" width="12.36" height="25.24" fill="#961b22"/><rect x="1091.82" y="1711.66" width="12.36" height="25.24" fill="#76141c"/><rect x="1091.82" y="1737.20" width="12.36" height="25.24" fill="#961b22"/><rect x="1091.82" y="1762.74" width="12.36" height="25.24" fill="#125c34"/><rect x="1091.82" y="1788.28" width="12.36" height="25.24" fill="#13703a"/><rect x="1091.82" y="1813.82" width="12.36" height="25.24" fill="#13703a"/><rect x="1104.62" y="1609.50" width="12.36" height="25.24" fill="#0c2511"/><rect x="1104.62" y="1635.04" width="12.36" height="25.24" fill="#0a0505"/><rect x="1104.62" y="1660.58" width="12.36" height="25.24" fill="#123a20"/><rect x="1104.62" y="1686.12" width="12.36" height="25.24" fill="#76141c"/><rect x="1104.62" y="1711.66" width="12.36" height="25.24" fill="#76141c"/><rect x="1104.62" y="1737.20" width="12.36" height="25.24" fill="#961b22"/><rect x="1104.62" y="1762.74" width="12.36" height="25.24" fill="#125c34"/><rect x="1104.62" y="1788.28" width="12.36" height="25.24" fill="#13703a"/><rect x="1104.62" y="1813.82" width="12.36" height="25.24" fill="#13703a"/><rect x="1117.43" y="1609.50" width="12.36" height="25.24" fill="#0c2511"/><rect x="1117.43" y="1635.04" width="12.36" height="25.24" fill="#0c2511"/><rect x="1117.43" y="1660.58" width="12.36" height="25.24" fill="#123a20"/><rect x="1117.43" y="1686.12" width="12.36" height="25.24" fill="#560a10"/><rect x="1117.43" y="1711.66" width="12.36" height="25.24" fill="#961b22"/><rect x="1117.43" y="1737.20" width="12.36" height="25.24" fill="#961b22"/><rect x="1117.43" y="1762.74" width="12.36" height="25.24" fill="#125c34"/><rect x="1117.43" y="1788.28" width="12.36" height="25.24" fill="#125c34"/><rect x="1117.43" y="1813.82" width="12.36" height="25.24" fill="#125c34"/><rect x="1130.24" y="1609.50" width="12.36" height="25.24" fill="#123a20"/><rect x="1130.24" y="1635.04" width="12.36" height="25.24" fill="#0c2511"/><rect x="1130.24" y="1660.58" width="12.36" height="25.24" fill="#123a20"/><rect x="1130.24" y="1686.12" width="12.36" height="25.24" fill="#76141c"/><rect x="1130.24" y="1711.66" width="12.36" height="25.24" fill="#961b22"/><rect x="1130.24" y="1737.20" width="12.36" height="25.24" fill="#961b22"/><rect x="1130.24" y="1762.74" width="12.36" height="25.24" fill="#125c34"/><rect x="1130.24" y="1788.28" width="12.36" height="25.24" fill="#125c34"/><rect x="1130.24" y="1813.82" width="12.36" height="25.24" fill="#125c34"/><rect x="1143.04" y="1609.50" width="12.36" height="25.24" fill="#123a20"/><rect x="1143.04" y="1635.04" width="12.36" height="25.24" fill="#0c2511"/><rect x="1143.04" y="1660.58" width="12.36" height="25.24" fill="#0c2511"/><rect x="1143.04" y="1686.12" width="12.36" height="25.24" fill="#76141c"/><rect x="1143.04" y="1711.66" width="12.36" height="25.24" fill="#961b22"/><rect x="1143.04" y="1737.20" width="12.36" height="25.24" fill="#961b22"/><rect x="1143.04" y="1762.74" width="12.36" height="25.24" fill="#125c34"/><rect x="1143.04" y="1788.28" width="12.36" height="25.24" fill="#125c34"/><rect x="1143.04" y="1813.82" width="12.36" height="25.24" fill="#125c34"/><rect x="1155.85" y="1609.50" width="12.36" height="25.24" fill="#0c2511"/><rect x="1155.85" y="1635.04" width="12.36" height="25.24" fill="#0c2511"/><rect x="1155.85" y="1660.58" width="12.36" height="25.24" fill="#0c2511"/><rect x="1155.85" y="1686.12" width="12.36" height="25.24" fill="#961b22"/><rect x="1155.85" y="1711.66" width="12.36" height="25.24" fill="#560a10"/><rect x="1155.85" y="1737.20" width="12.36" height="25.24" fill="#961b22"/><rect x="1155.85" y="1762.74" width="12.36" height="25.24" fill="#125c34"/><rect x="1155.85" y="1788.28" width="12.36" height="25.24" fill="#125c34"/><rect x="1155.85" y="1813.82" width="12.36" height="25.24" fill="#125c34"/><rect x="1168.65" y="1609.50" width="12.36" height="25.24" fill="#0c2511"/><rect x="1168.65" y="1635.04" width="12.36" height="25.24" fill="#0c2511"/><rect x="1168.65" y="1660.58" width="12.36" height="25.24" fill="#0a0505"/><rect x="1168.65" y="1686.12" width="12.36" height="25.24" fill="#961b22"/><rect x="1168.65" y="1711.66" width="12.36" height="25.24" fill="#560a10"/><rect x="1168.65" y="1737.20" width="12.36" height="25.24" fill="#76141c"/><rect x="1168.65" y="1762.74" width="12.36" height="25.24" fill="#125c34"/><rect x="1168.65" y="1788.28" width="12.36" height="25.24" fill="#125c34"/><rect x="1168.65" y="1813.82" width="12.36" height="25.24" fill="#125c34"/><rect x="1181.45" y="1609.50" width="12.36" height="25.24" fill="#123a20"/><rect x="1181.45" y="1635.04" width="12.36" height="25.24" fill="#0c2511"/><rect x="1181.45" y="1660.58" width="12.36" height="25.24" fill="#123a20"/><rect x="1181.45" y="1686.12" width="12.36" height="25.24" fill="#76141c"/><rect x="1181.45" y="1711.66" width="12.36" height="25.24" fill="#560a10"/><rect x="1181.45" y="1737.20" width="12.36" height="25.24" fill="#ae1c25"/><rect x="1181.45" y="1762.74" width="12.36" height="25.24" fill="#125c34"/><rect x="1181.45" y="1788.28" width="12.36" height="25.24" fill="#125c34"/><rect x="1181.45" y="1813.82" width="12.36" height="25.24" fill="#125c34"/><rect x="1194.26" y="1609.50" width="12.36" height="25.24" fill="#0c2511"/><rect x="1194.26" y="1635.04" width="12.36" height="25.24" fill="#0a0505"/><rect x="1194.26" y="1660.58" width="12.36" height="25.24" fill="#0c2511"/><rect x="1194.26" y="1686.12" width="12.36" height="25.24" fill="#560a10"/><rect x="1194.26" y="1711.66" width="12.36" height="25.24" fill="#560a10"/><rect x="1194.26" y="1737.20" width="12.36" height="25.24" fill="#ae1c25"/><rect x="1194.26" y="1762.74" width="12.36" height="25.24" fill="#125c34"/><rect x="1194.26" y="1788.28" width="12.36" height="25.24" fill="#125c34"/><rect x="1194.26" y="1813.82" width="12.36" height="25.24" fill="#125c34"/><rect x="1207.07" y="1609.50" width="12.36" height="25.24" fill="#2c0809"/><rect x="1207.07" y="1635.04" width="12.36" height="25.24" fill="#2c0809"/><rect x="1207.07" y="1660.58" width="12.36" height="25.24" fill="#13703a"/><rect x="1207.07" y="1686.12" width="12.36" height="25.24" fill="#76141c"/><rect x="1207.07" y="1711.66" width="12.36" height="25.24" fill="#76141c"/><rect x="1207.07" y="1737.20" width="12.36" height="25.24" fill="#2c0809"/><rect x="1207.07" y="1762.74" width="12.36" height="25.24" fill="#125c34"/><rect x="1207.07" y="1788.28" width="12.36" height="25.24" fill="#125c34"/><rect x="1207.07" y="1813.82" width="12.36" height="25.24" fill="#125c34"/><rect x="1219.87" y="1609.50" width="12.36" height="25.24" fill="#0a0505"/><rect x="1219.87" y="1635.04" width="12.36" height="25.24" fill="#0a0505"/><rect x="1219.87" y="1660.58" width="12.36" height="25.24" fill="#125c34"/><rect x="1219.87" y="1686.12" width="12.36" height="25.24" fill="#961b22"/><rect x="1219.87" y="1711.66" width="12.36" height="25.24" fill="#560a10"/><rect x="1219.87" y="1737.20" width="12.36" height="25.24" fill="#76141c"/><rect x="1219.87" y="1762.74" width="12.36" height="25.24" fill="#125c34"/><rect x="1219.87" y="1788.28" width="12.36" height="25.24" fill="#125c34"/><rect x="1219.87" y="1813.82" width="12.36" height="25.24" fill="#125c34"/><rect x="1232.67" y="1609.50" width="12.36" height="25.24" fill="#2c0809"/><rect x="1232.67" y="1635.04" width="12.36" height="25.24" fill="#2c0809"/><rect x="1232.67" y="1660.58" width="12.36" height="25.24" fill="#125c34"/><rect x="1232.67" y="1686.12" width="12.36" height="25.24" fill="#961b22"/><rect x="1232.67" y="1711.66" width="12.36" height="25.24" fill="#2c0809"/><rect x="1232.67" y="1737.20" width="12.36" height="25.24" fill="#76141c"/><rect x="1232.67" y="1762.74" width="12.36" height="25.24" fill="#125c34"/><rect x="1232.67" y="1788.28" width="12.36" height="25.24" fill="#125c34"/><rect x="1232.67" y="1813.82" width="12.36" height="25.24" fill="#125c34"/><rect x="1245.48" y="1609.50" width="12.36" height="25.24" fill="#2c0809"/><rect x="1245.48" y="1635.04" width="12.36" height="25.24" fill="#560a10"/><rect x="1245.48" y="1660.58" width="12.36" height="25.24" fill="#0a0505"/><rect x="1245.48" y="1686.12" width="12.36" height="25.24" fill="#560a10"/><rect x="1245.48" y="1711.66" width="12.36" height="25.24" fill="#560a10"/><rect x="1245.48" y="1737.20" width="12.36" height="25.24" fill="#76141c"/><rect x="1245.48" y="1762.74" width="12.36" height="25.24" fill="#13703a"/><rect x="1245.48" y="1788.28" width="12.36" height="25.24" fill="#13703a"/><rect x="1245.48" y="1813.82" width="12.36" height="25.24" fill="#16843f"/><rect x="1258.29" y="1609.50" width="12.36" height="25.24" fill="#0a0505"/><rect x="1258.29" y="1635.04" width="12.36" height="25.24" fill="#2c0809"/><rect x="1258.29" y="1660.58" width="12.36" height="25.24" fill="#0c2511"/><rect x="1258.29" y="1686.12" width="12.36" height="25.24" fill="#76141c"/><rect x="1258.29" y="1711.66" width="12.36" height="25.24" fill="#76141c"/><rect x="1258.29" y="1737.20" width="12.36" height="25.24" fill="#76141c"/><rect x="1258.29" y="1762.74" width="12.36" height="25.24" fill="#125c34"/><rect x="1258.29" y="1788.28" width="12.36" height="25.24" fill="#27983f"/><rect x="1258.29" y="1813.82" width="12.36" height="25.24" fill="#125c34"/><rect x="1271.09" y="1609.50" width="12.36" height="25.24" fill="#0a0505"/><rect x="1271.09" y="1635.04" width="12.36" height="25.24" fill="#2c0809"/><rect x="1271.09" y="1660.58" width="12.36" height="25.24" fill="#0c2511"/><rect x="1271.09" y="1686.12" width="12.36" height="25.24" fill="#76141c"/><rect x="1271.09" y="1711.66" width="12.36" height="25.24" fill="#76141c"/><rect x="1271.09" y="1737.20" width="12.36" height="25.24" fill="#76141c"/><rect x="1271.09" y="1762.74" width="12.36" height="25.24" fill="#16843f"/><rect x="1271.09" y="1788.28" width="12.36" height="25.24" fill="#16843f"/><rect x="1271.09" y="1813.82" width="12.36" height="25.24" fill="#13703a"/><rect x="1283.89" y="1609.50" width="12.36" height="25.24" fill="#0a0505"/><rect x="1283.89" y="1635.04" width="12.36" height="25.24" fill="#2c0809"/><rect x="1283.89" y="1660.58" width="12.36" height="25.24" fill="#0a0505"/><rect x="1283.89" y="1686.12" width="12.36" height="25.24" fill="#76141c"/><rect x="1283.89" y="1711.66" width="12.36" height="25.24" fill="#560a10"/><rect x="1283.89" y="1737.20" width="12.36" height="25.24" fill="#76141c"/><rect x="1283.89" y="1762.74" width="12.36" height="25.24" fill="#16843f"/><rect x="1283.89" y="1788.28" width="12.36" height="25.24" fill="#16843f"/><rect x="1283.89" y="1813.82" width="12.36" height="25.24" fill="#16843f"/><rect x="1296.70" y="1609.50" width="12.36" height="25.24" fill="#2c0809"/><rect x="1296.70" y="1635.04" width="12.36" height="25.24" fill="#0a0505"/><rect x="1296.70" y="1660.58" width="12.36" height="25.24" fill="#0a0505"/><rect x="1296.70" y="1686.12" width="12.36" height="25.24" fill="#560a10"/><rect x="1296.70" y="1711.66" width="12.36" height="25.24" fill="#76141c"/><rect x="1296.70" y="1737.20" width="12.36" height="25.24" fill="#76141c"/><rect x="1296.70" y="1762.74" width="12.36" height="25.24" fill="#16843f"/><rect x="1296.70" y="1788.28" width="12.36" height="25.24" fill="#16843f"/><rect x="1296.70" y="1813.82" width="12.36" height="25.24" fill="#13703a"/><rect x="1309.51" y="1609.50" width="12.36" height="25.24" fill="#0a0505"/><rect x="1309.51" y="1635.04" width="12.36" height="25.24" fill="#2c0809"/><rect x="1309.51" y="1660.58" width="12.36" height="25.24" fill="#0a0505"/><rect x="1309.51" y="1686.12" width="12.36" height="25.24" fill="#560a10"/><rect x="1309.51" y="1711.66" width="12.36" height="25.24" fill="#76141c"/><rect x="1309.51" y="1737.20" width="12.36" height="25.24" fill="#76141c"/><rect x="1309.51" y="1762.74" width="12.36" height="25.24" fill="#16843f"/><rect x="1309.51" y="1788.28" width="12.36" height="25.24" fill="#16843f"/><rect x="1309.51" y="1813.82" width="12.36" height="25.24" fill="#16843f"/><rect x="1322.31" y="1609.50" width="12.36" height="25.24" fill="#0a0505"/><rect x="1322.31" y="1635.04" width="12.36" height="25.24" fill="#2c0809"/><rect x="1322.31" y="1660.58" width="12.36" height="25.24" fill="#0a0505"/><rect x="1322.31" y="1686.12" width="12.36" height="25.24" fill="#560a10"/><rect x="1322.31" y="1711.66" width="12.36" height="25.24" fill="#76141c"/><rect x="1322.31" y="1737.20" width="12.36" height="25.24" fill="#76141c"/><rect x="1322.31" y="1762.74" width="12.36" height="25.24" fill="#16843f"/><rect x="1322.31" y="1788.28" width="12.36" height="25.24" fill="#16843f"/><rect x="1322.31" y="1813.82" width="12.36" height="25.24" fill="#16843f"/><rect x="1335.12" y="1609.50" width="12.36" height="25.24" fill="#13703a"/><rect x="1335.12" y="1635.04" width="12.36" height="25.24" fill="#125c34"/><rect x="1335.12" y="1660.58" width="12.36" height="25.24" fill="#125c34"/><rect x="1335.12" y="1686.12" width="12.36" height="25.24" fill="#961b22"/><rect x="1335.12" y="1711.66" width="12.36" height="25.24" fill="#76141c"/><rect x="1335.12" y="1737.20" width="12.36" height="25.24" fill="#560a10"/><rect x="1335.12" y="1762.74" width="12.36" height="25.24" fill="#0c2511"/><rect x="1335.12" y="1788.28" width="12.36" height="25.24" fill="#114828"/><rect x="1335.12" y="1813.82" width="12.36" height="25.24" fill="#2c0809"/><rect x="1347.92" y="1609.50" width="12.36" height="25.24" fill="#123a20"/><rect x="1347.92" y="1635.04" width="12.36" height="25.24" fill="#114828"/><rect x="1347.92" y="1660.58" width="12.36" height="25.24" fill="#125c34"/><rect x="1347.92" y="1686.12" width="12.36" height="25.24" fill="#961b22"/><rect x="1347.92" y="1711.66" width="12.36" height="25.24" fill="#2c0809"/><rect x="1347.92" y="1737.20" width="12.36" height="25.24" fill="#961b22"/><rect x="1347.92" y="1762.74" width="12.36" height="25.24" fill="#123a20"/><rect x="1347.92" y="1788.28" width="12.36" height="25.24" fill="#125c34"/><rect x="1347.92" y="1813.82" width="12.36" height="25.24" fill="#0c2511"/><rect x="1360.72" y="1609.50" width="12.36" height="25.24" fill="#114828"/><rect x="1360.72" y="1635.04" width="12.36" height="25.24" fill="#114828"/><rect x="1360.72" y="1660.58" width="12.36" height="25.24" fill="#125c34"/><rect x="1360.72" y="1686.12" width="12.36" height="25.24" fill="#560a10"/><rect x="1360.72" y="1711.66" width="12.36" height="25.24" fill="#961b22"/><rect x="1360.72" y="1737.20" width="12.36" height="25.24" fill="#76141c"/><rect x="1360.72" y="1762.74" width="12.36" height="25.24" fill="#560a10"/><rect x="1360.72" y="1788.28" width="12.36" height="25.24" fill="#125c34"/><rect x="1360.72" y="1813.82" width="12.36" height="25.24" fill="#125c34"/><rect x="1373.53" y="1609.50" width="12.36" height="25.24" fill="#0a0505"/><rect x="1373.53" y="1635.04" width="12.36" height="25.24" fill="#114828"/><rect x="1373.53" y="1660.58" width="12.36" height="25.24" fill="#123a20"/><rect x="1373.53" y="1686.12" width="12.36" height="25.24" fill="#76141c"/><rect x="1373.53" y="1711.66" width="12.36" height="25.24" fill="#ae1c25"/><rect x="1373.53" y="1737.20" width="12.36" height="25.24" fill="#560a10"/><rect x="1373.53" y="1762.74" width="12.36" height="25.24" fill="#0c2511"/><rect x="1373.53" y="1788.28" width="12.36" height="25.24" fill="#13703a"/><rect x="1373.53" y="1813.82" width="12.36" height="25.24" fill="#13703a"/><rect x="1386.34" y="1609.50" width="12.36" height="25.24" fill="#125c34"/><rect x="1386.34" y="1635.04" width="12.36" height="25.24" fill="#114828"/><rect x="1386.34" y="1660.58" width="12.36" height="25.24" fill="#114828"/><rect x="1386.34" y="1686.12" width="12.36" height="25.24" fill="#961b22"/><rect x="1386.34" y="1711.66" width="12.36" height="25.24" fill="#961b22"/><rect x="1386.34" y="1737.20" width="12.36" height="25.24" fill="#560a10"/><rect x="1386.34" y="1762.74" width="12.36" height="25.24" fill="#123a20"/><rect x="1386.34" y="1788.28" width="12.36" height="25.24" fill="#0a0505"/><rect x="1386.34" y="1813.82" width="12.36" height="25.24" fill="#125c34"/><rect x="1399.14" y="1609.50" width="12.36" height="25.24" fill="#114828"/><rect x="1399.14" y="1635.04" width="12.36" height="25.24" fill="#114828"/><rect x="1399.14" y="1660.58" width="12.36" height="25.24" fill="#114828"/><rect x="1399.14" y="1686.12" width="12.36" height="25.24" fill="#961b22"/><rect x="1399.14" y="1711.66" width="12.36" height="25.24" fill="#961b22"/><rect x="1399.14" y="1737.20" width="12.36" height="25.24" fill="#560a10"/><rect x="1399.14" y="1762.74" width="12.36" height="25.24" fill="#114828"/><rect x="1399.14" y="1788.28" width="12.36" height="25.24" fill="#114828"/><rect x="1399.14" y="1813.82" width="12.36" height="25.24" fill="#114828"/><rect x="1411.94" y="1609.50" width="12.36" height="25.24" fill="#114828"/><rect x="1411.94" y="1635.04" width="12.36" height="25.24" fill="#114828"/><rect x="1411.94" y="1660.58" width="12.36" height="25.24" fill="#114828"/><rect x="1411.94" y="1686.12" width="12.36" height="25.24" fill="#961b22"/><rect x="1411.94" y="1711.66" width="12.36" height="25.24" fill="#961b22"/><rect x="1411.94" y="1737.20" width="12.36" height="25.24" fill="#560a10"/><rect x="1411.94" y="1762.74" width="12.36" height="25.24" fill="#114828"/><rect x="1411.94" y="1788.28" width="12.36" height="25.24" fill="#114828"/><rect x="1411.94" y="1813.82" width="12.36" height="25.24" fill="#114828"/><rect x="1424.75" y="1609.50" width="12.36" height="25.24" fill="#123a20"/><rect x="1424.75" y="1635.04" width="12.36" height="25.24" fill="#114828"/><rect x="1424.75" y="1660.58" width="12.36" height="25.24" fill="#114828"/><rect x="1424.75" y="1686.12" width="12.36" height="25.24" fill="#560a10"/><rect x="1424.75" y="1711.66" width="12.36" height="25.24" fill="#c51a22"/><rect x="1424.75" y="1737.20" width="12.36" height="25.24" fill="#560a10"/><rect x="1424.75" y="1762.74" width="12.36" height="25.24" fill="#114828"/><rect x="1424.75" y="1788.28" width="12.36" height="25.24" fill="#114828"/><rect x="1424.75" y="1813.82" width="12.36" height="25.24" fill="#114828"/><rect x="1437.56" y="1609.50" width="12.36" height="25.24" fill="#0c2511"/><rect x="1437.56" y="1635.04" width="12.36" height="25.24" fill="#114828"/><rect x="1437.56" y="1660.58" width="12.36" height="25.24" fill="#114828"/><rect x="1437.56" y="1686.12" width="12.36" height="25.24" fill="#560a10"/><rect x="1437.56" y="1711.66" width="12.36" height="25.24" fill="#e4161a"/><rect x="1437.56" y="1737.20" width="12.36" height="25.24" fill="#2c0809"/><rect x="1437.56" y="1762.74" width="12.36" height="25.24" fill="#114828"/><rect x="1437.56" y="1788.28" width="12.36" height="25.24" fill="#123a20"/><rect x="1437.56" y="1813.82" width="12.36" height="25.24" fill="#114828"/><rect x="1450.36" y="1609.50" width="12.36" height="25.24" fill="#114828"/><rect x="1450.36" y="1635.04" width="12.36" height="25.24" fill="#114828"/><rect x="1450.36" y="1660.58" width="12.36" height="25.24" fill="#114828"/><rect x="1450.36" y="1686.12" width="12.36" height="25.24" fill="#560a10"/><rect x="1450.36" y="1711.66" width="12.36" height="25.24" fill="#c51a22"/><rect x="1450.36" y="1737.20" width="12.36" height="25.24" fill="#76141c"/><rect x="1450.36" y="1762.74" width="12.36" height="25.24" fill="#114828"/><rect x="1450.36" y="1788.28" width="12.36" height="25.24" fill="#114828"/><rect x="1450.36" y="1813.82" width="12.36" height="25.24" fill="#0c2511"/><rect x="1463.16" y="1609.50" width="12.36" height="25.24" fill="#114828"/><rect x="1463.16" y="1635.04" width="12.36" height="25.24" fill="#114828"/><rect x="1463.16" y="1660.58" width="12.36" height="25.24" fill="#114828"/><rect x="1463.16" y="1686.12" width="12.36" height="25.24" fill="#560a10"/><rect x="1463.16" y="1711.66" width="12.36" height="25.24" fill="#c51a22"/><rect x="1463.16" y="1737.20" width="12.36" height="25.24" fill="#76141c"/><rect x="1463.16" y="1762.74" width="12.36" height="25.24" fill="#114828"/><rect x="1463.16" y="1788.28" width="12.36" height="25.24" fill="#114828"/><rect x="1463.16" y="1813.82" width="12.36" height="25.24" fill="#114828"/><rect x="1475.97" y="1609.50" width="12.36" height="25.24" fill="#123a20"/><rect x="1475.97" y="1635.04" width="12.36" height="25.24" fill="#123a20"/><rect x="1475.97" y="1660.58" width="12.36" height="25.24" fill="#114828"/><rect x="1475.97" y="1686.12" width="12.36" height="25.24" fill="#560a10"/><rect x="1475.97" y="1711.66" width="12.36" height="25.24" fill="#c51a22"/><rect x="1475.97" y="1737.20" width="12.36" height="25.24" fill="#76141c"/><rect x="1475.97" y="1762.74" width="12.36" height="25.24" fill="#114828"/><rect x="1475.97" y="1788.28" width="12.36" height="25.24" fill="#114828"/><rect x="1475.97" y="1813.82" width="12.36" height="25.24" fill="#114828"/><rect x="1488.78" y="1609.50" width="12.36" height="25.24" fill="#0c2511"/><rect x="1488.78" y="1635.04" width="12.36" height="25.24" fill="#0c2511"/><rect x="1488.78" y="1660.58" width="12.36" height="25.24" fill="#0a0505"/><rect x="1488.78" y="1686.12" width="12.36" height="25.24" fill="#2c0809"/><rect x="1488.78" y="1711.66" width="12.36" height="25.24" fill="#0a0505"/><rect x="1488.78" y="1737.20" width="12.36" height="25.24" fill="#c51a22"/><rect x="1488.78" y="1762.74" width="12.36" height="25.24" fill="#2ab53c"/><rect x="1488.78" y="1788.28" width="12.36" height="25.24" fill="#0c2511"/><rect x="1488.78" y="1813.82" width="12.36" height="25.24" fill="#0c2511"/><rect x="1501.58" y="1609.50" width="12.36" height="25.24" fill="#560a10"/><rect x="1501.58" y="1635.04" width="12.36" height="25.24" fill="#125c34"/><rect x="1501.58" y="1660.58" width="12.36" height="25.24" fill="#27983f"/><rect x="1501.58" y="1686.12" width="12.36" height="25.24" fill="#560a10"/><rect x="1501.58" y="1711.66" width="12.36" height="25.24" fill="#560a10"/><rect x="1501.58" y="1737.20" width="12.36" height="25.24" fill="#ae1c25"/><rect x="1501.58" y="1762.74" width="12.36" height="25.24" fill="#123a20"/><rect x="1501.58" y="1788.28" width="12.36" height="25.24" fill="#0c2511"/><rect x="1501.58" y="1813.82" width="12.36" height="25.24" fill="#114828"/><rect x="1514.38" y="1609.50" width="12.36" height="25.24" fill="#114828"/><rect x="1514.38" y="1635.04" width="12.36" height="25.24" fill="#114828"/><rect x="1514.38" y="1660.58" width="12.36" height="25.24" fill="#125c34"/><rect x="1514.38" y="1686.12" width="12.36" height="25.24" fill="#0a0505"/><rect x="1514.38" y="1711.66" width="12.36" height="25.24" fill="#76141c"/><rect x="1514.38" y="1737.20" width="12.36" height="25.24" fill="#c51a22"/><rect x="1514.38" y="1762.74" width="12.36" height="25.24" fill="#0c2511"/><rect x="1514.38" y="1788.28" width="12.36" height="25.24" fill="#123a20"/><rect x="1514.38" y="1813.82" width="12.36" height="25.24" fill="#114828"/><rect x="1527.19" y="1609.50" width="12.36" height="25.24" fill="#125c34"/><rect x="1527.19" y="1635.04" width="12.36" height="25.24" fill="#123a20"/><rect x="1527.19" y="1660.58" width="12.36" height="25.24" fill="#114828"/><rect x="1527.19" y="1686.12" width="12.36" height="25.24" fill="#2c0809"/><rect x="1527.19" y="1711.66" width="12.36" height="25.24" fill="#2c0809"/><rect x="1527.19" y="1737.20" width="12.36" height="25.24" fill="#e4161a"/><rect x="1527.19" y="1762.74" width="12.36" height="25.24" fill="#123a20"/><rect x="1527.19" y="1788.28" width="12.36" height="25.24" fill="#0c2511"/><rect x="1527.19" y="1813.82" width="12.36" height="25.24" fill="#125c34"/><rect x="1540.00" y="1609.50" width="12.36" height="25.24" fill="#114828"/><rect x="1540.00" y="1635.04" width="12.36" height="25.24" fill="#114828"/><rect x="1540.00" y="1660.58" width="12.36" height="25.24" fill="#114828"/><rect x="1540.00" y="1686.12" width="12.36" height="25.24" fill="#560a10"/><rect x="1540.00" y="1711.66" width="12.36" height="25.24" fill="#560a10"/><rect x="1540.00" y="1737.20" width="12.36" height="25.24" fill="#c51a22"/><rect x="1540.00" y="1762.74" width="12.36" height="25.24" fill="#114828"/><rect x="1540.00" y="1788.28" width="12.36" height="25.24" fill="#123a20"/><rect x="1540.00" y="1813.82" width="12.36" height="25.24" fill="#123a20"/><rect x="1552.80" y="1609.50" width="12.36" height="25.24" fill="#123a20"/><rect x="1552.80" y="1635.04" width="12.36" height="25.24" fill="#114828"/><rect x="1552.80" y="1660.58" width="12.36" height="25.24" fill="#114828"/><rect x="1552.80" y="1686.12" width="12.36" height="25.24" fill="#2c0809"/><rect x="1552.80" y="1711.66" width="12.36" height="25.24" fill="#76141c"/><rect x="1552.80" y="1737.20" width="12.36" height="25.24" fill="#ae1c25"/><rect x="1552.80" y="1762.74" width="12.36" height="25.24" fill="#123a20"/><rect x="1552.80" y="1788.28" width="12.36" height="25.24" fill="#114828"/><rect x="1552.80" y="1813.82" width="12.36" height="25.24" fill="#114828"/><rect x="1565.61" y="1609.50" width="12.36" height="25.24" fill="#114828"/><rect x="1565.61" y="1635.04" width="12.36" height="25.24" fill="#114828"/><rect x="1565.61" y="1660.58" width="12.36" height="25.24" fill="#114828"/><rect x="1565.61" y="1686.12" width="12.36" height="25.24" fill="#560a10"/><rect x="1565.61" y="1711.66" width="12.36" height="25.24" fill="#76141c"/><rect x="1565.61" y="1737.20" width="12.36" height="25.24" fill="#961b22"/><rect x="1565.61" y="1762.74" width="12.36" height="25.24" fill="#114828"/><rect x="1565.61" y="1788.28" width="12.36" height="25.24" fill="#0c2511"/><rect x="1565.61" y="1813.82" width="12.36" height="25.24" fill="#123a20"/><rect x="1578.41" y="1609.50" width="12.36" height="25.24" fill="#114828"/><rect x="1578.41" y="1635.04" width="12.36" height="25.24" fill="#114828"/><rect x="1578.41" y="1660.58" width="12.36" height="25.24" fill="#114828"/><rect x="1578.41" y="1686.12" width="12.36" height="25.24" fill="#2c0809"/><rect x="1578.41" y="1711.66" width="12.36" height="25.24" fill="#961b22"/><rect x="1578.41" y="1737.20" width="12.36" height="25.24" fill="#ae1c25"/><rect x="1578.41" y="1762.74" width="12.36" height="25.24" fill="#125c34"/><rect x="1578.41" y="1788.28" width="12.36" height="25.24" fill="#0c2511"/><rect x="1578.41" y="1813.82" width="12.36" height="25.24" fill="#0c2511"/><rect x="1591.21" y="1609.50" width="12.36" height="25.24" fill="#114828"/><rect x="1591.21" y="1635.04" width="12.36" height="25.24" fill="#114828"/><rect x="1591.21" y="1660.58" width="12.36" height="25.24" fill="#125c34"/><rect x="1591.21" y="1686.12" width="12.36" height="25.24" fill="#560a10"/><rect x="1591.21" y="1711.66" width="12.36" height="25.24" fill="#961b22"/><rect x="1591.21" y="1737.20" width="12.36" height="25.24" fill="#961b22"/><rect x="1591.21" y="1762.74" width="12.36" height="25.24" fill="#13703a"/><rect x="1591.21" y="1788.28" width="12.36" height="25.24" fill="#0c2511"/><rect x="1591.21" y="1813.82" width="12.36" height="25.24" fill="#0c2511"/><rect x="1604.02" y="1609.50" width="12.36" height="25.24" fill="#114828"/><rect x="1604.02" y="1635.04" width="12.36" height="25.24" fill="#114828"/><rect x="1604.02" y="1660.58" width="12.36" height="25.24" fill="#114828"/><rect x="1604.02" y="1686.12" width="12.36" height="25.24" fill="#2c0809"/><rect x="1604.02" y="1711.66" width="12.36" height="25.24" fill="#961b22"/><rect x="1604.02" y="1737.20" width="12.36" height="25.24" fill="#961b22"/><rect x="1604.02" y="1762.74" width="12.36" height="25.24" fill="#13703a"/><rect x="1604.02" y="1788.28" width="12.36" height="25.24" fill="#0c2511"/><rect x="1604.02" y="1813.82" width="12.36" height="25.24" fill="#0c2511"/><rect x="1616.83" y="1609.50" width="12.36" height="25.24" fill="#114828"/><rect x="1616.83" y="1635.04" width="12.36" height="25.24" fill="#114828"/><rect x="1616.83" y="1660.58" width="12.36" height="25.24" fill="#114828"/><rect x="1616.83" y="1686.12" width="12.36" height="25.24" fill="#961b22"/><rect x="1616.83" y="1711.66" width="12.36" height="25.24" fill="#76141c"/><rect x="1616.83" y="1737.20" width="12.36" height="25.24" fill="#76141c"/><rect x="1616.83" y="1762.74" width="12.36" height="25.24" fill="#114828"/><rect x="1616.83" y="1788.28" width="12.36" height="25.24" fill="#114828"/><rect x="1616.83" y="1813.82" width="12.36" height="25.24" fill="#114828"/><rect x="1629.63" y="1609.50" width="12.36" height="25.24" fill="#0c2511"/><rect x="1629.63" y="1635.04" width="12.36" height="25.24" fill="#123a20"/><rect x="1629.63" y="1660.58" width="12.36" height="25.24" fill="#123a20"/><rect x="1629.63" y="1686.12" width="12.36" height="25.24" fill="#961b22"/><rect x="1629.63" y="1711.66" width="12.36" height="25.24" fill="#76141c"/><rect x="1629.63" y="1737.20" width="12.36" height="25.24" fill="#76141c"/><rect x="1629.63" y="1762.74" width="12.36" height="25.24" fill="#125c34"/><rect x="1629.63" y="1788.28" width="12.36" height="25.24" fill="#125c34"/><rect x="1629.63" y="1813.82" width="12.36" height="25.24" fill="#125c34"/><rect x="1642.43" y="1609.50" width="12.36" height="25.24" fill="#123a20"/><rect x="1642.43" y="1635.04" width="12.36" height="25.24" fill="#123a20"/><rect x="1642.43" y="1660.58" width="12.36" height="25.24" fill="#114828"/><rect x="1642.43" y="1686.12" width="12.36" height="25.24" fill="#961b22"/><rect x="1642.43" y="1711.66" width="12.36" height="25.24" fill="#76141c"/><rect x="1642.43" y="1737.20" width="12.36" height="25.24" fill="#961b22"/><rect x="1642.43" y="1762.74" width="12.36" height="25.24" fill="#125c34"/><rect x="1642.43" y="1788.28" width="12.36" height="25.24" fill="#125c34"/><rect x="1642.43" y="1813.82" width="12.36" height="25.24" fill="#125c34"/><rect x="1655.24" y="1609.50" width="12.36" height="25.24" fill="#123a20"/><rect x="1655.24" y="1635.04" width="12.36" height="25.24" fill="#123a20"/><rect x="1655.24" y="1660.58" width="12.36" height="25.24" fill="#114828"/><rect x="1655.24" y="1686.12" width="12.36" height="25.24" fill="#961b22"/><rect x="1655.24" y="1711.66" width="12.36" height="25.24" fill="#76141c"/><rect x="1655.24" y="1737.20" width="12.36" height="25.24" fill="#961b22"/><rect x="1655.24" y="1762.74" width="12.36" height="25.24" fill="#125c34"/><rect x="1655.24" y="1788.28" width="12.36" height="25.24" fill="#125c34"/><rect x="1655.24" y="1813.82" width="12.36" height="25.24" fill="#125c34"/><rect x="1668.05" y="1609.50" width="12.36" height="25.24" fill="#114828"/><rect x="1668.05" y="1635.04" width="12.36" height="25.24" fill="#114828"/><rect x="1668.05" y="1660.58" width="12.36" height="25.24" fill="#114828"/><rect x="1668.05" y="1686.12" width="12.36" height="25.24" fill="#76141c"/><rect x="1668.05" y="1711.66" width="12.36" height="25.24" fill="#76141c"/><rect x="1668.05" y="1737.20" width="12.36" height="25.24" fill="#961b22"/><rect x="1668.05" y="1762.74" width="12.36" height="25.24" fill="#114828"/><rect x="1668.05" y="1788.28" width="12.36" height="25.24" fill="#125c34"/><rect x="1668.05" y="1813.82" width="12.36" height="25.24" fill="#114828"/><rect x="1680.85" y="1609.50" width="12.36" height="25.24" fill="#114828"/><rect x="1680.85" y="1635.04" width="12.36" height="25.24" fill="#114828"/><rect x="1680.85" y="1660.58" width="12.36" height="25.24" fill="#114828"/><rect x="1680.85" y="1686.12" width="12.36" height="25.24" fill="#76141c"/><rect x="1680.85" y="1711.66" width="12.36" height="25.24" fill="#76141c"/><rect x="1680.85" y="1737.20" width="12.36" height="25.24" fill="#961b22"/><rect x="1680.85" y="1762.74" width="12.36" height="25.24" fill="#114828"/><rect x="1680.85" y="1788.28" width="12.36" height="25.24" fill="#114828"/><rect x="1680.85" y="1813.82" width="12.36" height="25.24" fill="#114828"/><rect x="1693.65" y="1609.50" width="12.36" height="25.24" fill="#123a20"/><rect x="1693.65" y="1635.04" width="12.36" height="25.24" fill="#123a20"/><rect x="1693.65" y="1660.58" width="12.36" height="25.24" fill="#123a20"/><rect x="1693.65" y="1686.12" width="12.36" height="25.24" fill="#76141c"/><rect x="1693.65" y="1711.66" width="12.36" height="25.24" fill="#76141c"/><rect x="1693.65" y="1737.20" width="12.36" height="25.24" fill="#961b22"/><rect x="1693.65" y="1762.74" width="12.36" height="25.24" fill="#114828"/><rect x="1693.65" y="1788.28" width="12.36" height="25.24" fill="#114828"/><rect x="1693.65" y="1813.82" width="12.36" height="25.24" fill="#114828"/><rect x="1706.46" y="1609.50" width="12.36" height="25.24" fill="#114828"/><rect x="1706.46" y="1635.04" width="12.36" height="25.24" fill="#114828"/><rect x="1706.46" y="1660.58" width="12.36" height="25.24" fill="#114828"/><rect x="1706.46" y="1686.12" width="12.36" height="25.24" fill="#76141c"/><rect x="1706.46" y="1711.66" width="12.36" height="25.24" fill="#76141c"/><rect x="1706.46" y="1737.20" width="12.36" height="25.24" fill="#961b22"/><rect x="1706.46" y="1762.74" width="12.36" height="25.24" fill="#114828"/><rect x="1706.46" y="1788.28" width="12.36" height="25.24" fill="#114828"/><rect x="1706.46" y="1813.82" width="12.36" height="25.24" fill="#114828"/><rect x="1719.27" y="1609.50" width="12.36" height="25.24" fill="#114828"/><rect x="1719.27" y="1635.04" width="12.36" height="25.24" fill="#114828"/><rect x="1719.27" y="1660.58" width="12.36" height="25.24" fill="#114828"/><rect x="1719.27" y="1686.12" width="12.36" height="25.24" fill="#76141c"/><rect x="1719.27" y="1711.66" width="12.36" height="25.24" fill="#961b22"/><rect x="1719.27" y="1737.20" width="12.36" height="25.24" fill="#961b22"/><rect x="1719.27" y="1762.74" width="12.36" height="25.24" fill="#114828"/><rect x="1719.27" y="1788.28" width="12.36" height="25.24" fill="#114828"/><rect x="1719.27" y="1813.82" width="12.36" height="25.24" fill="#114828"/><rect x="1732.07" y="1609.50" width="12.36" height="25.24" fill="#114828"/><rect x="1732.07" y="1635.04" width="12.36" height="25.24" fill="#114828"/><rect x="1732.07" y="1660.58" width="12.36" height="25.24" fill="#125c34"/><rect x="1732.07" y="1686.12" width="12.36" height="25.24" fill="#76141c"/><rect x="1732.07" y="1711.66" width="12.36" height="25.24" fill="#961b22"/><rect x="1732.07" y="1737.20" width="12.36" height="25.24" fill="#961b22"/><rect x="1732.07" y="1762.74" width="12.36" height="25.24" fill="#114828"/><rect x="1732.07" y="1788.28" width="12.36" height="25.24" fill="#114828"/><rect x="1732.07" y="1813.82" width="12.36" height="25.24" fill="#123a20"/><rect x="1744.88" y="1609.50" width="12.36" height="25.24" fill="#114828"/><rect x="1744.88" y="1635.04" width="12.36" height="25.24" fill="#0c2511"/><rect x="1744.88" y="1660.58" width="12.36" height="25.24" fill="#125c34"/><rect x="1744.88" y="1686.12" width="12.36" height="25.24" fill="#560a10"/><rect x="1744.88" y="1711.66" width="12.36" height="25.24" fill="#961b22"/><rect x="1744.88" y="1737.20" width="12.36" height="25.24" fill="#961b22"/><rect x="1744.88" y="1762.74" width="12.36" height="25.24" fill="#123a20"/><rect x="1744.88" y="1788.28" width="12.36" height="25.24" fill="#125c34"/><rect x="1744.88" y="1813.82" width="12.36" height="25.24" fill="#114828"/><rect x="1757.68" y="1609.50" width="12.36" height="25.24" fill="#0c2511"/><rect x="1757.68" y="1635.04" width="12.36" height="25.24" fill="#114828"/><rect x="1757.68" y="1660.58" width="12.36" height="25.24" fill="#114828"/><rect x="1757.68" y="1686.12" width="12.36" height="25.24" fill="#76141c"/><rect x="1757.68" y="1711.66" width="12.36" height="25.24" fill="#961b22"/><rect x="1757.68" y="1737.20" width="12.36" height="25.24" fill="#961b22"/><rect x="1757.68" y="1762.74" width="12.36" height="25.24" fill="#123a20"/><rect x="1757.68" y="1788.28" width="12.36" height="25.24" fill="#125c34"/><rect x="1757.68" y="1813.82" width="12.36" height="25.24" fill="#114828"/><rect x="1770.48" y="1609.50" width="12.36" height="25.24" fill="#123a20"/><rect x="1770.48" y="1635.04" width="12.36" height="25.24" fill="#123a20"/><rect x="1770.48" y="1660.58" width="12.36" height="25.24" fill="#114828"/><rect x="1770.48" y="1686.12" width="12.36" height="25.24" fill="#76141c"/><rect x="1770.48" y="1711.66" width="12.36" height="25.24" fill="#961b22"/><rect x="1770.48" y="1737.20" width="12.36" height="25.24" fill="#961b22"/><rect x="1770.48" y="1762.74" width="12.36" height="25.24" fill="#114828"/><rect x="1770.48" y="1788.28" width="12.36" height="25.24" fill="#114828"/><rect x="1770.48" y="1813.82" width="12.36" height="25.24" fill="#114828"/><rect x="1783.29" y="1609.50" width="12.36" height="25.24" fill="#560a10"/><rect x="1783.29" y="1635.04" width="12.36" height="25.24" fill="#13703a"/><rect x="1783.29" y="1660.58" width="12.36" height="25.24" fill="#16843f"/><rect x="1783.29" y="1686.12" width="12.36" height="25.24" fill="#2c0809"/><rect x="1783.29" y="1711.66" width="12.36" height="25.24" fill="#560a10"/><rect x="1783.29" y="1737.20" width="12.36" height="25.24" fill="#123a20"/><rect x="1783.29" y="1762.74" width="12.36" height="25.24" fill="#114828"/><rect x="1783.29" y="1788.28" width="12.36" height="25.24" fill="#76141c"/><rect x="1783.29" y="1813.82" width="12.36" height="25.24" fill="#2c0809"/><rect x="1796.10" y="1609.50" width="12.36" height="25.24" fill="#c51a22"/><rect x="1796.10" y="1635.04" width="12.36" height="25.24" fill="#123a20"/><rect x="1796.10" y="1660.58" width="12.36" height="25.24" fill="#125c34"/><rect x="1796.10" y="1686.12" width="12.36" height="25.24" fill="#0c2511"/><rect x="1796.10" y="1711.66" width="12.36" height="25.24" fill="#76141c"/><rect x="1796.10" y="1737.20" width="12.36" height="25.24" fill="#123a20"/><rect x="1796.10" y="1762.74" width="12.36" height="25.24" fill="#125c34"/><rect x="1796.10" y="1788.28" width="12.36" height="25.24" fill="#560a10"/><rect x="1796.10" y="1813.82" width="12.36" height="25.24" fill="#114828"/><rect x="1808.90" y="1609.50" width="12.36" height="25.24" fill="#c51a22"/><rect x="1808.90" y="1635.04" width="12.36" height="25.24" fill="#13703a"/><rect x="1808.90" y="1660.58" width="12.36" height="25.24" fill="#114828"/><rect x="1808.90" y="1686.12" width="12.36" height="25.24" fill="#560a10"/><rect x="1808.90" y="1711.66" width="12.36" height="25.24" fill="#0a0505"/><rect x="1808.90" y="1737.20" width="12.36" height="25.24" fill="#2c0809"/><rect x="1808.90" y="1762.74" width="12.36" height="25.24" fill="#13703a"/><rect x="1808.90" y="1788.28" width="12.36" height="25.24" fill="#0a0505"/><rect x="1808.90" y="1813.82" width="12.36" height="25.24" fill="#0c2511"/><rect x="1821.70" y="1609.50" width="12.36" height="25.24" fill="#c51a22"/><rect x="1821.70" y="1635.04" width="12.36" height="25.24" fill="#0a0505"/><rect x="1821.70" y="1660.58" width="12.36" height="25.24" fill="#0a0505"/><rect x="1821.70" y="1686.12" width="12.36" height="25.24" fill="#2c0809"/><rect x="1821.70" y="1711.66" width="12.36" height="25.24" fill="#560a10"/><rect x="1821.70" y="1737.20" width="12.36" height="25.24" fill="#560a10"/><rect x="1821.70" y="1762.74" width="12.36" height="25.24" fill="#13703a"/><rect x="1821.70" y="1788.28" width="12.36" height="25.24" fill="#13703a"/><rect x="1821.70" y="1813.82" width="12.36" height="25.24" fill="#13703a"/><rect x="1834.51" y="1609.50" width="12.36" height="25.24" fill="#e4161a"/><rect x="1834.51" y="1635.04" width="12.36" height="25.24" fill="#0c2511"/><rect x="1834.51" y="1660.58" width="12.36" height="25.24" fill="#0c2511"/><rect x="1834.51" y="1686.12" width="12.36" height="25.24" fill="#123a20"/><rect x="1834.51" y="1711.66" width="12.36" height="25.24" fill="#2c0809"/><rect x="1834.51" y="1737.20" width="12.36" height="25.24" fill="#0a0505"/><rect x="1834.51" y="1762.74" width="12.36" height="25.24" fill="#125c34"/><rect x="1834.51" y="1788.28" width="12.36" height="25.24" fill="#123a20"/><rect x="1834.51" y="1813.82" width="12.36" height="25.24" fill="#0c2511"/><rect x="1847.32" y="1609.50" width="12.36" height="25.24" fill="#76141c"/><rect x="1847.32" y="1635.04" width="12.36" height="25.24" fill="#2c0809"/><rect x="1847.32" y="1660.58" width="12.36" height="25.24" fill="#0c2511"/><rect x="1847.32" y="1686.12" width="12.36" height="25.24" fill="#0a0505"/><rect x="1847.32" y="1711.66" width="12.36" height="25.24" fill="#961b22"/><rect x="1847.32" y="1737.20" width="12.36" height="25.24" fill="#0a0505"/><rect x="1847.32" y="1762.74" width="12.36" height="25.24" fill="#2ab53c"/><rect x="1847.32" y="1788.28" width="12.36" height="25.24" fill="#123a20"/><rect x="1847.32" y="1813.82" width="12.36" height="25.24" fill="#114828"/><rect x="1860.12" y="1609.50" width="12.36" height="25.24" fill="#76141c"/><rect x="1860.12" y="1635.04" width="12.36" height="25.24" fill="#0a0505"/><rect x="1860.12" y="1660.58" width="12.36" height="25.24" fill="#2c0809"/><rect x="1860.12" y="1686.12" width="12.36" height="25.24" fill="#560a10"/><rect x="1860.12" y="1711.66" width="12.36" height="25.24" fill="#76141c"/><rect x="1860.12" y="1737.20" width="12.36" height="25.24" fill="#2c0809"/><rect x="1860.12" y="1762.74" width="12.36" height="25.24" fill="#27983f"/><rect x="1860.12" y="1788.28" width="12.36" height="25.24" fill="#0a0505"/><rect x="1860.12" y="1813.82" width="12.36" height="25.24" fill="#27983f"/><rect x="1872.92" y="1609.50" width="12.36" height="25.24" fill="#76141c"/><rect x="1872.92" y="1635.04" width="12.36" height="25.24" fill="#114828"/><rect x="1872.92" y="1660.58" width="12.36" height="25.24" fill="#2c0809"/><rect x="1872.92" y="1686.12" width="12.36" height="25.24" fill="#961b22"/><rect x="1872.92" y="1711.66" width="12.36" height="25.24" fill="#560a10"/><rect x="1872.92" y="1737.20" width="12.36" height="25.24" fill="#0a0505"/><rect x="1872.92" y="1762.74" width="12.36" height="25.24" fill="#16843f"/><rect x="1872.92" y="1788.28" width="12.36" height="25.24" fill="#114828"/><rect x="1872.92" y="1813.82" width="12.36" height="25.24" fill="#114828"/>
<g font-family="'Liberation Sans', sans-serif" font-size="14.35" stroke-width="0.2"><text transform="translate(27.5,1604) rotate(-90)" stroke="#000">Biochanin A</text><text transform="translate(40.3,1604) rotate(-90)" stroke="#000">Luteolin</text><text transform="translate(53.1,1604) rotate(-90)" stroke="#000">2'−Hydroxygenistein</text><text transform="translate(65.9,1604) rotate(-90)" stroke="#000">Apigenin C−glucoside</text><text transform="translate(78.7,1604) rotate(-90)" stroke="#000">Luteolin 3',7−di−O−glucoside</text><text transform="translate(91.5,1604) rotate(-90)" stroke="#000">Acacetin</text><text transform="translate(104.3,1604) rotate(-90)" stroke="#000">Isovitexin</text><text transform="translate(117.1,1604) rotate(-90)" stroke="#000">Rhamnetin (7−O−methxyl quercetin)</text><text transform="translate(129.9,1604) rotate(-90)" stroke="#000">Delphinidin</text><text transform="translate(142.7,1604) rotate(-90)" stroke="#000">8−C−hexosyl−hesperetin O−hexoside</text><text transform="translate(155.6,1604) rotate(-90)" stroke="#000">Naringenin C−hexoside</text><text transform="translate(168.4,1604) rotate(-90)" stroke="#000">Acacetin O−acetyl hexoside</text><text transform="translate(181.2,1604) rotate(-90)" stroke="#000">Chrysoeriol O−hexosyl−O−hexoside</text><text transform="translate(194.0,1604) rotate(-90)" stroke="#000">Tricetin</text><text transform="translate(206.8,1604) rotate(-90)" stroke="#000">O−methylChrysoeriol 8−C−hexoside</text><text transform="translate(219.6,1604) rotate(-90)" stroke="#000">6−C−hexosyl−luteolin O−hexoside</text><text transform="translate(232.4,1604) rotate(-90)" stroke="#000">Tricin 7−O−hexoside</text><text transform="translate(245.2,1604) rotate(-90)" stroke="#000">Hesperetin O−malonylhexoside</text><text transform="translate(258.0,1604) rotate(-90)" stroke="#000">6−C−hexosyl−hesperetin O−hexoside</text><text transform="translate(270.8,1604) rotate(-90)" stroke="#000">Eriodictiol C−hexosyl−O−hexoside</text><text transform="translate(283.6,1604) rotate(-90)" fill="#e8461c" stroke="#e8461c" stroke-width="0.15" font-weight="bold" font-style="italic">Delphinidin 3−O−glucoside (Mirtillin)</text><text transform="translate(296.4,1604) rotate(-90)" fill="#f0c21a" stroke="#f0c21a" stroke-width="0.15" font-weight="bold" font-style="italic">Luteolin O−hexosyl−O−hexosyl−O−hexoside</text><text transform="translate(309.2,1604) rotate(-90)" stroke="#000">Nobiletin</text><text transform="translate(322.0,1604) rotate(-90)" stroke="#000">Tangeretin</text><text transform="translate(334.8,1604) rotate(-90)" stroke="#000">Epigallate catechin gallate (EGCG)</text><text transform="translate(347.6,1604) rotate(-90)" fill="#f0c21a" stroke="#f0c21a" stroke-width="0.15" font-weight="bold" font-style="italic">Tricin O−saccharic acid</text><text transform="translate(360.4,1604) rotate(-90)" stroke="#000">Tricin 5−O−hexoside</text><text transform="translate(373.2,1604) rotate(-90)" stroke="#000">Kaempferol 3−O−galactoside (Trifolin)</text><text transform="translate(386.0,1604) rotate(-90)" stroke="#000">Kaempferol 3−O−glucoside (Astragalin)</text><text transform="translate(398.8,1604) rotate(-90)" fill="#f0c21a" stroke="#f0c21a" stroke-width="0.15" font-weight="bold" font-style="italic">Luteolin 7−O−glucoside</text><text transform="translate(411.7,1604) rotate(-90)" stroke="#000">Chrysin</text><text transform="translate(424.5,1604) rotate(-90)" stroke="#000">Chrysin 5−O−glucoside (Toringin)</text><text transform="translate(437.3,1604) rotate(-90)" stroke="#000">Dihydroquercetin (Taxifolin)</text><text transform="translate(450.1,1604) rotate(-90)" stroke="#000">Aromadedrin (Dihydrokaempferol)</text><text transform="translate(462.9,1604) rotate(-90)" stroke="#000">6−Hydroxydaidzein</text><text transform="translate(475.7,1604) rotate(-90)" stroke="#000">Tricin 4'−O−(syringyl alcohol) ether 5−O−hexoside</text><text transform="translate(488.5,1604) rotate(-90)" stroke="#000">Icariin (kaempferol 3,7−O−diglucoside 8−prenyl derivative)</text><text transform="translate(501.3,1604) rotate(-90)" stroke="#000">Butein</text><text transform="translate(514.1,1604) rotate(-90)" stroke="#000">Protocatechuic aldehyde</text><text transform="translate(526.9,1604) rotate(-90)" stroke="#000">Selgin 5−O−hexoside</text><text transform="translate(539.7,1604) rotate(-90)" stroke="#000">sakuranetin</text><text transform="translate(552.5,1604) rotate(-90)" fill="#2e8bd6" stroke="#2e8bd6" stroke-width="0.15" font-weight="bold" font-style="italic">Di−O−methylquercetin</text><text transform="translate(565.3,1604) rotate(-90)" stroke="#000">Cyanidin O−acetylhexoside</text><text transform="translate(578.1,1604) rotate(-90)" stroke="#000">Quercetin 7−O−malonylhexosyl−hexoside</text><text transform="translate(590.9,1604) rotate(-90)" stroke="#000">Apigenin</text><text transform="translate(603.7,1604) rotate(-90)" stroke="#000">Daidzein</text><text transform="translate(616.5,1604) rotate(-90)" stroke="#000">7,4'−Dihydroxyflavone</text><text transform="translate(629.3,1604) rotate(-90)" stroke="#000">Apigenin 7−O−glucoside (Cosmosiin)</text><text transform="translate(642.1,1604) rotate(-90)" stroke="#000">Genistein 7−O−Glucoside (Genistin)</text><text transform="translate(654.9,1604) rotate(-90)" stroke="#000">O−methylChrysoeriol 7−O−hexoside</text><text transform="translate(667.8,1604) rotate(-90)" stroke="#000">methylQuercetin O−hexoside</text><text transform="translate(680.6,1604) rotate(-90)" stroke="#000">Isorhamnetin 5−O−hexoside</text><text transform="translate(693.4,1604) rotate(-90)" stroke="#000">Isorhamnetin O−hexoside</text><text transform="translate(706.2,1604) rotate(-90)" fill="#e8461c" stroke="#e8461c" stroke-width="0.15" font-weight="bold" font-style="italic">Pelargonidin 3−O−beta−D−glucoside (Callistephin chloride)</text><text transform="translate(719.0,1604) rotate(-90)" stroke="#000">Chrysin O−malonylhexoside</text><text transform="translate(731.8,1604) rotate(-90)" stroke="#000">Apigenin O−malonylhexoside</text><text transform="translate(744.6,1604) rotate(-90)" fill="#2e8bd6" stroke="#2e8bd6" stroke-width="0.15" font-weight="bold" font-style="italic">Quercetin O−acetylhexoside</text><text transform="translate(757.4,1604) rotate(-90)" fill="#f0c21a" stroke="#f0c21a" stroke-width="0.15" font-weight="bold" font-style="italic">Chrysoeriol O−acetylhexoside</text><text transform="translate(770.2,1604) rotate(-90)" fill="#2e8bd6" stroke="#2e8bd6" stroke-width="0.15" font-weight="bold" font-style="italic">Quercetin 5−O−malonylhexosyl−hexoside</text><text transform="translate(783.0,1604) rotate(-90)" stroke="#000">2'−Hydroxydaidzein</text><text transform="translate(795.8,1604) rotate(-90)" stroke="#000">Selgin O−malonylhexoside</text><text transform="translate(808.6,1604) rotate(-90)" stroke="#000">Isorhamnetin O−acetyl−hexoside</text><text transform="translate(821.4,1604) rotate(-90)" stroke="#000">Formononetin 7−O−glucoside (Ononin)</text><text transform="translate(834.2,1604) rotate(-90)" stroke="#000">Hesperetin O−hexosyl−O−hexoside</text><text transform="translate(847.0,1604) rotate(-90)" stroke="#000">Xanthohumol</text><text transform="translate(859.8,1604) rotate(-90)" stroke="#000">Procyanidin B2</text><text transform="translate(872.6,1604) rotate(-90)" stroke="#000">Catechin</text><text transform="translate(885.4,1604) rotate(-90)" stroke="#000">Naringenin O−malonylhexoside</text><text transform="translate(898.2,1604) rotate(-90)" stroke="#000">Dihydromyricetin</text><text transform="translate(911.0,1604) rotate(-90)" stroke="#000">Delphinidin O−malonyl−malonylhexoside</text><text transform="translate(923.9,1604) rotate(-90)" stroke="#000">Limocitrin O−hexoside</text><text transform="translate(936.7,1604) rotate(-90)" stroke="#000">Syringetin 3−O−hexoside</text><text transform="translate(949.5,1604) rotate(-90)" stroke="#000">Fustin</text><text transform="translate(962.3,1604) rotate(-90)" stroke="#000">Protocatechuic acid O−glucoside</text><text transform="translate(975.1,1604) rotate(-90)" stroke="#000">Acetyl−eriodictyol O−hexoside</text><text transform="translate(987.9,1604) rotate(-90)" stroke="#000">Chrysoeriol 7−O−rutinoside</text><text transform="translate(1000.7,1604) rotate(-90)" stroke="#000">Syringetin 5−O−hexoside</text><text transform="translate(1013.5,1604) rotate(-90)" stroke="#000">Malvidin 3−O−galactoside</text><text transform="translate(1026.3,1604) rotate(-90)" stroke="#000">Malvidin 3−O−glucoside (Oenin)</text><text transform="translate(1039.1,1604) rotate(-90)" stroke="#000">Epicatechin gallate (ECG)</text><text transform="translate(1051.9,1604) rotate(-90)" stroke="#000">C−hexosyl−apigenin O−caffeoylhexoside</text><text transform="translate(1064.7,1604) rotate(-90)" stroke="#000">C−hexosyl−luteolin O−p−coumaroylhexoside</text><text transform="translate(1077.5,1604) rotate(-90)" stroke="#000">Chrysoeriol 5−O−hexoside</text><text transform="translate(1090.3,1604) rotate(-90)" stroke="#000">Chrysoeriol 7−O−hexoside</text><text transform="translate(1103.1,1604) rotate(-90)" fill="#2e8bd6" stroke="#2e8bd6" stroke-width="0.15" font-weight="bold" font-style="italic">Quercetin 3−O−glucoside (Isotrifoliin)</text><text transform="translate(1115.9,1604) rotate(-90)" stroke="#000">Hesperetin 5−O−glucoside</text><text transform="translate(1128.7,1604) rotate(-90)" stroke="#000">L−Epicatechin</text><text transform="translate(1141.5,1604) rotate(-90)" fill="#2e8bd6" stroke="#2e8bd6" stroke-width="0.15" font-weight="bold" font-style="italic">Kaempferol 3−O−robinobioside (Biorobin)</text><text transform="translate(1154.3,1604) rotate(-90)" stroke="#000">Luteolin 8−C−hexosyl−O−hexoside</text><text transform="translate(1167.1,1604) rotate(-90)" stroke="#000">Tricin 5−O−rutinoside</text><text transform="translate(1180.0,1604) rotate(-90)" stroke="#000">8−C−hexosyl−apigenin O−hexosyl−O−hexoside</text><text transform="translate(1192.8,1604) rotate(-90)" stroke="#000">Kaempferol−3−O−robinoside−7−O−rhamnoside (Robinin)</text><text transform="translate(1205.6,1604) rotate(-90)" stroke="#000">Hesperetin</text><text transform="translate(1218.4,1604) rotate(-90)" stroke="#000">Procyanidin A2</text><text transform="translate(1231.2,1604) rotate(-90)" stroke="#000">Kaempferol 3,7−dirhamnoside (Kaempferitrin)</text><text transform="translate(1244.0,1604) rotate(-90)" stroke="#000">Procyanidin B3</text><text transform="translate(1256.8,1604) rotate(-90)" stroke="#000">Eriodictiol 6−C−hexoside 8−C−hexoside−O−hexoside</text><text transform="translate(1269.6,1604) rotate(-90)" fill="#2e8bd6" stroke="#2e8bd6" stroke-width="0.15" font-weight="bold" font-style="italic">Quercetin 4'−O−glucoside (Spiraeoside)</text><text transform="translate(1282.4,1604) rotate(-90)" fill="#e8461c" stroke="#e8461c" stroke-width="0.15" font-weight="bold" font-style="italic">Cyanidin 3−O−rutinoside (Keracyanin)</text><text transform="translate(1295.2,1604) rotate(-90)" fill="#2e8bd6" stroke="#2e8bd6" stroke-width="0.15" font-weight="bold" font-style="italic">Quercetin 7−O−rutinoside</text><text transform="translate(1308.0,1604) rotate(-90)" stroke="#000">Tricin 7−O−hexosyl−O−hexoside</text><text transform="translate(1320.8,1604) rotate(-90)" stroke="#000">Isorhamnetin 3−O−neohesperidoside</text><text transform="translate(1333.6,1604) rotate(-90)" fill="#2e8bd6" stroke="#2e8bd6" stroke-width="0.15" font-weight="bold" font-style="italic">Quercetin 3−O−rutinoside (Rutin)</text><text transform="translate(1346.4,1604) rotate(-90)" stroke="#000">Epigallocatechin (EGC)</text><text transform="translate(1359.2,1604) rotate(-90)" stroke="#000">Myricetin 3−O−galactoside</text><text transform="translate(1372.0,1604) rotate(-90)" stroke="#000">Pelargonin</text><text transform="translate(1384.8,1604) rotate(-90)" stroke="#000">Chrysoeriol</text><text transform="translate(1397.6,1604) rotate(-90)" stroke="#000">O−methylnaringenin C−pentoside</text><text transform="translate(1410.4,1604) rotate(-90)" stroke="#000">Gallocatechin−gallocatechin</text><text transform="translate(1423.2,1604) rotate(-90)" fill="#e8461c" stroke="#e8461c" stroke-width="0.15" font-weight="bold" font-style="italic">Cyanidin O−syringic acid</text><text transform="translate(1436.1,1604) rotate(-90)" stroke="#000">(+)−Gallocatechin (GC)</text><text transform="translate(1448.9,1604) rotate(-90)" stroke="#000">Morin</text><text transform="translate(1461.7,1604) rotate(-90)" stroke="#000">Eriodictyol C−hexoside</text><text transform="translate(1474.5,1604) rotate(-90)" stroke="#000">Baicalein−7−O−glucuronide (Baicalin)</text><text transform="translate(1487.3,1604) rotate(-90)" stroke="#000">Eriodictyol O−malonylhexoside</text><text transform="translate(1500.1,1604) rotate(-90)" stroke="#000">8−C−hexosyl−luteolin O−pentoside</text><text transform="translate(1512.9,1604) rotate(-90)" stroke="#000">Homoeriodictyol</text><text transform="translate(1525.7,1604) rotate(-90)" stroke="#000">Luteolin 7−O−glucoside (Cynaroside)</text><text transform="translate(1538.5,1604) rotate(-90)" stroke="#000">Liquiritigenin</text><text transform="translate(1551.3,1604) rotate(-90)" stroke="#000">Eriodictyol</text><text transform="translate(1564.1,1604) rotate(-90)" stroke="#000">Orobol (5,7,3',4'−tetrahydroxyisoflavone)</text><text transform="translate(1576.9,1604) rotate(-90)" stroke="#000">Isoliquiritigenin</text><text transform="translate(1589.7,1604) rotate(-90)" stroke="#000">Naringenin chalcone</text><text transform="translate(1602.5,1604) rotate(-90)" stroke="#000">Butin</text><text transform="translate(1615.3,1604) rotate(-90)" stroke="#000">Naringenin</text><text transform="translate(1628.1,1604) rotate(-90)" stroke="#000">Syringetin 7−O−hexoside</text><text transform="translate(1640.9,1604) rotate(-90)" stroke="#000">Hesperetin 7−rutinoside (Hesperidin)</text><text transform="translate(1653.7,1604) rotate(-90)" stroke="#000">Gallocatechin−catechin</text><text transform="translate(1666.5,1604) rotate(-90)" fill="#2e8bd6" stroke="#2e8bd6" stroke-width="0.15" font-weight="bold" font-style="italic">Kaempferol 3−O−rutinoside (Nicotiflorin)</text><text transform="translate(1679.3,1604) rotate(-90)" stroke="#000">Tricin O−sinapic acid</text><text transform="translate(1692.2,1604) rotate(-90)" fill="#e8461c" stroke="#e8461c" stroke-width="0.15" font-weight="bold" font-style="italic">Peonidin O−hexoside</text><text transform="translate(1705.0,1604) rotate(-90)" stroke="#000">Hesperetin 7−O−neohesperidoside (Neohesperidin)</text><text transform="translate(1717.8,1604) rotate(-90)" stroke="#000">Cyanidin 3−O−malonylhexoside</text><text transform="translate(1730.6,1604) rotate(-90)" fill="#e8461c" stroke="#e8461c" stroke-width="0.15" font-weight="bold" font-style="italic">Cyanidin 3−O−glucoside (Kuromanin)</text><text transform="translate(1743.4,1604) rotate(-90)" stroke="#000">Phloretin</text><text transform="translate(1756.2,1604) rotate(-90)" stroke="#000">Naringenin 7−O−glucoside (Prunin)</text><text transform="translate(1769.0,1604) rotate(-90)" stroke="#000">Apigenin 5−O−glucoside</text><text transform="translate(1781.8,1604) rotate(-90)" stroke="#000">Quercetin 3−alpha−L−arabinofuranoside (Avicularin)</text><text transform="translate(1794.6,1604) rotate(-90)" stroke="#000">Kaempferol</text><text transform="translate(1807.4,1604) rotate(-90)" stroke="#000">Myricetin</text><text transform="translate(1820.2,1604) rotate(-90)" stroke="#000">Quercetin</text><text transform="translate(1833.0,1604) rotate(-90)" stroke="#000">Chrysin O−hexoside</text><text transform="translate(1845.8,1604) rotate(-90)" stroke="#000">Pinocembrin (Dihydrochrysin)</text><text transform="translate(1858.6,1604) rotate(-90)" stroke="#000">Protocatechuic acid</text><text transform="translate(1871.4,1604) rotate(-90)" stroke="#000">Laricitrin</text><text transform="translate(1884.2,1604) rotate(-90)" stroke="#000">Afzelechin (3,5,7,4'−Tetrahydroxyflavan)</text></g>
<text font-family="'Liberation Sans', sans-serif" font-size="14.35" fill="#000" x="1891.0" y="1627.5" stroke="#000" stroke-width="0.2">BYW−3</text>
<text font-family="'Liberation Sans', sans-serif" font-size="14.35" fill="#000" x="1891.0" y="1653.0" stroke="#000" stroke-width="0.2">BYW−2</text>
<text font-family="'Liberation Sans', sans-serif" font-size="14.35" fill="#000" x="1891.0" y="1678.5" stroke="#000" stroke-width="0.2">BYW−1</text>
<text font-family="'Liberation Sans', sans-serif" font-size="14.35" fill="#000" x="1891.0" y="1704.1" stroke="#000" stroke-width="0.2">HG2−3</text>
<text font-family="'Liberation Sans', sans-serif" font-size="14.35" fill="#000" x="1891.0" y="1729.6" stroke="#000" stroke-width="0.2">HG2−2</text>
<text font-family="'Liberation Sans', sans-serif" font-size="14.35" fill="#000" x="1891.0" y="1755.2" stroke="#000" stroke-width="0.2">HG2−1</text>
<text font-family="'Liberation Sans', sans-serif" font-size="14.35" fill="#000" x="1891.0" y="1780.7" stroke="#000" stroke-width="0.2">CS−3</text>
<text font-family="'Liberation Sans', sans-serif" font-size="14.35" fill="#000" x="1891.0" y="1806.2" stroke="#000" stroke-width="0.2">CS−2</text>
<text font-family="'Liberation Sans', sans-serif" font-size="14.35" fill="#000" x="1891.0" y="1831.8" stroke="#000" stroke-width="0.2">CS−1</text>
<path d="M35.4,1839.4V1841.2H48.2V1839.4M73.8,1839.4V1845.2H86.6V1839.4M80.2,1845.2V1847.3H99.4V1839.4M61.0,1839.4V1851.4H89.8V1847.3M41.8,1841.2V1853.1H75.4V1851.4M22.6,1839.4V1861.0H58.6V1853.1M125.0,1839.4V1847.8H137.8V1839.4M112.2,1839.4V1856.6H131.4V1847.8M163.5,1839.4V1846.9H176.3V1839.4M189.1,1839.4V1843.4H201.9V1839.4M278.7,1839.4V1841.4H291.5V1839.4M265.9,1839.4V1842.9H285.1V1841.4M253.1,1839.4V1844.9H275.5V1842.9M240.3,1839.4V1846.4H264.3V1844.9M227.5,1839.4V1848.4H252.3V1846.4M214.7,1839.4V1851.4H239.9V1848.4M195.5,1843.4V1853.4H227.3V1851.4M169.9,1846.9V1856.4H211.4V1853.4M150.7,1839.4V1861.0H190.6V1856.4M121.8,1856.6V1870.7H170.6V1861.0M40.6,1861.0V1878.6H146.2V1870.7M304.3,1839.4V1854.9H317.1V1839.4M368.3,1839.4V1858.4H381.1V1839.4M355.5,1839.4V1861.9H374.7V1858.4M342.7,1839.4V1874.4H365.1V1861.9M329.9,1839.4V1883.0H353.9V1874.4M406.8,1839.4V1867.4H419.6V1839.4M393.9,1839.4V1889.4H413.2V1867.4M341.9,1883.0V1897.1H403.6V1889.4M310.7,1854.9V1898.9H372.7V1897.1M93.4,1878.6V1909.4H341.7V1898.9M445.2,1839.4V1857.4H458.0V1839.4M432.4,1839.4V1861.9H451.6V1857.4M483.6,1839.4V1852.2H496.4V1839.4M509.2,1839.4V1856.4H522.0V1839.4M490.0,1852.2V1870.4H515.6V1856.4M470.8,1839.4V1876.9H502.8V1870.4M442.0,1861.9V1887.4H486.8V1876.9M560.4,1839.4V1858.4H573.2V1839.4M547.6,1839.4V1868.1H566.8V1858.4M624.4,1839.4V1847.9H637.2V1839.4M611.6,1839.4V1854.9H630.8V1847.9M598.8,1839.4V1863.4H621.2V1854.9M586.0,1839.4V1876.9H610.0V1863.4M557.2,1868.1V1881.4H598.0V1876.9M534.8,1839.4V1902.4H577.6V1881.4M464.4,1887.4V1915.4H556.2V1902.4M217.6,1909.4V1920.0H510.3V1915.4M675.7,1839.4V1842.4H688.5V1839.4M662.9,1839.4V1847.9H682.1V1842.4M650.0,1839.4V1854.0H672.5V1847.9M701.3,1839.4V1857.4H714.1V1839.4M661.3,1854.0V1861.9H707.7V1857.4M726.9,1839.4V1851.4H739.7V1839.4M752.5,1839.4V1846.9H765.3V1839.4M790.9,1839.4V1842.4H803.7V1839.4M778.1,1839.4V1847.9H797.3V1842.4M758.9,1846.9V1852.4H787.7V1847.9M733.3,1851.4V1855.8H773.3V1852.4M829.3,1839.4V1856.4H842.1V1839.4M816.5,1839.4V1858.4H835.7V1856.4M753.3,1855.8V1872.4H826.1V1858.4M684.5,1861.9V1879.4H789.7V1872.4M867.7,1839.4V1854.0H880.5V1839.4M854.9,1839.4V1861.9H874.1V1854.0M919.0,1839.4V1848.7H931.8V1839.4M906.1,1839.4V1855.8H925.4V1848.7M983.0,1839.4V1847.9H995.8V1839.4M970.2,1839.4V1851.4H989.4V1847.9M957.4,1839.4V1853.4H979.8V1851.4M944.6,1839.4V1856.4H968.6V1853.4M915.8,1855.8V1861.0H956.6V1856.4M893.3,1839.4V1867.4H936.2V1861.0M864.5,1861.9V1881.4H914.8V1867.4M737.1,1879.4V1897.1H889.6V1881.4M1008.6,1839.4V1846.9H1021.4V1839.4M1047.0,1839.4V1856.4H1059.8V1839.4M1034.2,1839.4V1863.4H1053.4V1856.4M1072.6,1839.4V1845.2H1085.4V1839.4M1098.2,1839.4V1842.4H1111.0V1839.4M1136.6,1839.4V1843.4H1149.4V1839.4M1123.8,1839.4V1847.9H1143.0V1843.4M1104.6,1842.4V1850.4H1133.4V1847.9M1079.0,1845.2V1854.0H1119.0V1850.4M1162.2,1839.4V1846.1H1175.1V1839.4M1187.9,1839.4V1846.1H1200.7V1839.4M1168.7,1846.1V1856.6H1194.3V1846.1M1099.0,1854.0V1865.4H1181.5V1856.6M1226.3,1839.4V1847.9H1239.1V1839.4M1213.5,1839.4V1856.4H1232.7V1847.9M1277.5,1839.4V1844.4H1290.3V1839.4M1315.9,1839.4V1842.4H1328.7V1839.4M1303.1,1839.4V1845.4H1322.3V1842.4M1283.9,1844.4V1848.9H1312.7V1845.4M1264.7,1839.4V1852.4H1298.3V1848.9M1251.9,1839.4V1857.4H1281.5V1852.4M1223.1,1856.4V1867.4H1266.7V1857.4M1140.2,1865.4V1870.9H1244.9V1867.4M1043.8,1863.4V1877.8H1192.6V1870.9M1015.0,1846.9V1879.4H1118.2V1877.8M1341.5,1839.4V1858.4H1354.3V1839.4M1367.1,1839.4V1859.4H1379.9V1839.4M1405.5,1839.4V1843.4H1418.3V1839.4M1392.7,1839.4V1852.4H1411.9V1843.4M1431.2,1839.4V1846.9H1444.0V1839.4M1469.6,1839.4V1843.4H1482.4V1839.4M1456.8,1839.4V1849.4H1476.0V1843.4M1437.6,1846.9V1854.9H1466.4V1849.4M1402.3,1852.4V1860.2H1452.0V1854.9M1373.5,1859.4V1867.4H1427.2V1860.2M1347.9,1858.4V1874.4H1400.3V1867.4M1520.8,1839.4V1853.8H1533.6V1839.4M1546.4,1839.4V1845.4H1559.2V1839.4M1597.6,1839.4V1841.9H1610.4V1839.4M1584.8,1839.4V1844.4H1604.0V1841.9M1572.0,1839.4V1847.4H1594.4V1844.4M1552.8,1845.4V1851.4H1583.2V1847.4M1636.0,1839.4V1845.4H1648.8V1839.4M1642.4,1845.4V1847.4H1661.6V1839.4M1623.2,1839.4V1849.0H1652.0V1847.4M1674.4,1839.4V1843.4H1687.3V1839.4M1700.1,1839.4V1845.4H1712.9V1839.4M1680.8,1843.4V1848.4H1706.5V1845.4M1725.7,1839.4V1843.4H1738.5V1839.4M1693.7,1848.4V1850.4H1732.1V1843.4M1764.1,1839.4V1843.4H1776.9V1839.4M1751.3,1839.4V1847.9H1770.5V1843.4M1712.9,1850.4V1852.4H1760.9V1847.9M1637.6,1849.0V1853.8H1736.9V1852.4M1568.0,1851.4V1859.4H1687.3V1853.8M1527.2,1853.8V1866.4H1627.6V1859.4M1508.0,1839.4V1872.4H1577.4V1866.4M1495.2,1839.4V1877.4H1542.7V1872.4M1374.1,1874.4V1887.4H1518.9V1877.4M1066.6,1879.4V1890.1H1446.5V1887.4M1802.5,1839.4V1867.9H1815.3V1839.4M1789.7,1839.4V1873.8H1808.9V1867.9M1828.1,1839.4V1862.0H1840.9V1839.4M1866.5,1839.4V1860.8H1879.3V1839.4M1853.7,1839.4V1870.4H1872.9V1860.8M1834.5,1862.0V1878.4H1863.3V1870.4M1799.3,1873.8V1893.8H1848.9V1878.4M1256.6,1890.1V1905.7H1824.1V1893.8M813.4,1897.1V1921.4H1540.3V1905.7M363.9,1920.0V1923.6H1176.8V1921.4" stroke="#0a0505" stroke-width="3" fill="none" stroke-linejoin="miter"/></svg></body></html>
